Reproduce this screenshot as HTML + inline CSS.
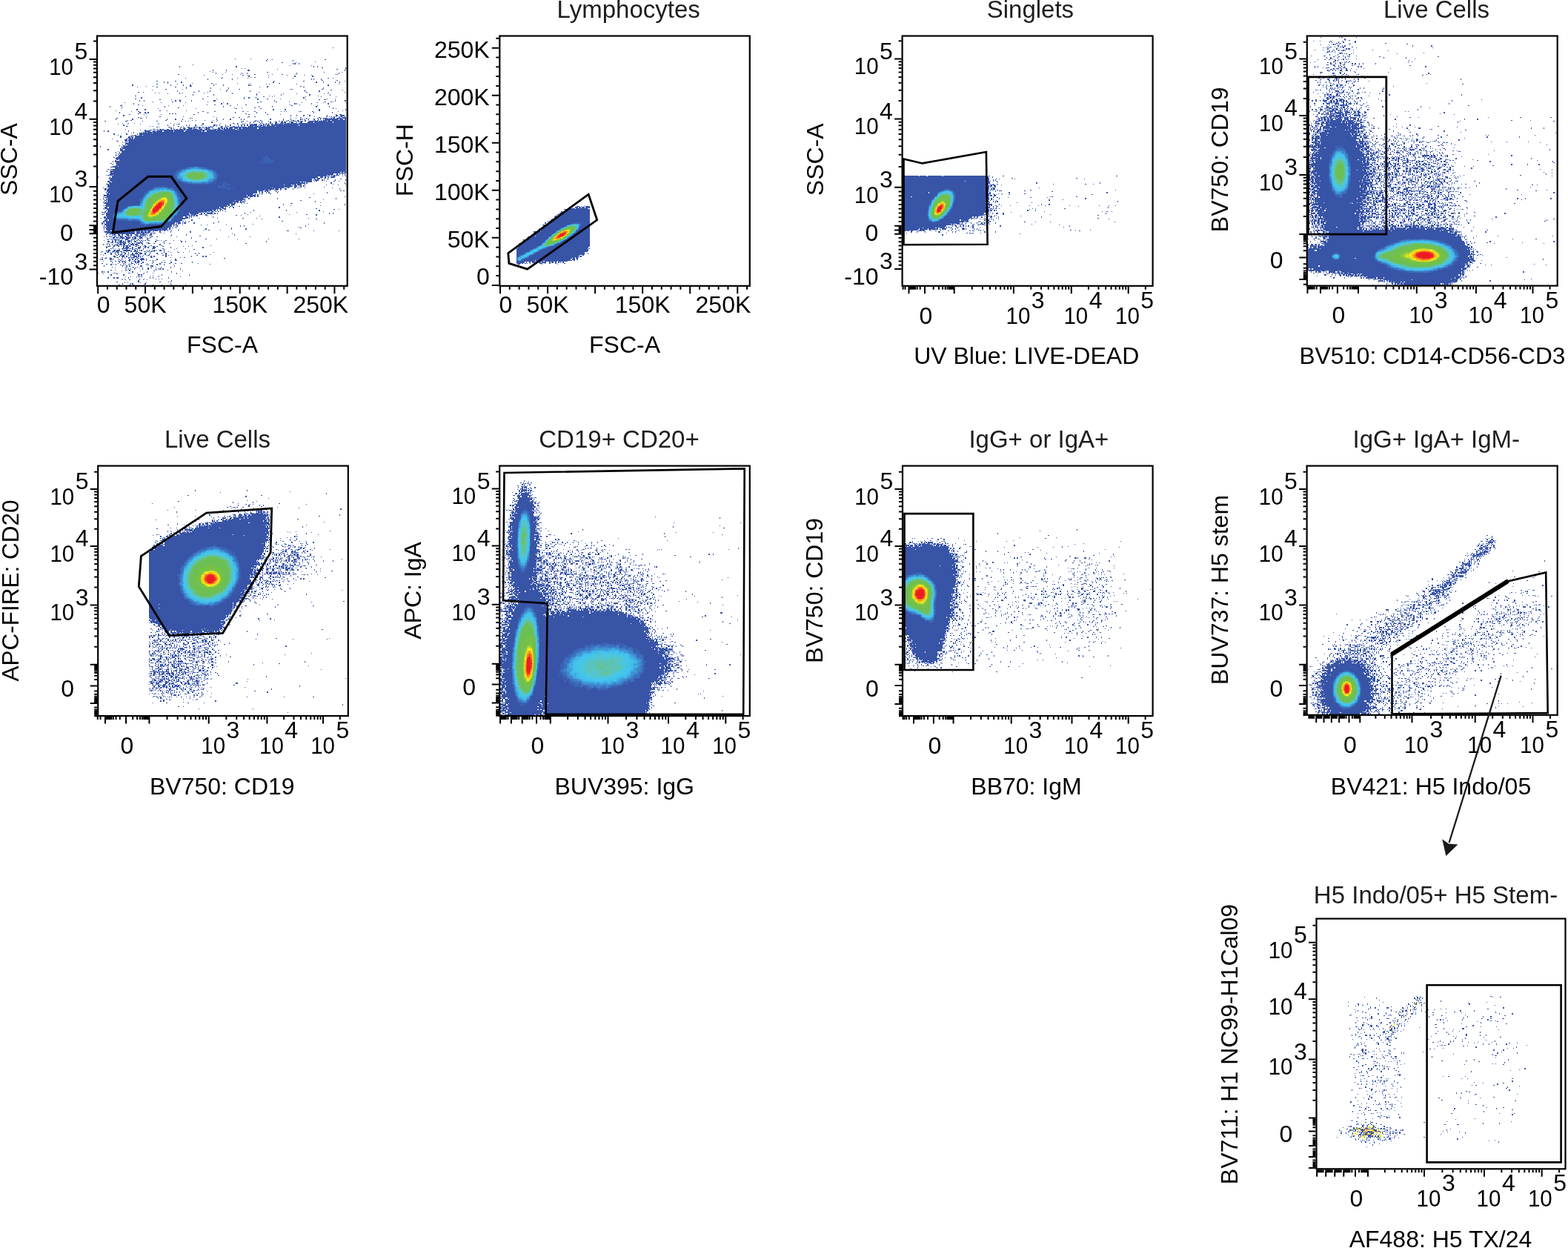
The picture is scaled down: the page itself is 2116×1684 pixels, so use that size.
<!DOCTYPE html>
<html><head><meta charset="utf-8"><title>Flow cytometry gating</title>
<style>html,body{margin:0;padding:0;background:#fff}svg{display:block}text{font-family:'Liberation Sans', Arial, Helvetica, sans-serif;font-size:32px}</style>
</head><body>
<svg xmlns="http://www.w3.org/2000/svg" width="2116" height="1684" viewBox="0 0 2116 1684">
<g transform="translate(132.1 49.6) scale(1.32)" shape-rendering="crispEdges" fill="none" stroke-width="1">
<path stroke="#3854a6" d="M240 11.5h1M140 22.5h1m15 0h1M173 23.5h1m4 0h1m53 0h1M172 24.5h1m26 0h1M222 25.5h1M188 26.5h1m13 0h1M199 27.5h1m1 0h1m3 0h1M97 28.5h1M196 29.5h1m21 0h1M83 30.5h1m57 0h1m78 0h1m3 0h1M229 31.5h1m23 0h1M147 32.5h1m2 0h1m102 0h1M183 33.5h1m60 0h1m8 0h1M117 34.5h1m13 0h1m21 0h2m97 0h1M114 35.5h1M117 36.5h1m12 0h1m42 0h1m57 0h1m17 0h1M120 37.5h1m26 0h1m4 0h1m50 0h1m42 0h1M82 38.5h1m44 0h1m9 0h1m7 0h1m14 0h1m17 0h1m9 0h1m13 0h1m39 0h1m1 0h1M108 39.5h1m39 0h1m4 0h1m20 0h1m18 0h1m17 0h1m6 0h1M154 40.5h1m46 0h1m17 0h1M127 41.5h1m28 0h1m3 0h1m13 0h1M89 42.5h1m36 0h1m15 0h1m10 0h1m45 0h1m35 0h1m4 0h1M112 43.5h1m24 0h1m80 0h1m1 0h1m7 0h1M229 44.5h1m14 0h1M60 45.5h1m18 0h1m100 0h1m29 0h1m41 0h1M67 46.5h1m3 0h1m13 0h1m93 0h1m43 0h1m6 0h1m11 0h1m4 0h1M71 47.5h1m24 0h1m19 0h1m25 0h1m12 0h1m29 0h1M60 48.5h1m20 0h1m38 0h1m51 0h1m2 0h1m27 0h1m42 0h1M35 49.5h1m38 0h1m12 0h1m6 0h1m23 0h1m9 0h1m25 0h1m1 0h1m78 0h1M49 50.5h1m6 0h1m37 0h2m77 0h1m33 0h1M40 51.5h1m19 0h1m18 0h1m10 0h1m74 0h1m7 0h1m36 0h1M90 52.5h1m24 0h1m17 0h1m96 0h1M69 53.5h1m16 0h1m38 0h1m18 0h1m51 0h1m1 0h1m30 0h1M55 54.5h1m76 0h1m78 0h1m26 0h1m11 0h1M81 55.5h1m21 0h1m10 0h1m16 0h1m23 0h1m55 0h1m14 0h1M41 56.5h1m4 0h1m51 0h1m13 0h1m51 0h1m48 0h1m38 0h1M58 57.5h1m3 0h1m20 0h1m2 0h1m21 0h1m28 0h1m97 0h1M71 58.5h1m11 0h1m53 0h1m24 0h1m26 0h1m13 0h1m27 0h1M97 59.5h1m20 0h1m43 0h1m24 0h1m28 0h1m20 0h1M38 60.5h1m136 0h1m4 0h1m44 0h1M89 61.5h1m22 0h1m56 0h1m8 0h1m33 0h1m15 0h1m14 0h1M44 62.5h1m104 0h1m4 0h1m6 0h1m48 0h1M38 63.5h1m68 0h1m13 0h1m27 0h1m13 0h1m9 0h1m12 0h1m47 0h1m7 0h1M63 64.5h1m11 0h1m7 0h1m79 0h1m48 0h1m13 0h1m4 0h2M42 65.5h1m4 0h1m31 0h1m3 0h2m10 0h1m22 0h2m60 0h1m61 0h1m9 0h2M56 66.5h1m19 0h1m7 0h1m27 0h1m53 0h1m15 0h1m12 0h1m36 0h1m5 0h1m1 0h1M27 67.5h1m36 0h1m24 0h1m38 0h1m34 0h1m44 0h1m15 0h1m5 0h1M36 68.5h1m89 0h1m5 0h1m68 0h1m1 0h1m14 0h1m16 0h1M24 69.5h1m16 0h1m69 0h1m7 0h1m22 0h1m8 0h1m44 0h1m9 0h1M23 70.5h1m21 0h1m26 0h1m14 0h1m47 0h1m62 0h1m25 0h1M12 71.5h1m11 0h1m43 0h1m59 0h1m35 0h1m13 0h1m44 0h1m12 0h1M82 72.5h1m56 0h1m7 0h1m12 0h1m79 0h1M24 73.5h1m36 0h1m38 0h1m40 0h1m24 0h1m73 0h1m2 0h1M39 74.5h2m7 0h1m130 0h1m11 0h1m34 0h1m26 0h1M18 75.5h1m44 0h1m6 0h1m19 0h1m135 0h1m23 0h1M34 76.5h1m6 0h1m65 0h1m11 0h1m28 0h1m4 0h1m6 0h1m26 0h1m2 0h1m1 0h1m12 0h1m1 0h1m11 0h1m25 0h1M22 77.5h1m19 0h2m4 0h1m2 0h1m50 0h1m9 0h1m27 0h1m21 0h1m8 0h1m48 0h1m18 0h1M41 78.5h1m7 0h1m23 0h1m2 0h1m2 0h1m71 0h1M32 79.5h1m14 0h1m16 0h1m33 0h1m55 0h1m18 0h1m12 0h1m27 0h1m28 0h1m3 0h2M26 80.5h1m170 0h1m5 0h1m6 0h1m5 0h1m17 0h1m8 0h2m3 0h4M49 81.5h1m13 0h1m23 0h1m30 0h1m35 0h1m5 0h1m60 0h1m11 0h2m1 0h1m1 0h1m2 0h1m1 0h1m2 0h1m1 0h2m2 0h1M41 82.5h1m79 0h1m16 0h1m5 0h1m8 0h1m43 0h1m9 0h1m18 0h1m12 0h1m1 0h1m4 0h2m1 0h5M19 83.5h1m23 0h2m4 0h1m44 0h1m1 0h1m105 0h1m10 0h1m10 0h2m1 0h2m1 0h5m1 0h1m1 0h1m1 0h2m2 0h5m1 0h4M18 84.5h1m16 0h1m34 0h1m8 0h1m6 0h1m34 0h1m6 0h1m6 0h1m10 0h1m2 0h1m26 0h1m12 0h1m7 0h1m9 0h1m1 0h1m1 0h1m3 0h1m4 0h2m3 0h1m1 0h1m2 0h1m1 0h14m1 0h4m1 0h2M30 85.5h1m2 0h2m34 0h1m26 0h1m3 0h1m8 0h1m7 0h1m4 0h1m38 0h1m4 0h1m22 0h1m4 0h1m3 0h3m3 0h1m6 0h2m2 0h1m4 0h1m1 0h1m1 0h2m2 0h1m1 0h8m1 0h15M7 86.5h1m20 0h2m15 0h1m14 0h1m24 0h1m3 0h1m2 0h1m28 0h1m24 0h1m1 0h1m3 0h1m7 0h2m1 0h1m3 0h1m6 0h1m10 0h1m2 0h1m3 0h2m2 0h1m3 0h3m1 0h2m1 0h3m1 0h2m3 0h9m1 0h8m1 0h19M116 87.5h1m30 0h1m7 0h1m3 0h1m5 0h1m1 0h1m8 0h1m4 0h2m4 0h2m1 0h2m3 0h1m1 0h3m3 0h1m1 0h1m1 0h2m5 0h6m1 0h19m1 0h13M25 88.5h1m5 0h1m5 0h1m23 0h1m12 0h1m3 0h1m28 0h1m17 0h1m12 0h1m3 0h2m6 0h1m4 0h1m10 0h1m1 0h1m3 0h1m1 0h1m1 0h1m1 0h1m2 0h2m1 0h1m1 0h4m1 0h1m1 0h3m1 0h7m1 0h49M20 89.5h1m9 0h1m12 0h1m18 0h1m17 0h1m1 0h2m23 0h1m31 0h1m2 0h1m5 0h1m3 0h1m2 0h1m1 0h1m1 0h4m2 0h1m3 0h1m1 0h2m1 0h1m2 0h2m2 0h3m1 0h4m1 0h64M26 90.5h1m44 0h1m5 0h1m12 0h1m2 0h1m5 0h2m5 0h1m11 0h2m1 0h1m2 0h1m5 0h1m4 0h1m7 0h1m2 0h2m1 0h2m1 0h2m1 0h8m1 0h1m1 0h2m1 0h1m1 0h1m1 0h3m1 0h28m1 0h48M29 91.5h2m22 0h1m2 0h1m25 0h1m4 0h1m12 0h1m14 0h1m1 0h2m2 0h1m4 0h2m2 0h1m1 0h2m4 0h2m3 0h1m3 0h1m1 0h1m4 0h5m1 0h4m1 0h2m1 0h4m1 0h8m1 0h72M60 92.5h1m1 0h1m9 0h2m11 0h1m5 0h3m4 0h2m1 0h1m1 0h2m2 0h1m2 0h1m2 0h4m8 0h2m3 0h2m3 0h17m1 0h101M74 93.5h2m1 0h1m6 0h1m2 0h2m3 0h5m1 0h1m1 0h1m2 0h2m1 0h1m1 0h1m1 0h4m3 0h1m5 0h2m1 0h2m1 0h1m1 0h2m1 0h4m1 0h4m1 0h3m1 0h15m1 0h90M28 94.5h1m27 0h3m1 0h1m2 0h2m1 0h1m3 0h3m2 0h1m2 0h1m1 0h2m1 0h4m1 0h8m1 0h5m2 0h3m3 0h2m1 0h2m2 0h1m1 0h7m1 0h13m2 0h112M43 95.5h1m4 0h1m4 0h2m6 0h1m1 0h26m2 0h30m1 0h6m1 0h14m1 0h110M6 96.5h1m3 0h1m20 0h1m16 0h6m2 0h3m1 0h6m1 0h10m1 0h10m1 0h17m1 0h2m2 0h143M36 97.5h1m8 0h2m1 0h2m1 0h203M34 98.5h1m1 0h1m5 0h3m1 0h9m1 0h198M16 99.5h1m12 0h1m10 0h1m1 0h212M20 100.5h1m14 0h1m1 0h2m3 0h3m1 0h208M23 101.5h1m9 0h2m1 0h1m1 0h216M23 102.5h1m7 0h2m1 0h2m2 0h216M30 103.5h4m1 0h1m1 0h217M14 104.5h1m14 0h1m2 0h4m1 0h217M27 105.5h3m1 0h223M19 106.5h2m7 0h2m1 0h223M25 107.5h1m2 0h1m1 0h1m1 0h222M27 108.5h1m1 0h1m1 0h223M28 109.5h226M25 110.5h1m2 0h1m1 0h224M22 111.5h1m3 0h2m1 0h225M2 112.5h1m21 0h1m1 0h228M24 113.5h230M23 114.5h1m1 0h229M10 115.5h1m12 0h3m1 0h227M23 116.5h231M20 117.5h1m3 0h230M18 118.5h1m3 0h1m1 0h230M20 119.5h1m1 0h232M18 120.5h1m1 0h1m2 0h231M18 121.5h1m2 0h233M20 122.5h234M16 123.5h1m2 0h235M18 124.5h236M19 125.5h2m1 0h232M17 126.5h2m3 0h232M15 127.5h1m1 0h237M19 128.5h235M13 129.5h1m4 0h236M15 130.5h1m3 0h235M18 131.5h236M15 132.5h5m1 0h233M13 133.5h241M17 134.5h237M10 135.5h1m2 0h241M12 136.5h1m2 0h239M9 137.5h1m3 0h241M12 138.5h3m1 0h232m1 0h2m1 0h2M13 139.5h241M12 140.5h229m3 0h1m2 0h1m2 0h1m1 0h1M8 141.5h1m1 0h5m1 0h218m1 0h2m1 0h2m1 0h1m1 0h4m5 0h1M14 142.5h221m1 0h1m3 0h3m7 0h1m2 0h1M0 143.5h1m11 0h1m1 0h211m2 0h3m2 0h1m2 0h1m2 0h4M11 144.5h212m1 0h3m1 0h1m2 0h2M11 145.5h1m1 0h206m2 0h2m1 0h3m7 0h2m12 0h1M12 146.5h207m1 0h1m1 0h4m3 0h1m1 0h1m10 0h1m10 0h1M10 147.5h2m1 0h206m2 0h1m1 0h1m9 0h1m7 0h1m4 0h1M10 148.5h3m1 0h193m1 0h2m1 0h1m1 0h6M11 149.5h201m1 0h1m24 0h1m13 0h1M8 150.5h3m1 0h191m1 0h4m3 0h1m28 0h1m12 0h1M10 151.5h180m1 0h7m1 0h1m1 0h2m1 0h4m3 0h1m21 0h1m11 0h1M10 152.5h189m2 0h3m1 0h1m1 0h1m2 0h1M10 153.5h180m1 0h6m4 0h2m4 0h1m23 0h1M5 154.5h1m5 0h167m1 0h12m3 0h1m6 0h1m2 0h1m1 0h1m4 0h1m27 0h1M7 155.5h2m1 0h170m1 0h4m1 0h2m3 0h2m6 0h1m47 0h1M7 156.5h1m1 0h161m1 0h3m2 0h1m3 0h1m1 0h2m2 0h1M9 157.5h154m1 0h5m1 0h6m5 0h1m66 0h1m2 0h1M9 158.5h154m1 0h2m1 0h2m1 0h2m1 0h1m8 0h1m1 0h1M8 159.5h1m1 0h153m2 0h1m1 0h2m3 0h1m1 0h2m7 0h1m50 0h1M9 160.5h2m1 0h147m6 0h1m1 0h1m8 0h1m43 0h1M6 161.5h1m2 0h149m2 0h2m1 0h1m3 0h1M6 162.5h146m1 0h8m2 0h1M5 163.5h1m3 0h145m1 0h3m2 0h1m2 0h1m88 0h1M7 164.5h147m1 0h1m60 0h1M5 165.5h1m2 0h1m1 0h139m1 0h1m3 0h1m28 0h1m59 0h1M2 166.5h1m3 0h1m1 0h143m79 0h1M7 167.5h2m1 0h130m1 0h7m2 0h1m56 0h1M6 168.5h1m1 0h1m1 0h134m1 0h2m1 0h1m1 0h1m71 0h1M5 169.5h1m1 0h131m1 0h2m1 0h2m1 0h3m1 0h1m77 0h1M6 170.5h135m6 0h1m1 0h1m2 0h1m44 0h2M8 171.5h127m1 0h4m49 0h1m62 0h1M5 172.5h1m1 0h125m1 0h2m1 0h2m59 0h1m29 0h1M8 173.5h125m2 0h1m1 0h1m6 0h1M7 174.5h3m1 0h113m1 0h4m1 0h1m3 0h1m3 0h1m46 0h1M5 175.5h1m1 0h119m1 0h4m92 0h1M6 176.5h1m2 0h112m1 0h1m1 0h3m2 0h2m110 0h1m4 0h1M8 177.5h1m1 0h107m1 0h2m2 0h1m2 0h1m1 0h1m31 0h1m32 0h1m33 0h1M7 178.5h1m2 0h102m1 0h1m2 0h2m2 0h1m2 0h1m6 0h1m99 0h1M4 179.5h2m1 0h1m2 0h96m1 0h1m2 0h1m1 0h1m1 0h1m1 0h1m1 0h1m37 0h1m46 0h1M6 180.5h1m1 0h85m1 0h9m2 0h2m1 0h2m1 0h6m2 0h1m2 0h1m27 0h1m85 0h1m3 0h1M4 181.5h2m2 0h86m1 0h6m3 0h3m3 0h1m6 0h1m35 0h1m41 0h1m17 0h1m9 0h1M8 182.5h86m1 0h2m1 0h1m1 0h2m8 0h2m29 0h1m4 0h1m76 0h1M8 183.5h83m2 0h3m1 0h2m1 0h2m10 0h1m52 0h1M6 184.5h2m1 0h78m2 0h3m1 0h1m1 0h1m21 0h1m67 0h1M3 185.5h1m2 0h86m1 0h1m9 0h1m18 0h1m25 0h1m13 0h1m52 0h1M8 186.5h81m78 0h1m55 0h1M7 187.5h3m1 0h75m9 0h2M5 188.5h80m1 0h2m1 0h1m3 0h1m94 0h1M5 189.5h2m1 0h76m5 0h1m2 0h1m30 0h1M4 190.5h1m1 0h1m1 0h71m1 0h1m1 0h3m1 0h1m1 0h2m8 0h1m19 0h1m112 0h1M4 191.5h1m2 0h71m2 0h1m1 0h1m75 0h1m56 0h1M7 192.5h69m1 0h4m5 0h1m18 0h1m5 0h1m19 0h1M6 193.5h1m1 0h68m1 0h1m2 0h2m63 0h1m3 0h1m62 0h1M5 194.5h1m1 0h1m1 0h65m5 0h1m125 0h1M6 195.5h1m1 0h64m1 0h2m1 0h1m3 0h1m55 0h1m70 0h1M6 196.5h1m1 0h63m2 0h1m36 0h1m25 0h1m14 0h1M9 197.5h56m1 0h4m1 0h1m2 0h1m7 0h1m25 0h1m4 0h1m11 0h1M6 198.5h1m1 0h1m1 0h3m1 0h32m1 0h3m1 0h4m1 0h5m2 0h1m1 0h1m1 0h2m2 0h1m3 0h1m117 0h2m25 0h1m25 0h1M7 199.5h31m1 0h4m1 0h3m1 0h2m1 0h3m2 0h1m6 0h1m10 0h1m19 0h1M9 200.5h29m1 0h13m2 0h1m2 0h2m5 0h1m2 0h1M8 201.5h2m2 0h26m1 0h3m1 0h1m1 0h3m1 0h1m4 0h1m1 0h1m80 0h1m64 0h1M8 202.5h1m3 0h1m1 0h1m1 0h2m2 0h3m1 0h2m3 0h3m1 0h2m3 0h3m2 0h6m1 0h1m2 0h2m20 0h1m14 0h1m48 0h1M14 203.5h1m3 0h1m2 0h3m1 0h1m2 0h1m1 0h3m1 0h1m4 0h5m2 0h1m5 0h1m2 0h1m18 0h1m29 0h1M6 204.5h1m1 0h2m1 0h3m2 0h3m1 0h1m2 0h3m1 0h3m1 0h1m1 0h1m2 0h3m1 0h1m1 0h4m2 0h1m5 0h2m4 0h1m19 0h1m52 0h1m21 0h1M15 205.5h2m2 0h1m1 0h1m1 0h4m2 0h4m2 0h1m1 0h2m3 0h3m5 0h1m2 0h1m41 0h1M9 206.5h1m1 0h1m1 0h1m1 0h1m1 0h1m4 0h1m2 0h1m1 0h5m4 0h3m1 0h1m2 0h1m1 0h1m4 0h2m7 0h1m50 0h1m10 0h1m52 0h1m30 0h1M10 207.5h1m3 0h1m1 0h6m2 0h1m3 0h3m3 0h3m4 0h1m8 0h1m91 0h1M6 208.5h1m7 0h1m2 0h2m1 0h1m1 0h3m3 0h1m1 0h3m1 0h1m2 0h1m1 0h2m1 0h1m1 0h1m1 0h1m1 0h1m2 0h2m7 0h1m1 0h1m1 0h1m4 0h1m7 0h1m6 0h1M10 209.5h2m2 0h2m1 0h2m1 0h1m1 0h3m1 0h1m1 0h1m1 0h3m1 0h1m2 0h2m4 0h1m1 0h1m12 0h2m7 0h1m17 0h1m3 0h1m10 0h1m71 0h1M13 210.5h3m1 0h1m1 0h2m1 0h7m2 0h1m2 0h1m4 0h6m4 0h1m1 0h1m15 0h1M10 211.5h1m9 0h2m1 0h1m2 0h3m3 0h1m2 0h1m1 0h1m1 0h1m1 0h2m1 0h2m5 0h3m3 0h1m9 0h1m5 0h1m77 0h1M5 212.5h1m3 0h1m1 0h1m2 0h1m2 0h1m1 0h1m2 0h3m1 0h2m3 0h1m1 0h4m1 0h3m4 0h1m17 0h1M12 213.5h1m3 0h2m1 0h3m4 0h1m1 0h3m1 0h1m3 0h1m2 0h1m1 0h1m5 0h2m5 0h1m10 0h1m30 0h1m18 0h1M8 214.5h1m1 0h3m3 0h1m3 0h2m2 0h1m1 0h1m2 0h2m1 0h2m4 0h2m3 0h1m2 0h1m1 0h2m2 0h1m3 0h2m2 0h1m5 0h1m20 0h1m4 0h1M8 215.5h2m5 0h1m10 0h1m1 0h4m3 0h1m5 0h3m4 0h1m2 0h1m4 0h3m15 0h1m32 0h1M13 216.5h1m1 0h1m1 0h1m3 0h1m2 0h7m1 0h2m1 0h1m2 0h2m1 0h2m3 0h1m8 0h3m8 0h1m13 0h1m8 0h1M11 217.5h1m10 0h1m2 0h1m3 0h1m5 0h1m1 0h1m2 0h1m5 0h1m20 0h1m10 0h1m19 0h1M8 218.5h1m1 0h3m3 0h2m1 0h4m3 0h7m1 0h1m2 0h2m1 0h1m1 0h1m1 0h1m5 0h1m1 0h1m2 0h1m1 0h1m1 0h1m3 0h2m2 0h1M4 219.5h1m3 0h1m1 0h1m3 0h3m1 0h3m2 0h2m4 0h1m3 0h2m1 0h5m6 0h2m2 0h1m2 0h2m1 0h1m9 0h1m4 0h1m8 0h1m11 0h1M3 220.5h1m5 0h2m1 0h1m2 0h1m1 0h1m1 0h3m2 0h1m1 0h2m3 0h1m7 0h1m1 0h1m1 0h1m5 0h1m3 0h1m13 0h1m6 0h1m7 0h1m4 0h1m30 0h1M7 221.5h1m5 0h1m3 0h1m2 0h1m3 0h1m2 0h2m2 0h1m3 0h1m2 0h3m1 0h3m3 0h1m4 0h1m6 0h1m4 0h1m3 0h1m29 0h1m3 0h1M3 222.5h1m9 0h1m4 0h1m1 0h2m1 0h2m2 0h1m2 0h1m2 0h5m1 0h1m1 0h1m1 0h1m4 0h1m3 0h1m8 0h1m7 0h1m44 0h1M5 223.5h1m13 0h1m3 0h1m1 0h2m4 0h1m1 0h1m1 0h3m3 0h1m4 0h1m2 0h1m1 0h2m13 0h1m2 0h1m2 0h1m2 0h1m25 0h1M16 224.5h2m4 0h1m1 0h3m2 0h1m3 0h1m2 0h4m1 0h1m1 0h1m1 0h1m8 0h1m2 0h1m11 0h1m25 0h1m11 0h1m2 0h1M4 225.5h1m3 0h1m3 0h1m4 0h1m1 0h2m4 0h1m1 0h1m3 0h2m1 0h4m1 0h2m2 0h1m10 0h2m18 0h1m9 0h1m3 0h1M7 226.5h2m3 0h2m11 0h1m2 0h1m2 0h1m2 0h1m1 0h1m2 0h1m1 0h1m2 0h3m82 0h1M2 227.5h1m1 0h1m7 0h2m1 0h1m5 0h1m2 0h1m7 0h1m2 0h1m2 0h1m1 0h1m2 0h5m1 0h1m10 0h1m18 0h1M23 228.5h1m4 0h1m2 0h2m4 0h1m3 0h1m2 0h1m4 0h1m3 0h1m2 0h1m1 0h1m8 0h1m6 0h1m4 0h2M5 229.5h1m7 0h1m3 0h2m1 0h3m1 0h4m4 0h1m3 0h3m1 0h3m13 0h1M14 230.5h1m7 0h1m2 0h1m1 0h2m5 0h1m3 0h1m1 0h2m3 0h2m9 0h1m8 0h1m2 0h1m5 0h2m20 0h1M4 231.5h1m15 0h1m5 0h1m7 0h2m3 0h1m4 0h1m5 0h1m4 0h1m7 0h1m9 0h1m5 0h1m5 0h1m16 0h1M8 232.5h2m3 0h1m1 0h1m2 0h1m9 0h1m2 0h2m1 0h1m2 0h1m3 0h1m8 0h1m9 0h1m2 0h1m3 0h1m9 0h1m36 0h1M13 233.5h1m4 0h1m4 0h1m2 0h1m10 0h1m11 0h1m1 0h1m8 0h1m6 0h1M6 234.5h1m18 0h1m3 0h1m2 0h1m10 0h2m9 0h3m21 0h1M14 235.5h1m13 0h1m6 0h2m3 0h1m18 0h1m4 0h1m9 0h1M17 236.5h1m11 0h1m8 0h1m3 0h1m2 0h1m5 0h1m2 0h1m9 0h1m9 0h1M28 237.5h1m2 0h1m1 0h1m3 0h1m7 0h1m5 0h1m7 0h1m1 0h1m1 0h1m2 0h1m17 0h1M13 238.5h1m3 0h1m11 0h1m2 0h1m26 0h1m11 0h1M24 239.5h1m3 0h1m3 0h1m10 0h1m13 0h1m28 0h1M4 240.5h1m1 0h1m3 0h1m24 0h1m14 0h1m24 0h1M0 241.5h1m15 0h1m1 0h1m12 0h2m7 0h1m6 0h1m8 0h1m23 0h1M5 242.5h1m13 0h1m26 0h1m33 0h1M13 243.5h1m12 0h1m14 0h2m1 0h1m20 0h1m27 0h1M53 244.5h1m2 0h1m5 0h1M28 245.5h1m4 0h1m5 0h1m1 0h2m1 0h1m16 0h1m22 0h1M10 246.5h1m5 0h1m2 0h2m10 0h1m21 0h1m2 0h1m15 0h1M25 247.5h1m1 0h1m14 0h1m4 0h1m11 0h1m2 0h1m2 0h1M24 248.5h1m3 0h1m3 0h1m9 0h1m3 0h1m3 0h1M41 249.5h1m33 0h1M19 250.5h1m21 0h1m21 0h1m8 0h1m1 0h1M27 251.5h1m2 0h1m12 0h1m5 0h1M25 252.5h1m7 0h1m1 0h1m12 0h1m25 0h1M21 253.5h2m9 0h1m3 0h1m10 0h1m8 0h1m8 0h1m9 0h1m13 0h1"/>
<path stroke="#3a62b3" d="M172 121.5h1M171 122.5h3m5 0h1M169 123.5h5M169 124.5h7M169 125.5h8M169 126.5h9m1 0h1M166 127.5h1m2 0h11M166 128.5h12M167 129.5h1m3 0h1m2 0h3M171 130.5h1M99 132.5h5M92 133.5h17M86 134.5h27M84 135.5h33M83 136.5h36M80 137.5h41M79 138.5h43M79 139.5h43M78 140.5h45M78 141.5h46M78 142.5h46M78 143.5h45M78 144.5h45M79 145.5h43M80 146.5h42M82 147.5h38M85 148.5h36M87 149.5h30m2 0h1m8 0h3M93 150.5h19m1 0h3m11 0h4m1 0h3M114 151.5h1m12 0h9M61 152.5h1m4 0h2m55 0h3m1 0h4m2 0h1M58 153.5h14m51 0h10m4 0h2M57 154.5h20m47 0h12m2 0h1M55 155.5h23m53 0h5M52 156.5h27m54 0h1M51 157.5h29M49 158.5h32M48 159.5h34M48 160.5h35M47 161.5h36M46 162.5h37M46 163.5h37M45 164.5h39M43 165.5h42M43 166.5h42M43 167.5h42M43 168.5h42M43 169.5h42M43 170.5h41M41 171.5h44M35 172.5h50M30 173.5h55M29 174.5h56M27 175.5h57M25 176.5h59M24 177.5h60M18 178.5h65M17 179.5h66M16 180.5h66M16 181.5h66M15 182.5h66M15 183.5h64M15 184.5h63M16 185.5h62M16 186.5h61M19 187.5h57M32 188.5h1m6 0h36M42 189.5h31M43 190.5h27M44 191.5h21M47 192.5h3"/>
<path stroke="#3c70c0" d="M94 133.5h3m1 0h6M91 134.5h19M86 135.5h27M84 136.5h33M83 137.5h36M81 138.5h39M80 139.5h41M80 140.5h41M79 141.5h43M79 142.5h43M80 143.5h42M80 144.5h42M80 145.5h41M82 146.5h37M85 147.5h33M87 148.5h30M92 149.5h22M106 150.5h1M61 153.5h3m1 0h3M58 154.5h14M56 155.5h21M53 156.5h25M52 157.5h27M51 158.5h29M50 159.5h31M49 160.5h32M48 161.5h34M48 162.5h34M46 163.5h37M46 164.5h37M45 165.5h39M44 166.5h40M44 167.5h39M43 168.5h40M43 169.5h40M43 170.5h40M42 171.5h42M36 172.5h48M31 173.5h53M29 174.5h55M28 175.5h55M26 176.5h57M25 177.5h58M24 178.5h59M18 179.5h64M17 180.5h64M16 181.5h65M16 182.5h64M16 183.5h62M16 184.5h62M16 185.5h61M17 186.5h59M30 187.5h6m1 0h38M42 188.5h32M43 189.5h29M44 190.5h25M47 191.5h5m5 0h1m2 0h3"/>
<path stroke="#3e84cc" d="M99 133.5h3M93 134.5h12M90 135.5h21M86 136.5h30M85 137.5h32M83 138.5h36M82 139.5h37M82 140.5h38M81 141.5h40M81 142.5h39M81 143.5h39M81 144.5h40M82 145.5h38M85 146.5h33M86 147.5h31M90 148.5h24M93 149.5h1m3 0h10m3 0h2M58 154.5h3m1 0h8M57 155.5h18M55 156.5h23M53 157.5h25M52 158.5h27M51 159.5h29M50 160.5h30M49 161.5h32M48 162.5h33M47 163.5h35M47 164.5h36M46 165.5h37M45 166.5h37M45 167.5h37M44 168.5h39M44 169.5h39M44 170.5h39M43 171.5h40M38 172.5h2m2 0h41M32 173.5h51M30 174.5h53M28 175.5h55M27 176.5h56M26 177.5h56M25 178.5h57M19 179.5h1m2 0h59M17 180.5h64M16 181.5h64M16 182.5h63M16 183.5h62M16 184.5h61M17 185.5h59M22 186.5h3m1 0h50M32 187.5h1m8 0h34M43 188.5h31M44 189.5h26M45 190.5h22M48 191.5h2"/>
<path stroke="#3f98d7" d="M95 134.5h8M91 135.5h18M87 136.5h1m1 0h24M86 137.5h30M85 138.5h33M83 139.5h35M83 140.5h35M82 141.5h37M82 142.5h37M82 143.5h37M82 144.5h37M85 145.5h33M86 146.5h31M87 147.5h27M91 148.5h22M58 155.5h13M57 156.5h19M54 157.5h24M52 158.5h27M52 159.5h27M51 160.5h29M49 161.5h31M49 162.5h31M48 163.5h33M47 164.5h35M47 165.5h35M46 166.5h36M46 167.5h36M45 168.5h37M45 169.5h37M44 170.5h38M44 171.5h39M43 172.5h39M33 173.5h49M30 174.5h52M29 175.5h53M27 176.5h55M26 177.5h56M26 178.5h55M24 179.5h57M18 180.5h62M17 181.5h63M17 182.5h61M17 183.5h60M17 184.5h60M18 185.5h58M31 186.5h44M43 187.5h32M44 188.5h29M45 189.5h24M48 190.5h10m2 0h3"/>
<path stroke="#41abe1" d="M100 134.5h1M94 135.5h12M90 136.5h22M87 137.5h27M86 138.5h31M84 139.5h33M83 140.5h34M83 141.5h34M83 142.5h35M84 143.5h34M83 144.5h35M86 145.5h30M86 146.5h27M90 147.5h23M93 148.5h1m2 0h10m5 0h1M64 155.5h2m1 0h3M58 156.5h16M55 157.5h22M53 158.5h25M52 159.5h27M51 160.5h28M50 161.5h29M49 162.5h31M49 163.5h31M48 164.5h33M47 165.5h34M47 166.5h34M46 167.5h35M46 168.5h36M45 169.5h37M45 170.5h37M44 171.5h38M44 172.5h38M35 173.5h47M31 174.5h50M29 175.5h52M28 176.5h53M27 177.5h54M26 178.5h55M26 179.5h54M22 180.5h58M17 181.5h62M17 182.5h61M17 183.5h60M17 184.5h59M27 185.5h2m2 0h45M32 186.5h1m8 0h34M44 187.5h30M45 188.5h27M46 189.5h22M48 190.5h5"/>
<path stroke="#42bbea" d="M95 135.5h10M90 136.5h20M89 137.5h24M87 138.5h28M85 139.5h31M84 140.5h33M84 141.5h33M84 142.5h33M86 143.5h32M86 144.5h30M86 145.5h28M87 146.5h26M91 147.5h21M97 148.5h8M59 156.5h2m1 0h12M56 157.5h20M54 158.5h23M53 159.5h25M52 160.5h27M51 161.5h28M50 162.5h30M49 163.5h31M49 164.5h31M48 165.5h33M47 166.5h34M47 167.5h34M46 168.5h35M46 169.5h36M45 170.5h37M45 171.5h37M45 172.5h36M36 173.5h5m1 0h39M31 174.5h50M30 175.5h51M28 176.5h53M27 177.5h54M26 178.5h55M26 179.5h54M24 180.5h55M18 181.5h60M18 182.5h59M17 183.5h60M18 184.5h58M32 185.5h43M42 186.5h33M44 187.5h30M45 188.5h26M47 189.5h21M49 190.5h1"/>
<path stroke="#42c0ec" d="M96 135.5h2m2 0h2M91 136.5h18M90 137.5h23M88 138.5h26M86 139.5h29M85 140.5h31M84 141.5h32M85 142.5h32M86 143.5h31M86 144.5h29M87 145.5h26M88 146.5h24M93 147.5h16M64 156.5h7M58 157.5h17M55 158.5h22M53 159.5h25M52 160.5h26M51 161.5h28M50 162.5h29M50 163.5h30M49 164.5h31M49 165.5h31M48 166.5h32M47 167.5h34M47 168.5h34M46 169.5h35M46 170.5h35M45 171.5h36M45 172.5h36M37 173.5h3m5 0h36M32 174.5h48M30 175.5h50M29 176.5h51M28 177.5h53M27 178.5h53M26 179.5h54M26 180.5h53M22 181.5h56M19 182.5h58M19 183.5h57M25 184.5h1m1 0h3m1 0h45M37 185.5h2m2 0h34M44 186.5h30M45 187.5h28M46 188.5h24M48 189.5h18"/>
<path stroke="#43c6ee" d="M95 136.5h12M90 137.5h22M89 138.5h24M87 139.5h28M85 140.5h31M85 141.5h31M86 142.5h30M87 143.5h29M87 144.5h27M87 145.5h25M90 146.5h21M95 147.5h11m1 0h1M67 156.5h3M61 157.5h13M56 158.5h20M54 159.5h23M53 160.5h25M52 161.5h26M51 162.5h28M50 163.5h29M50 164.5h30M49 165.5h31M48 166.5h32M47 167.5h33M47 168.5h33M47 169.5h34M46 170.5h35M46 171.5h35M46 172.5h35M45 173.5h35M32 174.5h48M30 175.5h50M29 176.5h51M28 177.5h52M27 178.5h53M27 179.5h52M26 180.5h52M26 181.5h51M21 182.5h4m1 0h51M22 183.5h54M28 184.5h1m3 0h44M42 185.5h33M44 186.5h30M45 187.5h28M46 188.5h23M48 189.5h10m2 0h2"/>
<path stroke="#4bc6de" d="M96 136.5h3m1 0h6M91 137.5h19M90 138.5h22M88 139.5h26M87 140.5h28M86 141.5h29M87 142.5h28M87 143.5h27M88 144.5h25M89 145.5h23M92 146.5h17M97 147.5h8M62 157.5h12M58 158.5h17M56 159.5h21M54 160.5h24M53 161.5h25M51 162.5h27M51 163.5h28M50 164.5h29M49 165.5h30M49 166.5h31M48 167.5h32M48 168.5h32M47 169.5h33M47 170.5h33M47 171.5h33M46 172.5h34M46 173.5h33M33 174.5h10m2 0h34M31 175.5h49M29 176.5h51M28 177.5h52M27 178.5h52M27 179.5h51M27 180.5h50M27 181.5h50M27 182.5h49M28 183.5h48M34 184.5h1m2 0h2m3 0h33M44 185.5h30M45 186.5h29M46 187.5h26M47 188.5h21M49 189.5h4"/>
<path stroke="#53c5ce" d="M95 137.5h14M91 138.5h20M90 139.5h22M88 140.5h25M87 141.5h27M88 142.5h26M88 143.5h25M89 144.5h23M90 145.5h21M94 146.5h14M65 157.5h5M61 158.5h13M57 159.5h19M55 160.5h22M54 161.5h24M53 162.5h25M51 163.5h27M51 164.5h28M50 165.5h29M49 166.5h30M48 167.5h31M48 168.5h31M48 169.5h32M47 170.5h33M47 171.5h33M47 172.5h32M46 173.5h33M34 174.5h7m5 0h33M31 175.5h48M30 176.5h49M29 177.5h50M28 178.5h51M27 179.5h51M27 180.5h50M27 181.5h49M28 182.5h48M31 183.5h44M43 184.5h32M45 185.5h29M45 186.5h28M46 187.5h25M48 188.5h19"/>
<path stroke="#5ac4ba" d="M96 137.5h3m1 0h6M92 138.5h18M91 139.5h20M90 140.5h22M89 141.5h23M89 142.5h24M89 143.5h23M90 144.5h22M92 145.5h16M96 146.5h10M67 157.5h1M62 158.5h12M58 159.5h17M56 160.5h21M55 161.5h22M54 162.5h23M52 163.5h25M51 164.5h27M50 165.5h29M50 166.5h29M49 167.5h30M49 168.5h30M48 169.5h31M48 170.5h31M48 171.5h31M47 172.5h32M47 173.5h32M36 174.5h4m7 0h32M32 175.5h12m2 0h33M30 176.5h49M29 177.5h50M28 178.5h50M28 179.5h49M28 180.5h48M28 181.5h48M29 182.5h47M33 183.5h6m5 0h31M45 184.5h29M45 185.5h29M46 186.5h27M47 187.5h23M49 188.5h12m3 0h2"/>
<path stroke="#61c39e" d="M94 138.5h15M92 139.5h18M90 140.5h21M90 141.5h21M90 142.5h22M90 143.5h22M91 144.5h20M94 145.5h13M100 146.5h4M65 158.5h8M59 159.5h16M58 160.5h18M55 161.5h22M54 162.5h23M53 163.5h24M52 164.5h25M51 165.5h27M50 166.5h28M49 167.5h29M49 168.5h29M49 169.5h29M49 170.5h30M49 171.5h29M48 172.5h30M47 173.5h31M47 174.5h31M32 175.5h11m4 0h31M31 176.5h15m2 0h30M30 177.5h48M29 178.5h48M28 179.5h48M28 180.5h48M29 181.5h47M30 182.5h12m2 0h31M45 183.5h30M45 184.5h29M46 185.5h27M46 186.5h26M48 187.5h21M49 188.5h6"/>
<path stroke="#67c181" d="M96 138.5h10M92 139.5h17M91 140.5h19M91 141.5h19M90 142.5h21M91 143.5h20M93 144.5h15M95 145.5h11M66 158.5h3M61 159.5h13M58 160.5h18M56 161.5h20M55 162.5h21M54 163.5h23M52 164.5h25M51 165.5h26M51 166.5h27M50 167.5h27M50 168.5h28M50 169.5h28M50 170.5h28M49 171.5h29M48 172.5h30M48 173.5h30M48 174.5h30M33 175.5h9m6 0h30M31 176.5h13m4 0h30M30 177.5h15m3 0h29M29 178.5h48M29 179.5h47M28 180.5h17m1 0h29M29 181.5h14m3 0h29M32 182.5h8m6 0h29M46 183.5h28M46 184.5h28M46 185.5h27M47 186.5h25M48 187.5h20M50 188.5h3"/>
<path stroke="#6cc067" d="M97 138.5h1M93 139.5h14M92 140.5h16M91 141.5h18M91 142.5h18M92 143.5h16M94 144.5h13M97 145.5h7M62 159.5h2m1 0h8M59 160.5h16M58 161.5h18M55 162.5h21M54 163.5h22M53 164.5h23M52 165.5h25M51 166.5h26M51 167.5h26M50 168.5h27M50 169.5h27M50 170.5h28M50 171.5h28M49 172.5h29M48 173.5h30M49 174.5h28M33 175.5h7m9 0h28M32 176.5h11m6 0h28M31 177.5h13m5 0h28M30 178.5h14m4 0h28M29 179.5h14m4 0h28M29 180.5h13m5 0h28M30 181.5h12m5 0h28M33 182.5h6m7 0h28M46 183.5h28M46 184.5h27M46 185.5h27M47 186.5h24M48 187.5h19"/>
<path stroke="#6cbf54" d="M95 139.5h11M93 140.5h14M92 141.5h17M92 142.5h16M93 143.5h15M95 144.5h11M101 145.5h1M65 159.5h8M60 160.5h15M58 161.5h17M56 162.5h20M55 163.5h21M54 164.5h22M52 165.5h24M52 166.5h24M51 167.5h26M51 168.5h26M50 169.5h27M50 170.5h27M50 171.5h27M50 172.5h27M49 173.5h28M49 174.5h28M34 175.5h6m9 0h28M32 176.5h11m6 0h28M31 177.5h12m6 0h27M30 178.5h13m5 0h28M29 179.5h13m6 0h27M29 180.5h13m5 0h28M31 181.5h10m6 0h27M47 182.5h27M47 183.5h27M47 184.5h26M47 185.5h25M47 186.5h23M49 187.5h10m5 0h2"/>
<path stroke="#75c147" d="M66 161.5h6M65 162.5h8M61 163.5h12M59 164.5h15M57 165.5h17M56 166.5h18M55 167.5h19M55 168.5h19M55 169.5h19M54 170.5h20M54 171.5h20M53 172.5h21M53 173.5h21M52 174.5h21M52 175.5h21M52 176.5h20M51 177.5h21M51 178.5h21M50 179.5h21M50 180.5h21M49 181.5h22M49 182.5h21M49 183.5h21M49 184.5h19M49 185.5h13m2 0h2M50 186.5h6"/>
<path stroke="#80c442" d="M68 163.5h1M65 164.5h6M63 165.5h9M61 166.5h11M60 167.5h12M59 168.5h12M58 169.5h13M57 170.5h13M56 171.5h14M56 172.5h14M55 173.5h14M54 174.5h15M54 175.5h14M53 176.5h14M53 177.5h13M52 178.5h13M52 179.5h13M51 180.5h13M51 181.5h12M51 182.5h10M51 183.5h9M51 184.5h6"/>
<path stroke="#a1cf37" d="M66 164.5h4M64 165.5h7M62 166.5h9M61 167.5h10M59 168.5h12M58 169.5h13M57 170.5h13M57 171.5h13M56 172.5h13M55 173.5h14M55 174.5h13M54 175.5h13M54 176.5h12M53 177.5h12M53 178.5h12M52 179.5h12M52 180.5h11M51 181.5h11M51 182.5h9M51 183.5h8M52 184.5h3"/>
<path stroke="#c2da2d" d="M67 164.5h2M64 165.5h6M62 166.5h9M61 167.5h10M60 168.5h11M59 169.5h11M58 170.5h12M57 171.5h12M56 172.5h13M56 173.5h12M55 174.5h12M54 175.5h13M54 176.5h12M54 177.5h11M53 178.5h11M52 179.5h11M52 180.5h10M52 181.5h9M52 182.5h8M52 183.5h6"/>
<path stroke="#dee422" d="M65 165.5h5M63 166.5h7M62 167.5h8M61 168.5h9M59 169.5h11M58 170.5h11M57 171.5h12M57 172.5h11M56 173.5h12M55 174.5h12M55 175.5h11M54 176.5h11M54 177.5h10M53 178.5h11M53 179.5h10M52 180.5h10M52 181.5h8M52 182.5h7M52 183.5h5"/>
<path stroke="#fbee16" d="M66 165.5h3M64 166.5h6M62 167.5h8M61 168.5h9M60 169.5h9M59 170.5h10M58 171.5h10M57 172.5h11M56 173.5h11M56 174.5h11M55 175.5h11M55 176.5h10M54 177.5h10M54 178.5h9M53 179.5h9M53 180.5h8M52 181.5h8M52 182.5h6M53 183.5h2"/>
<path stroke="#fad818" d="M65 166.5h4M63 167.5h6M61 168.5h8M60 169.5h9M59 170.5h9M58 171.5h10M57 172.5h11M57 173.5h10M56 174.5h10M55 175.5h10M55 176.5h9M54 177.5h10M54 178.5h9M53 179.5h9M53 180.5h8M53 181.5h6M53 182.5h5"/>
<path stroke="#fac119" d="M66 166.5h2M63 167.5h6M62 168.5h7M61 169.5h8M60 170.5h8M59 171.5h9M58 172.5h9M57 173.5h10M56 174.5h10M56 175.5h9M55 176.5h9M55 177.5h8M54 178.5h8M54 179.5h7M53 180.5h7M53 181.5h6M54 182.5h3"/>
<path stroke="#f9ab1b" d="M64 167.5h4M62 168.5h6M61 169.5h7M60 170.5h8M59 171.5h8M58 172.5h9M57 173.5h9M57 174.5h9M56 175.5h9M55 176.5h9M55 177.5h8M54 178.5h8M54 179.5h7M54 180.5h6M54 181.5h4"/>
<path stroke="#f7951d" d="M65 167.5h2M63 168.5h5M61 169.5h7M60 170.5h8M59 171.5h8M58 172.5h9M58 173.5h8M57 174.5h8M56 175.5h8M55 176.5h8M55 177.5h8M55 178.5h7M54 179.5h6M54 180.5h5M54 181.5h3"/>
<path stroke="#f48020" d="M63 168.5h4M62 169.5h5M61 170.5h6M60 171.5h7M59 172.5h7M58 173.5h8M57 174.5h8M56 175.5h8M56 176.5h7M55 177.5h7M55 178.5h6M55 179.5h5M55 180.5h4"/>
<path stroke="#f26a22" d="M64 168.5h3M62 169.5h5M61 170.5h6M60 171.5h7M59 172.5h7M58 173.5h7M57 174.5h8M57 175.5h7M56 176.5h7M56 177.5h6M55 178.5h6M55 179.5h5M55 180.5h3"/>
<path stroke="#f04323" d="M63 169.5h4M61 170.5h6M61 171.5h5M59 172.5h7M58 173.5h7M58 174.5h6M57 175.5h6M56 176.5h7M56 177.5h5M56 178.5h4M56 179.5h3"/>
<path stroke="#ed1c24" d="M64 169.5h1M62 170.5h4M61 171.5h5M60 172.5h5M59 173.5h5M58 174.5h6M57 175.5h6M57 176.5h5M56 177.5h5M56 178.5h4M57 179.5h1"/>
</g>
<path d="M152.3 313.7 159 271.4 199.8 238.3 231 238.3 251.8 267.7 217.6 305.6Z" fill="none" stroke="#000" stroke-width="3" stroke-linejoin="miter"/>
<rect x="131" y="48.5" width="337.7" height="337.3" fill="none" stroke="#000" stroke-width="2.2"/>
<path d="M130 310h-9.5M130 309.42h-4M130 310.54h-4M130 308.84h-4M130 311.07h-4M130 308.26h-4M130 311.61h-4M130 307.68h-4M130 312.14h-4M130 307.1h-4M130 312.68h-4M130 306.52h-4M130 313.21h-4M130 305.94h-4M130 313.75h-4M130 305.36h-4M130 314.28h-4M130 304.78h-4M130 314.81h-4M130 304.2h-9.5M130 315.35h-9.5M130 298.4h-4M130 320.7h-4M130 292.6h-4M130 326.05h-4M130 286.8h-4M130 331.4h-4M130 281h-4M130 336.75h-4M130 275.2h-4M130 342.1h-4M130 269.4h-4M130 347.45h-4M130 263.6h-4M130 352.8h-4M130 257.8h-4M130 358.15h-4M130 252h-9.5M130 363.5h-9.5M130 224.52h-4M130 208.44h-4M130 197.03h-4M130 188.18h-4M130 180.95h-4M130 174.84h-4M130 169.55h-4M130 164.88h-4M130 160.7h-9.5M130 136.38h-4M130 122.15h-4M130 112.05h-4M130 104.22h-4M130 97.83h-4M130 92.42h-4M130 87.73h-4M130 83.6h-4M130 79.9h-9.5M130 55.58h-4M130 55.58h-4M132.2 386.8v9.5M144.97 386.8v4M157.74 386.8v4M170.51 386.8v4M183.28 386.8v4M196.05 386.8v9.5M208.82 386.8v4M221.59 386.8v4M234.36 386.8v4M247.13 386.8v4M259.9 386.8v9.5M272.67 386.8v4M285.44 386.8v4M298.21 386.8v4M310.98 386.8v4M323.75 386.8v9.5M336.52 386.8v4M349.29 386.8v4M362.06 386.8v4M374.83 386.8v4M387.6 386.8v9.5M400.37 386.8v4M413.14 386.8v4M425.91 386.8v4M438.68 386.8v4M451.45 386.8v9.5M464.22 386.8v4" stroke="#000" stroke-width="2" fill="none"/>
<text x="99" y="100.7" text-anchor="end" textLength="32.8" lengthAdjust="spacingAndGlyphs">10</text>
<text x="100.5" y="80.1">5</text>
<text x="99" y="181.5" text-anchor="end" textLength="32.8" lengthAdjust="spacingAndGlyphs">10</text>
<text x="100.5" y="160.9">4</text>
<text x="99" y="272.8" text-anchor="end" textLength="32.8" lengthAdjust="spacingAndGlyphs">10</text>
<text x="100.5" y="252.2">3</text>
<text x="98.8" y="324.5" text-anchor="end">0</text>
<text x="99" y="384.3" text-anchor="end">-10</text>
<text x="100.5" y="363.7">3</text>
<text x="130.7" y="421.8">0</text>
<text x="196.05" y="421.8" text-anchor="middle">50K</text>
<text x="323.75" y="421.8" text-anchor="middle">150K</text>
<text x="470.2" y="421.8" text-anchor="end">250K</text>
<text x="300" y="476.3" text-anchor="middle">FSC-A</text>
<text x="22.9" y="215" text-anchor="middle" transform="rotate(-90 22.9 215)">SSC-A</text>
<g transform="translate(675.4 49.6) scale(1.32)" shape-rendering="crispEdges" fill="none" stroke-width="1">
<path stroke="#3854a6" d="M85 172.5h1M74 173.5h1m3 0h3m1 0h1m4 0h4M70 174.5h2m4 0h3m1 0h2m1 0h3m1 0h4M69 175.5h7m1 0h12M65 176.5h26M66 177.5h25M62 178.5h1m1 0h27M62 179.5h2m1 0h26M60 180.5h31M58 181.5h33M57 182.5h1m1 0h32M56 183.5h1m1 0h33M55 184.5h36M55 185.5h36M53 186.5h38M51 187.5h2m1 0h37M48 188.5h1m1 0h41M48 189.5h1m1 0h41M45 190.5h2m2 0h42M47 191.5h44M43 192.5h48M44 193.5h47M42 194.5h2m1 0h46M41 195.5h2m1 0h47M39 196.5h3m1 0h48M39 197.5h52M39 198.5h1m1 0h50M34 199.5h57M35 200.5h56M36 201.5h55M32 202.5h1m1 0h57M30 203.5h5m1 0h55M28 204.5h1m1 0h61M28 205.5h63M27 206.5h64M23 207.5h2m1 0h65M23 208.5h1m1 0h66M24 209.5h67M23 210.5h68M19 211.5h72M19 212.5h72M18 213.5h1m1 0h71M18 214.5h73M18 215.5h72M16 216.5h73m1 0h1M16 217.5h74M16 218.5h74M16 219.5h73M16 220.5h70M16 221.5h70m3 0h1M16 222.5h70M16 223.5h65m3 0h1M16 224.5h64m1 0h2M16 225.5h60m1 0h3M16 226.5h57m1 0h2m1 0h2M16 227.5h56m1 0h3m2 0h1M16 228.5h19m1 0h37m2 0h1M16 229.5h28m1 0h13m1 0h10M16 230.5h9m1 0h1m2 0h2m1 0h3m1 0h1m2 0h2m1 0h5m3 0h1m1 0h2m2 0h1m2 0h1m1 0h1m1 0h2M16 231.5h5m1 0h1m2 0h1m1 0h1m2 0h1m4 0h2m3 0h3m2 0h1m4 0h1m5 0h1m8 0h1M18 232.5h2m22 0h1m15 0h1M18 233.5h1"/>
<path stroke="#3a62b3" d="M74 190.5h8M71 191.5h11M69 192.5h13M66 193.5h16M64 194.5h17M62 195.5h19M61 196.5h19M59 197.5h20M57 198.5h21M56 199.5h21M55 200.5h21M53 201.5h22M52 202.5h22M51 203.5h21M49 204.5h22M48 205.5h21M47 206.5h21M47 207.5h19M46 208.5h19M44 209.5h19M43 210.5h18M42 211.5h17M41 212.5h16M39 213.5h15M37 214.5h14M35 215.5h14M33 216.5h13M32 217.5h11M30 218.5h11M28 219.5h11M26 220.5h12M24 221.5h12M22 222.5h12M20 223.5h12M18 224.5h12M17 225.5h11M17 226.5h9M17 227.5h7M17 228.5h5M18 229.5h2"/>
<path stroke="#3c70c0" d="M72 191.5h10M69 192.5h13M67 193.5h14M65 194.5h16M63 195.5h17M61 196.5h19M59 197.5h20M58 198.5h20M56 199.5h21M55 200.5h21M54 201.5h21M52 202.5h21M51 203.5h21M50 204.5h20M49 205.5h20M48 206.5h20M47 207.5h19M46 208.5h18M45 209.5h18M44 210.5h17M43 211.5h15M41 212.5h15M40 213.5h14M38 214.5h13M36 215.5h12M34 216.5h11M33 217.5h10M30 218.5h10M29 219.5h10M27 220.5h10M25 221.5h10M23 222.5h10M21 223.5h10M19 224.5h10M18 225.5h10M17 226.5h8M17 227.5h6M17 228.5h5"/>
<path stroke="#3e84cc" d="M73 191.5h8M70 192.5h11M67 193.5h14M65 194.5h16M63 195.5h17M62 196.5h17M60 197.5h18M58 198.5h20M57 199.5h20M55 200.5h20M54 201.5h20M53 202.5h20M52 203.5h20M50 204.5h20M49 205.5h20M48 206.5h19M47 207.5h19M46 208.5h18M45 209.5h17M44 210.5h16M43 211.5h15M42 212.5h14M40 213.5h13M39 214.5h11M37 215.5h10M35 216.5h9M33 217.5h9M31 218.5h9M29 219.5h9M27 220.5h9M25 221.5h9M24 222.5h9M22 223.5h8M20 224.5h9M18 225.5h9M17 226.5h8M17 227.5h5M17 228.5h4"/>
<path stroke="#3f98d7" d="M74 191.5h6M71 192.5h10M68 193.5h12M65 194.5h15M64 195.5h16M62 196.5h17M60 197.5h18M58 198.5h19M57 199.5h19M56 200.5h19M54 201.5h20M53 202.5h20M52 203.5h19M51 204.5h19M49 205.5h20M48 206.5h19M47 207.5h18M47 208.5h17M46 209.5h16M45 210.5h15M44 211.5h13M42 212.5h13M41 213.5h11M39 214.5h10M38 215.5h9M36 216.5h7M34 217.5h7M31 218.5h8M30 219.5h7M28 220.5h7M26 221.5h8M24 222.5h8M22 223.5h8M20 224.5h8M18 225.5h8M18 226.5h6M17 227.5h5M18 228.5h2"/>
<path stroke="#41abe1" d="M75 191.5h2M71 192.5h9M68 193.5h12M66 194.5h14M64 195.5h15M62 196.5h17M60 197.5h18M59 198.5h18M57 199.5h19M56 200.5h19M54 201.5h20M53 202.5h19M52 203.5h19M51 204.5h19M50 205.5h18M49 206.5h18M48 207.5h17M47 208.5h16M46 209.5h15M45 210.5h14M44 211.5h13M43 212.5h12M41 213.5h11M39 214.5h10M38 215.5h7M36 216.5h7M34 217.5h6M32 218.5h6M30 219.5h7M29 220.5h6M26 221.5h8M25 222.5h6M23 223.5h6M21 224.5h7M19 225.5h7M18 226.5h5M18 227.5h3"/>
<path stroke="#42bbea" d="M72 192.5h8M69 193.5h11M66 194.5h13M64 195.5h15M62 196.5h16M60 197.5h17M59 198.5h18M57 199.5h19M56 200.5h19M55 201.5h19M53 202.5h19M52 203.5h19M51 204.5h18M50 205.5h18M49 206.5h18M48 207.5h17M47 208.5h16M46 209.5h15M45 210.5h14M44 211.5h13M43 212.5h11M42 213.5h9M40 214.5h8M38 215.5h6M37 216.5h5M34 217.5h6M33 218.5h5M31 219.5h5M29 220.5h6M27 221.5h6M25 222.5h5M24 223.5h5M22 224.5h5M19 225.5h6M18 226.5h4M18 227.5h3"/>
<path stroke="#42c0ec" d="M72 192.5h7M69 193.5h10M66 194.5h13M64 195.5h15M63 196.5h15M61 197.5h16M59 198.5h17M57 199.5h19M56 200.5h19M55 201.5h18M53 202.5h19M52 203.5h19M51 204.5h18M50 205.5h18M49 206.5h17M48 207.5h17M47 208.5h16M46 209.5h15M46 210.5h13M44 211.5h12M43 212.5h11M42 213.5h9M40 214.5h8M39 215.5h4M38 216.5h4M35 217.5h4M34 218.5h4M31 219.5h5M30 220.5h4M27 221.5h5M26 222.5h4M24 223.5h5M23 224.5h4M21 225.5h3M19 226.5h3M18 227.5h2"/>
<path stroke="#43c6ee" d="M73 192.5h5M69 193.5h10M67 194.5h12M64 195.5h14M63 196.5h15M61 197.5h16M59 198.5h17M58 199.5h17M56 200.5h18M55 201.5h18M54 202.5h18M52 203.5h18M51 204.5h18M50 205.5h18M49 206.5h17M48 207.5h16M47 208.5h16M47 209.5h14M46 210.5h12M45 211.5h11M44 212.5h10M43 213.5h7M41 214.5h7M39 215.5h4M38 216.5h3M36 217.5h2M34 218.5h3M32 219.5h3M30 220.5h4M28 221.5h2M26 222.5h3M25 223.5h3M19 226.5h1"/>
<path stroke="#4bc6de" d="M73 192.5h4M70 193.5h8M67 194.5h11M65 195.5h13M63 196.5h14M61 197.5h16M59 198.5h17M58 199.5h17M56 200.5h18M55 201.5h18M54 202.5h18M53 203.5h17M52 204.5h17M51 205.5h16M49 206.5h17M48 207.5h16M48 208.5h14M47 209.5h13M46 210.5h12M45 211.5h11M44 212.5h9M43 213.5h7M43 214.5h4M40 215.5h1M27 222.5h2"/>
<path stroke="#53c5ce" d="M70 193.5h8M67 194.5h11M65 195.5h13M63 196.5h14M61 197.5h15M60 198.5h16M58 199.5h17M57 200.5h17M55 201.5h18M54 202.5h17M53 203.5h17M52 204.5h17M51 205.5h16M50 206.5h16M49 207.5h15M48 208.5h14M47 209.5h13M46 210.5h12M45 211.5h10M44 212.5h9M44 213.5h5"/>
<path stroke="#5ac4ba" d="M71 193.5h6M68 194.5h10M65 195.5h12M64 196.5h13M62 197.5h14M60 198.5h15M58 199.5h17M57 200.5h17M55 201.5h17M54 202.5h17M53 203.5h17M52 204.5h17M51 205.5h16M50 206.5h15M49 207.5h15M48 208.5h14M47 209.5h13M47 210.5h10M46 211.5h9M45 212.5h7M45 213.5h4"/>
<path stroke="#61c39e" d="M72 193.5h4M68 194.5h9M65 195.5h12M64 196.5h13M62 197.5h14M60 198.5h15M59 199.5h15M57 200.5h16M56 201.5h16M54 202.5h17M53 203.5h17M52 204.5h16M51 205.5h16M50 206.5h15M49 207.5h14M48 208.5h14M47 209.5h12M47 210.5h10M46 211.5h9M45 212.5h7M45 213.5h3"/>
<path stroke="#67c181" d="M72 193.5h4M68 194.5h9M66 195.5h11M64 196.5h12M62 197.5h14M60 198.5h15M59 199.5h15M57 200.5h16M56 201.5h16M55 202.5h16M53 203.5h16M52 204.5h16M51 205.5h16M50 206.5h15M49 207.5h14M48 208.5h13M48 209.5h11M47 210.5h10M46 211.5h8M46 212.5h5M46 213.5h2"/>
<path stroke="#6cc067" d="M73 193.5h2M69 194.5h7M66 195.5h10M64 196.5h12M62 197.5h14M61 198.5h14M59 199.5h15M57 200.5h16M56 201.5h16M55 202.5h15M54 203.5h15M53 204.5h15M52 205.5h14M50 206.5h15M49 207.5h14M49 208.5h12M48 209.5h11M47 210.5h9M47 211.5h7M46 212.5h4"/>
<path stroke="#6cbf54" d="M69 194.5h7M66 195.5h10M64 196.5h12M62 197.5h13M61 198.5h14M59 199.5h15M57 200.5h16M56 201.5h16M55 202.5h15M54 203.5h15M53 204.5h15M52 205.5h14M51 206.5h14M50 207.5h13M49 208.5h12M48 209.5h11M47 210.5h9M47 211.5h7M46 212.5h4"/>
<path stroke="#75c147" d="M69 195.5h5M66 196.5h8M64 197.5h10M62 198.5h11M60 199.5h12M59 200.5h12M57 201.5h13M56 202.5h13M55 203.5h13M54 204.5h12M53 205.5h12M52 206.5h11M51 207.5h10M50 208.5h9M50 209.5h6M49 210.5h5"/>
<path stroke="#80c442" d="M68 196.5h4M65 197.5h7M63 198.5h9M62 199.5h9M60 200.5h10M58 201.5h11M57 202.5h11M56 203.5h11M55 204.5h10M54 205.5h10M53 206.5h9M52 207.5h8M52 208.5h5"/>
<path stroke="#a1cf37" d="M66 197.5h5M63 198.5h8M62 199.5h9M60 200.5h10M59 201.5h10M57 202.5h11M56 203.5h10M55 204.5h10M54 205.5h9M54 206.5h7M53 207.5h6M53 208.5h3"/>
<path stroke="#c2da2d" d="M66 197.5h5M64 198.5h7M62 199.5h8M60 200.5h10M59 201.5h10M58 202.5h10M56 203.5h10M55 204.5h10M55 205.5h8M54 206.5h7M53 207.5h5"/>
<path stroke="#dee422" d="M67 197.5h3M64 198.5h7M62 199.5h8M61 200.5h8M59 201.5h9M58 202.5h9M57 203.5h9M56 204.5h9M55 205.5h8M54 206.5h7M54 207.5h4"/>
<path stroke="#fbee16" d="M68 197.5h2M65 198.5h5M63 199.5h7M61 200.5h8M59 201.5h9M58 202.5h9M57 203.5h9M56 204.5h8M55 205.5h8M55 206.5h5M55 207.5h2"/>
<path stroke="#fad818" d="M65 198.5h5M63 199.5h7M61 200.5h8M60 201.5h8M58 202.5h9M57 203.5h9M56 204.5h8M55 205.5h7M55 206.5h5"/>
<path stroke="#fac119" d="M66 198.5h4M63 199.5h6M61 200.5h7M60 201.5h8M58 202.5h9M57 203.5h8M56 204.5h8M56 205.5h6M55 206.5h4"/>
<path stroke="#f9ab1b" d="M66 198.5h3M63 199.5h6M62 200.5h6M60 201.5h7M59 202.5h7M58 203.5h7M57 204.5h6M56 205.5h6M56 206.5h3"/>
<path stroke="#f7951d" d="M64 199.5h4M62 200.5h6M60 201.5h7M59 202.5h7M58 203.5h7M57 204.5h6M56 205.5h5M57 206.5h1"/>
<path stroke="#f48020" d="M64 199.5h4M62 200.5h6M61 201.5h6M59 202.5h7M58 203.5h7M57 204.5h6M57 205.5h4"/>
<path stroke="#f26a22" d="M65 199.5h2M63 200.5h4M61 201.5h6M60 202.5h6M58 203.5h6M57 204.5h5M57 205.5h3"/>
<path stroke="#f04323" d="M63 200.5h4M61 201.5h5M60 202.5h5M59 203.5h5M58 204.5h4"/>
<path stroke="#ed1c24" d="M64 200.5h2M62 201.5h4M60 202.5h5M59 203.5h4M59 204.5h2"/>
</g>
<path d="M685.8 341.7 794.2 262.2 805.7 296.8 711.7 363.2 686.9 355.4Z" fill="none" stroke="#000" stroke-width="2.8" stroke-linejoin="miter"/>
<rect x="674.3" y="48.5" width="337.5" height="337.3" fill="none" stroke="#000" stroke-width="2.2"/>
<path d="M673.3 384.9h-9.5M673.3 372.09h-4M673.3 359.28h-4M673.3 346.47h-4M673.3 333.66h-4M673.3 320.85h-9.5M673.3 308.04h-4M673.3 295.23h-4M673.3 282.42h-4M673.3 269.61h-4M673.3 256.8h-9.5M673.3 243.99h-4M673.3 231.18h-4M673.3 218.37h-4M673.3 205.56h-4M673.3 192.75h-9.5M673.3 179.94h-4M673.3 167.13h-4M673.3 154.32h-4M673.3 141.51h-4M673.3 128.7h-9.5M673.3 115.89h-4M673.3 103.08h-4M673.3 90.27h-4M673.3 77.46h-4M673.3 64.65h-9.5M673.3 51.84h-4M675 386.8v9.5M687.81 386.8v4M700.62 386.8v4M713.43 386.8v4M726.24 386.8v4M739.05 386.8v9.5M751.86 386.8v4M764.67 386.8v4M777.48 386.8v4M790.29 386.8v4M803.1 386.8v9.5M815.91 386.8v4M828.72 386.8v4M841.53 386.8v4M854.34 386.8v4M867.15 386.8v9.5M879.96 386.8v4M892.77 386.8v4M905.58 386.8v4M918.39 386.8v4M931.2 386.8v9.5M944.01 386.8v4M956.82 386.8v4M969.63 386.8v4M982.44 386.8v4M995.25 386.8v9.5M1008.06 386.8v4" stroke="#000" stroke-width="2" fill="none"/>
<text x="660.7" y="383.8" text-anchor="end">0</text>
<text x="660.7" y="334.25" text-anchor="end">50K</text>
<text x="660.7" y="270.2" text-anchor="end">100K</text>
<text x="660.7" y="206.15" text-anchor="end">150K</text>
<text x="660.7" y="142.1" text-anchor="end">200K</text>
<text x="660.7" y="78.05" text-anchor="end">250K</text>
<text x="673.5" y="421.8">0</text>
<text x="739.05" y="421.8" text-anchor="middle">50K</text>
<text x="867.15" y="421.8" text-anchor="middle">150K</text>
<text x="1013.3" y="421.8" text-anchor="end">250K</text>
<text x="848.2" y="23.7" text-anchor="middle" fill="#1e1e1e" style="font-size:33px">Lymphocytes</text>
<text x="843" y="476.4" text-anchor="middle">FSC-A</text>
<text x="556.7" y="216" text-anchor="middle" transform="rotate(-90 556.7 216)">FSC-H</text>
<g transform="translate(1218.7 49.6) scale(1.32)" shape-rendering="crispEdges" fill="none" stroke-width="1">
<path stroke="#3854a6" d="M0 142.5h16m1 0h7m1 0h15m1 0h45m1 0h2m13 0h1m115 0h1M0 143.5h87m4 0h1M0 144.5h88m23 0h1m65 0h1M0 145.5h88m7 0h1m2 0h1m15 0h1m70 0h1M0 146.5h88m4 0h1m1 0h1M0 147.5h63m1 0h24m1 0h1m2 0h1m2 0h1M0 148.5h89m7 0h1M0 149.5h89m47 0h1m64 0h1M0 150.5h87m2 0h1m2 0h1m3 0h1m56 0h1m32 0h1m7 0h1M0 151.5h87m1 0h1m1 0h4m6 0h1M0 152.5h88m1 0h2m2 0h2M0 153.5h88m1 0h1m4 0h1M0 154.5h88m3 0h3m45 0h1M0 155.5h88m2 0h1m1 0h2M0 156.5h87m2 0h1m1 0h2m3 0h1m33 0h1m86 0h1M0 157.5h88m1 0h1m4 0h1m3 0h3m23 0h1M0 158.5h87m7 0h1m57 0h1M0 159.5h26m1 0h60m1 0h2m18 0h1m99 0h1M0 160.5h90m2 0h1m4 0h1m3 0h1m22 0h1M0 161.5h88m1 0h1m3 0h1m1 0h1m4 0h1m7 0h1m84 0h1M0 162.5h88m1 0h2m2 0h2M0 163.5h8m1 0h78m5 0h1m57 0h1m1 0h1m24 0h1M0 164.5h88m4 0h1m3 0h1m10 0h1m22 0h1m16 0h1M0 165.5h88m2 0h1m7 0h1m87 0h1M0 166.5h88m2 0h1m1 0h1m56 0h1m13 0h1M0 167.5h87m2 0h1m5 0h1m53 0h1M0 168.5h88m4 0h1m1 0h1m1 0h1m122 0h1M0 169.5h86m1 0h2m5 0h1m21 0h1m14 0h1M0 170.5h88M0 171.5h91m7 0h1m42 0h1m7 0h1M0 172.5h86m1 0h2m1 0h1m3 0h2m4 0h1m8 0h1m19 0h1m8 0h1m6 0h1m24 0h1m29 0h1m9 0h1m6 0h1M0 173.5h87m1 0h1m3 0h1m3 0h1m82 0h1M0 174.5h89m3 0h1m2 0h1m113 0h1M0 175.5h87m2 0h2m1 0h1m1 0h2m2 0h1m33 0h1m2 0h1m29 0h1M0 176.5h88m1 0h1m1 0h1m37 0h1M0 177.5h88m1 0h2m2 0h1m1 0h1m31 0h1m7 0h1M0 178.5h88m56 0h1m58 0h1m4 0h1m4 0h1M0 179.5h87m2 0h1m20 0h1M0 180.5h83m1 0h1m2 0h1m3 0h1m3 0h2m5 0h1m104 0h1M0 181.5h82m1 0h3m1 0h1m14 0h1m47 0h1M0 182.5h83m12 0h1m103 0h1M0 183.5h78m1 0h1m3 0h1m2 0h3m1 0h1m2 0h1m26 0h1M0 184.5h71m1 0h2m1 0h2m3 0h1m4 0h1m3 0h2m6 0h1m43 0h1M0 185.5h69m1 0h2m2 0h2m7 0h1m11 0h1m103 0h1M0 186.5h68m1 0h2m1 0h1m5 0h1m2 0h1m2 0h1m3 0h1m1 0h1m6 0h1m112 0h1M0 187.5h58m1 0h8m16 0h1m2 0h2m4 0h1M0 188.5h62m1 0h4m11 0h1m5 0h1m1 0h1m1 0h2M0 189.5h63m2 0h1m1 0h1m9 0h1m4 0h1m2 0h1m1 0h1m1 0h1m34 0h1m10 0h1m14 0h1m65 0h1M0 190.5h58m2 0h1m3 0h1m4 0h1m5 0h1m4 0h1m2 0h1m3 0h1m6 0h1M0 191.5h49m1 0h2m3 0h6m2 0h1m8 0h1m5 0h5m5 0h1m42 0h1M0 192.5h51m1 0h2m7 0h1m9 0h1m4 0h2m3 0h1m1 0h1m1 0h1m73 0h1M0 193.5h44m6 0h1m2 0h2m3 0h1m2 0h1m2 0h1m1 0h2m3 0h1m27 0h1m70 0h1M0 194.5h43m1 0h1m1 0h2m6 0h1m1 0h1m2 0h1m9 0h1m1 0h1m14 0h1m77 0h1M0 195.5h20m1 0h12m1 0h2m1 0h6m1 0h1m3 0h2m5 0h1m5 0h1m9 0h1m6 0h1M0 196.5h16m1 0h8m1 0h10m1 0h1m2 0h4m6 0h1m2 0h1m6 0h3m1 0h1m7 0h1m2 0h1M0 197.5h15m2 0h5m1 0h1m3 0h1m3 0h1m5 0h2m10 0h1m6 0h1m20 0h1m1 0h1m2 0h1m2 0h1m85 0h1m4 0h1m14 0h1M0 198.5h3m1 0h2m2 0h2m5 0h4m1 0h2m6 0h1m4 0h1m12 0h1m7 0h1m2 0h1m10 0h1m2 0h2m6 0h1m100 0h1M0 199.5h1m7 0h1m5 0h1m7 0h1m13 0h2m12 0h1m2 0h1m29 0h1m10 0h1M3 200.5h1m40 0h1m20 0h1m2 0h1m2 0h1m7 0h1M69 201.5h1m49 0h1M40 202.5h1m45 0h1"/>
<path stroke="#3a62b3" d="M43 155.5h4M41 156.5h9M39 157.5h12M37 158.5h15M35 159.5h18M35 160.5h18M34 161.5h19M33 162.5h20M32 163.5h21M31 164.5h22M30 165.5h23M29 166.5h24M29 167.5h24M28 168.5h25M27 169.5h25M27 170.5h25M27 171.5h24M26 172.5h25M26 173.5h25M26 174.5h25M25 175.5h25M25 176.5h24M25 177.5h24M25 178.5h23M25 179.5h22M24 180.5h23M24 181.5h22M24 182.5h21M25 183.5h19M25 184.5h18M25 185.5h17M25 186.5h16M26 187.5h12M27 188.5h10M29 189.5h5"/>
<path stroke="#3c70c0" d="M42 156.5h6M40 157.5h10M38 158.5h13M36 159.5h16M35 160.5h17M35 161.5h18M34 162.5h19M32 163.5h21M32 164.5h21M31 165.5h22M30 166.5h23M29 167.5h23M28 168.5h24M28 169.5h24M28 170.5h23M27 171.5h24M27 172.5h24M26 173.5h24M26 174.5h24M26 175.5h24M26 176.5h23M25 177.5h23M25 178.5h23M25 179.5h22M25 180.5h21M25 181.5h20M25 182.5h19M25 183.5h19M26 184.5h16M26 185.5h15M26 186.5h14M27 187.5h10M28 188.5h8M30 189.5h3"/>
<path stroke="#3e84cc" d="M44 156.5h3M41 157.5h8M39 158.5h12M36 159.5h15M36 160.5h15M35 161.5h17M34 162.5h18M33 163.5h19M32 164.5h20M31 165.5h21M30 166.5h22M30 167.5h22M29 168.5h23M28 169.5h23M28 170.5h23M28 171.5h23M27 172.5h23M27 173.5h23M26 174.5h24M26 175.5h23M26 176.5h22M26 177.5h22M26 178.5h21M26 179.5h20M25 180.5h20M25 181.5h20M25 182.5h19M26 183.5h17M26 184.5h16M26 185.5h15M27 186.5h12M27 187.5h10M29 188.5h5M31 189.5h1"/>
<path stroke="#3f98d7" d="M42 157.5h6M40 158.5h10M37 159.5h14M36 160.5h15M35 161.5h16M35 162.5h17M33 163.5h19M32 164.5h20M32 165.5h20M31 166.5h21M30 167.5h22M29 168.5h22M29 169.5h22M29 170.5h22M28 171.5h22M28 172.5h22M27 173.5h23M27 174.5h22M27 175.5h22M26 176.5h22M26 177.5h21M26 178.5h20M26 179.5h20M26 180.5h19M26 181.5h18M26 182.5h17M26 183.5h16M26 184.5h15M27 185.5h13M27 186.5h11M28 187.5h8M30 188.5h3"/>
<path stroke="#41abe1" d="M44 157.5h3M41 158.5h8M38 159.5h12M36 160.5h14M36 161.5h15M35 162.5h17M34 163.5h18M33 164.5h19M32 165.5h19M31 166.5h20M30 167.5h21M30 168.5h21M29 169.5h22M29 170.5h21M29 171.5h21M28 172.5h22M27 173.5h22M27 174.5h22M27 175.5h21M27 176.5h21M27 177.5h20M26 178.5h20M26 179.5h19M26 180.5h19M26 181.5h18M26 182.5h17M26 183.5h16M27 184.5h14M27 185.5h13M28 186.5h9M29 187.5h7M30 188.5h2"/>
<path stroke="#42bbea" d="M42 158.5h6M39 159.5h11M37 160.5h13M36 161.5h14M35 162.5h16M34 163.5h17M33 164.5h18M32 165.5h19M31 166.5h20M31 167.5h20M30 168.5h21M29 169.5h21M29 170.5h21M29 171.5h21M28 172.5h22M28 173.5h21M28 174.5h21M27 175.5h21M27 176.5h20M27 177.5h20M27 178.5h19M26 179.5h19M27 180.5h17M26 181.5h18M26 182.5h17M26 183.5h16M27 184.5h13M27 185.5h12M28 186.5h9M30 187.5h5"/>
<path stroke="#42c0ec" d="M43 158.5h5M40 159.5h9M38 160.5h11M36 161.5h14M35 162.5h16M35 163.5h16M33 164.5h18M32 165.5h19M32 166.5h19M31 167.5h20M30 168.5h20M30 169.5h20M29 170.5h21M29 171.5h21M29 172.5h20M28 173.5h21M28 174.5h21M28 175.5h20M27 176.5h20M27 177.5h19M27 178.5h19M27 179.5h18M27 180.5h17M27 181.5h16M26 182.5h16M27 183.5h14M27 184.5h13M28 185.5h10M29 186.5h8M30 187.5h5"/>
<path stroke="#43c6ee" d="M41 159.5h8M39 160.5h10M37 161.5h12M36 162.5h14M35 163.5h16M34 164.5h17M33 165.5h17M32 166.5h18M31 167.5h19M30 168.5h20M30 169.5h20M30 170.5h20M29 171.5h21M29 172.5h20M28 173.5h21M28 174.5h20M28 175.5h20M28 176.5h19M27 177.5h19M27 178.5h18M27 179.5h18M27 180.5h17M27 181.5h16M27 182.5h15M27 183.5h14M28 184.5h12M28 185.5h10M29 186.5h7M31 187.5h3"/>
<path stroke="#4bc6de" d="M43 159.5h4M39 160.5h10M37 161.5h12M36 162.5h14M35 163.5h15M34 164.5h16M33 165.5h17M32 166.5h18M32 167.5h18M31 168.5h19M30 169.5h19M30 170.5h19M30 171.5h19M29 172.5h20M29 173.5h19M29 174.5h19M28 175.5h19M28 176.5h18M28 177.5h18M27 178.5h18M27 179.5h17M27 180.5h16M27 181.5h16M27 182.5h15M28 183.5h13M28 184.5h11M29 185.5h9M30 186.5h6"/>
<path stroke="#53c5ce" d="M40 160.5h8M38 161.5h10M36 162.5h13M36 163.5h14M35 164.5h15M34 165.5h16M33 166.5h17M32 167.5h18M31 168.5h18M31 169.5h18M30 170.5h19M30 171.5h19M30 172.5h19M29 173.5h19M29 174.5h19M29 175.5h18M28 176.5h18M28 177.5h17M28 178.5h17M28 179.5h16M28 180.5h15M28 181.5h14M28 182.5h13M28 183.5h12M29 184.5h10M29 185.5h8M30 186.5h5"/>
<path stroke="#5ac4ba" d="M41 160.5h6M39 161.5h9M37 162.5h12M36 163.5h13M35 164.5h14M34 165.5h15M33 166.5h16M32 167.5h17M32 168.5h17M31 169.5h18M31 170.5h18M31 171.5h18M30 172.5h18M30 173.5h18M29 174.5h18M29 175.5h18M29 176.5h17M28 177.5h17M28 178.5h16M28 179.5h16M28 180.5h15M28 181.5h14M28 182.5h13M28 183.5h12M29 184.5h9M30 185.5h7M31 186.5h4"/>
<path stroke="#61c39e" d="M40 161.5h7M38 162.5h10M36 163.5h13M36 164.5h13M35 165.5h14M33 166.5h16M33 167.5h16M32 168.5h17M31 169.5h17M31 170.5h17M31 171.5h17M30 172.5h18M30 173.5h18M30 174.5h17M29 175.5h17M29 176.5h16M29 177.5h16M28 178.5h16M28 179.5h15M28 180.5h14M28 181.5h14M28 182.5h13M29 183.5h10M29 184.5h9M30 185.5h6M32 186.5h2"/>
<path stroke="#67c181" d="M40 161.5h6M38 162.5h10M37 163.5h12M36 164.5h13M35 165.5h14M34 166.5h15M33 167.5h16M32 168.5h17M32 169.5h16M31 170.5h17M31 171.5h17M31 172.5h17M30 173.5h17M30 174.5h17M29 175.5h17M29 176.5h16M29 177.5h16M29 178.5h15M28 179.5h15M28 180.5h14M28 181.5h13M29 182.5h11M29 183.5h10M29 184.5h9M30 185.5h6"/>
<path stroke="#6cc067" d="M39 162.5h8M37 163.5h11M36 164.5h12M36 165.5h13M34 166.5h15M33 167.5h16M33 168.5h15M32 169.5h16M32 170.5h16M31 171.5h17M31 172.5h16M30 173.5h17M30 174.5h17M30 175.5h16M29 176.5h16M29 177.5h15M29 178.5h15M29 179.5h14M29 180.5h13M29 181.5h12M29 182.5h11M29 183.5h10M30 184.5h7M31 185.5h4"/>
<path stroke="#6cbf54" d="M40 162.5h6M38 163.5h10M37 164.5h11M36 165.5h12M35 166.5h13M33 167.5h15M33 168.5h15M32 169.5h16M32 170.5h16M31 171.5h16M31 172.5h16M31 173.5h16M30 174.5h16M30 175.5h15M29 176.5h16M29 177.5h15M29 178.5h14M29 179.5h14M29 180.5h13M29 181.5h12M29 182.5h11M29 183.5h10M30 184.5h7M31 185.5h4"/>
<path stroke="#75c147" d="M39 165.5h5M38 166.5h8M37 167.5h9M36 168.5h10M35 169.5h11M34 170.5h12M33 171.5h12M33 172.5h12M32 173.5h13M32 174.5h12M31 175.5h13M31 176.5h12M31 177.5h12M30 178.5h12M30 179.5h11M30 180.5h10M30 181.5h9M31 182.5h7M31 183.5h5"/>
<path stroke="#80c442" d="M38 168.5h5M37 169.5h7M36 170.5h8M35 171.5h9M34 172.5h10M34 173.5h9M33 174.5h10M33 175.5h10M32 176.5h10M32 177.5h9M32 178.5h9M32 179.5h8M32 180.5h7M32 181.5h5M33 182.5h3"/>
<path stroke="#a1cf37" d="M39 168.5h3M38 169.5h5M36 170.5h8M35 171.5h9M35 172.5h8M34 173.5h9M33 174.5h10M33 175.5h10M32 176.5h10M32 177.5h9M32 178.5h8M32 179.5h8M32 180.5h7M32 181.5h5M34 182.5h1"/>
<path stroke="#c2da2d" d="M38 169.5h5M37 170.5h6M36 171.5h7M35 172.5h8M34 173.5h9M34 174.5h9M33 175.5h9M33 176.5h8M32 177.5h9M32 178.5h8M32 179.5h7M32 180.5h6M33 181.5h4"/>
<path stroke="#dee422" d="M39 169.5h3M37 170.5h6M36 171.5h7M35 172.5h8M34 173.5h9M34 174.5h8M33 175.5h9M33 176.5h8M33 177.5h8M32 178.5h8M32 179.5h7M33 180.5h5M33 181.5h3"/>
<path stroke="#fbee16" d="M40 169.5h1M38 170.5h4M36 171.5h7M36 172.5h7M35 173.5h7M34 174.5h8M34 175.5h8M33 176.5h8M33 177.5h7M33 178.5h7M33 179.5h6M33 180.5h4M34 181.5h2"/>
<path stroke="#fad818" d="M38 170.5h4M37 171.5h5M36 172.5h6M35 173.5h7M34 174.5h8M34 175.5h7M33 176.5h8M33 177.5h7M33 178.5h7M33 179.5h6M33 180.5h4M34 181.5h1"/>
<path stroke="#fac119" d="M39 170.5h2M37 171.5h5M36 172.5h6M35 173.5h7M35 174.5h7M34 175.5h7M34 176.5h6M33 177.5h7M33 178.5h6M33 179.5h5M34 180.5h3"/>
<path stroke="#f9ab1b" d="M38 171.5h4M36 172.5h6M36 173.5h6M35 174.5h6M34 175.5h7M34 176.5h6M33 177.5h7M33 178.5h6M33 179.5h5M34 180.5h2"/>
<path stroke="#f7951d" d="M38 171.5h3M37 172.5h5M36 173.5h5M35 174.5h6M34 175.5h7M34 176.5h6M34 177.5h5M34 178.5h5M34 179.5h4M34 180.5h2"/>
<path stroke="#f48020" d="M38 171.5h3M37 172.5h4M36 173.5h5M35 174.5h6M35 175.5h6M34 176.5h6M34 177.5h5M34 178.5h5M34 179.5h3"/>
<path stroke="#f26a22" d="M37 172.5h4M36 173.5h5M35 174.5h6M35 175.5h5M35 176.5h5M34 177.5h5M34 178.5h4M34 179.5h3"/>
<path stroke="#f04323" d="M38 172.5h2M37 173.5h4M36 174.5h4M35 175.5h5M35 176.5h4M35 177.5h4M34 178.5h4M35 179.5h1"/>
<path stroke="#ed1c24" d="M39 172.5h1M37 173.5h3M36 174.5h4M35 175.5h5M35 176.5h4M35 177.5h3M35 178.5h2"/>
</g>
<path d="M1219.5 214.4 1244.7 220.4 1330.9 205 1332.6 329.7 1219.5 330.3Z" fill="none" stroke="#000" stroke-width="2.6" stroke-linejoin="miter"/>
<rect x="1217.6" y="48.5" width="338" height="337.3" fill="none" stroke="#000" stroke-width="2.2"/>
<path d="M1216.6 310.5h-9.5M1216.6 309.92h-4M1216.6 311.02h-4M1216.6 309.35h-4M1216.6 311.55h-4M1216.6 308.77h-4M1216.6 312.07h-4M1216.6 308.19h-4M1216.6 312.6h-4M1216.6 307.62h-4M1216.6 313.12h-4M1216.6 307.04h-4M1216.6 313.65h-4M1216.6 306.46h-4M1216.6 314.18h-4M1216.6 305.88h-4M1216.6 314.7h-4M1216.6 305.31h-4M1216.6 315.23h-4M1216.6 304.73h-9.5M1216.6 315.75h-9.5M1216.6 298.96h-4M1216.6 321h-4M1216.6 293.19h-4M1216.6 326.25h-4M1216.6 287.42h-4M1216.6 331.5h-4M1216.6 281.65h-4M1216.6 336.75h-4M1216.6 275.88h-4M1216.6 342h-4M1216.6 270.11h-4M1216.6 347.25h-4M1216.6 264.34h-4M1216.6 352.5h-4M1216.6 258.57h-4M1216.6 357.75h-4M1216.6 252.8h-9.5M1216.6 363h-9.5M1216.6 224.98h-4M1216.6 208.71h-4M1216.6 197.17h-4M1216.6 188.22h-4M1216.6 180.9h-4M1216.6 174.71h-4M1216.6 169.35h-4M1216.6 164.63h-4M1216.6 160.4h-9.5M1216.6 136.08h-4M1216.6 121.85h-4M1216.6 111.75h-4M1216.6 103.92h-4M1216.6 97.53h-4M1216.6 92.12h-4M1216.6 87.43h-4M1216.6 83.3h-4M1216.6 79.6h-9.5M1216.6 55.28h-4M1216.6 55.28h-4M1248 386.8v9.5M1259.67 386.8v4M1241.68 386.8v4M1267.12 386.8v4M1237.65 386.8v4M1272.08 386.8v4M1234.96 386.8v4M1275.74 386.8v4M1232.98 386.8v4M1278.62 386.8v4M1231.42 386.8v4M1280.99 386.8v4M1230.13 386.8v4M1283.01 386.8v4M1229.04 386.8v4M1284.76 386.8v4M1228.09 386.8v4M1286.31 386.8v4M1227.25 386.8v4M1287.7 386.8v9.5M1226.5 386.8v9.5M1311.8 386.8v4M1221.54 386.8v4M1325.93 386.8v4M1218.64 386.8v4M1335.96 386.8v4M1343.73 386.8v4M1350.09 386.8v4M1355.46 386.8v4M1360.12 386.8v4M1364.23 386.8v4M1367.9 386.8v9.5M1391.35 386.8v4M1405.07 386.8v4M1414.8 386.8v4M1422.35 386.8v4M1428.52 386.8v4M1433.73 386.8v4M1438.25 386.8v4M1442.24 386.8v4M1445.8 386.8v9.5M1468.95 386.8v4M1482.49 386.8v4M1492.1 386.8v4M1499.55 386.8v4M1505.64 386.8v4M1510.79 386.8v4M1515.25 386.8v4M1519.18 386.8v4M1522.7 386.8v9.5M1545.85 386.8v4M1545.85 386.8v4" stroke="#000" stroke-width="2" fill="none"/>
<text x="1185.6" y="100.4" text-anchor="end" textLength="32.8" lengthAdjust="spacingAndGlyphs">10</text>
<text x="1187.1" y="79.8">5</text>
<text x="1185.6" y="181.2" text-anchor="end" textLength="32.8" lengthAdjust="spacingAndGlyphs">10</text>
<text x="1187.1" y="160.6">4</text>
<text x="1185.6" y="273.6" text-anchor="end" textLength="32.8" lengthAdjust="spacingAndGlyphs">10</text>
<text x="1187.1" y="253">3</text>
<text x="1185.4" y="325" text-anchor="end">0</text>
<text x="1185.6" y="383.8" text-anchor="end">-10</text>
<text x="1187.1" y="363.2">3</text>
<text x="1249.5" y="436.6" text-anchor="middle">0</text>
<text x="1357.5" y="436.6" textLength="32.8" lengthAdjust="spacingAndGlyphs">10</text>
<text x="1391.8" y="415.8">3</text>
<text x="1435.4" y="436.6" textLength="32.8" lengthAdjust="spacingAndGlyphs">10</text>
<text x="1469.7" y="415.8">4</text>
<text x="1505" y="436.6" textLength="32.8" lengthAdjust="spacingAndGlyphs">10</text>
<text x="1539.3" y="415.8">5</text>
<text x="1390.4" y="23.7" text-anchor="middle" fill="#1e1e1e" style="font-size:33px">Singlets</text>
<text x="1385.2" y="490.9" text-anchor="middle">UV Blue: LIVE-DEAD</text>
<text x="1110.9" y="215.3" text-anchor="middle" transform="rotate(-90 1110.9 215.3)">SSC-A</text>
<g transform="translate(1764.9 49.6) scale(1.32)" shape-rendering="crispEdges" fill="none" stroke-width="1">
<path stroke="#3854a6" d="M13 0.5h1m18 0h1m1 0h2m13 0h1M37 2.5h2M38 3.5h1m3 0h1M5 4.5h1m6 0h1m10 0h1m11 0h1m12 0h1M22 5.5h1m1 0h1m6 0h1m4 0h1m11 0h1M29 6.5h1m2 0h2m45 0h1M24 7.5h1m1 0h1m1 0h1m1 0h1m11 0h2m57 0h1M13 8.5h1m7 0h1m4 0h1m1 0h1m3 0h1M30 9.5h2m3 0h1m1 0h2m68 0h1m18 0h1M20 10.5h1m2 0h1m3 0h1m5 0h1m1 0h2m8 0h1M15 11.5h1m2 0h1m3 0h1m7 0h1m5 0h1m12 0h1m77 0h1M20 12.5h1m8 0h1m9 0h1m1 0h2M7 13.5h1m7 0h1m10 0h1m4 0h2m3 0h2m8 0h1m19 0h1M21 14.5h2m2 0h1m5 0h1m2 0h3m1 0h1m43 0h1M20 15.5h1m1 0h1m1 0h1m2 0h1M19 16.5h1m12 0h4m10 0h1m71 0h1M33 17.5h1m1 0h1m1 0h1m1 0h1m4 0h1m46 0h1M22 18.5h1m7 0h1m11 0h1M3 19.5h1m12 0h2m10 0h1m7 0h1m3 0h1m8 0h1M26 20.5h1m4 0h2m5 0h1m2 0h2m30 0h1m59 0h1M19 21.5h1m3 0h1m6 0h1m7 0h1m38 0h1m22 0h1M23 22.5h1m1 0h1m10 0h1m4 0h1m7 0h1m59 0h1M10 23.5h1m6 0h1m3 0h2m4 0h1m3 0h1m2 0h1m1 0h1m2 0h1M27 24.5h2m1 0h1m72 0h1M7 25.5h1m18 0h1m10 0h1m1 0h1m2 0h1m63 0h1M2 26.5h1m17 0h1m2 0h1m3 0h1m4 0h2m1 0h1m2 0h1m2 0h1m60 0h1M23 27.5h1m4 0h1m4 0h1m3 0h1m7 0h1m2 0h1m3 0h1m3 0h1m12 0h1M19 28.5h2m3 0h1m1 0h1m9 0h2m9 0h1m4 0h1M26 29.5h2m3 0h1m1 0h1m11 0h1m58 0h1M7 30.5h1m2 0h1m16 0h1m3 0h1m2 0h1m2 0h1m13 0h1m2 0h1m65 0h1M7 31.5h1m7 0h1m2 0h1m1 0h2m10 0h2m2 0h3M19 32.5h1m6 0h1m2 0h3m2 0h1m4 0h1m4 0h1m12 0h1m26 0h1M23 33.5h2m1 0h1m3 0h1m3 0h1m4 0h1m9 0h1M20 34.5h1m1 0h1m2 0h1m2 0h1m4 0h2m4 0h2m2 0h1M21 35.5h1m13 0h1m11 0h1M12 36.5h3m17 0h2m14 0h1m33 0h1M13 37.5h1m11 0h2m6 0h1m3 0h1m85 0h1M5 38.5h1m30 0h1m2 0h1m9 0h1m1 0h1m69 0h1m3 0h1M24 39.5h1m1 0h3m6 0h1m5 0h1m75 0h1M12 40.5h1m9 0h1m11 0h1m3 0h2m1 0h1m13 0h1M19 41.5h2m1 0h1m2 0h1m1 0h1m1 0h2m3 0h1m4 0h2M11 42.5h1m3 0h2m5 0h1m5 0h2m2 0h1m1 0h2m2 0h1m19 0h1M13 43.5h1m6 0h2m5 0h1m1 0h1m1 0h1m6 0h1m8 0h1m3 0h1m104 0h1M8 44.5h1m3 0h1m8 0h2m3 0h1m2 0h1m1 0h1m3 0h1m7 0h1M21 45.5h1m4 0h1m1 0h1m2 0h1m2 0h1m4 0h4m1 0h1m1 0h1m1 0h1m2 0h1m10 0h1M10 46.5h1m1 0h1m5 0h1m3 0h1m8 0h1m7 0h1m7 0h1M23 47.5h1m7 0h1m9 0h1m3 0h1m75 0h1M12 48.5h1m13 0h1m5 0h1m125 0h1M11 49.5h1m3 0h1m3 0h1m3 0h1m1 0h1m3 0h2m2 0h3m2 0h1m7 0h2m32 0h1M19 50.5h1m1 0h1m1 0h1m5 0h2m15 0h1m40 0h1M15 51.5h1m2 0h1m11 0h1m1 0h2m1 0h2m5 0h1m1 0h1M19 52.5h1m3 0h1m1 0h1m1 0h1m2 0h1m4 0h1m7 0h1m9 0h1m3 0h1m19 0h1M19 53.5h1m2 0h1m1 0h1m1 0h1m5 0h1m1 0h1m6 0h1m9 0h1m24 0h1M8 54.5h1m1 0h1m1 0h2m7 0h1m2 0h1m2 0h1m6 0h1m2 0h1m5 0h1m7 0h1M22 55.5h1m5 0h4m4 0h1m8 0h1m30 0h1M5 56.5h1m13 0h1m2 0h1m1 0h2m1 0h1m2 0h1m1 0h1m1 0h3m2 0h2m10 0h1m3 0h1m2 0h1M15 57.5h1m14 0h1m1 0h2m1 0h1m6 0h1m3 0h1m3 0h1m1 0h1m10 0h1M10 58.5h1m8 0h2m3 0h1m4 0h2m3 0h1m6 0h1m8 0h2m21 0h1M17 59.5h1m2 0h1m1 0h2m5 0h2m1 0h1m4 0h1m3 0h1m41 0h1m73 0h1M21 60.5h1m2 0h1m1 0h1m1 0h2m1 0h2m10 0h1m1 0h1m2 0h1m13 0h1M12 61.5h1m4 0h1m3 0h3m1 0h3m2 0h1m2 0h1m2 0h1m2 0h1m2 0h1M19 62.5h2m1 0h2m1 0h2m10 0h1m5 0h1m7 0h1m2 0h1M15 63.5h1m3 0h3m2 0h2m3 0h1m1 0h5m5 0h2m2 0h1m3 0h2m4 0h1m16 0h1M1 64.5h1m6 0h1m7 0h1m3 0h1m3 0h1m3 0h2m3 0h4m140 0h1M4 65.5h1m3 0h1m3 0h1m2 0h5m3 0h2m1 0h1m2 0h2m1 0h3m1 0h2m1 0h1m7 0h1m5 0h1m21 0h1m3 0h1m67 0h1M17 66.5h1m3 0h4m1 0h2m1 0h2m3 0h3m2 0h2m2 0h1m4 0h1m1 0h1M18 67.5h2m1 0h1m1 0h2m1 0h1m1 0h2m1 0h1m2 0h1m1 0h1m3 0h2m1 0h1m6 0h1m9 0h1M6 68.5h2m7 0h2m2 0h4m1 0h1m2 0h5m4 0h1m2 0h1m2 0h3m2 0h1m1 0h2m6 0h1m86 0h1M28 69.5h1m2 0h1m1 0h7m1 0h1m11 0h1m1 0h1M7 70.5h1m10 0h2m2 0h1m2 0h3m1 0h1m1 0h1m1 0h4m1 0h3m5 0h1m7 0h1m6 0h1m102 0h1M2 71.5h1m11 0h1m4 0h2m3 0h2m1 0h1m1 0h2m3 0h1m1 0h2m2 0h2m17 0h1m16 0h1m38 0h1M11 72.5h1m1 0h1m4 0h6m1 0h1m1 0h1m2 0h1m2 0h2m1 0h2m2 0h1m2 0h2m4 0h1m4 0h1m7 0h1m61 0h1M13 73.5h1m3 0h1m1 0h1m1 0h4m1 0h4m2 0h1m1 0h2m1 0h1m1 0h1m1 0h1m2 0h2m7 0h1M4 74.5h1m3 0h1m3 0h3m3 0h1m1 0h1m1 0h1m1 0h3m1 0h3m2 0h1m1 0h1m1 0h2m1 0h1m2 0h1m1 0h1m3 0h1m2 0h1m8 0h1m18 0h1m31 0h1M9 75.5h1m3 0h1m4 0h1m1 0h1m1 0h7m2 0h4m2 0h1m1 0h2m1 0h1m3 0h2m3 0h1M1 76.5h1m4 0h1m1 0h1m3 0h1m3 0h2m3 0h5m1 0h2m2 0h1m1 0h1m1 0h1m1 0h5m2 0h1m2 0h2m1 0h3m5 0h1m40 0h1m2 0h1M11 77.5h1m4 0h1m1 0h1m1 0h1m2 0h1m1 0h1m1 0h9m2 0h5m1 0h1m2 0h2m2 0h3m4 0h2m79 0h1M11 78.5h1m2 0h2m2 0h3m2 0h5m1 0h5m1 0h2m1 0h2m3 0h1m2 0h2m1 0h1m1 0h1m3 0h1m79 0h1M5 79.5h1m3 0h1m4 0h1m1 0h3m1 0h2m1 0h1m2 0h1m1 0h1m3 0h5m1 0h2m1 0h2m2 0h1m2 0h1m2 0h2m2 0h1m3 0h1m24 0h1m64 0h1M0 80.5h1m8 0h1m9 0h1m2 0h5m1 0h6m1 0h2m1 0h2m3 0h1m3 0h7m2 0h1m1 0h1m18 0h1M8 81.5h2m3 0h1m2 0h4m1 0h4m1 0h9m1 0h2m2 0h1m1 0h2m8 0h1m2 0h1m1 0h1m33 0h1M10 82.5h1m2 0h5m1 0h2m1 0h3m3 0h3m1 0h4m1 0h5m1 0h7m2 0h2m1 0h1m4 0h1m43 0h1m8 0h1m70 0h1m32 0h1m30 0h1M11 83.5h1m1 0h2m1 0h2m2 0h1m1 0h2m1 0h4m1 0h4m1 0h1m1 0h5m1 0h6m2 0h1m6 0h1m8 0h1M9 84.5h1m1 0h1m2 0h1m1 0h3m1 0h2m1 0h3m2 0h7m2 0h5m1 0h1m2 0h3m2 0h1m2 0h1m34 0h1m70 0h1m12 0h1M6 85.5h1m4 0h4m2 0h1m1 0h16m1 0h3m1 0h7m3 0h2m1 0h2m2 0h2m149 0h1m18 0h1M5 86.5h1m2 0h5m2 0h1m1 0h2m1 0h2m1 0h23m1 0h2m1 0h4m101 0h1m95 0h1M8 87.5h1m1 0h1m3 0h3m1 0h16m1 0h3m1 0h1m1 0h7m1 0h1m3 0h3m1 0h1m3 0h1m91 0h1M3 88.5h1m3 0h5m2 0h7m1 0h32m8 0h1M10 89.5h2m1 0h2m3 0h29m1 0h4m2 0h1m7 0h1m27 0h1M1 90.5h1m1 0h1m4 0h1m1 0h1m3 0h2m2 0h22m1 0h3m1 0h7m2 0h1m1 0h1m5 0h1m2 0h1m38 0h1M4 91.5h1m3 0h1m1 0h1m2 0h2m1 0h6m1 0h20m1 0h6m1 0h1m2 0h5m8 0h1m19 0h1m45 0h1M4 92.5h1m1 0h1m1 0h1m3 0h2m1 0h8m1 0h4m1 0h22m2 0h4m1 0h1m1 0h1m29 0h1m5 0h1m12 0h1m42 0h1M2 93.5h1m2 0h1m1 0h1m1 0h1m2 0h2m1 0h29m1 0h11m1 0h1m7 0h1m1 0h1m4 0h1m28 0h1m11 0h2m113 0h1m12 0h1M2 94.5h1m1 0h1m1 0h1m1 0h2m1 0h3m1 0h1m2 0h1m1 0h1m1 0h30m5 0h1m25 0h1m40 0h1m1 0h1M2 95.5h2m3 0h1m2 0h4m1 0h23m1 0h2m1 0h6m1 0h1m1 0h1m5 0h2m3 0h2m39 0h1m57 0h1M3 96.5h1m1 0h2m2 0h3m1 0h1m1 0h1m1 0h33m1 0h2m1 0h3m7 0h1m22 0h1m51 0h1M5 97.5h1m1 0h4m1 0h1m1 0h40m1 0h1m3 0h2m1 0h1m3 0h1m37 0h1m51 0h1M0 98.5h2m7 0h11m1 0h22m1 0h6m1 0h1m2 0h2m3 0h1m32 0h1m160 0h1M1 99.5h1m3 0h1m1 0h2m3 0h32m1 0h2m1 0h3m1 0h2m3 0h2m4 0h1m14 0h1m15 0h1m16 0h1M0 100.5h1m3 0h1m2 0h1m1 0h1m2 0h7m1 0h34m3 0h3m15 0h1m14 0h1m1 0h1m1 0h1m12 0h1m4 0h1m20 0h1m8 0h1m39 0h1m1 0h1m47 0h1M5 101.5h2m1 0h4m1 0h32m1 0h7m1 0h1m1 0h2m2 0h2m5 0h1m2 0h1m14 0h2m11 0h1m5 0h1m2 0h1m4 0h1M4 102.5h2m2 0h4m1 0h37m3 0h2m2 0h4m4 0h1m12 0h1m9 0h1m2 0h1m26 0h1m17 0h1m46 0h1m32 0h1M0 103.5h1m3 0h48m1 0h1m1 0h2m1 0h4m3 0h1m4 0h1m10 0h1m7 0h1m4 0h1m2 0h1m1 0h1m7 0h1m9 0h1m15 0h1m26 0h1M4 104.5h2m1 0h5m1 0h40m2 0h2m1 0h1m3 0h1m7 0h1m3 0h1m1 0h1m1 0h1m11 0h1m4 0h1m5 0h1m1 0h1m7 0h1M0 105.5h2m2 0h1m2 0h3m2 0h37m3 0h2m1 0h2m9 0h1m10 0h1m5 0h1m3 0h1m12 0h1m5 0h1m4 0h2m18 0h1m22 0h1M7 106.5h5m1 0h38m1 0h10m1 0h1m4 0h2m12 0h1m2 0h1m3 0h1m2 0h1m12 0h1m2 0h1m2 0h1m3 0h1m1 0h1m9 0h1m1 0h2M4 107.5h5m1 0h48m2 0h1m2 0h1m7 0h1m10 0h1m5 0h1m7 0h2m4 0h1m11 0h1m1 0h1m1 0h1m2 0h1m3 0h1m7 0h1m4 0h1m48 0h1m15 0h1m21 0h1M0 108.5h1m3 0h6m1 0h2m1 0h37m1 0h5m1 0h2m1 0h1m2 0h1m5 0h1m20 0h1m6 0h1m9 0h1m5 0h1m1 0h1m5 0h2m10 0h1m4 0h1m1 0h2m94 0h1M5 109.5h1m1 0h5m1 0h39m1 0h4m1 0h2m1 0h1m4 0h1m2 0h1m7 0h2m6 0h2m1 0h1m1 0h1m7 0h1m38 0h1m8 0h1M2 110.5h3m3 0h46m1 0h6m6 0h2m4 0h1m2 0h1m3 0h1m5 0h2m3 0h1m1 0h1m1 0h1m9 0h2m3 0h4m3 0h1m18 0h1m13 0h1m93 0h1M1 111.5h2m1 0h1m1 0h43m1 0h8m1 0h1m2 0h1m3 0h1m8 0h1m7 0h1m3 0h1m4 0h2m12 0h1m6 0h1m7 0h1m11 0h2m2 0h2M0 112.5h9m1 0h39m1 0h8m1 0h4m2 0h1m2 0h1m8 0h1m1 0h1m3 0h1m5 0h1m8 0h1m6 0h2m4 0h1m8 0h1m4 0h1M4 113.5h3m1 0h9m1 0h38m2 0h2m1 0h2m16 0h1m2 0h1m9 0h1m5 0h1m1 0h1m3 0h2m1 0h1m8 0h1m1 0h1m18 0h1m11 0h1M5 114.5h3m2 0h1m1 0h42m1 0h7m2 0h1m4 0h1m1 0h1m3 0h1m2 0h2m1 0h1m1 0h2m6 0h1m1 0h2m1 0h2m2 0h1m2 0h1m5 0h3m5 0h1m1 0h1m5 0h1m1 0h1m11 0h1M3 115.5h6m2 0h42m1 0h3m1 0h3m1 0h1m1 0h1m1 0h1m5 0h1m9 0h1m1 0h1m3 0h1m9 0h1m1 0h1m3 0h5m5 0h2m2 0h1m11 0h1m4 0h1m4 0h1m106 0h1M4 116.5h2m1 0h47m1 0h3m2 0h3m2 0h1m1 0h1m4 0h3m6 0h2m5 0h1m2 0h2m1 0h2m3 0h2m2 0h1m1 0h1m6 0h1m2 0h2m1 0h1m1 0h2m5 0h1m20 0h1m3 0h1m37 0h1M6 117.5h2m1 0h1m1 0h44m1 0h1m2 0h5m6 0h2m4 0h1m1 0h1m7 0h1m4 0h1m4 0h2m3 0h1m9 0h1m9 0h1m2 0h1m1 0h1m5 0h1m21 0h2M0 118.5h1m1 0h1m2 0h2m1 0h48m1 0h1m1 0h1m1 0h1m2 0h1m2 0h1m1 0h2m1 0h1m4 0h2m5 0h1m3 0h1m1 0h4m3 0h1m4 0h1m1 0h1m4 0h1m2 0h1m2 0h1m5 0h1m3 0h1m8 0h1m2 0h1M0 119.5h1m3 0h6m1 0h47m2 0h3m1 0h4m1 0h1m4 0h2m2 0h1m5 0h1m9 0h1m6 0h1m2 0h1m1 0h1m2 0h2m1 0h1m2 0h1m5 0h1m6 0h1m6 0h1m2 0h1M1 120.5h2m1 0h1m1 0h57m2 0h1m1 0h2m3 0h1m1 0h3m6 0h3m1 0h1m3 0h1m3 0h1m6 0h1m1 0h1m2 0h3m5 0h1m3 0h1m1 0h1m3 0h1m2 0h1m3 0h1m15 0h1m35 0h1M0 121.5h2m2 0h54m1 0h2m3 0h3m1 0h1m2 0h1m21 0h1m3 0h1m2 0h1m1 0h1m5 0h1m8 0h7m2 0h1m1 0h2m2 0h1m3 0h1m3 0h1m1 0h1m65 0h1M2 122.5h1m1 0h1m3 0h52m1 0h2m1 0h2m4 0h2m1 0h1m1 0h2m1 0h2m6 0h1m2 0h1m1 0h1m5 0h2m1 0h1m5 0h1m2 0h1m3 0h1m3 0h2m1 0h1m3 0h4m1 0h2m7 0h1m1 0h1m1 0h1m14 0h1M3 123.5h6m1 0h3m1 0h41m1 0h6m3 0h3m2 0h3m4 0h1m3 0h2m2 0h1m1 0h2m1 0h1m1 0h2m1 0h1m1 0h1m11 0h2m2 0h2m4 0h1m1 0h1m2 0h1m1 0h1m1 0h2m4 0h1M2 124.5h11m1 0h45m2 0h2m1 0h2m1 0h1m1 0h1m1 0h1m2 0h1m2 0h1m1 0h3m1 0h1m2 0h3m1 0h1m1 0h2m4 0h1m2 0h1m8 0h1m8 0h1m2 0h2m1 0h1m4 0h2m3 0h2m14 0h1m76 0h1M4 125.5h1m3 0h43m1 0h7m1 0h5m1 0h2m4 0h1m6 0h2m1 0h1m6 0h2m1 0h1m2 0h2m4 0h2m6 0h1m14 0h1m1 0h1m4 0h1m1 0h3m4 0h3m1 0h1m23 0h1M1 126.5h59m1 0h1m1 0h1m1 0h5m1 0h1m7 0h1m5 0h3m1 0h2m1 0h1m4 0h3m1 0h2m1 0h1m1 0h4m3 0h1m4 0h1m1 0h1m4 0h1m2 0h1m1 0h1m1 0h2m6 0h1m4 0h1m2 0h1m24 0h1m60 0h1M0 127.5h1m1 0h1m1 0h2m2 0h47m1 0h3m1 0h2m6 0h1m2 0h1m5 0h2m1 0h1m2 0h1m8 0h1m3 0h1m4 0h2m3 0h1m4 0h1m1 0h2m1 0h2m4 0h1m5 0h1m1 0h1m5 0h1m2 0h2m45 0h1m63 0h1M0 128.5h2m1 0h1m1 0h2m1 0h51m1 0h4m1 0h4m5 0h1m3 0h2m1 0h3m3 0h1m2 0h1m6 0h6m1 0h1m4 0h1m1 0h1m1 0h1m5 0h1m3 0h2m1 0h1m5 0h1m8 0h2m7 0h1m100 0h1M4 129.5h52m1 0h6m3 0h1m1 0h1m5 0h1m1 0h1m4 0h4m2 0h3m2 0h1m1 0h1m2 0h3m7 0h1m1 0h2m3 0h1m3 0h3m7 0h3m2 0h1m1 0h1M1 130.5h62m1 0h2m2 0h1m1 0h2m2 0h1m1 0h1m1 0h1m2 0h2m1 0h2m3 0h1m1 0h2m4 0h1m2 0h1m3 0h1m6 0h1m2 0h1m2 0h2m1 0h2m1 0h2m7 0h1m4 0h1m1 0h3m1 0h1m64 0h1m15 0h1m11 0h1M0 131.5h1m1 0h60m3 0h2m5 0h1m2 0h1m1 0h1m1 0h1m1 0h2m3 0h1m1 0h2m3 0h2m1 0h1m3 0h2m6 0h1m2 0h1m4 0h1m1 0h2m6 0h1m7 0h1m3 0h1m1 0h1m5 0h1m42 0h1M0 132.5h3m1 0h2m1 0h50m1 0h2m3 0h2m2 0h1m3 0h3m1 0h1m1 0h2m2 0h2m2 0h1m1 0h3m1 0h1m1 0h1m3 0h2m2 0h1m1 0h1m4 0h1m3 0h3m5 0h1m2 0h1m2 0h4m2 0h1m4 0h1m1 0h1m7 0h2m11 0h1m8 0h1M0 133.5h1m1 0h4m1 0h58m3 0h2m1 0h2m3 0h1m1 0h1m2 0h1m1 0h1m1 0h1m1 0h2m8 0h1m1 0h1m6 0h2m2 0h1m1 0h1m1 0h1m4 0h1m1 0h1m3 0h1m1 0h2m2 0h1m2 0h3m5 0h1m2 0h1M0 134.5h3m2 0h58m2 0h1m1 0h1m1 0h1m1 0h2m5 0h1m3 0h2m3 0h1m1 0h1m2 0h3m5 0h2m2 0h1m1 0h1m1 0h5m2 0h3m3 0h1m1 0h3m7 0h3m9 0h1m21 0h1M1 135.5h2m2 0h1m1 0h52m1 0h4m2 0h4m2 0h1m1 0h1m1 0h1m2 0h1m2 0h1m1 0h1m4 0h2m1 0h1m7 0h2m2 0h1m5 0h2m2 0h1m1 0h3m7 0h2m1 0h1m2 0h2m5 0h2m2 0h3m91 0h1M5 136.5h45m1 0h5m1 0h3m4 0h1m2 0h1m2 0h1m2 0h2m4 0h1m2 0h2m4 0h1m1 0h2m5 0h1m2 0h1m3 0h2m2 0h1m6 0h1m1 0h3m1 0h2m15 0h3m4 0h1m2 0h1m100 0h1M1 137.5h2m1 0h56m1 0h1m1 0h3m1 0h2m8 0h3m8 0h1m1 0h3m4 0h2m1 0h2m1 0h2m3 0h1m2 0h1m1 0h1m2 0h2m5 0h1m2 0h1m2 0h2m3 0h1m7 0h2M1 138.5h1m1 0h60m3 0h4m3 0h1m6 0h1m4 0h2m2 0h1m2 0h1m7 0h1m1 0h1m1 0h1m4 0h1m1 0h2m1 0h1m4 0h1m6 0h2m5 0h1m3 0h3m10 0h1m90 0h1M0 139.5h1m1 0h6m1 0h52m1 0h5m1 0h1m1 0h2m2 0h1m6 0h3m2 0h1m1 0h1m1 0h1m2 0h1m3 0h1m2 0h1m2 0h1m7 0h1m4 0h1m5 0h1m2 0h2m3 0h2m7 0h2m2 0h1m4 0h1m100 0h1M0 140.5h2m1 0h1m1 0h61m1 0h1m1 0h1m3 0h1m1 0h1m2 0h3m1 0h3m1 0h1m2 0h3m1 0h1m2 0h1m2 0h1m2 0h1m1 0h1m1 0h2m7 0h2m1 0h1m1 0h1m2 0h1m5 0h1m1 0h1m1 0h1m1 0h1m1 0h1m105 0h1M0 141.5h4m2 0h52m1 0h3m1 0h1m1 0h1m1 0h1m5 0h1m2 0h1m1 0h1m1 0h4m3 0h1m1 0h3m1 0h1m1 0h1m6 0h2m4 0h2m1 0h1m3 0h1m2 0h4m5 0h1m3 0h1m2 0h2m10 0h1m2 0h1m9 0h1m57 0h1M1 142.5h1m2 0h2m1 0h4m1 0h50m1 0h1m1 0h3m2 0h1m1 0h2m1 0h1m2 0h1m1 0h1m1 0h1m2 0h1m4 0h1m1 0h1m1 0h1m2 0h1m9 0h1m5 0h1m2 0h1m1 0h2m4 0h1m5 0h1m2 0h2m2 0h2m16 0h1m93 0h1M1 143.5h1m1 0h4m1 0h49m1 0h2m1 0h2m1 0h3m1 0h1m2 0h2m2 0h1m2 0h1m1 0h2m1 0h1m2 0h2m1 0h2m6 0h3m7 0h1m2 0h1m1 0h1m1 0h2m4 0h1m3 0h2m1 0h1m4 0h1m7 0h3m7 0h1m2 0h1M1 144.5h1m1 0h2m1 0h56m8 0h4m3 0h1m1 0h3m2 0h1m1 0h1m10 0h1m2 0h1m2 0h2m1 0h1m2 0h1m2 0h1m5 0h1m4 0h2m3 0h1m3 0h1m1 0h1m2 0h1m4 0h1m1 0h2m5 0h1M0 145.5h6m1 0h52m2 0h1m1 0h3m1 0h1m2 0h4m1 0h1m6 0h2m2 0h1m3 0h2m1 0h1m7 0h2m4 0h1m1 0h2m1 0h1m3 0h1m2 0h1m3 0h2m7 0h2m1 0h4m1 0h1M0 146.5h3m1 0h2m1 0h48m1 0h8m1 0h2m2 0h1m3 0h1m3 0h1m1 0h2m1 0h1m1 0h3m4 0h1m4 0h2m2 0h2m2 0h3m3 0h1m1 0h2m2 0h1m1 0h1m9 0h1m1 0h2m1 0h2m4 0h1m6 0h1M0 147.5h1m2 0h3m1 0h5m1 0h39m1 0h6m1 0h4m1 0h2m1 0h3m1 0h2m1 0h1m3 0h2m3 0h1m3 0h1m5 0h1m7 0h1m2 0h4m3 0h1m7 0h2m4 0h2m4 0h1m1 0h2m1 0h1m1 0h1m5 0h1m5 0h3m16 0h1M2 148.5h4m2 0h47m1 0h5m2 0h2m1 0h1m5 0h1m2 0h3m6 0h3m5 0h2m3 0h2m1 0h1m1 0h4m1 0h4m1 0h1m3 0h1m3 0h1m1 0h2m1 0h2m1 0h2m4 0h3m2 0h2m2 0h1M0 149.5h2m2 0h62m4 0h1m3 0h1m3 0h1m1 0h1m1 0h2m8 0h1m1 0h1m1 0h1m1 0h2m2 0h1m2 0h1m5 0h1m4 0h1m2 0h1m2 0h1m1 0h2m2 0h1m1 0h2m4 0h2m4 0h1m4 0h1m1 0h1m25 0h1M1 150.5h3m2 0h2m1 0h48m1 0h5m1 0h1m1 0h1m1 0h3m6 0h1m2 0h1m3 0h2m1 0h1m1 0h1m3 0h1m2 0h2m4 0h2m2 0h1m1 0h1m7 0h1m4 0h1m3 0h1m2 0h1m1 0h6m1 0h1m6 0h1m12 0h1m3 0h1M2 151.5h1m1 0h1m1 0h1m1 0h54m2 0h4m3 0h1m2 0h1m2 0h1m1 0h1m3 0h2m4 0h3m3 0h1m3 0h1m3 0h1m2 0h2m1 0h2m1 0h1m4 0h2m1 0h1m3 0h1m4 0h1m5 0h1m1 0h2m5 0h1m1 0h1m82 0h1m4 0h1M1 152.5h1m1 0h3m1 0h46m1 0h6m1 0h2m1 0h2m9 0h1m1 0h1m3 0h4m12 0h1m1 0h1m9 0h1m6 0h2m1 0h1m2 0h3m1 0h1m1 0h1m1 0h2m1 0h2m37 0h1M3 153.5h8m1 0h41m1 0h7m1 0h7m2 0h1m2 0h1m2 0h1m1 0h2m1 0h1m1 0h1m2 0h3m2 0h3m5 0h1m1 0h2m3 0h1m2 0h1m1 0h5m2 0h1m1 0h3m1 0h6m1 0h3m2 0h5m1 0h1m2 0h1m80 0h1M1 154.5h1m3 0h56m1 0h1m2 0h2m1 0h2m1 0h1m1 0h1m3 0h2m4 0h1m1 0h3m1 0h2m2 0h2m5 0h5m1 0h3m1 0h1m4 0h1m5 0h2m2 0h1m4 0h1m1 0h1m4 0h1m5 0h1m1 0h1m2 0h1m4 0h2m1 0h1m4 0h1m3 0h1M1 155.5h2m1 0h3m2 0h47m1 0h4m1 0h2m1 0h2m2 0h1m4 0h1m4 0h1m5 0h3m4 0h2m4 0h4m3 0h1m7 0h1m2 0h2m8 0h4m4 0h1m3 0h1m4 0h1m1 0h1m3 0h1m3 0h1m48 0h1M2 156.5h3m1 0h4m1 0h48m1 0h1m2 0h1m1 0h3m7 0h1m2 0h1m1 0h1m2 0h1m1 0h1m1 0h1m2 0h2m5 0h2m1 0h2m2 0h1m3 0h1m3 0h1m6 0h1m1 0h1m5 0h1m3 0h1m1 0h1m1 0h2m3 0h3m6 0h1m64 0h1m29 0h1M5 157.5h55m1 0h4m3 0h3m2 0h4m1 0h1m5 0h4m13 0h6m3 0h2m1 0h4m1 0h1m7 0h2m1 0h1m4 0h1m3 0h1m5 0h1m88 0h1M1 158.5h2m1 0h49m1 0h5m1 0h3m1 0h4m3 0h1m2 0h2m2 0h4m2 0h1m1 0h1m1 0h1m1 0h1m1 0h3m1 0h1m1 0h1m1 0h2m1 0h1m1 0h5m2 0h1m1 0h1m2 0h1m1 0h2m5 0h1m2 0h2m2 0h1m4 0h1m3 0h1m2 0h2m1 0h1m2 0h1m1 0h1M1 159.5h1m2 0h4m1 0h53m1 0h3m1 0h1m2 0h1m2 0h4m2 0h2m6 0h1m3 0h2m1 0h4m2 0h1m1 0h2m10 0h1m3 0h1m2 0h2m2 0h1m4 0h1m2 0h1m1 0h2m6 0h2m10 0h2m94 0h1M0 160.5h1m2 0h1m1 0h51m1 0h1m1 0h4m2 0h4m1 0h2m1 0h2m5 0h1m1 0h1m1 0h1m5 0h3m3 0h3m2 0h1m2 0h4m1 0h1m1 0h2m1 0h1m1 0h2m8 0h1m1 0h2m3 0h2M0 161.5h2m1 0h2m1 0h2m1 0h56m1 0h1m3 0h2m1 0h1m2 0h1m11 0h2m4 0h1m3 0h1m1 0h2m2 0h3m2 0h2m8 0h4m2 0h1m9 0h2m2 0h1m3 0h2m1 0h3m5 0h1m10 0h1m52 0h1M2 162.5h4m1 0h1m1 0h52m4 0h2m1 0h1m2 0h3m2 0h1m4 0h1m5 0h1m3 0h1m2 0h1m1 0h2m1 0h2m4 0h1m3 0h1m1 0h1m6 0h1m3 0h2m2 0h1m4 0h1m1 0h1m3 0h1m2 0h1m2 0h1m2 0h1m2 0h1M0 163.5h1m2 0h1m1 0h2m2 0h2m1 0h42m1 0h4m2 0h1m1 0h1m1 0h2m2 0h1m1 0h2m3 0h2m2 0h1m1 0h1m1 0h3m1 0h1m2 0h1m8 0h1m1 0h1m1 0h1m1 0h1m6 0h1m1 0h1m1 0h6m1 0h1m1 0h1m5 0h2m4 0h1m2 0h1m1 0h2m2 0h1m1 0h1m8 0h1M1 164.5h3m2 0h5m1 0h48m1 0h4m1 0h1m2 0h2m3 0h4m2 0h2m3 0h1m2 0h1m5 0h1m1 0h1m3 0h1m2 0h1m2 0h1m1 0h1m1 0h1m1 0h1m1 0h1m2 0h1m4 0h3m3 0h1m1 0h1m1 0h2m6 0h3m7 0h1M0 165.5h1m1 0h1m1 0h2m1 0h43m1 0h8m1 0h3m3 0h2m1 0h4m3 0h3m4 0h2m1 0h1m7 0h1m2 0h2m1 0h1m1 0h1m2 0h1m1 0h1m1 0h1m6 0h1m2 0h1m2 0h2m2 0h2m2 0h1m1 0h1m6 0h2m1 0h1m2 0h3m4 0h1m61 0h1m7 0h1m25 0h1M1 166.5h2m1 0h52m1 0h1m1 0h1m1 0h1m1 0h2m4 0h1m4 0h1m1 0h1m1 0h2m1 0h2m4 0h2m1 0h2m4 0h1m1 0h1m4 0h3m3 0h1m1 0h1m2 0h1m1 0h1m8 0h1m2 0h2m6 0h1m1 0h1m2 0h3m1 0h1m2 0h1m69 0h1M3 167.5h1m1 0h1m1 0h50m1 0h1m2 0h2m1 0h1m2 0h2m1 0h1m1 0h5m1 0h1m4 0h1m7 0h1m1 0h4m2 0h2m3 0h1m3 0h1m1 0h3m3 0h1m2 0h2m1 0h1m1 0h2m1 0h2m1 0h1m9 0h1m1 0h1m17 0h2M0 168.5h1m2 0h1m1 0h1m1 0h48m1 0h4m3 0h1m3 0h1m1 0h2m1 0h3m1 0h1m1 0h1m2 0h1m3 0h1m15 0h1m1 0h1m11 0h1m3 0h4m1 0h1m2 0h1m2 0h1m2 0h1m18 0h1m9 0h1M2 169.5h4m2 0h1m1 0h6m1 0h26m1 0h6m1 0h2m1 0h3m1 0h7m2 0h1m2 0h2m5 0h5m5 0h1m2 0h1m9 0h2m2 0h1m3 0h1m2 0h2m4 0h1m4 0h1m1 0h1m4 0h1m4 0h1m2 0h1m2 0h1m3 0h4M1 170.5h3m1 0h40m1 0h10m4 0h2m2 0h1m2 0h1m1 0h1m12 0h1m5 0h2m1 0h1m1 0h1m4 0h2m1 0h1m7 0h1m13 0h3m1 0h3m2 0h1m1 0h1m1 0h1m1 0h1m8 0h1m1 0h1m61 0h1M1 171.5h1m2 0h55m2 0h1m3 0h1m1 0h3m1 0h1m2 0h2m3 0h1m2 0h2m2 0h1m1 0h2m4 0h1m3 0h2m2 0h3m1 0h2m3 0h2m1 0h1m2 0h2m4 0h4m2 0h2m7 0h1m1 0h1m1 0h1m7 0h1M3 172.5h2m1 0h1m2 0h1m1 0h43m1 0h3m2 0h1m6 0h2m2 0h1m2 0h1m3 0h1m1 0h2m2 0h1m1 0h1m2 0h1m2 0h2m3 0h1m2 0h1m4 0h1m6 0h1m1 0h3m2 0h1m1 0h1m1 0h1m5 0h2m4 0h1m1 0h1m1 0h2m1 0h1m2 0h2m1 0h1m1 0h2m1 0h2M0 173.5h1m1 0h1m2 0h4m2 0h45m1 0h4m1 0h5m2 0h1m6 0h2m2 0h6m1 0h1m3 0h1m1 0h7m2 0h1m2 0h1m2 0h1m4 0h3m2 0h1m4 0h2m4 0h1m3 0h2m1 0h1m1 0h1m8 0h1m2 0h1m4 0h1M4 174.5h9m1 0h42m1 0h1m2 0h1m2 0h2m1 0h1m1 0h2m2 0h1m2 0h1m2 0h1m1 0h3m4 0h1m1 0h1m1 0h1m10 0h1m1 0h3m1 0h1m2 0h3m3 0h1m5 0h2m1 0h2m1 0h2m3 0h1m1 0h1m1 0h1m4 0h1m18 0h1M0 175.5h1m1 0h3m1 0h1m2 0h9m1 0h34m1 0h11m3 0h3m1 0h1m5 0h1m6 0h2m2 0h1m1 0h3m2 0h1m1 0h1m4 0h1m4 0h1m4 0h2m1 0h1m3 0h2m3 0h5m1 0h1m5 0h1m7 0h2m2 0h1m13 0h1M4 176.5h1m2 0h4m1 0h44m2 0h1m1 0h1m1 0h2m1 0h4m1 0h1m1 0h1m1 0h1m2 0h1m1 0h2m11 0h1m1 0h2m1 0h3m6 0h3m2 0h2m1 0h1m2 0h2m3 0h1m3 0h1m1 0h2m2 0h1m4 0h1m6 0h2m7 0h1m2 0h1m1 0h1M0 177.5h2m1 0h3m2 0h9m1 0h32m1 0h3m1 0h3m1 0h4m2 0h2m2 0h1m6 0h4m3 0h1m2 0h2m1 0h3m1 0h1m1 0h2m1 0h1m1 0h1m1 0h2m1 0h1m1 0h2m11 0h3m1 0h1m4 0h2m2 0h1m5 0h3m7 0h1M3 178.5h2m3 0h1m1 0h48m1 0h8m1 0h2m1 0h1m5 0h1m5 0h1m3 0h2m5 0h1m7 0h1m1 0h1m3 0h1m7 0h2m4 0h1m2 0h2m1 0h2m4 0h1m1 0h1m1 0h2m4 0h1M0 179.5h2m1 0h1m1 0h1m1 0h1m2 0h5m1 0h44m1 0h1m3 0h1m4 0h2m3 0h2m3 0h1m4 0h1m3 0h3m1 0h2m2 0h1m1 0h2m1 0h1m2 0h2m4 0h2m11 0h1m2 0h2m1 0h1m2 0h1m6 0h1m2 0h1m5 0h1m4 0h1m15 0h1M3 180.5h5m1 0h39m1 0h4m1 0h2m1 0h1m1 0h2m1 0h2m1 0h5m2 0h1m2 0h1m2 0h2m3 0h1m2 0h1m2 0h1m2 0h1m1 0h1m2 0h2m3 0h2m1 0h4m7 0h1m3 0h2m1 0h1m2 0h2m1 0h1m1 0h1m4 0h3m1 0h1m5 0h3m1 0h1m3 0h1m7 0h1m38 0h1M0 181.5h4m4 0h1m2 0h41m1 0h5m3 0h2m2 0h2m1 0h1m1 0h5m2 0h2m2 0h1m4 0h1m2 0h1m1 0h2m6 0h1m2 0h1m4 0h3m2 0h2m4 0h1m2 0h2m3 0h2m1 0h1m1 0h1m1 0h1m9 0h1m16 0h1M0 182.5h1m2 0h2m2 0h3m1 0h43m1 0h1m2 0h2m2 0h1m1 0h2m4 0h1m1 0h1m2 0h2m3 0h1m2 0h1m2 0h1m1 0h1m1 0h2m2 0h1m4 0h2m1 0h1m1 0h1m1 0h1m3 0h2m4 0h2m1 0h1m1 0h1m1 0h2m1 0h2m3 0h3m1 0h2m2 0h1m4 0h2M0 183.5h1m1 0h1m1 0h1m2 0h3m1 0h41m1 0h4m1 0h3m1 0h1m2 0h2m1 0h1m10 0h1m4 0h3m1 0h1m1 0h1m2 0h1m1 0h2m3 0h2m1 0h2m1 0h2m3 0h2m12 0h1m2 0h1m11 0h1m3 0h2m2 0h1m5 0h1m5 0h1m9 0h1M0 184.5h1m1 0h1m1 0h2m1 0h2m1 0h1m1 0h2m1 0h38m1 0h6m1 0h5m1 0h2m1 0h3m1 0h1m1 0h2m1 0h1m3 0h1m2 0h3m2 0h2m3 0h1m3 0h2m1 0h1m10 0h3m5 0h2m5 0h2m1 0h3m3 0h3m6 0h2m4 0h1m38 0h1M3 185.5h1m1 0h1m2 0h1m1 0h6m1 0h42m2 0h2m7 0h1m3 0h1m1 0h1m1 0h1m1 0h1m4 0h1m12 0h1m4 0h1m1 0h2m3 0h1m1 0h3m2 0h2m2 0h1m1 0h1m2 0h1m1 0h1m4 0h1m2 0h1m1 0h1m13 0h1m2 0h1M5 186.5h2m3 0h42m1 0h3m1 0h3m1 0h1m1 0h1m4 0h1m1 0h1m1 0h1m2 0h1m5 0h2m4 0h2m3 0h1m1 0h1m2 0h1m2 0h1m1 0h3m5 0h1m2 0h1m1 0h1m1 0h1m1 0h2m3 0h2m6 0h1m1 0h2m4 0h3m4 0h2m1 0h1m37 0h1m62 0h1M2 187.5h1m1 0h1m1 0h3m1 0h2m2 0h1m1 0h37m1 0h3m1 0h1m1 0h1m1 0h1m1 0h1m11 0h2m2 0h1m2 0h2m4 0h1m6 0h1m1 0h1m3 0h2m1 0h2m4 0h3m1 0h1m2 0h2m2 0h3m7 0h1m6 0h2m11 0h1m9 0h1m3 0h1m77 0h1M1 188.5h1m1 0h2m1 0h6m1 0h5m1 0h33m1 0h10m2 0h2m2 0h1m4 0h2m2 0h2m1 0h2m2 0h4m2 0h1m6 0h2m9 0h2m1 0h1m11 0h1m1 0h1m1 0h1m8 0h3m4 0h2m5 0h1m90 0h1M3 189.5h1m1 0h3m2 0h2m1 0h46m3 0h1m2 0h1m3 0h1m3 0h1m1 0h3m3 0h1m1 0h1m2 0h1m4 0h1m2 0h2m1 0h2m3 0h1m1 0h1m3 0h2m6 0h2m2 0h1m1 0h2m1 0h1m3 0h1m2 0h1m3 0h1m11 0h1m3 0h1m1 0h1m8 0h1M1 190.5h1m2 0h1m1 0h2m1 0h3m1 0h4m1 0h36m1 0h3m1 0h1m2 0h1m2 0h1m1 0h2m6 0h1m1 0h3m3 0h1m3 0h1m6 0h2m1 0h1m7 0h1m2 0h1m3 0h2m1 0h1m7 0h3m1 0h1m2 0h1m2 0h1m7 0h1m7 0h1m14 0h1M4 191.5h1m1 0h2m3 0h1m3 0h39m1 0h2m12 0h1m2 0h2m3 0h1m3 0h2m2 0h2m3 0h1m8 0h4m1 0h3m1 0h1m5 0h1m1 0h1m1 0h1m2 0h2m6 0h1m5 0h1m3 0h2m1 0h1m2 0h3m1 0h1m1 0h1m2 0h1M4 192.5h1m3 0h1m1 0h2m2 0h42m1 0h1m1 0h1m2 0h1m1 0h1m1 0h1m2 0h1m4 0h1m8 0h1m1 0h2m3 0h1m1 0h1m2 0h1m2 0h1m1 0h1m4 0h1m2 0h1m2 0h1m2 0h1m5 0h1m5 0h2m1 0h1m1 0h3m2 0h1m1 0h1m3 0h1m4 0h1m5 0h1m3 0h1M5 193.5h1m2 0h1m1 0h1m1 0h1m1 0h2m1 0h37m1 0h1m1 0h1m1 0h1m1 0h1m1 0h1m1 0h1m1 0h1m2 0h2m4 0h6m1 0h2m1 0h4m2 0h1m2 0h2m2 0h7m1 0h7m1 0h3m1 0h1m2 0h1m1 0h1m1 0h3m3 0h2m1 0h1m4 0h1m4 0h2M3 194.5h3m1 0h4m1 0h1m1 0h15m1 0h21m1 0h5m5 0h2m1 0h1m1 0h4m1 0h2m1 0h1m1 0h2m2 0h1m3 0h2m1 0h3m3 0h1m1 0h1m2 0h3m1 0h3m1 0h4m1 0h7m1 0h5m1 0h1m1 0h1m3 0h1m3 0h3m1 0h1m1 0h1m3 0h1m5 0h1m6 0h1m9 0h1M5 195.5h1m4 0h1m1 0h4m1 0h33m1 0h4m1 0h1m1 0h1m1 0h1m3 0h2m3 0h1m2 0h2m1 0h1m1 0h3m1 0h2m1 0h3m1 0h2m1 0h3m1 0h1m1 0h4m2 0h11m1 0h7m1 0h1m1 0h2m1 0h12m1 0h2m1 0h3m1 0h1M1 196.5h1m4 0h1m3 0h1m2 0h1m1 0h36m1 0h3m1 0h2m1 0h2m1 0h1m1 0h2m1 0h1m1 0h4m1 0h1m1 0h1m1 0h5m1 0h4m1 0h11m1 0h19m1 0h8m1 0h12m2 0h5M0 197.5h1m7 0h1m1 0h2m1 0h2m2 0h44m1 0h2m1 0h72m2 0h7m1 0h3m1 0h1m31 0h1M0 198.5h1m4 0h2m1 0h5m1 0h3m1 0h38m2 0h27m1 0h49m1 0h12m4 0h1m14 0h1M2 199.5h2m2 0h1m2 0h2m4 0h3m1 0h1m1 0h122m2 0h4m1 0h3m1 0h1m1 0h1m24 0h2M3 200.5h1m2 0h1m3 0h3m2 0h2m1 0h128m1 0h1m1 0h3M7 201.5h3m3 0h1m3 0h135m5 0h1M7 202.5h1m5 0h1m1 0h1m1 0h1m1 0h133m1 0h2m1 0h1M3 203.5h1m7 0h2m1 0h2m1 0h3m1 0h130m1 0h3m1 0h1m4 0h1m10 0h1m21 0h1m55 0h1M4 204.5h1m3 0h1m3 0h2m1 0h142m1 0h1m1 0h1M8 205.5h1m6 0h3m1 0h1m1 0h136m3 0h1m8 0h1M0 206.5h1m4 0h3m2 0h2m4 0h2m2 0h137m5 0h1m46 0h1m23 0h1M12 207.5h1m3 0h1m1 0h140m3 0h1M7 208.5h1m5 0h1m1 0h1m2 0h1m1 0h138M2 209.5h1m10 0h6m1 0h140m2 0h1m3 0h1m19 0h1m64 0h1M10 210.5h1m1 0h1m3 0h145m1 0h1m7 0h1m12 0h1m35 0h1M14 211.5h147m1 0h1m4 0h1m22 0h1m50 0h1M0 212.5h1m2 0h2m2 0h2m2 0h1m3 0h1m1 0h144m2 0h2M0 213.5h1m1 0h5m1 0h1m1 0h2m1 0h2m2 0h145m1 0h1m1 0h1M2 214.5h7m1 0h154m3 0h1M0 215.5h1m1 0h2m1 0h4m1 0h156m1 0h1M1 216.5h11m1 0h152m1 0h1m2 0h1M0 217.5h163m1 0h1m1 0h2m3 0h1M0 218.5h7m2 0h157m3 0h1M0 219.5h166m1 0h3m2 0h2M0 220.5h166m2 0h2m3 0h1M0 221.5h166m1 0h1m1 0h1M0 222.5h171m3 0h1m1 0h1M0 223.5h165m1 0h1m2 0h1m3 0h1m4 0h1M0 224.5h164m1 0h3m1 0h1M0 225.5h168m1 0h1m33 0h1M0 226.5h48m1 0h116m1 0h4m2 0h1M0 227.5h170m70 0h1M0 228.5h166m1 0h4m6 0h1M0 229.5h167m1 0h3M0 230.5h164m1 0h3M0 231.5h164m1 0h1m2 0h1m7 0h1M0 232.5h161m1 0h2m67 0h1M0 233.5h167m14 0h1m5 0h1m55 0h1M0 234.5h11m1 0h149m2 0h2M0 235.5h160m2 0h4m7 0h1M0 236.5h162M0 237.5h1m1 0h2m1 0h152m1 0h4M0 238.5h160m3 0h1m4 0h1M1 239.5h6m1 0h5m1 0h4m1 0h1m1 0h11m1 0h126m1 0h1m4 0h1M3 240.5h1m4 0h1m2 0h3m2 0h1m1 0h1m2 0h7m2 0h3m1 0h123m1 0h2m60 0h1M5 241.5h2m3 0h1m8 0h1m1 0h2m1 0h1m1 0h10m1 0h4m1 0h115m1 0h1m1 0h1M16 242.5h1m3 0h1m4 0h1m1 0h1m3 0h2m1 0h10m2 0h5m1 0h2m1 0h105M17 243.5h2m5 0h1m3 0h1m3 0h2m2 0h2m1 0h1m1 0h6m1 0h2m1 0h2m1 0h100m1 0h2m1 0h2M9 244.5h1m23 0h1m5 0h3m2 0h2m1 0h5m1 0h3m1 0h99m6 0h1M23 245.5h1m3 0h1m13 0h1m1 0h2m4 0h1m3 0h1m2 0h1m1 0h1m2 0h96m1 0h1m2 0h1M26 246.5h1m10 0h1m16 0h1m2 0h1m1 0h11m1 0h6m1 0h72m1 0h4m1 0h1m2 0h1M62 247.5h1m5 0h78m1 0h7m1 0h2m71 0h1M62 248.5h1m4 0h2m5 0h1m2 0h29m1 0h46m2 0h1m65 0h1M72 249.5h5m1 0h1m1 0h2m1 0h70m4 0h1m28 0h1M72 250.5h1m4 0h2m4 0h2m1 0h2m1 0h6m1 0h2m1 0h53M81 251.5h1m3 0h2m1 0h58m1 0h1m1 0h1M80 252.5h1m5 0h1m2 0h1m1 0h3m1 0h2m1 0h38m1 0h1m1 0h5m1 0h1m1 0h1M66 253.5h1m15 0h1m5 0h2m1 0h1m2 0h47m1 0h2m1 0h1"/>
<path stroke="#3a62b3" d="M31 111.5h1m2 0h2M28 112.5h8M27 113.5h10M27 114.5h11M27 115.5h12M26 116.5h14M25 117.5h15M25 118.5h15M25 119.5h16M24 120.5h18M23 121.5h19M23 122.5h19M24 123.5h18M23 124.5h19M22 125.5h20M22 126.5h21M22 127.5h21M22 128.5h21M22 129.5h21M21 130.5h22M21 131.5h23M21 132.5h23M21 133.5h23M21 134.5h23M21 135.5h23M21 136.5h23M21 137.5h23M21 138.5h23M21 139.5h23M21 140.5h23M21 141.5h23M21 142.5h23M21 143.5h23M21 144.5h23M22 145.5h22M22 146.5h22M22 147.5h22M22 148.5h22M23 149.5h20M23 150.5h20M23 151.5h20M23 152.5h20M23 153.5h19M24 154.5h18M24 155.5h18M24 156.5h17M24 157.5h17M25 158.5h15M26 159.5h14M26 160.5h14M27 161.5h10M27 162.5h9M27 163.5h9M33 164.5h3M99 206.5h6m2 0h5m1 0h9M97 207.5h32M93 208.5h42M90 209.5h49M87 210.5h53M85 211.5h58M82 212.5h63M80 213.5h67M78 214.5h70M76 215.5h72M74 216.5h76M72 217.5h80M71 218.5h82M70 219.5h84M69 220.5h85M26 221.5h5m37 0h87M25 222.5h8m35 0h87M24 223.5h10m34 0h87M24 224.5h10m33 0h88M24 225.5h9m34 0h88M25 226.5h8m35 0h86M26 227.5h6m36 0h86M69 228.5h85M70 229.5h83M72 230.5h79M74 231.5h76M78 232.5h71M78 233.5h71M80 234.5h67M80 235.5h64M83 236.5h60M85 237.5h54M90 238.5h44M93 239.5h40M98 240.5h31M113 241.5h3m4 0h2"/>
<path stroke="#3c70c0" d="M30 114.5h5M29 115.5h8M28 116.5h11M27 117.5h12M26 118.5h13M26 119.5h14M26 120.5h15M25 121.5h16M24 122.5h17M24 123.5h18M24 124.5h18M23 125.5h19M23 126.5h19M23 127.5h19M23 128.5h19M22 129.5h21M22 130.5h21M22 131.5h21M22 132.5h21M22 133.5h21M22 134.5h21M22 135.5h22M22 136.5h22M22 137.5h21M22 138.5h21M22 139.5h22M22 140.5h22M21 141.5h22M21 142.5h22M22 143.5h21M22 144.5h21M22 145.5h21M22 146.5h21M23 147.5h20M23 148.5h19M23 149.5h19M24 150.5h18M24 151.5h18M24 152.5h18M24 153.5h18M24 154.5h18M25 155.5h16M25 156.5h15M25 157.5h14M26 158.5h13M27 159.5h12M28 160.5h8M28 161.5h7M32 162.5h2M33 163.5h1M99 207.5h26M95 208.5h38M93 209.5h43M90 210.5h49M87 211.5h54M84 212.5h59M82 213.5h64M80 214.5h67M78 215.5h69M75 216.5h74M74 217.5h76M72 218.5h79M70 219.5h82M70 220.5h83M27 221.5h3m39 0h84M26 222.5h6m37 0h84M25 223.5h8m35 0h86M24 224.5h9m35 0h86M25 225.5h8m35 0h85M25 226.5h7m36 0h84M27 227.5h4m38 0h83M70 228.5h82M71 229.5h79M73 230.5h76M76 231.5h72M79 232.5h69M80 233.5h68M81 234.5h63M83 235.5h60M85 236.5h54M88 237.5h49M92 238.5h41M98 239.5h31M104 240.5h1m2 0h17"/>
<path stroke="#3e84cc" d="M31 115.5h2M29 116.5h8M28 117.5h10M27 118.5h12M27 119.5h12M26 120.5h14M26 121.5h14M25 122.5h15M25 123.5h15M24 124.5h17M24 125.5h17M24 126.5h17M24 127.5h17M24 128.5h18M23 129.5h19M23 130.5h19M23 131.5h19M23 132.5h19M22 133.5h21M22 134.5h21M22 135.5h21M22 136.5h21M23 137.5h20M23 138.5h20M22 139.5h21M22 140.5h21M22 141.5h21M22 142.5h20M23 143.5h19M23 144.5h19M23 145.5h19M23 146.5h19M23 147.5h19M24 148.5h18M24 149.5h17M24 150.5h17M24 151.5h17M25 152.5h16M25 153.5h16M25 154.5h16M25 155.5h15M26 156.5h13M27 157.5h11M27 158.5h10M28 159.5h7M29 160.5h5M32 161.5h1M109 207.5h2m4 0h5M99 208.5h29M95 209.5h38M91 210.5h44M89 211.5h51M87 212.5h54M83 213.5h61M80 214.5h66M79 215.5h68M78 216.5h70M76 217.5h73M73 218.5h76M71 219.5h79M70 220.5h81M69 221.5h82M26 222.5h6m37 0h83M25 223.5h8m36 0h83M25 224.5h8m36 0h83M25 225.5h7m37 0h83M26 226.5h6m37 0h82M70 227.5h81M71 228.5h78M72 229.5h77M75 230.5h73M79 231.5h68M81 232.5h66M82 233.5h62M84 234.5h59M85 235.5h56M87 236.5h51M92 237.5h41M98 238.5h32M101 239.5h24"/>
<path stroke="#3f98d7" d="M29 117.5h6M28 118.5h8M28 119.5h10M27 120.5h11M27 121.5h12M26 122.5h13M25 123.5h14M25 124.5h15M25 125.5h16M24 126.5h17M24 127.5h17M25 128.5h16M24 129.5h17M24 130.5h17M24 131.5h17M23 132.5h19M23 133.5h19M23 134.5h19M23 135.5h19M23 136.5h19M23 137.5h19M23 138.5h19M23 139.5h19M23 140.5h20M23 141.5h19M23 142.5h19M23 143.5h19M24 144.5h18M24 145.5h17M24 146.5h17M24 147.5h17M24 148.5h17M24 149.5h17M25 150.5h16M25 151.5h15M25 152.5h15M26 153.5h14M26 154.5h14M26 155.5h13M27 156.5h11M28 157.5h9M28 158.5h7M29 159.5h4M105 208.5h20M96 209.5h34M93 210.5h41M90 211.5h46M88 212.5h52M84 213.5h58M81 214.5h64M80 215.5h66M80 216.5h67M78 217.5h70M75 218.5h73M72 219.5h77M71 220.5h79M70 221.5h80M27 222.5h4m39 0h81M26 223.5h6m37 0h82M25 224.5h7m37 0h83M26 225.5h6m37 0h82M27 226.5h4m39 0h81M71 227.5h78M72 228.5h77M74 229.5h74M76 230.5h71M80 231.5h66M82 232.5h62M83 233.5h60M85 234.5h56M87 235.5h52M92 236.5h45M95 237.5h37M99 238.5h29M108 239.5h11"/>
<path stroke="#41abe1" d="M29 118.5h5M28 119.5h8M27 120.5h10M27 121.5h11M27 122.5h11M26 123.5h13M25 124.5h14M25 125.5h15M25 126.5h15M25 127.5h15M25 128.5h15M25 129.5h16M24 130.5h17M24 131.5h17M24 132.5h17M23 133.5h19M23 134.5h19M23 135.5h19M24 136.5h18M24 137.5h17M24 138.5h18M23 139.5h19M23 140.5h19M23 141.5h19M23 142.5h18M24 143.5h17M24 144.5h17M24 145.5h17M24 146.5h17M24 147.5h17M25 148.5h16M25 149.5h16M25 150.5h15M25 151.5h15M26 152.5h14M26 153.5h13M27 154.5h12M27 155.5h11M28 156.5h9M29 157.5h7M29 158.5h4M115 208.5h4M100 209.5h28M94 210.5h39M91 211.5h44M89 212.5h50M88 213.5h52M84 214.5h59M81 215.5h63M80 216.5h65M79 217.5h68M77 218.5h71M72 219.5h76M71 220.5h78M70 221.5h79M28 222.5h2m40 0h80M26 223.5h6m38 0h80M26 224.5h6m38 0h81M26 225.5h5m39 0h81M27 226.5h3m40 0h79M71 227.5h78M72 228.5h76M75 229.5h72M79 230.5h67M82 231.5h63M83 232.5h61M84 233.5h58M86 234.5h54M88 235.5h50M93 236.5h40m2 0h1M98 237.5h31M101 238.5h23M113 239.5h1m3 0h1"/>
<path stroke="#42bbea" d="M30 118.5h3M29 119.5h6M28 120.5h8M28 121.5h9M27 122.5h11M27 123.5h11M26 124.5h13M25 125.5h14M25 126.5h15M25 127.5h15M25 128.5h15M25 129.5h15M25 130.5h15M25 131.5h15M24 132.5h17M24 133.5h17M24 134.5h17M24 135.5h17M24 136.5h17M24 137.5h17M24 138.5h17M24 139.5h18M24 140.5h18M24 141.5h17M24 142.5h17M24 143.5h17M25 144.5h16M25 145.5h16M25 146.5h16M25 147.5h15M25 148.5h15M25 149.5h15M25 150.5h15M26 151.5h13M26 152.5h13M27 153.5h12M28 154.5h10M28 155.5h9M29 156.5h7M32 157.5h2M105 209.5h21M96 210.5h36M93 211.5h41M90 212.5h47M88 213.5h52M86 214.5h54M84 215.5h60M81 216.5h63M80 217.5h66M78 218.5h69M74 219.5h74M71 220.5h77M71 221.5h78M70 222.5h79M27 223.5h4m39 0h79M26 224.5h5m39 0h80M27 225.5h4m39 0h79M28 226.5h2m41 0h78M71 227.5h77M73 228.5h75M76 229.5h71M80 230.5h66M83 231.5h61M84 232.5h59M86 233.5h55M88 234.5h51M91 235.5h46M95 236.5h37M99 237.5h28M102 238.5h2m4 0h12"/>
<path stroke="#42c0ec" d="M30 119.5h4M29 120.5h7M28 121.5h8M28 122.5h9M28 123.5h10M27 124.5h11M26 125.5h13M26 126.5h13M26 127.5h14M26 128.5h14M26 129.5h14M25 130.5h15M25 131.5h15M25 132.5h15M24 133.5h17M24 134.5h17M24 135.5h17M24 136.5h17M24 137.5h17M24 138.5h17M24 139.5h17M24 140.5h17M24 141.5h17M24 142.5h17M24 143.5h17M25 144.5h16M25 145.5h15M25 146.5h15M25 147.5h15M25 148.5h15M26 149.5h14M26 150.5h13M26 151.5h13M27 152.5h12M28 153.5h10M28 154.5h9M28 155.5h8M32 156.5h2M106 209.5h16M97 210.5h31M94 211.5h39M91 212.5h45M89 213.5h50M88 214.5h52M85 215.5h57M83 216.5h60M81 217.5h63M79 218.5h68M75 219.5h72M72 220.5h76M71 221.5h77M70 222.5h79M27 223.5h3m40 0h78M27 224.5h4m39 0h78M27 225.5h4m40 0h78M71 226.5h77M72 227.5h76M73 228.5h74M78 229.5h68M80 230.5h65M84 231.5h59M85 232.5h57M87 233.5h53M89 234.5h50M92 235.5h42M97 236.5h32M99 237.5h27M112 238.5h3"/>
<path stroke="#43c6ee" d="M31 120.5h3M29 121.5h7M28 122.5h8M29 123.5h8M28 124.5h10M26 125.5h13M26 126.5h13M26 127.5h13M26 128.5h13M26 129.5h13M26 130.5h14M26 131.5h13M25 132.5h15M25 133.5h16M25 134.5h16M25 135.5h16M25 136.5h15M25 137.5h15M25 138.5h15M25 139.5h16M25 140.5h16M25 141.5h15M24 142.5h16M25 143.5h15M25 144.5h15M25 145.5h15M26 146.5h14M26 147.5h14M26 148.5h14M26 149.5h13M26 150.5h13M27 151.5h11M27 152.5h11M28 153.5h10M28 154.5h9M31 155.5h3M117 209.5h1M101 210.5h26M95 211.5h37M93 212.5h42M89 213.5h50M88 214.5h51M86 215.5h55M85 216.5h58M82 217.5h62M80 218.5h65M76 219.5h71M73 220.5h74M71 221.5h76M71 222.5h76M28 223.5h2m40 0h77M27 224.5h3m41 0h77M27 225.5h3m41 0h77M71 226.5h77M72 227.5h76M74 228.5h73M79 229.5h66M82 230.5h62M84 231.5h58M86 232.5h55M88 233.5h52M90 234.5h48M93 235.5h39M98 236.5h30M100 237.5h22M113 238.5h1"/>
<path stroke="#4bc6de" d="M30 121.5h2M29 122.5h4M29 123.5h7M29 124.5h8M28 125.5h10M27 126.5h11M26 127.5h13M26 128.5h13M26 129.5h13M27 130.5h12M26 131.5h13M26 132.5h13M25 133.5h15M25 134.5h15M25 135.5h15M25 136.5h15M25 137.5h15M25 138.5h15M25 139.5h15M25 140.5h15M25 141.5h15M25 142.5h15M25 143.5h15M26 144.5h14M26 145.5h13M26 146.5h13M26 147.5h13M27 148.5h12M27 149.5h11M27 150.5h10M28 151.5h9M28 152.5h9M29 153.5h8M31 154.5h3M105 210.5h17M97 211.5h32M94 212.5h39M91 213.5h45M89 214.5h50M88 215.5h52M86 216.5h56M85 217.5h58M80 218.5h64M78 219.5h67M75 220.5h71M72 221.5h74M71 222.5h75M71 223.5h75M28 224.5h2m41 0h76M28 225.5h1m42 0h76M72 226.5h75M73 227.5h74M77 228.5h68M80 229.5h64M83 230.5h59M85 231.5h56M87 232.5h53M89 233.5h50M92 234.5h42M95 235.5h36M99 236.5h28M112 237.5h3m3 0h1"/>
<path stroke="#53c5ce" d="M30 122.5h1M30 123.5h3M30 124.5h5M29 125.5h8M28 126.5h9M27 127.5h11M27 128.5h11M27 129.5h11M27 130.5h11M27 131.5h12M27 132.5h12M26 133.5h13M26 134.5h13M26 135.5h13M26 136.5h14M26 137.5h13M26 138.5h13M26 139.5h13M26 140.5h13M26 141.5h13M26 142.5h13M26 143.5h13M26 144.5h13M26 145.5h13M27 146.5h11M27 147.5h11M28 148.5h10M28 149.5h9M28 150.5h9M29 151.5h7M31 152.5h5M32 153.5h3M109 210.5h5m3 0h1M98 211.5h1m2 0h26M96 212.5h35M94 213.5h41M90 214.5h48M88 215.5h51M87 216.5h54M86 217.5h56M81 218.5h62M79 219.5h65M75 220.5h70M74 221.5h72M71 222.5h75M71 223.5h74M72 224.5h74M72 225.5h74M72 226.5h74M74 227.5h71M79 228.5h65M82 229.5h60M84 230.5h57M86 231.5h54M88 232.5h51M91 233.5h47M93 234.5h40M98 235.5h31M100 236.5h22M113 237.5h1"/>
<path stroke="#5ac4ba" d="M31 124.5h3M30 125.5h5M29 126.5h7M28 127.5h9M28 128.5h10M28 129.5h10M28 130.5h10M27 131.5h11M27 132.5h11M27 133.5h11M27 134.5h11M26 135.5h13M26 136.5h13M26 137.5h13M27 138.5h12M27 139.5h12M27 140.5h12M27 141.5h12M27 142.5h12M27 143.5h11M27 144.5h11M27 145.5h11M27 146.5h11M28 147.5h9M28 148.5h9M29 149.5h7M29 150.5h6M31 151.5h2M32 152.5h2M102 211.5h1m1 0h22M97 212.5h33M95 213.5h39M93 214.5h43M89 215.5h50M88 216.5h52M87 217.5h55M84 218.5h58M80 219.5h63M77 220.5h67M75 221.5h70M72 222.5h73M72 223.5h73M72 224.5h73M72 225.5h73M73 226.5h71M76 227.5h67M81 228.5h62M83 229.5h58M85 230.5h55M87 231.5h52M90 232.5h48M93 233.5h42M95 234.5h37M99 235.5h28M107 236.5h3m2 0h3m3 0h2"/>
<path stroke="#61c39e" d="M31 125.5h3M30 126.5h5M29 127.5h7M29 128.5h8M29 129.5h8M28 130.5h10M28 131.5h10M28 132.5h10M27 133.5h11M27 134.5h11M27 135.5h11M27 136.5h11M27 137.5h11M27 138.5h11M27 139.5h11M27 140.5h11M27 141.5h11M27 142.5h11M27 143.5h11M27 144.5h11M28 145.5h9M29 146.5h8M29 147.5h8M29 148.5h7M29 149.5h6M30 150.5h4M108 211.5h10M98 212.5h1m3 0h26M97 213.5h35M94 214.5h42M92 215.5h46M88 216.5h51M87 217.5h54M86 218.5h56M81 219.5h62M78 220.5h66M76 221.5h68M75 222.5h69M72 223.5h72M72 224.5h72M73 225.5h71M74 226.5h69M79 227.5h64M82 228.5h60M84 229.5h57M86 230.5h53M88 231.5h50M93 232.5h44M95 233.5h39M99 234.5h31M100 235.5h1m2 0h23M113 236.5h1"/>
<path stroke="#67c181" d="M31 126.5h2M30 127.5h4M30 128.5h6M30 129.5h6M29 130.5h8M28 131.5h9M28 132.5h10M28 133.5h9M28 134.5h9M27 135.5h10M27 136.5h11M28 137.5h10M28 138.5h10M28 139.5h10M27 140.5h11M28 141.5h10M28 142.5h10M28 143.5h10M28 144.5h9M28 145.5h9M30 146.5h6M30 147.5h6M30 148.5h5M30 149.5h4M109 211.5h3M105 212.5h22M98 213.5h32M96 214.5h38M93 215.5h44M89 216.5h49M88 217.5h52M87 218.5h54M82 219.5h60M80 220.5h63M77 221.5h66M76 222.5h68M74 223.5h70M73 224.5h71M73 225.5h70M77 226.5h66M81 227.5h61M83 228.5h58M85 229.5h55M87 230.5h51M91 231.5h46M94 232.5h42M98 233.5h34M100 234.5h27M106 235.5h16"/>
<path stroke="#6cc067" d="M31 127.5h2M31 128.5h2m1 0h1M31 129.5h5M30 130.5h6M29 131.5h8M29 132.5h8M28 133.5h9M28 134.5h9M28 135.5h8M28 136.5h9M28 137.5h9M28 138.5h10M28 139.5h9M28 140.5h9M28 141.5h9M28 142.5h9M28 143.5h9M28 144.5h8M30 145.5h6M32 146.5h4M33 148.5h1M106 212.5h20M101 213.5h29M97 214.5h36M94 215.5h42M92 216.5h46M88 217.5h51M87 218.5h53M83 219.5h59M81 220.5h61M77 221.5h66M76 222.5h67M75 223.5h68M74 224.5h69M75 225.5h68M78 226.5h64M82 227.5h59M84 228.5h56M86 229.5h53M88 230.5h50M93 231.5h43M96 232.5h38M99 233.5h32M103 234.5h24M107 235.5h3m2 0h2m2 0h1"/>
<path stroke="#6cbf54" d="M34 129.5h1M31 130.5h5M30 131.5h6M29 132.5h8M29 133.5h7M29 134.5h7M29 135.5h7M29 136.5h7M29 137.5h8M28 138.5h9M28 139.5h9M28 140.5h8M28 141.5h9M28 142.5h9M29 143.5h7M29 144.5h7M31 145.5h5M108 212.5h13M102 213.5h27M98 214.5h34M95 215.5h41M93 216.5h44M89 217.5h49M88 218.5h52M85 219.5h56M82 220.5h60M78 221.5h64M77 222.5h66M76 223.5h67M76 224.5h67M77 225.5h65M81 226.5h61M83 227.5h58M85 228.5h55M87 229.5h52M90 230.5h47M94 231.5h42M97 232.5h35M100 233.5h29M106 234.5h20"/>
<path stroke="#75c147" d="M110 214.5h13M106 215.5h23M104 216.5h28M99 217.5h34M97 218.5h38M93 219.5h44M91 220.5h47M89 221.5h49M87 222.5h51M86 223.5h52M86 224.5h53M86 225.5h52M88 226.5h50M91 227.5h46M96 228.5h39M98 229.5h36M102 230.5h28M106 231.5h22M114 232.5h7"/>
<path stroke="#80c442" d="M113 216.5h10M109 217.5h20M106 218.5h25M104 219.5h29M99 220.5h35M97 221.5h38M95 222.5h41M94 223.5h42M95 224.5h41M97 225.5h38M98 226.5h36M102 227.5h31M106 228.5h25M108 229.5h20M113 230.5h11"/>
<path stroke="#a1cf37" d="M116 216.5h5M110 217.5h18M107 218.5h23M105 219.5h26M104 220.5h29M99 221.5h35M98 222.5h37M96 223.5h39M97 224.5h38M99 225.5h35M101 226.5h32M104 227.5h28M107 228.5h22M111 229.5h16M119 230.5h1"/>
<path stroke="#c2da2d" d="M112 217.5h15M109 218.5h20M106 219.5h25M105 220.5h27M104 221.5h29M99 222.5h35M99 223.5h35M99 224.5h35M100 225.5h33M104 226.5h28M106 227.5h25M109 228.5h19M112 229.5h13"/>
<path stroke="#dee422" d="M113 217.5h10M110 218.5h18M108 219.5h22M106 220.5h25M105 221.5h28M103 222.5h30M100 223.5h34M100 224.5h3m1 0h29M105 225.5h28M105 226.5h27M107 227.5h23M111 228.5h16M114 229.5h9"/>
<path stroke="#fbee16" d="M117 217.5h3M112 218.5h15M109 219.5h20M107 220.5h23M105 221.5h27M104 222.5h28M104 223.5h29M105 224.5h28M106 225.5h26M107 226.5h24M109 227.5h19M112 228.5h14"/>
<path stroke="#fad818" d="M113 218.5h12M110 219.5h18M108 220.5h22M106 221.5h25M105 222.5h26M105 223.5h27M106 224.5h26M107 225.5h24M108 226.5h22M110 227.5h18M113 228.5h11"/>
<path stroke="#fac119" d="M115 218.5h9M111 219.5h16M110 220.5h19M108 221.5h22M106 222.5h25M106 223.5h25M107 224.5h24M108 225.5h23M109 226.5h20M111 227.5h16M115 228.5h8"/>
<path stroke="#f9ab1b" d="M117 218.5h4M112 219.5h14M110 220.5h18M109 221.5h20M108 222.5h22M107 223.5h23M108 224.5h23M108 225.5h22M110 226.5h18M112 227.5h14M117 228.5h1"/>
<path stroke="#f7951d" d="M113 219.5h12M111 220.5h16M110 221.5h19M109 222.5h21M108 223.5h22M108 224.5h22M109 225.5h20M111 226.5h16M114 227.5h11"/>
<path stroke="#f48020" d="M115 219.5h9M112 220.5h15M110 221.5h18M109 222.5h20M109 223.5h20M109 224.5h20M110 225.5h18M112 226.5h15M115 227.5h9"/>
<path stroke="#f26a22" d="M117 219.5h4M113 220.5h13M111 221.5h17M110 222.5h19M109 223.5h20M110 224.5h19M111 225.5h17M113 226.5h13M117 227.5h5"/>
<path stroke="#f04323" d="M114 220.5h10M111 221.5h16M110 222.5h18M110 223.5h18M111 224.5h17M112 225.5h15M115 226.5h10"/>
<path stroke="#ed1c24" d="M116 220.5h6M113 221.5h12M111 222.5h16M111 223.5h17M112 224.5h16M114 225.5h12M117 226.5h7"/>
</g>
<path d="M1765.4 103.9 1870.8 103.9 1870.8 316.2 1765.4 316.2Z" fill="none" stroke="#000" stroke-width="2.8" stroke-linejoin="miter"/>
<rect x="1763.8" y="48.5" width="337.9" height="337.1" fill="none" stroke="#000" stroke-width="2.2"/>
<path d="M1762.8 347.5h-9.5M1762.8 338.24h-4M1762.8 356.17h-4M1762.8 332.33h-4M1762.8 361.7h-4M1762.8 328.39h-4M1762.8 365.39h-4M1762.8 325.49h-4M1762.8 368.11h-4M1762.8 323.21h-4M1762.8 370.25h-4M1762.8 321.32h-4M1762.8 372.02h-4M1762.8 319.72h-4M1762.8 373.52h-4M1762.8 318.33h-4M1762.8 374.82h-4M1762.8 317.1h-4M1762.8 375.97h-4M1762.8 316h-9.5M1762.8 377h-9.5M1762.8 291.96h-4M1762.8 383.8h-4M1762.8 277.87h-4M1762.8 267.86h-4M1762.8 260.11h-4M1762.8 253.77h-4M1762.8 248.4h-4M1762.8 243.76h-4M1762.8 239.66h-4M1762.8 236h-9.5M1762.8 211.89h-4M1762.8 197.78h-4M1762.8 187.78h-4M1762.8 180.01h-4M1762.8 173.67h-4M1762.8 168.31h-4M1762.8 163.66h-4M1762.8 159.57h-4M1762.8 155.9h-9.5M1762.8 132.93h-4M1762.8 119.5h-4M1762.8 109.96h-4M1762.8 102.57h-4M1762.8 96.53h-4M1762.8 91.42h-4M1762.8 86.99h-4M1762.8 83.09h-4M1762.8 79.6h-9.5M1762.8 56.63h-4M1762.8 56.63h-4M1804.9 386.6v9.5M1813.16 386.6v4M1798.17 386.6v4M1818.43 386.6v4M1793.87 386.6v4M1821.94 386.6v4M1791.01 386.6v4M1824.53 386.6v4M1788.9 386.6v4M1826.57 386.6v4M1787.24 386.6v4M1828.25 386.6v4M1785.87 386.6v4M1829.68 386.6v4M1784.7 386.6v4M1830.92 386.6v4M1783.69 386.6v4M1832.02 386.6v4M1782.8 386.6v4M1833 386.6v9.5M1782 386.6v9.5M1856.68 386.6v4M1776.72 386.6v4M1870.56 386.6v4M1773.63 386.6v4M1880.41 386.6v4M1771.43 386.6v4M1888.06 386.6v4M1769.73 386.6v4M1894.3 386.6v4M1768.33 386.6v4M1899.58 386.6v4M1767.16 386.6v4M1904.16 386.6v4M1766.14 386.6v4M1908.19 386.6v4M1765.24 386.6v4M1911.8 386.6v9.5M1764.43 386.6v9.5M1935.91 386.6v4M1950.02 386.6v4M1960.02 386.6v4M1967.79 386.6v4M1974.13 386.6v4M1979.49 386.6v4M1984.14 386.6v4M1988.23 386.6v4M1991.9 386.6v9.5M2014.96 386.6v4M2028.45 386.6v4M2038.02 386.6v4M2045.44 386.6v4M2051.51 386.6v4M2056.63 386.6v4M2061.08 386.6v4M2064.99 386.6v4M2068.5 386.6v9.5M2091.56 386.6v4M2091.56 386.6v4" stroke="#000" stroke-width="2" fill="none"/>
<text x="1731.8" y="100.4" text-anchor="end" textLength="32.8" lengthAdjust="spacingAndGlyphs">10</text>
<text x="1733.3" y="79.8">5</text>
<text x="1731.8" y="176.7" text-anchor="end" textLength="32.8" lengthAdjust="spacingAndGlyphs">10</text>
<text x="1733.3" y="156.1">4</text>
<text x="1731.8" y="256.8" text-anchor="end" textLength="32.8" lengthAdjust="spacingAndGlyphs">10</text>
<text x="1733.3" y="236.2">3</text>
<text x="1731.6" y="362" text-anchor="end">0</text>
<text x="1806.4" y="436.4" text-anchor="middle">0</text>
<text x="1901.4" y="436.4" textLength="32.8" lengthAdjust="spacingAndGlyphs">10</text>
<text x="1935.7" y="415.6">3</text>
<text x="1981.5" y="436.4" textLength="32.8" lengthAdjust="spacingAndGlyphs">10</text>
<text x="2015.8" y="415.6">4</text>
<text x="2051.1" y="436.4" textLength="32.8" lengthAdjust="spacingAndGlyphs">10</text>
<text x="2085.4" y="415.6">5</text>
<text x="1938.5" y="23.7" text-anchor="middle" fill="#1e1e1e" style="font-size:33px">Live Cells</text>
<text x="1932.9" y="490.9" text-anchor="middle" textLength="359" lengthAdjust="spacingAndGlyphs">BV510: CD14-CD56-CD3</text>
<text x="1656.7" y="215.3" text-anchor="middle" transform="rotate(-90 1656.7 215.3)">BV750: CD19</text>
<g transform="translate(133.3 629.7) scale(1.32)" shape-rendering="crispEdges" fill="none" stroke-width="1">
<path stroke="#3854a6" d="M98 24.5h1m52 0h1M195 25.5h1M124 26.5h1M232 27.5h1M91 29.5h1m74 0h1M150 30.5h1M173 32.5h1M151 34.5h1M81 35.5h1m79 0h1M137 36.5h1m19 0h1M54 37.5h1m87 0h1m41 0h1M150 38.5h1m3 0h1m2 0h1m54 0h1M142 39.5h1m10 0h1m10 0h1m3 0h1M134 40.5h1m18 0h1m12 0h1M77 41.5h1m53 0h1m6 0h1m2 0h1m5 0h1m34 0h1M135 42.5h1m1 0h1m1 0h1m18 0h1m45 0h1M145 43.5h1m15 0h1m1 0h2m6 0h1m75 0h1M70 44.5h1m27 0h1m28 0h1m13 0h1m2 0h1m9 0h2m2 0h1m4 0h4m4 0h1M134 45.5h1m8 0h1m8 0h1m4 0h1m2 0h4m1 0h2m1 0h1M79 46.5h1m62 0h1m6 0h1m5 0h1m5 0h1m1 0h4m1 0h2m2 0h1M110 47.5h1m10 0h1m28 0h1m3 0h3m1 0h1m1 0h4m1 0h4m1 0h2M137 48.5h1m6 0h1m3 0h2m1 0h2m2 0h13m1 0h1m2 0h1M113 49.5h1m24 0h2m3 0h4m1 0h3m2 0h2m1 0h17m1 0h1m71 0h1M98 50.5h1m29 0h1m4 0h2m4 0h2m1 0h4m1 0h1m1 0h2m1 0h21m52 0h1M80 51.5h1m34 0h1m6 0h1m8 0h1m1 0h1m3 0h3m3 0h28m2 0h1m1 0h1M117 52.5h1m8 0h4m4 0h2m2 0h10m1 0h3m1 0h18m1 0h2M102 53.5h1m22 0h1m1 0h1m2 0h2m1 0h2m1 0h8m1 0h25m1 0h1m1 0h2m28 0h1M58 54.5h1m43 0h1m13 0h1m1 0h1m3 0h1m2 0h3m1 0h2m1 0h43M99 55.5h1m16 0h1m1 0h1m1 0h2m4 0h42m1 0h3m1 0h2m1 0h1M111 56.5h1m4 0h4m1 0h53m56 0h1M104 57.5h1m4 0h3m1 0h3m1 0h1m1 0h34m1 0h20M80 58.5h1m11 0h1m9 0h2m2 0h1m2 0h3m2 0h61M70 59.5h2m15 0h1m1 0h1m8 0h1m3 0h2m1 0h3m2 0h4m1 0h55m1 0h1m1 0h2m37 0h1M96 60.5h1m3 0h1m1 0h2m1 0h1m1 0h5m1 0h60m1 0h1M92 61.5h1m7 0h1m1 0h69m1 0h1m1 0h1m33 0h1M73 62.5h1m5 0h1m8 0h2m2 0h1m1 0h1m1 0h1m1 0h14m1 0h10m1 0h51M59 63.5h1m28 0h1m1 0h1m1 0h1m2 0h2m1 0h77M80 64.5h1m3 0h2m2 0h8m1 0h76M70 65.5h1m2 0h1m13 0h1m2 0h1m1 0h81m1 0h2m60 0h1M70 66.5h1m3 0h1m7 0h2m1 0h1m1 0h1m1 0h3m1 0h1m1 0h79m1 0h1m17 0h1m7 0h1M76 67.5h1m3 0h4m1 0h4m1 0h2m1 0h77m1 0h3m1 0h1m19 0h1m21 0h1M73 68.5h2m4 0h1m2 0h92m3 0h1m34 0h1M59 69.5h1m1 0h1m10 0h1m2 0h2m2 0h3m1 0h54m1 0h34m1 0h1m28 0h1m21 0h1M55 70.5h1m14 0h1m1 0h1m1 0h1m1 0h1m2 0h69m1 0h23m1 0h1m1 0h1M63 71.5h1m5 0h2m2 0h1m1 0h98m27 0h1m1 0h1M66 72.5h2m4 0h103m17 0h1m3 0h1M63 73.5h1m1 0h1m1 0h1m1 0h102m2 0h1m11 0h1m16 0h1M65 74.5h4m1 0h103m1 0h1m20 0h1m6 0h1M58 75.5h1m4 0h4m2 0h105m11 0h1m10 0h1m3 0h1M59 76.5h1m4 0h1m1 0h106m16 0h1m16 0h1m5 0h1M57 77.5h1m4 0h1m1 0h2m1 0h103m1 0h1m1 0h1m7 0h1m15 0h1m14 0h1m6 0h1M59 78.5h3m2 0h2m1 0h100m1 0h2m10 0h1m9 0h1m15 0h1m1 0h1m3 0h1M59 79.5h2m3 0h1m1 0h104m11 0h1m1 0h1m6 0h2m21 0h1M56 80.5h1m1 0h2m1 0h5m1 0h103m3 0h1m13 0h1m6 0h1m1 0h1m1 0h1m8 0h1m3 0h1M55 81.5h4m1 0h111m1 0h1m4 0h1m10 0h1m1 0h1m2 0h1m2 0h1m3 0h1m3 0h1M54 82.5h2m1 0h112m1 0h1m7 0h1m11 0h1m4 0h1m2 0h1m1 0h1m3 0h1m1 0h2m2 0h1M54 83.5h116m1 0h2m21 0h1m9 0h1m1 0h1m2 0h1m10 0h1M51 84.5h1m2 0h2m1 0h112m7 0h1m4 0h1m6 0h1m2 0h1m1 0h1m2 0h2m3 0h1m1 0h3m10 0h1m19 0h1M51 85.5h1m1 0h116m1 0h1m12 0h1m2 0h1m4 0h1m9 0h1m1 0h1m7 0h1m6 0h1M51 86.5h1m1 0h116m1 0h1m1 0h1m15 0h1m1 0h2m5 0h2m1 0h1m8 0h1m3 0h1M51 87.5h117m9 0h2m7 0h2m4 0h1m4 0h1m1 0h5m3 0h1m2 0h1M51 88.5h116m1 0h2m8 0h1m4 0h1m1 0h1m2 0h2m7 0h2m2 0h1m6 0h1m1 0h1M51 89.5h116m2 0h1m7 0h1m1 0h1m1 0h1m2 0h1m1 0h1m2 0h1m2 0h1m3 0h1m2 0h2m1 0h2m12 0h1M51 90.5h115m1 0h2m10 0h1m1 0h1m2 0h1m4 0h2m3 0h5m1 0h1m1 0h2m12 0h1M51 91.5h118m4 0h1m9 0h1m1 0h1m3 0h2m2 0h2m6 0h3m1 0h2m6 0h3M51 92.5h115m2 0h2m1 0h1m5 0h1m12 0h1m1 0h1m1 0h1m2 0h3m3 0h1m3 0h1m1 0h1m7 0h1m1 0h2m6 0h1M51 93.5h118m1 0h1m7 0h1m2 0h1m1 0h1m1 0h1m1 0h1m4 0h1m1 0h1m4 0h1m3 0h3m4 0h1M51 94.5h113m1 0h1m1 0h1m7 0h4m6 0h2m7 0h2m3 0h4m1 0h1m3 0h1m2 0h1m1 0h1m5 0h1m28 0h1M51 95.5h111m1 0h1m2 0h1m2 0h1m4 0h1m2 0h1m2 0h3m1 0h1m2 0h1m3 0h2m1 0h1m4 0h3m2 0h1m3 0h1m1 0h3m2 0h1M51 96.5h110m1 0h1m8 0h1m3 0h1m2 0h1m1 0h1m1 0h1m3 0h1m2 0h1m1 0h1m2 0h1m2 0h2m1 0h1m1 0h1m5 0h1m11 0h1m8 0h1m9 0h1M51 97.5h113m16 0h2m1 0h1m1 0h1m6 0h1m6 0h4m1 0h1m8 0h1M51 98.5h111m1 0h1m2 0h1m1 0h1m5 0h2m5 0h2m3 0h1m5 0h2m4 0h2m5 0h1m2 0h1m5 0h1M51 99.5h114m1 0h1m1 0h1m1 0h1m1 0h1m1 0h1m5 0h1m7 0h2m5 0h1m4 0h1m4 0h1m8 0h1M51 100.5h111m1 0h2m5 0h1m1 0h1m6 0h3m6 0h1m1 0h3m2 0h3m2 0h1m3 0h1m17 0h1M51 101.5h108m1 0h1m3 0h1m6 0h1m1 0h1m4 0h1m2 0h1m2 0h1m1 0h1m1 0h1m1 0h1m2 0h1m1 0h1m1 0h3m2 0h2m3 0h1m1 0h3M51 102.5h110m4 0h1m1 0h1m3 0h1m3 0h1m2 0h1m5 0h1m1 0h3m2 0h2m2 0h1m2 0h1m7 0h1m10 0h1M51 103.5h105m1 0h1m1 0h1m2 0h1m2 0h1m1 0h2m3 0h1m1 0h1m6 0h3m2 0h1m1 0h2m1 0h1m1 0h3m1 0h1m3 0h1m9 0h2M51 104.5h108m1 0h1m1 0h1m1 0h1m2 0h2m2 0h3m1 0h1m1 0h3m2 0h1m1 0h1m1 0h1m1 0h1m2 0h4m2 0h1m14 0h1m13 0h1M51 105.5h107m1 0h1m1 0h4m1 0h2m3 0h2m4 0h2m6 0h1m5 0h3m1 0h1m1 0h3m3 0h1m16 0h1M51 106.5h107m1 0h2m1 0h2m3 0h1m5 0h1m3 0h2m4 0h2m1 0h1m6 0h1m1 0h1m30 0h1m11 0h1M51 107.5h106m1 0h2m3 0h3m5 0h2m3 0h1m2 0h1m1 0h1m4 0h1m20 0h1m14 0h1M51 108.5h106m1 0h4m2 0h1m2 0h1m3 0h2m1 0h3m1 0h4m1 0h2m1 0h1m1 0h1m2 0h1m2 0h1m3 0h1M51 109.5h107m1 0h3m2 0h2m3 0h2m1 0h1m1 0h3m1 0h3m1 0h1m1 0h1m2 0h1m1 0h1m4 0h2m3 0h3m15 0h1M51 110.5h103m1 0h5m3 0h1m3 0h1m5 0h1m2 0h1m7 0h2m2 0h2m1 0h1m1 0h1m4 0h1m8 0h1m1 0h2m2 0h1m9 0h1M51 111.5h104m1 0h1m2 0h2m1 0h1m4 0h1m7 0h1m6 0h1m2 0h1m10 0h1M51 112.5h103m1 0h4m1 0h1m1 0h1m1 0h3m8 0h1m1 0h2m1 0h2m1 0h1m1 0h1m2 0h2m13 0h1M51 113.5h108m2 0h2m2 0h3m5 0h2m3 0h1m1 0h1m1 0h1m1 0h1m4 0h1m41 0h1M51 114.5h103m6 0h1m3 0h2m1 0h1m7 0h1m11 0h1m4 0h1m6 0h1m6 0h1m2 0h1M51 115.5h105m2 0h1m1 0h2m2 0h2m2 0h1m2 0h1m6 0h2m9 0h1m11 0h1M51 116.5h105m2 0h1m1 0h1m1 0h1m2 0h1m3 0h2m1 0h1m8 0h2m1 0h1m8 0h1M51 117.5h105m2 0h2m4 0h1m2 0h1m3 0h3m1 0h1m1 0h2m1 0h1m7 0h1m5 0h1m20 0h1M51 118.5h106m1 0h1m1 0h1m3 0h1m1 0h1m3 0h2m3 0h1m8 0h1M51 119.5h108m4 0h1m3 0h1m2 0h1m1 0h1m1 0h1m1 0h1m22 0h1M51 120.5h104m1 0h2m3 0h3m4 0h1m1 0h1m2 0h2m1 0h3m2 0h1m3 0h1m7 0h1M51 121.5h101m2 0h1m1 0h1m5 0h2m3 0h1m3 0h1m5 0h1m1 0h1m4 0h2M51 122.5h100m2 0h4m1 0h1m11 0h2m1 0h1m5 0h1M51 123.5h106m3 0h1m3 0h1m3 0h1m1 0h1m1 0h1m5 0h1m1 0h1M51 124.5h101m1 0h4m1 0h1m7 0h2m17 0h1m9 0h1M51 125.5h97m1 0h3m2 0h3m7 0h1m2 0h1m3 0h1m1 0h1m5 0h1m6 0h2M51 126.5h99m2 0h1m8 0h1m10 0h1m75 0h1M51 127.5h98m1 0h1m1 0h2m2 0h1m2 0h2m6 0h1m22 0h1M51 128.5h94m1 0h7m3 0h1m7 0h1m11 0h1M51 129.5h97m1 0h2m1 0h2m4 0h2m5 0h1m2 0h1M51 130.5h98m6 0h1m7 0h1m1 0h1m5 0h1m1 0h1m38 0h1M51 131.5h99m2 0h1m1 0h2m2 0h2m7 0h1m1 0h1M51 132.5h94m1 0h1m3 0h1m2 0h1m3 0h1m1 0h1m1 0h2M51 133.5h99m7 0h1m10 0h1m2 0h1M51 134.5h96m2 0h4m4 0h1m2 0h1m4 0h1M51 135.5h93m1 0h4m1 0h1m2 0h1m13 0h1m9 0h1M51 136.5h94m3 0h1m5 0h1M51 137.5h92m1 0h1m3 0h1m5 0h1m95 0h1M51 138.5h91m1 0h2m2 0h1m11 0h1m57 0h1M51 139.5h86m1 0h3m19 0h1M51 140.5h10m1 0h79m2 0h1m39 0h1M51 141.5h86m1 0h2m24 0h1m17 0h1M51 142.5h91m7 0h2m68 0h1M51 143.5h86m1 0h1m2 0h2m3 0h1m33 0h1M51 144.5h10m1 0h77m2 0h1M51 145.5h85m1 0h1m8 0h1M51 146.5h86M51 147.5h85m2 0h1m5 0h1M51 148.5h85M51 149.5h84M51 150.5h82m1 0h1m2 0h1m34 0h1M51 151.5h83m11 0h1M51 152.5h79m1 0h1m12 0h1M51 153.5h81m1 0h2M51 154.5h79m10 0h1M52 155.5h77m3 0h2m29 0h1m11 0h1M51 156.5h1m2 0h4m1 0h69m2 0h2m1 0h1m45 0h1M51 157.5h6m1 0h67m2 0h1m1 0h2m33 0h1M53 158.5h76M51 159.5h1m1 0h2m1 0h73M58 160.5h67m1 0h3M56 161.5h1m3 0h68m5 0h1M57 162.5h1m2 0h3m2 0h61M59 163.5h1m1 0h2m1 0h64M63 164.5h1m1 0h1m1 0h59m1 0h3M53 165.5h1m6 0h2m2 0h44m1 0h14m1 0h2M60 166.5h2m1 0h1m3 0h6m1 0h31m1 0h19m1 0h1m2 0h1m98 0h1M54 167.5h1m6 0h1m3 0h1m1 0h18m1 0h25m1 0h11m2 0h1M59 168.5h1m1 0h1m5 0h2m1 0h2m1 0h2m2 0h1m1 0h15m1 0h11m1 0h11m1 0h2m1 0h2m27 0h1M53 169.5h1m3 0h1m7 0h1m2 0h4m1 0h6m1 0h3m1 0h1m1 0h15m1 0h6m2 0h2m1 0h6m1 0h4M64 170.5h1m2 0h1m2 0h1m1 0h1m1 0h8m1 0h10m3 0h2m2 0h2m2 0h6m1 0h2m1 0h1m3 0h2M58 171.5h1m1 0h2m3 0h1m1 0h1m2 0h3m2 0h2m3 0h3m7 0h1m1 0h3m3 0h1m1 0h1m11 0h1m7 0h1m1 0h1m39 0h1M51 172.5h1m1 0h1m1 0h3m2 0h4m2 0h1m2 0h3m3 0h4m1 0h2m2 0h1m4 0h1m1 0h8m1 0h1m2 0h2m12 0h2M51 173.5h1m1 0h1m2 0h1m3 0h1m7 0h1m2 0h1m3 0h1m1 0h5m2 0h1m2 0h5m3 0h1m6 0h1m1 0h1m1 0h1m6 0h1m5 0h1M51 174.5h2m1 0h2m4 0h1m11 0h1m3 0h2m4 0h1m2 0h3m1 0h1m2 0h2m1 0h1m2 0h1m1 0h2m5 0h1m5 0h1m1 0h1m1 0h1m1 0h1M60 175.5h2m3 0h2m2 0h1m11 0h1m3 0h2m10 0h1m4 0h3m4 0h2m4 0h1m65 0h1m53 0h1M52 176.5h1m7 0h3m1 0h2m2 0h1m1 0h2m4 0h1m1 0h1m1 0h1m2 0h1m1 0h1m5 0h3m1 0h2m2 0h1m1 0h1m5 0h2m2 0h1m3 0h1m1 0h1m42 0h1m37 0h1m34 0h1M56 177.5h2m1 0h1m3 0h1m6 0h2m1 0h1m1 0h1m2 0h1m3 0h1m1 0h1m1 0h1m1 0h1m8 0h1m1 0h1m5 0h2m1 0h2m5 0h2m5 0h1M51 178.5h1m2 0h1m2 0h1m4 0h2m1 0h1m1 0h1m4 0h1m1 0h1m1 0h2m1 0h1m2 0h1m6 0h2m3 0h1m5 0h1m5 0h1m1 0h3m2 0h1m10 0h1M56 179.5h4m6 0h1m2 0h1m9 0h1m1 0h1m1 0h1m7 0h1m8 0h2m1 0h1m1 0h2m2 0h1m3 0h1m4 0h1m1 0h1M52 180.5h1m1 0h2m4 0h1m6 0h2m4 0h1m1 0h1m10 0h2m3 0h1m3 0h4m2 0h1m6 0h1m2 0h2m3 0h1m16 0h1M52 181.5h1m3 0h1m2 0h5m3 0h3m1 0h2m4 0h1m1 0h1m6 0h3m1 0h1m4 0h1m13 0h1m2 0h1m1 0h1m6 0h1m6 0h1M51 182.5h1m7 0h1m9 0h1m2 0h3m2 0h1m2 0h1m7 0h2m9 0h1m6 0h3m3 0h1m3 0h1m1 0h2m1 0h1M51 183.5h2m2 0h1m2 0h1m3 0h1m1 0h2m2 0h1m5 0h1m2 0h1m1 0h1m2 0h1m3 0h1m5 0h1m3 0h2m3 0h1m1 0h2m8 0h1m4 0h1m72 0h1M51 184.5h1m4 0h1m1 0h1m1 0h1m3 0h2m4 0h1m2 0h1m2 0h1m2 0h1m7 0h4m2 0h1m4 0h1m2 0h1m5 0h1m1 0h2m4 0h1M54 185.5h1m5 0h1m2 0h1m2 0h2m1 0h2m1 0h2m1 0h1m1 0h2m3 0h4m3 0h1m2 0h2m2 0h2m2 0h1m1 0h2m1 0h1m1 0h2m2 0h2M61 186.5h1m2 0h2m3 0h1m11 0h1m1 0h5m9 0h2m2 0h1m7 0h1m1 0h1m4 0h1M54 187.5h1m2 0h1m2 0h2m2 0h1m2 0h1m2 0h2m1 0h1m1 0h1m4 0h1m2 0h1m1 0h1m3 0h2m1 0h2m1 0h1m1 0h1m4 0h1m3 0h3m1 0h2m5 0h2m3 0h1M51 188.5h2m4 0h5m1 0h1m7 0h1m6 0h1m1 0h3m1 0h1m3 0h1m3 0h1m2 0h1m4 0h1m1 0h1m2 0h1m7 0h1M51 189.5h1m4 0h1m3 0h1m1 0h1m3 0h1m4 0h1m4 0h2m3 0h2m3 0h1m1 0h1m2 0h3m1 0h1m1 0h1m1 0h1m2 0h2m3 0h5m1 0h2m4 0h1M52 190.5h1m1 0h2m1 0h1m10 0h1m4 0h1m3 0h1m2 0h1m3 0h1m3 0h1m1 0h1m3 0h1m7 0h1m4 0h1m2 0h2m3 0h1m6 0h1m94 0h1M51 191.5h1m2 0h4m5 0h1m2 0h1m3 0h2m1 0h1m2 0h2m3 0h1m2 0h1m8 0h1m2 0h2m1 0h1m5 0h1m1 0h2m3 0h2m3 0h1M52 192.5h2m1 0h1m3 0h1m7 0h1m3 0h1m1 0h1m1 0h1m2 0h1m11 0h1m1 0h6m7 0h1m2 0h1m4 0h1m2 0h1m13 0h1m59 0h1M53 193.5h1m1 0h1m2 0h1m1 0h1m1 0h3m8 0h1m1 0h1m1 0h3m1 0h1m1 0h1m2 0h1m1 0h1m3 0h1m2 0h1m1 0h1m1 0h1m1 0h1m3 0h1m1 0h2m15 0h1M63 194.5h1m1 0h1m1 0h3m1 0h1m3 0h3m2 0h1m10 0h1m9 0h1m1 0h1m1 0h1m1 0h1m4 0h1m1 0h2m3 0h1m14 0h1M63 195.5h1m1 0h1m3 0h1m2 0h1m1 0h4m3 0h1m5 0h1m2 0h1m1 0h4m4 0h2m6 0h1m1 0h2m7 0h1M51 196.5h1m2 0h3m3 0h1m1 0h2m5 0h1m1 0h1m1 0h1m4 0h1m2 0h1m1 0h1m4 0h1m7 0h2m7 0h1m8 0h3M51 197.5h1m1 0h1m2 0h2m1 0h4m3 0h2m2 0h2m5 0h1m11 0h1m2 0h1m9 0h1m3 0h1m2 0h1m2 0h2m1 0h1m3 0h1M52 198.5h2m6 0h2m6 0h1m1 0h1m5 0h1m1 0h1m2 0h1m1 0h2m7 0h4m1 0h1m3 0h1m2 0h2m9 0h1M51 199.5h1m7 0h2m1 0h2m3 0h1m3 0h1m1 0h1m2 0h2m1 0h1m1 0h5m10 0h1m2 0h2m1 0h1m3 0h2m4 0h1m2 0h2m15 0h1m77 0h1M53 200.5h3m1 0h2m5 0h1m1 0h1m4 0h4m1 0h1m9 0h1m1 0h1m6 0h1m3 0h2m6 0h1m5 0h1m3 0h1m1 0h1m47 0h1M57 201.5h1m3 0h1m6 0h1m7 0h3m1 0h5m1 0h1m1 0h4m1 0h2m11 0h1m4 0h1m72 0h1M51 202.5h1m6 0h1m1 0h1m2 0h3m1 0h2m1 0h2m2 0h2m1 0h1m1 0h1m1 0h1m1 0h1m5 0h1m6 0h1m1 0h1m1 0h1m14 0h2m41 0h1M52 203.5h1m4 0h1m2 0h1m2 0h4m2 0h2m4 0h3m3 0h1m2 0h1m1 0h2m10 0h1m4 0h1m1 0h2m9 0h1m97 0h1M51 204.5h1m1 0h3m3 0h1m1 0h1m1 0h1m2 0h1m4 0h1m1 0h1m1 0h3m1 0h3m2 0h2m1 0h1m1 0h2m2 0h4m1 0h1m2 0h1m5 0h2m5 0h1m3 0h1m1 0h1M54 205.5h1m5 0h2m2 0h1m5 0h1m5 0h4m2 0h1m6 0h3m4 0h1m2 0h1m1 0h1m4 0h1m4 0h2m3 0h1M52 206.5h1m1 0h1m2 0h4m1 0h2m1 0h1m4 0h2m1 0h2m5 0h1m1 0h4m2 0h1m2 0h1m5 0h2m2 0h1m3 0h2M54 207.5h1m6 0h3m3 0h1m1 0h3m7 0h1m2 0h1m1 0h1m1 0h1m1 0h2m3 0h1m2 0h1m4 0h1m1 0h1m4 0h1m6 0h1m111 0h1M55 208.5h2m1 0h1m1 0h2m3 0h1m3 0h1m1 0h1m2 0h1m1 0h1m1 0h2m2 0h3m2 0h1m3 0h1m4 0h1m5 0h3m1 0h2m2 0h2M52 209.5h3m1 0h4m1 0h11m2 0h1m1 0h1m2 0h1m2 0h1m2 0h1m1 0h2m3 0h1m1 0h1m1 0h1m5 0h1m6 0h1m4 0h1M56 210.5h2m1 0h2m1 0h1m1 0h1m1 0h1m3 0h2m2 0h2m3 0h1m1 0h2m1 0h1m1 0h1m1 0h4m4 0h3m1 0h2m3 0h1m2 0h1m5 0h1m4 0h1M51 211.5h1m1 0h1m2 0h2m3 0h2m1 0h3m2 0h4m1 0h3m2 0h1m2 0h1m2 0h2m1 0h1m4 0h1m1 0h1m10 0h1m1 0h1m2 0h1m9 0h1M55 212.5h2m1 0h1m1 0h1m1 0h4m1 0h1m4 0h1m2 0h2m1 0h1m1 0h2m2 0h3m2 0h1m1 0h1m8 0h1m1 0h1m1 0h1m2 0h3m1 0h1m2 0h1M52 213.5h2m1 0h2m5 0h1m5 0h1m1 0h1m1 0h3m1 0h1m4 0h1m1 0h1m7 0h1m6 0h1m1 0h1m1 0h1m1 0h1m4 0h1m2 0h1m9 0h1M52 214.5h1m5 0h1m1 0h1m1 0h1m1 0h3m2 0h1m3 0h3m2 0h3m4 0h1m1 0h1m4 0h1m1 0h1m2 0h1m3 0h1m6 0h1m62 0h1M53 215.5h1m4 0h1m1 0h1m4 0h1m1 0h1m3 0h1m1 0h2m1 0h1m1 0h2m1 0h3m1 0h2m2 0h1m2 0h4m3 0h1m2 0h3m3 0h1M55 216.5h1m1 0h1m1 0h1m1 0h1m2 0h1m1 0h2m1 0h1m1 0h1m4 0h1m1 0h1m3 0h1m1 0h2m1 0h1m1 0h1m4 0h1m1 0h1m2 0h3m5 0h1m2 0h2m3 0h1m136 0h1M54 217.5h1m1 0h1m4 0h1m1 0h1m1 0h3m1 0h3m3 0h1m3 0h1m1 0h1m5 0h1m5 0h5m6 0h1m4 0h1m1 0h1m2 0h1m37 0h1M54 218.5h1m1 0h3m2 0h1m1 0h3m1 0h1m3 0h2m1 0h1m1 0h2m1 0h1m1 0h1m9 0h1m1 0h1m1 0h1m3 0h2m1 0h1m4 0h1M52 219.5h3m4 0h1m1 0h3m1 0h1m2 0h2m1 0h1m2 0h2m3 0h3m1 0h1m2 0h2m2 0h2m3 0h1m1 0h6m2 0h1m45 0h1M51 220.5h1m1 0h1m1 0h2m1 0h1m2 0h4m2 0h5m6 0h2m3 0h2m5 0h2m8 0h1m1 0h1m2 0h1M53 221.5h3m2 0h4m6 0h2m2 0h1m1 0h3m7 0h1m3 0h2m1 0h2m2 0h1m1 0h1m2 0h2m8 0h1m29 0h2M51 222.5h1m3 0h1m3 0h1m1 0h1m4 0h3m2 0h2m1 0h1m1 0h2m2 0h1m4 0h1m1 0h2m2 0h3m1 0h1m2 0h1m2 0h1m4 0h1m1 0h1M54 223.5h2m1 0h2m1 0h2m1 0h1m1 0h4m2 0h1m3 0h1m2 0h2m1 0h2m4 0h1m6 0h1m1 0h2m1 0h3m1 0h1m2 0h2m30 0h1M56 224.5h1m3 0h3m2 0h3m1 0h1m2 0h1m2 0h1m1 0h5m1 0h1m5 0h1m3 0h1m5 0h1m1 0h1m103 0h1M56 225.5h1m1 0h1m2 0h1m1 0h2m1 0h1m1 0h2m3 0h1m1 0h3m2 0h1m1 0h1m3 0h1m3 0h1m3 0h2m2 0h1m3 0h1m2 0h1m8 0h1m34 0h1M51 226.5h1m2 0h2m2 0h3m2 0h1m5 0h1m1 0h1m1 0h1m2 0h1m2 0h1m2 0h2m2 0h1m5 0h1m14 0h1M52 227.5h1m2 0h1m2 0h1m3 0h1m9 0h2m5 0h2m3 0h1m1 0h1m1 0h1m4 0h2m6 0h1m2 0h1m1 0h1m69 0h1M51 228.5h1m1 0h2m2 0h1m3 0h1m1 0h1m5 0h2m1 0h1m1 0h2m1 0h1m7 0h1m6 0h1m3 0h2m2 0h1m1 0h1M53 229.5h1m1 0h1m4 0h1m2 0h1m1 0h1m1 0h1m3 0h1m1 0h1m3 0h1m7 0h2m3 0h1m3 0h1m2 0h1m12 0h1m48 0h1M65 230.5h1m3 0h1m1 0h1m1 0h1m3 0h1m1 0h1m2 0h1m8 0h1m3 0h2m8 0h1m66 0h1M54 231.5h1m2 0h1m6 0h1m1 0h1m3 0h1m2 0h1m1 0h1m15 0h2m6 0h1m1 0h2m2 0h1m9 0h1M51 232.5h1m4 0h1m1 0h1m1 0h1m3 0h1m8 0h2m8 0h1m4 0h2m16 0h1M65 233.5h1m8 0h1m1 0h3m2 0h1m15 0h1m2 0h1m4 0h1M56 234.5h1m1 0h1m3 0h1m3 0h1m26 0h1m11 0h1M55 235.5h1m3 0h1m3 0h1m4 0h1m1 0h1m1 0h1m1 0h1m4 0h1m4 0h1m4 0h1m7 0h1m5 0h1m10 0h1m36 0h1m37 0h1m29 0h1M60 236.5h1m2 0h1m29 0h1M64 237.5h1m4 0h1m3 0h1m12 0h1m13 0h1M66 238.5h1m5 0h1m23 0h1m2 0h1M63 239.5h1m2 0h1m52 0h1M86 240.5h1M55 241.5h1m13 0h1m21 0h1m15 0h1M249 243.5h1M81 245.5h1m4 0h1M102 247.5h1m54 0h1M193 251.5h1"/>
<path stroke="#3a62b3" d="M117 80.5h3M113 81.5h9M106 82.5h23M104 83.5h26M103 84.5h31M100 85.5h34M100 86.5h37M97 87.5h42M96 88.5h40m1 0h2M95 89.5h44M94 90.5h46M93 91.5h48M92 92.5h50M91 93.5h51M90 94.5h52M90 95.5h52M88 96.5h55M87 97.5h56M87 98.5h57M87 99.5h57M87 100.5h57M84 101.5h60M84 102.5h61M84 103.5h61M83 104.5h62M83 105.5h61M83 106.5h61M83 107.5h62M83 108.5h62M82 109.5h63M80 110.5h65M80 111.5h65M81 112.5h64M82 113.5h63M81 114.5h64M81 115.5h63M82 116.5h62M82 117.5h61M81 118.5h62M81 119.5h62M81 120.5h61M81 121.5h60M82 122.5h59M83 123.5h58M83 124.5h58M83 125.5h56M83 126.5h56M83 127.5h56M84 128.5h54M84 129.5h53M85 130.5h51M86 131.5h49M86 132.5h49M87 133.5h47M87 134.5h45M88 135.5h43M91 136.5h38M92 137.5h36M92 138.5h36M92 139.5h33M94 140.5h30M96 141.5h27M100 142.5h20M106 143.5h2m6 0h3"/>
<path stroke="#3c70c0" d="M117 81.5h2M114 82.5h8M110 83.5h15M105 84.5h1m3 0h22M104 85.5h29M101 86.5h31M100 87.5h33M98 88.5h36M97 89.5h39M96 90.5h42M95 91.5h44M93 92.5h48M92 93.5h49M91 94.5h50M91 95.5h50M90 96.5h52M89 97.5h53M88 98.5h54M88 99.5h55M88 100.5h55M87 101.5h56M85 102.5h58M85 103.5h59M84 104.5h60M84 105.5h60M84 106.5h60M84 107.5h60M84 108.5h60M84 109.5h60M83 110.5h61M82 111.5h62M82 112.5h62M82 113.5h62M82 114.5h61M83 115.5h60M83 116.5h59M83 117.5h59M82 118.5h60M82 119.5h59M82 120.5h59M83 121.5h57M84 122.5h56M84 123.5h55M84 124.5h54M84 125.5h54M84 126.5h54M85 127.5h52M85 128.5h51M86 129.5h50M87 130.5h48M87 131.5h47M87 132.5h46M88 133.5h44M89 134.5h42M92 135.5h36M93 136.5h34M94 137.5h33M95 138.5h30M95 139.5h28M97 140.5h25M99 141.5h5m3 0h10M114 142.5h2"/>
<path stroke="#3e84cc" d="M117 82.5h1M113 83.5h2m1 0h7M110 84.5h15M109 85.5h19M105 86.5h24M101 87.5h30M100 88.5h33M98 89.5h36M97 90.5h39M97 91.5h40M96 92.5h42M94 93.5h45M93 94.5h47M92 95.5h47M91 96.5h49M91 97.5h50M90 98.5h51M89 99.5h53M89 100.5h53M88 101.5h54M87 102.5h55M87 103.5h56M87 104.5h56M86 105.5h57M86 106.5h57M86 107.5h57M85 108.5h58M85 109.5h58M84 110.5h59M84 111.5h59M84 112.5h59M84 113.5h58M84 114.5h58M84 115.5h58M84 116.5h58M84 117.5h57M83 118.5h58M83 119.5h58M83 120.5h57M84 121.5h56M85 122.5h54M85 123.5h53M85 124.5h52M85 125.5h52M85 126.5h52M86 127.5h50M86 128.5h49M87 129.5h47M88 130.5h45M88 131.5h45M88 132.5h44M89 133.5h42M91 134.5h38M93 135.5h34M94 136.5h32M96 137.5h29M96 138.5h26M98 139.5h21M100 140.5h18M114 141.5h2"/>
<path stroke="#3f98d7" d="M118 83.5h1M113 84.5h1m3 0h5M110 85.5h14M108 86.5h20M105 87.5h25M104 88.5h27M101 89.5h32M99 90.5h35M98 91.5h38M97 92.5h40M96 93.5h42M95 94.5h44M94 95.5h44M92 96.5h46M92 97.5h48M91 98.5h50M90 99.5h51M90 100.5h51M89 101.5h52M88 102.5h54M88 103.5h54M87 104.5h55M87 105.5h55M87 106.5h56M87 107.5h56M86 108.5h56M86 109.5h56M86 110.5h56M85 111.5h57M85 112.5h57M85 113.5h57M85 114.5h57M85 115.5h57M85 116.5h56M85 117.5h56M85 118.5h55M84 119.5h56M84 120.5h55M85 121.5h54M86 122.5h52M86 123.5h51M86 124.5h50M86 125.5h50M87 126.5h49M87 127.5h48M87 128.5h46M88 129.5h45M89 130.5h44M89 131.5h43M89 132.5h42M91 133.5h39M93 134.5h34M94 135.5h32M96 136.5h29M97 137.5h26M101 138.5h19M101 139.5h17M108 140.5h3"/>
<path stroke="#41abe1" d="M118 84.5h2M113 85.5h10M109 86.5h16M107 87.5h21M104 88.5h26M104 89.5h28M101 90.5h32M99 91.5h35M98 92.5h38M97 93.5h40M96 94.5h41M95 95.5h42M94 96.5h43M92 97.5h47M92 98.5h48M91 99.5h49M91 100.5h49M90 101.5h50M89 102.5h52M88 103.5h53M88 104.5h54M88 105.5h54M87 106.5h55M87 107.5h55M87 108.5h54M87 109.5h54M87 110.5h54M86 111.5h55M86 112.5h55M86 113.5h55M86 114.5h55M85 115.5h56M85 116.5h55M85 117.5h55M86 118.5h54M86 119.5h53M85 120.5h54M86 121.5h52M86 122.5h51M86 123.5h50M86 124.5h50M87 125.5h48M88 126.5h47M88 127.5h45M88 128.5h45M89 129.5h43M90 130.5h42M90 131.5h41M91 132.5h39M92 133.5h36M94 134.5h32M95 135.5h30M97 136.5h27M98 137.5h2m1 0h20M103 138.5h15M105 139.5h7"/>
<path stroke="#42bbea" d="M117 85.5h2M110 86.5h13M108 87.5h17M105 88.5h24M104 89.5h27M102 90.5h30M101 91.5h32M99 92.5h35M97 93.5h39M96 94.5h41M96 95.5h40M95 96.5h41M94 97.5h44M92 98.5h46M92 99.5h46M91 100.5h48M91 101.5h48M90 102.5h51M90 103.5h51M88 104.5h53M88 105.5h53M88 106.5h52M88 107.5h52M87 108.5h54M87 109.5h53M87 110.5h53M87 111.5h54M87 112.5h54M86 113.5h55M86 114.5h54M86 115.5h54M86 116.5h54M86 117.5h54M87 118.5h52M87 119.5h51M86 120.5h52M86 121.5h51M87 122.5h49M87 123.5h49M87 124.5h48M88 125.5h47M89 126.5h45M89 127.5h43M89 128.5h43M90 129.5h42M91 130.5h40M92 131.5h38M92 132.5h36M93 133.5h33M95 134.5h30M96 135.5h28M98 136.5h25M103 137.5h16M103 138.5h11M109 139.5h2"/>
<path stroke="#42c0ec" d="M111 86.5h1m1 0h1m2 0h3m2 0h1M108 87.5h16M107 88.5h19M105 89.5h25M104 90.5h26M102 91.5h30M100 92.5h33M98 93.5h36M97 94.5h38M96 95.5h40M96 96.5h40M95 97.5h42M93 98.5h44M92 99.5h45M92 100.5h46M91 101.5h47M91 102.5h49M90 103.5h50M90 104.5h50M88 105.5h51M88 106.5h51M88 107.5h51M88 108.5h52M87 109.5h53M88 110.5h52M88 111.5h52M87 112.5h53M87 113.5h53M87 114.5h53M87 115.5h52M87 116.5h52M87 117.5h52M87 118.5h51M87 119.5h50M87 120.5h50M87 121.5h50M87 122.5h49M88 123.5h47M88 124.5h46M89 125.5h45M89 126.5h44M89 127.5h43M90 128.5h42M91 129.5h40M92 130.5h38M93 131.5h36M93 132.5h34M94 133.5h31M96 134.5h28M98 135.5h24M101 136.5h19M103 137.5h15M104 138.5h7"/>
<path stroke="#43c6ee" d="M110 87.5h8m2 0h1M108 88.5h16M107 89.5h20M104 90.5h25M103 91.5h28M101 92.5h31M99 93.5h34M98 94.5h36M97 95.5h38M96 96.5h40M96 97.5h40M94 98.5h43M93 99.5h44M93 100.5h44M92 101.5h46M91 102.5h47M91 103.5h48M91 104.5h47M90 105.5h48M89 106.5h49M89 107.5h50M88 108.5h51M88 109.5h51M88 110.5h51M88 111.5h51M88 112.5h51M87 113.5h52M88 114.5h51M88 115.5h51M87 116.5h51M87 117.5h50M88 118.5h49M88 119.5h49M88 120.5h48M88 121.5h47M88 122.5h47M89 123.5h45M89 124.5h45M89 125.5h45M90 126.5h42M90 127.5h41M91 128.5h40M92 129.5h38M93 130.5h36M94 131.5h34M94 132.5h31M97 133.5h27M98 134.5h26M98 135.5h22M103 136.5h16M104 137.5h8M109 138.5h1"/>
<path stroke="#4bc6de" d="M111 88.5h2m2 0h2m2 0h2M108 89.5h17M107 90.5h21M104 91.5h24M103 92.5h28M100 93.5h32M99 94.5h34M98 95.5h36M97 96.5h38M97 97.5h38M96 98.5h40M94 99.5h42M94 100.5h42M93 101.5h44M92 102.5h45M92 103.5h45M91 104.5h46M91 105.5h46M90 106.5h48M90 107.5h48M89 108.5h49M88 109.5h50M88 110.5h50M88 111.5h50M88 112.5h50M88 113.5h50M88 114.5h50M88 115.5h49M88 116.5h49M89 117.5h48M89 118.5h47M89 119.5h47M89 120.5h46M89 121.5h45M90 122.5h43M90 123.5h43M90 124.5h43M90 125.5h42M91 126.5h40M92 127.5h39M92 128.5h38M93 129.5h36M94 130.5h34M95 131.5h31M96 132.5h27M99 133.5h24M99 134.5h21M103 135.5h12m1 0h2M104 136.5h10M109 137.5h1"/>
<path stroke="#53c5ce" d="M111 89.5h3m1 0h2m2 0h1m1 0h2M108 90.5h18M104 91.5h23M104 92.5h24M102 93.5h29M101 94.5h31M100 95.5h33M98 96.5h36M98 97.5h37M97 98.5h38M95 99.5h40M95 100.5h40M94 101.5h42M93 102.5h43M92 103.5h44M92 104.5h45M91 105.5h46M91 106.5h46M91 107.5h46M91 108.5h46M89 109.5h48M89 110.5h48M89 111.5h48M89 112.5h48M89 113.5h48M89 114.5h48M89 115.5h47M89 116.5h47M90 117.5h46M90 118.5h45M90 119.5h45M90 120.5h44M90 121.5h43M91 122.5h41M91 123.5h41M91 124.5h41M92 125.5h39M93 126.5h38M94 127.5h36M94 128.5h34M94 129.5h34M95 130.5h32M96 131.5h29M99 132.5h22M99 133.5h21M100 134.5h1m1 0h13m2 0h1M105 135.5h5m2 0h1"/>
<path stroke="#5ac4ba" d="M111 90.5h10M108 91.5h18M105 92.5h21M104 93.5h26M102 94.5h29M102 95.5h30M99 96.5h34M99 97.5h35M98 98.5h36M96 99.5h38M96 100.5h39M95 101.5h40M94 102.5h42M93 103.5h43M93 104.5h43M92 105.5h44M92 106.5h45M92 107.5h44M91 108.5h45M91 109.5h45M90 110.5h46M90 111.5h46M90 112.5h46M90 113.5h47M90 114.5h46M90 115.5h46M90 116.5h45M90 117.5h45M90 118.5h45M90 119.5h44M90 120.5h43M91 121.5h41M92 122.5h40M92 123.5h39M92 124.5h39M93 125.5h38M94 126.5h36M95 127.5h33M95 128.5h33M95 129.5h32M96 130.5h30M98 131.5h23M100 132.5h20M102 133.5h14M104 134.5h1m2 0h3m1 0h3"/>
<path stroke="#61c39e" d="M112 90.5h1M110 91.5h11M109 92.5h16M105 93.5h22M104 94.5h27M103 95.5h29M100 96.5h32M99 97.5h34M99 98.5h35M97 99.5h37M96 100.5h38M96 101.5h38M95 102.5h40M94 103.5h41M94 104.5h41M93 105.5h43M93 106.5h43M92 107.5h43M92 108.5h43M92 109.5h43M91 110.5h44M91 111.5h44M92 112.5h43M91 113.5h45M90 114.5h45M90 115.5h45M91 116.5h44M91 117.5h43M91 118.5h43M91 119.5h42M92 120.5h41M92 121.5h40M92 122.5h39M92 123.5h39M93 124.5h37M94 125.5h36M96 126.5h33M96 127.5h31M96 128.5h31M96 129.5h28M97 130.5h25M100 131.5h20M102 132.5h17M103 133.5h12"/>
<path stroke="#67c181" d="M112 91.5h2m1 0h3M110 92.5h12M108 93.5h17M105 94.5h23M104 95.5h26M103 96.5h29M100 97.5h32M100 98.5h32M99 99.5h33M97 100.5h35M96 101.5h37M96 102.5h38M95 103.5h39M95 104.5h40M94 105.5h41M94 106.5h41M94 107.5h41M93 108.5h41M93 109.5h41M93 110.5h41M92 111.5h42M92 112.5h42M92 113.5h43M91 114.5h43M91 115.5h43M91 116.5h43M91 117.5h43M92 118.5h41M92 119.5h41M93 120.5h39M93 121.5h38M93 122.5h38M93 123.5h37M94 124.5h36M96 125.5h33M97 126.5h30M97 127.5h30M97 128.5h27M97 129.5h25M100 130.5h19M102 131.5h17M103 132.5h13M108 133.5h1m3 0h2"/>
<path stroke="#6cc067" d="M111 92.5h8M110 93.5h13M106 94.5h19M105 95.5h23M104 96.5h25M101 97.5h30M101 98.5h29M100 99.5h31M98 100.5h33M97 101.5h34M96 102.5h36M96 103.5h38M95 104.5h39M95 105.5h39M95 106.5h39M95 107.5h39M94 108.5h40M94 109.5h40M94 110.5h40M93 111.5h40M93 112.5h41M93 113.5h41M93 114.5h41M93 115.5h40M93 116.5h40M94 117.5h39M93 118.5h39M93 119.5h39M93 120.5h39M93 121.5h38M93 122.5h37M93 123.5h36M95 124.5h33M96 125.5h31M97 126.5h30M98 127.5h28M98 128.5h25M100 129.5h19M101 130.5h17M103 131.5h14M108 132.5h3m2 0h2"/>
<path stroke="#6cbf54" d="M112 92.5h1M111 93.5h9M110 94.5h14M106 95.5h19M105 96.5h22M103 97.5h26M101 98.5h28M101 99.5h29M100 100.5h30M99 101.5h32M97 102.5h34M96 103.5h37M96 104.5h38M96 105.5h38M96 106.5h38M96 107.5h38M95 108.5h38M94 109.5h39M94 110.5h39M94 111.5h39M93 112.5h40M93 113.5h41M93 114.5h40M94 115.5h39M94 116.5h39M94 117.5h38M94 118.5h38M94 119.5h38M94 120.5h37M94 121.5h36M94 122.5h36M95 123.5h33M96 124.5h31M97 125.5h30M98 126.5h28M100 127.5h24M101 128.5h20M101 129.5h18M102 130.5h16M106 131.5h10"/>
<path stroke="#75c147" d="M116 100.5h1M107 101.5h2m2 0h7M106 102.5h15M105 103.5h18M103 104.5h21M103 105.5h22M102 106.5h24M101 107.5h26M101 108.5h27M100 109.5h28M100 110.5h28M100 111.5h28M99 112.5h29M99 113.5h30M99 114.5h30M99 115.5h29M99 116.5h29M99 117.5h28M100 118.5h27M100 119.5h26M101 120.5h25M102 121.5h23M103 122.5h21M103 123.5h21M106 124.5h15M107 125.5h13M117 126.5h2"/>
<path stroke="#80c442" d="M112 105.5h7M108 106.5h12M106 107.5h16M106 108.5h17M105 109.5h18M104 110.5h20M104 111.5h21M103 112.5h22M103 113.5h22M103 114.5h22M103 115.5h22M103 116.5h22M104 117.5h20M104 118.5h20M105 119.5h18M106 120.5h16M108 121.5h13M109 122.5h11M110 123.5h4"/>
<path stroke="#a1cf37" d="M109 106.5h10M108 107.5h13M107 108.5h15M106 109.5h17M105 110.5h18M104 111.5h20M104 112.5h21M104 113.5h21M104 114.5h21M104 115.5h21M104 116.5h20M104 117.5h20M105 118.5h18M105 119.5h18M107 120.5h15M108 121.5h12M110 122.5h8"/>
<path stroke="#c2da2d" d="M113 106.5h5M109 107.5h11M107 108.5h14M107 109.5h15M106 110.5h17M105 111.5h18M105 112.5h19M104 113.5h20M104 114.5h20M104 115.5h20M105 116.5h19M105 117.5h18M106 118.5h17M106 119.5h16M108 120.5h13M109 121.5h10M111 122.5h4"/>
<path stroke="#dee422" d="M111 107.5h7M108 108.5h12M107 109.5h14M106 110.5h16M106 111.5h17M105 112.5h18M105 113.5h19M105 114.5h19M105 115.5h19M105 116.5h18M106 117.5h17M106 118.5h16M107 119.5h14M109 120.5h11M110 121.5h8"/>
<path stroke="#fbee16" d="M113 107.5h4M109 108.5h10M108 109.5h13M107 110.5h15M106 111.5h16M106 112.5h17M105 113.5h18M105 114.5h18M105 115.5h18M106 116.5h17M106 117.5h16M107 118.5h14M108 119.5h13M109 120.5h10M111 121.5h5"/>
<path stroke="#fad818" d="M111 108.5h7M108 109.5h12M107 110.5h14M107 111.5h14M106 112.5h16M106 113.5h17M106 114.5h17M106 115.5h17M106 116.5h16M107 117.5h14M107 118.5h14M109 119.5h11M110 120.5h8"/>
<path stroke="#fac119" d="M112 108.5h5M109 109.5h10M108 110.5h12M107 111.5h14M107 112.5h15M106 113.5h16M106 114.5h16M106 115.5h16M107 116.5h14M107 117.5h14M108 118.5h12M109 119.5h10M111 120.5h6"/>
<path stroke="#f9ab1b" d="M113 108.5h3M110 109.5h8M108 110.5h12M108 111.5h12M107 112.5h14M107 113.5h15M107 114.5h15M107 115.5h15M107 116.5h14M108 117.5h12M109 118.5h11M110 119.5h9M113 120.5h3"/>
<path stroke="#f7951d" d="M111 109.5h6M109 110.5h10M108 111.5h12M108 112.5h13M107 113.5h14M107 114.5h14M107 115.5h14M108 116.5h13M108 117.5h12M109 118.5h10M111 119.5h7M114 120.5h1"/>
<path stroke="#f48020" d="M112 109.5h4M110 110.5h8M109 111.5h10M108 112.5h12M108 113.5h13M108 114.5h13M108 115.5h13M108 116.5h12M109 117.5h11M110 118.5h8M112 119.5h5"/>
<path stroke="#f26a22" d="M114 109.5h1M111 110.5h6M109 111.5h10M109 112.5h11M108 113.5h12M108 114.5h12M108 115.5h12M108 116.5h12M109 117.5h10M110 118.5h8M113 119.5h3"/>
<path stroke="#f04323" d="M113 110.5h3M110 111.5h8M109 112.5h10M109 113.5h10M109 114.5h11M109 115.5h11M109 116.5h10M110 117.5h8M111 118.5h6"/>
<path stroke="#ed1c24" d="M114 110.5h1M112 111.5h5M110 112.5h8M110 113.5h9M110 114.5h9M110 115.5h9M110 116.5h8M111 117.5h7M112 118.5h4"/>
</g>
<path d="M190.4 750.4 278.6 692.2 366.7 685.9 365.1 745.7 300.6 854.3 228.2 857.5 187.3 791.4Z" fill="none" stroke="#000" stroke-width="2.8" stroke-linejoin="miter"/>
<rect x="132.2" y="628.6" width="337.6" height="337.4" fill="none" stroke="#000" stroke-width="2.2"/>
<path d="M131.2 925.5h-9.5M131.2 917.06h-4M131.2 932.41h-4M131.2 911.68h-4M131.2 936.82h-4M131.2 908.09h-4M131.2 939.75h-4M131.2 905.45h-4M131.2 941.92h-4M131.2 903.36h-4M131.2 943.62h-4M131.2 901.65h-4M131.2 945.03h-4M131.2 900.19h-4M131.2 946.22h-4M131.2 898.92h-4M131.2 947.26h-4M131.2 897.8h-4M131.2 948.18h-4M131.2 896.8h-9.5M131.2 949h-9.5M131.2 872.67h-4M131.2 954.42h-4M131.2 858.52h-4M131.2 957.59h-4M131.2 848.48h-4M131.2 959.85h-4M131.2 840.7h-4M131.2 961.6h-4M131.2 834.33h-4M131.2 963.02h-4M131.2 828.95h-4M131.2 964.23h-4M131.2 824.29h-4M131.2 965.28h-4M131.2 820.18h-4M131.2 966.2h-4M131.2 816.5h-9.5M131.2 792.57h-4M131.2 778.57h-4M131.2 768.64h-4M131.2 760.93h-4M131.2 754.64h-4M131.2 749.31h-4M131.2 744.7h-4M131.2 740.64h-4M131.2 737h-9.5M131.2 713.82h-4M131.2 700.26h-4M131.2 690.64h-4M131.2 683.18h-4M131.2 677.08h-4M131.2 671.93h-4M131.2 667.46h-4M131.2 663.52h-4M131.2 660h-9.5M131.2 636.82h-4M131.2 636.82h-4M170 967v9.5M179.23 967v4M161.77 967v4M185.12 967v4M156.52 967v4M189.04 967v4M153.02 967v4M191.94 967v4M150.44 967v4M194.22 967v4M148.4 967v4M196.1 967v4M146.73 967v4M197.69 967v4M145.31 967v4M199.08 967v4M144.07 967v4M200.3 967v4M142.98 967v4M201.4 967v9.5M142 967v9.5M225.53 967v4M135.54 967v4M239.68 967v4M131.76 967v4M249.72 967v4M257.5 967v4M263.87 967v4M269.25 967v4M273.91 967v4M278.02 967v4M281.7 967v9.5M305.39 967v4M319.25 967v4M329.08 967v4M336.71 967v4M342.94 967v4M348.21 967v4M352.77 967v4M356.8 967v4M360.4 967v9.5M383.16 967v4M396.47 967v4M405.92 967v4M413.24 967v4M419.23 967v4M424.29 967v4M428.67 967v4M432.54 967v4M436 967v9.5M458.76 967v4M458.76 967v4" stroke="#000" stroke-width="2" fill="none"/>
<text x="100.2" y="680.8" text-anchor="end" textLength="32.8" lengthAdjust="spacingAndGlyphs">10</text>
<text x="101.7" y="660.2">5</text>
<text x="100.2" y="757.8" text-anchor="end" textLength="32.8" lengthAdjust="spacingAndGlyphs">10</text>
<text x="101.7" y="737.2">4</text>
<text x="100.2" y="837.3" text-anchor="end" textLength="32.8" lengthAdjust="spacingAndGlyphs">10</text>
<text x="101.7" y="816.7">3</text>
<text x="100" y="940" text-anchor="end">0</text>
<text x="171.5" y="1016.8" text-anchor="middle">0</text>
<text x="271.3" y="1016.8" textLength="32.8" lengthAdjust="spacingAndGlyphs">10</text>
<text x="305.6" y="996">3</text>
<text x="350" y="1016.8" textLength="32.8" lengthAdjust="spacingAndGlyphs">10</text>
<text x="384.3" y="996">4</text>
<text x="419.2" y="1016.8" textLength="32.8" lengthAdjust="spacingAndGlyphs">10</text>
<text x="453.5" y="996">5</text>
<text x="293.5" y="604.2" text-anchor="middle" fill="#1e1e1e" style="font-size:33px">Live Cells</text>
<text x="299.8" y="1071.5" text-anchor="middle">BV750: CD19</text>
<text x="24.6" y="797" text-anchor="middle" transform="rotate(-90 24.6 797)" textLength="245" lengthAdjust="spacingAndGlyphs">APC-FIRE: CD20</text>
<g transform="translate(675.3 629.7) scale(1.32)" shape-rendering="crispEdges" fill="none" stroke-width="1">
<path stroke="#3854a6" d="M24 14.5h1M28 15.5h1M20 16.5h2m1 0h1m7 0h1M23 17.5h1m1 0h1m1 0h2M22 18.5h1m1 0h1m4 0h2M17 19.5h2m5 0h1m2 0h1M21 20.5h3m1 0h2M18 21.5h1m3 0h1m1 0h3m3 0h1m4 0h1M20 22.5h3m3 0h1m1 0h1m2 0h1M17 23.5h1m2 0h1m1 0h5m2 0h1M19 24.5h1m1 0h6m1 0h1m1 0h2M19 25.5h1m1 0h2m1 0h1m1 0h1m3 0h1m2 0h1M12 26.5h1m7 0h2m3 0h2m1 0h3M15 27.5h2m2 0h1m1 0h8m1 0h1M18 28.5h1m2 0h8m3 0h1M13 29.5h2m2 0h15M17 30.5h3m2 0h6m1 0h2M18 31.5h12m1 0h1m1 0h1m1 0h2M13 32.5h1m3 0h16M14 33.5h1m4 0h13m2 0h1M13 34.5h1m2 0h14m2 0h2M14 35.5h3m1 0h12m1 0h3m2 0h1M12 36.5h1m4 0h17m1 0h1m3 0h1M15 37.5h1m1 0h16m2 0h2m1 0h1M14 38.5h20M10 39.5h1m1 0h2m2 0h19m3 0h1M12 40.5h1m2 0h21m3 0h1M14 41.5h3m2 0h14m1 0h2M12 42.5h1m2 0h20m1 0h1m2 0h1M13 43.5h1m1 0h20m2 0h1M6 44.5h1m1 0h4m1 0h2m1 0h16m1 0h2m1 0h1m1 0h1M12 45.5h1m2 0h18m2 0h1M11 46.5h3m1 0h20m1 0h1m2 0h1M11 47.5h5m1 0h18m2 0h1m3 0h1M12 48.5h1m1 0h20M10 49.5h1m1 0h22m6 0h1M10 50.5h1m1 0h23m1 0h1m1 0h2M11 51.5h1m2 0h23m1 0h1m119 0h1M10 52.5h4m1 0h24m1 0h1m183 0h1M8 53.5h1m2 0h26m1 0h2M9 54.5h1m1 0h26m1 0h2M13 55.5h23m1 0h1M6 56.5h1m3 0h24m1 0h3m2 0h1M9 57.5h28m2 0h1m1 0h1m135 0h1m67 0h1M10 58.5h29M7 59.5h1m2 0h26m1 0h1M9 60.5h28m1 0h2m184 0h1M8 61.5h3m1 0h25m139 0h1M10 62.5h26m1 0h1m1 0h1m1 0h1m186 0h1M10 63.5h1m1 0h24m1 0h3m6 0h1M8 64.5h1m1 0h26m1 0h1m1 0h1m44 0h1M5 65.5h1m1 0h4m1 0h26m3 0h1m7 0h1M7 66.5h1m1 0h1m1 0h1m1 0h23m1 0h1m41 0h1M6 67.5h33m140 0h1m37 0h1M8 68.5h1m1 0h29m1 0h1m31 0h1m94 0h1M9 69.5h26m3 0h1m1 0h1m8 0h3m174 0h1M10 70.5h29m16 0h1M8 71.5h3m1 0h28m1 0h1m5 0h1m120 0h1M7 72.5h28m1 0h3M7 73.5h2m2 0h28m1 0h1m79 0h1M8 74.5h27m1 0h5m15 0h1m2 0h1M9 75.5h29m1 0h1m1 0h1m16 0h1m16 0h1m7 0h1m19 0h1m66 0h1M1 76.5h1m3 0h1m1 0h32m12 0h1m25 0h1M7 77.5h1m1 0h28m1 0h2m6 0h1m6 0h1m1 0h1m2 0h1m4 0h1m4 0h1m5 0h1m4 0h1m13 0h1m5 0h1M5 78.5h1m2 0h32m2 0h1m8 0h1m6 0h1m7 0h1m20 0h1m5 0h1M4 79.5h1m2 0h31m1 0h1m6 0h2m3 0h1m4 0h1m3 0h1m1 0h1m8 0h1m7 0h1m31 0h1M6 80.5h1m2 0h2m1 0h26m3 0h1m4 0h1m1 0h2m5 0h1m9 0h1m22 0h1m4 0h1m1 0h1m10 0h1m8 0h1M5 81.5h4m1 0h30m6 0h2m4 0h2m22 0h1m1 0h1m7 0h1m16 0h1m3 0h1M7 82.5h1m1 0h28m2 0h1m1 0h1m12 0h1m15 0h1m4 0h2m15 0h1M5 83.5h1m1 0h1m3 0h26m9 0h2m2 0h1m36 0h1m1 0h1m2 0h1m5 0h1m144 0h1M3 84.5h1m3 0h1m2 0h30m18 0h1m5 0h1m13 0h1m5 0h2m12 0h1m5 0h1m1 0h1m21 0h1m2 0h1m30 0h1m1 0h1m68 0h1M1 85.5h1m4 0h1m2 0h3m1 0h26m1 0h1m1 0h1m1 0h1m3 0h1m8 0h1m13 0h1m6 0h1m3 0h1m14 0h2m4 0h1m7 0h1m48 0h1M6 86.5h1m1 0h33m11 0h1m1 0h1m2 0h1m11 0h1m3 0h1m5 0h1m18 0h1m5 0h1M6 87.5h2m1 0h29m1 0h2m1 0h2m1 0h1m1 0h1m1 0h2m10 0h1m9 0h1m1 0h1m8 0h3m6 0h1m2 0h1m4 0h1m2 0h1m28 0h1M3 88.5h1m2 0h1m1 0h1m1 0h29m3 0h1m4 0h1m2 0h1m2 0h1m1 0h1m1 0h1m2 0h1m1 0h1m1 0h1m3 0h1m7 0h1m3 0h1m3 0h1m5 0h1m9 0h1m8 0h1M6 89.5h30m1 0h1m1 0h2m6 0h1m1 0h3m7 0h1m7 0h1m4 0h1m9 0h1m6 0h3m5 0h1m1 0h2m19 0h1m24 0h1m67 0h1m3 0h1M5 90.5h1m2 0h1m1 0h27m3 0h1m1 0h1m1 0h1m4 0h1m1 0h1m6 0h3m4 0h1m4 0h1m3 0h1m4 0h2m3 0h2m25 0h1m1 0h1m3 0h1m14 0h1m5 0h1m39 0h1M7 91.5h31m2 0h1m2 0h1m9 0h2m1 0h1m8 0h2m10 0h1m1 0h1m5 0h1m4 0h1m22 0h1m11 0h1M1 92.5h1m8 0h28m1 0h1m1 0h2m1 0h1m3 0h1m3 0h2m3 0h1m3 0h1m3 0h1m1 0h1m5 0h1m1 0h4m2 0h1m1 0h1m1 0h1m4 0h2m2 0h1m1 0h1m8 0h1m5 0h1m1 0h1m13 0h1m66 0h1M4 93.5h1m3 0h2m1 0h31m1 0h1m6 0h1m5 0h1m2 0h1m1 0h2m2 0h2m4 0h1m10 0h1m1 0h1m2 0h2m2 0h1m9 0h1m1 0h1m5 0h1m15 0h1m1 0h1m2 0h1M6 94.5h3m1 0h26m1 0h3m1 0h2m3 0h1m7 0h1m2 0h1m6 0h1m1 0h1m1 0h1m1 0h3m1 0h1m6 0h1m7 0h1m2 0h2m8 0h1m1 0h1m1 0h2m7 0h1m13 0h1m3 0h1m10 0h1M1 95.5h1m9 0h27m1 0h3m4 0h2m6 0h2m6 0h1m2 0h1m1 0h1m1 0h1m13 0h1m2 0h1m7 0h1m5 0h1m2 0h1m7 0h1m10 0h1m10 0h1M7 96.5h1m1 0h3m1 0h24m1 0h4m2 0h2m1 0h1m6 0h1m9 0h2m1 0h1m2 0h2m1 0h1m2 0h5m1 0h1m1 0h1m7 0h1m1 0h2m12 0h1m2 0h1m10 0h1m6 0h1m6 0h1M9 97.5h29m4 0h1m1 0h3m2 0h1m5 0h1m1 0h1m2 0h1m2 0h1m3 0h1m2 0h2m10 0h1m4 0h1m1 0h2m5 0h1m3 0h1m2 0h1m1 0h1m5 0h1m1 0h1m13 0h1m7 0h1m67 0h1M8 98.5h28m5 0h2m1 0h1m2 0h1m3 0h1m2 0h2m3 0h1m2 0h1m1 0h1m6 0h1m1 0h3m8 0h1m2 0h2m5 0h2m3 0h1m14 0h1m3 0h2m7 0h1m5 0h1M8 99.5h1m1 0h27m1 0h1m3 0h1m1 0h1m2 0h2m1 0h1m2 0h2m1 0h1m8 0h2m1 0h1m3 0h2m3 0h2m5 0h1m2 0h1m2 0h3m1 0h1m1 0h1m12 0h1m2 0h1m7 0h1m1 0h1m9 0h1m19 0h1M7 100.5h2m1 0h27m1 0h2m1 0h1m5 0h2m2 0h1m4 0h1m1 0h1m2 0h1m1 0h1m24 0h1m1 0h2m10 0h4m2 0h1m3 0h2m5 0h1m1 0h2m12 0h1m2 0h1m4 0h2m2 0h1M4 101.5h1m5 0h26m1 0h1m3 0h1m1 0h1m4 0h1m2 0h2m1 0h3m2 0h1m1 0h1m2 0h1m2 0h1m8 0h1m4 0h1m4 0h1m13 0h1m1 0h1m1 0h2m1 0h1m33 0h2M8 102.5h29m2 0h4m2 0h1m4 0h1m1 0h2m1 0h1m6 0h1m1 0h3m13 0h1m3 0h1m4 0h2m4 0h1m1 0h1m3 0h2m1 0h1m3 0h1m1 0h2m7 0h1m2 0h2m7 0h1m25 0h1m1 0h1M6 103.5h1m1 0h26m1 0h1m1 0h2m2 0h1m2 0h2m6 0h3m9 0h3m2 0h1m7 0h1m2 0h1m2 0h3m1 0h1m7 0h1m4 0h2m4 0h1m5 0h1m4 0h1m1 0h1m1 0h1m2 0h1m3 0h1M7 104.5h1m1 0h2m1 0h22m1 0h1m1 0h4m1 0h3m3 0h1m1 0h1m1 0h2m1 0h1m1 0h1m4 0h2m7 0h1m13 0h1m6 0h1m5 0h1m4 0h1m1 0h1m1 0h1m10 0h1m1 0h1m2 0h1m12 0h1m2 0h1m1 0h1m3 0h1m5 0h1M9 105.5h4m1 0h29m5 0h1m2 0h1m1 0h1m4 0h1m4 0h2m2 0h1m1 0h1m2 0h1m10 0h1m1 0h1m6 0h1m2 0h2m6 0h1m9 0h1m6 0h1m1 0h3m3 0h1m4 0h2m13 0h1m2 0h1M6 106.5h1m3 0h24m1 0h2m1 0h4m1 0h1m2 0h1m4 0h2m2 0h5m1 0h1m3 0h3m4 0h1m4 0h1m2 0h1m6 0h1m1 0h1m5 0h1m1 0h2m2 0h2m10 0h1m7 0h2m2 0h1m9 0h1m10 0h1M9 107.5h25m1 0h1m1 0h1m4 0h1m2 0h4m2 0h2m1 0h2m2 0h1m8 0h1m1 0h1m1 0h1m2 0h2m11 0h1m4 0h1m3 0h1m9 0h1m1 0h1m2 0h1m6 0h1m1 0h1m1 0h1m3 0h1m1 0h1m1 0h1m12 0h1m6 0h1M5 108.5h1m1 0h3m1 0h28m1 0h2m1 0h1m3 0h1m1 0h1m4 0h1m6 0h3m1 0h3m4 0h1m4 0h1m5 0h1m2 0h2m7 0h1m3 0h2m7 0h1m1 0h1m6 0h2m3 0h1m4 0h1m13 0h1m1 0h1m1 0h1M3 109.5h1m4 0h29m2 0h1m2 0h1m1 0h3m1 0h1m2 0h2m2 0h3m3 0h2m3 0h1m1 0h4m1 0h1m1 0h3m3 0h1m16 0h1m4 0h2m5 0h2m1 0h1m2 0h1m4 0h1m1 0h1m21 0h2m10 0h1m8 0h1m1 0h1M5 110.5h1m1 0h1m3 0h26m1 0h1m3 0h1m2 0h2m3 0h1m1 0h1m7 0h2m2 0h1m1 0h4m2 0h3m2 0h1m2 0h1m1 0h2m4 0h1m7 0h1m1 0h1m3 0h1m7 0h1m4 0h2m2 0h1m1 0h1m2 0h1m2 0h2m1 0h1m2 0h1m6 0h1m2 0h2m5 0h1M8 111.5h2m1 0h27m5 0h1m1 0h3m7 0h3m9 0h1m6 0h1m6 0h1m3 0h2m1 0h1m1 0h1m1 0h1m1 0h1m6 0h1m2 0h3m3 0h1m5 0h2m8 0h1m4 0h2m4 0h1m2 0h1m4 0h1m4 0h1m3 0h1M1 112.5h1m6 0h24m1 0h1m1 0h3m2 0h4m4 0h1m2 0h1m2 0h2m4 0h1m9 0h3m4 0h2m1 0h1m6 0h1m1 0h1m4 0h5m1 0h1m1 0h1m1 0h2m2 0h1m1 0h1m1 0h1m2 0h2m2 0h1m4 0h2m4 0h1m4 0h2m5 0h1m8 0h1m8 0h1M6 113.5h1m1 0h28m1 0h1m3 0h1m4 0h1m1 0h1m4 0h4m1 0h1m2 0h3m7 0h1m1 0h1m6 0h1m1 0h4m3 0h1m2 0h1m4 0h2m3 0h2m1 0h2m4 0h2m2 0h1m8 0h1m13 0h1m10 0h1m12 0h1m69 0h1M8 114.5h2m1 0h18m1 0h2m1 0h5m1 0h1m1 0h2m2 0h4m1 0h1m1 0h2m2 0h1m1 0h1m2 0h2m3 0h1m9 0h1m3 0h2m1 0h2m1 0h1m1 0h1m2 0h1m1 0h2m1 0h2m4 0h2m7 0h1m6 0h2m3 0h2m1 0h1m6 0h1m1 0h1m8 0h2m8 0h1M6 115.5h2m1 0h24m1 0h3m3 0h4m1 0h1m1 0h2m9 0h1m3 0h1m2 0h2m5 0h1m3 0h1m1 0h1m2 0h1m1 0h1m3 0h1m10 0h1m1 0h1m6 0h2m7 0h1m1 0h1m3 0h1m5 0h2m5 0h2m1 0h1m4 0h2m1 0h1m7 0h1m71 0h1M2 116.5h1m7 0h24m1 0h2m2 0h1m1 0h1m1 0h6m1 0h1m14 0h1m6 0h1m1 0h1m7 0h1m1 0h1m1 0h2m8 0h1m1 0h2m2 0h1m3 0h1m1 0h1m7 0h1m3 0h1m2 0h1m3 0h2m1 0h1m2 0h1m2 0h2m2 0h1m3 0h1m1 0h1m22 0h1M1 117.5h1m2 0h1m6 0h24m1 0h5m1 0h1m1 0h2m1 0h2m2 0h2m1 0h3m1 0h1m8 0h2m1 0h2m5 0h3m2 0h2m5 0h1m3 0h1m1 0h2m5 0h1m1 0h1m8 0h1m1 0h1m2 0h1m3 0h1m1 0h1m2 0h1m2 0h1m5 0h1m1 0h1m1 0h2m2 0h1m4 0h2m3 0h1m8 0h1M4 118.5h2m1 0h2m1 0h3m1 0h19m1 0h4m1 0h1m2 0h1m3 0h1m1 0h3m3 0h2m1 0h2m1 0h3m3 0h1m1 0h1m8 0h1m2 0h1m5 0h1m1 0h1m1 0h1m5 0h1m4 0h2m1 0h2m1 0h1m1 0h2m3 0h2m1 0h1m1 0h1m2 0h1m6 0h1m6 0h1m2 0h1M9 119.5h3m1 0h19m1 0h2m1 0h3m1 0h1m1 0h3m3 0h1m6 0h1m1 0h1m2 0h3m5 0h3m1 0h1m1 0h1m3 0h1m2 0h1m1 0h1m3 0h1m1 0h1m2 0h1m1 0h2m1 0h1m1 0h1m1 0h1m7 0h2m1 0h1m4 0h1m3 0h1m3 0h1m3 0h1m2 0h1m1 0h3m3 0h1m8 0h2m4 0h2M5 120.5h1m2 0h1m2 0h1m1 0h18m1 0h4m2 0h5m1 0h1m2 0h2m3 0h1m1 0h2m2 0h2m1 0h1m5 0h3m4 0h1m2 0h1m2 0h3m1 0h1m2 0h1m1 0h1m4 0h2m1 0h1m1 0h1m1 0h1m5 0h1m4 0h1m6 0h2m2 0h1m3 0h3m1 0h1m1 0h1m6 0h4m4 0h1M9 121.5h1m1 0h26m1 0h7m1 0h5m9 0h3m4 0h1m1 0h2m3 0h3m5 0h1m4 0h1m1 0h1m2 0h2m1 0h1m7 0h1m1 0h1m1 0h1m2 0h1m2 0h1m8 0h1m1 0h3m4 0h1m3 0h1m6 0h1m2 0h1m3 0h1m16 0h1M6 122.5h1m3 0h1m2 0h27m1 0h2m2 0h1m1 0h1m1 0h2m2 0h2m3 0h1m3 0h1m1 0h2m1 0h2m11 0h3m4 0h1m8 0h2m5 0h1m5 0h2m15 0h1m2 0h1m2 0h1m7 0h1m4 0h1m2 0h1m5 0h2M4 123.5h2m3 0h1m3 0h1m1 0h3m1 0h18m1 0h3m2 0h4m1 0h2m1 0h2m1 0h1m2 0h1m2 0h2m2 0h2m3 0h3m1 0h1m2 0h1m3 0h1m2 0h2m5 0h1m1 0h1m20 0h1m6 0h2m4 0h2m3 0h1m2 0h3m5 0h1m1 0h1m1 0h1m9 0h1m6 0h1M8 124.5h1m2 0h1m2 0h19m1 0h3m1 0h1m2 0h3m1 0h4m2 0h2m1 0h1m3 0h1m2 0h1m1 0h1m3 0h1m4 0h1m5 0h1m2 0h1m5 0h1m1 0h1m7 0h1m4 0h1m6 0h1m1 0h1m1 0h4m1 0h1m2 0h1m2 0h1m3 0h1m2 0h3m1 0h1m3 0h1m1 0h1m6 0h1m6 0h1m3 0h1M7 125.5h1m2 0h2m1 0h17m1 0h2m2 0h7m2 0h1m2 0h2m1 0h1m2 0h4m2 0h2m2 0h2m5 0h3m1 0h1m8 0h2m1 0h1m5 0h1m2 0h1m4 0h1m2 0h1m1 0h1m2 0h1m1 0h1m3 0h1m4 0h1m2 0h1m1 0h5m4 0h1m1 0h2m2 0h1m3 0h1m2 0h1m8 0h1m6 0h1m8 0h1M3 126.5h1m4 0h2m1 0h3m1 0h2m2 0h22m1 0h3m1 0h2m2 0h5m7 0h1m4 0h1m4 0h1m1 0h1m5 0h1m1 0h3m1 0h1m1 0h2m4 0h1m3 0h2m3 0h1m2 0h1m4 0h1m2 0h1m10 0h1m3 0h1m1 0h1m4 0h1m4 0h1m2 0h1m3 0h1m4 0h1m7 0h1m3 0h1m5 0h1M8 127.5h1m1 0h3m1 0h11m1 0h13m1 0h1m1 0h5m2 0h1m1 0h2m1 0h1m1 0h1m6 0h1m1 0h1m1 0h1m10 0h1m1 0h1m3 0h2m1 0h2m2 0h1m2 0h2m2 0h1m3 0h1m1 0h1m2 0h1m1 0h2m3 0h1m1 0h1m2 0h1m3 0h1m6 0h1m1 0h2m3 0h1m1 0h1m3 0h1m1 0h1m5 0h2m14 0h1m21 0h1M2 128.5h1m3 0h4m1 0h1m1 0h2m1 0h3m1 0h22m2 0h1m1 0h1m1 0h1m1 0h2m1 0h3m1 0h1m2 0h1m1 0h1m1 0h1m1 0h1m3 0h4m2 0h1m3 0h1m8 0h1m5 0h1m6 0h1m2 0h1m2 0h1m2 0h1m1 0h3m3 0h1m7 0h1m1 0h1m2 0h1m1 0h1m4 0h1m2 0h1m2 0h1m4 0h1m3 0h1M0 129.5h1m3 0h1m1 0h1m4 0h1m1 0h30m1 0h8m1 0h2m1 0h1m2 0h2m2 0h1m2 0h1m7 0h1m4 0h2m6 0h1m1 0h1m1 0h1m2 0h1m4 0h1m2 0h1m2 0h1m2 0h2m10 0h2m8 0h1m6 0h1m3 0h1m2 0h1m2 0h1m6 0h1M9 130.5h4m1 0h3m1 0h25m1 0h5m2 0h1m1 0h1m2 0h1m3 0h1m1 0h2m12 0h1m1 0h1m2 0h2m1 0h1m5 0h3m4 0h1m3 0h1m4 0h1m2 0h2m3 0h1m2 0h1m5 0h1m3 0h1m7 0h2m7 0h1m1 0h2m8 0h1m39 0h1M4 131.5h1m3 0h1m6 0h29m1 0h2m2 0h1m2 0h1m2 0h1m1 0h2m1 0h1m3 0h2m15 0h3m3 0h2m1 0h2m3 0h1m3 0h3m1 0h1m1 0h1m3 0h1m6 0h3m3 0h1m1 0h2m2 0h2m1 0h1m4 0h1m1 0h1m3 0h1m3 0h1m5 0h1m2 0h1m86 0h1M1 132.5h1m1 0h1m3 0h1m3 0h4m1 0h28m1 0h8m2 0h1m2 0h1m1 0h2m7 0h2m6 0h1m3 0h1m2 0h1m3 0h1m2 0h1m8 0h2m1 0h1m1 0h1m5 0h2m4 0h2m4 0h1m3 0h2m3 0h2m1 0h1m8 0h1m3 0h1m13 0h1m1 0h1m33 0h1M0 133.5h1m8 0h7m1 0h29m2 0h2m1 0h1m1 0h1m1 0h1m1 0h1m3 0h1m3 0h2m1 0h1m1 0h3m11 0h1m1 0h4m3 0h1m4 0h3m7 0h1m6 0h1m1 0h1m2 0h1m4 0h2m2 0h1m9 0h1m1 0h1m7 0h2m4 0h1m1 0h1m68 0h1M9 134.5h1m1 0h3m1 0h26m1 0h4m1 0h1m1 0h1m1 0h1m1 0h3m3 0h1m1 0h1m3 0h1m1 0h1m2 0h1m3 0h3m2 0h1m5 0h1m2 0h1m3 0h1m1 0h1m2 0h1m5 0h2m2 0h1m3 0h1m1 0h2m1 0h1m2 0h1m2 0h1m2 0h1m1 0h1m2 0h2m10 0h1m2 0h1m7 0h1M4 135.5h1m2 0h11m1 0h30m1 0h1m1 0h2m1 0h3m1 0h1m3 0h1m1 0h1m1 0h1m3 0h1m1 0h1m3 0h3m1 0h1m1 0h2m1 0h1m1 0h1m5 0h1m1 0h2m5 0h5m7 0h1m5 0h2m1 0h1m4 0h1m2 0h1m1 0h1m1 0h1m5 0h1m7 0h1m1 0h2m2 0h1m33 0h1M7 136.5h2m1 0h37m1 0h4m1 0h1m4 0h1m1 0h1m2 0h2m6 0h1m11 0h2m8 0h1m1 0h1m3 0h1m3 0h3m2 0h1m17 0h1m1 0h1m2 0h2m1 0h2m2 0h1m6 0h1m2 0h2m8 0h1m2 0h1M5 137.5h1m1 0h1m1 0h41m1 0h1m1 0h2m2 0h5m4 0h1m10 0h3m6 0h1m5 0h1m1 0h1m6 0h1m19 0h1m3 0h1m2 0h2m2 0h1m3 0h2m3 0h1m1 0h1m2 0h1m1 0h1m33 0h1M0 138.5h2m3 0h1m1 0h1m2 0h3m1 0h1m1 0h30m1 0h3m1 0h1m5 0h1m3 0h1m2 0h1m3 0h1m1 0h2m1 0h1m7 0h1m2 0h1m2 0h1m4 0h1m1 0h1m13 0h1m1 0h1m2 0h1m6 0h1m10 0h5m4 0h2m1 0h1m3 0h1m3 0h1m6 0h1m42 0h1M0 139.5h1m1 0h2m4 0h2m1 0h1m1 0h1m1 0h1m2 0h29m1 0h1m1 0h1m2 0h2m1 0h2m6 0h2m3 0h1m9 0h1m1 0h1m3 0h2m6 0h1m6 0h1m1 0h1m4 0h1m3 0h1m4 0h4m8 0h1m4 0h1m3 0h1m2 0h1m2 0h2m5 0h1m2 0h2m2 0h1m56 0h1M5 140.5h1m5 0h6m1 0h31m1 0h4m4 0h3m1 0h2m2 0h3m6 0h1m8 0h1m1 0h1m2 0h2m3 0h2m2 0h1m4 0h2m4 0h1m7 0h1m4 0h1m3 0h1m1 0h2m2 0h1m4 0h1m1 0h1m7 0h1m2 0h1m4 0h1M5 141.5h1m1 0h4m1 0h1m1 0h36m1 0h1m1 0h1m5 0h1m7 0h1m2 0h1m1 0h1m9 0h1m14 0h1m3 0h1m3 0h1m1 0h1m1 0h2m2 0h1m1 0h1m10 0h1m2 0h3m3 0h1m3 0h1m3 0h1m22 0h1m60 0h1M4 142.5h1m1 0h2m2 0h1m1 0h1m1 0h29m1 0h7m1 0h1m1 0h3m1 0h1m1 0h2m13 0h1m7 0h1m2 0h2m1 0h2m2 0h1m5 0h1m3 0h1m1 0h2m2 0h4m2 0h1m8 0h1m2 0h1m1 0h1m1 0h1m9 0h1m1 0h1m9 0h2m3 0h1M4 143.5h1m1 0h9m1 0h31m1 0h1m3 0h1m3 0h1m3 0h1m4 0h1m2 0h1m1 0h2m1 0h1m3 0h1m1 0h1m1 0h1m5 0h2m1 0h1m1 0h3m3 0h3m2 0h1m6 0h1m2 0h3m2 0h2m3 0h1m4 0h1m2 0h2m1 0h1m1 0h1m1 0h3m11 0h1m7 0h1M0 144.5h1m3 0h2m1 0h1m1 0h2m1 0h37m2 0h2m1 0h1m4 0h1m1 0h2m6 0h4m2 0h1m1 0h1m1 0h1m1 0h2m1 0h1m1 0h2m1 0h3m1 0h1m2 0h1m2 0h2m3 0h1m3 0h2m3 0h1m8 0h1m1 0h1m3 0h2m5 0h1m11 0h1m5 0h1m3 0h1M3 145.5h4m1 0h4m1 0h1m1 0h37m3 0h3m6 0h2m1 0h3m1 0h1m2 0h1m2 0h1m3 0h2m1 0h6m1 0h2m1 0h1m3 0h1m4 0h2m4 0h2m1 0h3m1 0h2m4 0h1m5 0h1m5 0h1m2 0h1m3 0h1m4 0h1m5 0h1M0 146.5h2m3 0h1m2 0h5m1 0h33m2 0h3m3 0h4m1 0h3m6 0h9m1 0h2m1 0h2m1 0h5m1 0h5m1 0h2m2 0h2m2 0h2m1 0h4m1 0h1m2 0h2m2 0h1m2 0h1m4 0h1m2 0h2m2 0h1m1 0h1m3 0h1m2 0h1m3 0h1m5 0h1M1 147.5h7m1 0h4m1 0h36m1 0h1m1 0h1m4 0h2m1 0h1m1 0h3m1 0h24m1 0h6m1 0h7m1 0h8m2 0h4m2 0h1m6 0h1m1 0h1m5 0h1m2 0h2m6 0h1m19 0h1M0 148.5h2m1 0h46m1 0h5m1 0h4m1 0h1m1 0h3m2 0h2m2 0h22m1 0h7m1 0h17m1 0h3m8 0h1m2 0h1m1 0h2m4 0h1m8 0h1m5 0h1M6 149.5h1m1 0h2m1 0h39m1 0h5m1 0h4m1 0h29m1 0h34m2 0h1m4 0h1m6 0h2m3 0h1m4 0h1m74 0h2M4 150.5h3m1 0h1m2 0h34m1 0h4m1 0h4m1 0h64m1 0h8m1 0h1m1 0h2m1 0h2m11 0h1M2 151.5h1m1 0h3m2 0h1m1 0h33m2 0h4m3 0h7m1 0h3m1 0h55m1 0h8m2 0h1m10 0h1M1 152.5h1m4 0h5m2 0h33m1 0h22m1 0h59m1 0h5m1 0h1m5 0h1m2 0h1m9 0h1m53 0h1M7 153.5h47m1 0h29m1 0h44m1 0h3m1 0h3m1 0h3m1 0h1m8 0h1m54 0h1m29 0h1M4 154.5h137m2 0h4m3 0h2M0 155.5h1m1 0h1m1 0h1m1 0h2m3 0h128m1 0h3m2 0h1m7 0h1M1 156.5h1m2 0h1m1 0h138m3 0h1m2 0h1m4 0h1m86 0h1M3 157.5h2m1 0h1m1 0h134m1 0h3m1 0h1m1 0h2M1 158.5h2m1 0h3m1 0h134m1 0h4m6 0h1m4 0h1m68 0h1M0 159.5h1m2 0h6m1 0h137m1 0h1M0 160.5h1m4 0h1m1 0h126m1 0h9m1 0h5m85 0h1M1 161.5h6m2 0h139m3 0h1M2 162.5h1m4 0h1m1 0h140m9 0h1M0 163.5h1m3 0h143m1 0h2m3 0h1M0 164.5h1m1 0h3m2 0h144m1 0h1m2 0h1m14 0h1M1 165.5h1m1 0h2m1 0h3m1 0h144m6 0h1m4 0h1M3 166.5h2m1 0h3m1 0h141m5 0h2M0 167.5h1m2 0h148m6 0h1m56 0h1M2 168.5h145m1 0h4m3 0h1m2 0h1M0 169.5h2m2 0h1m1 0h147m4 0h1M1 170.5h2m1 0h4m2 0h139m1 0h1m1 0h1m1 0h1m2 0h1m8 0h1M2 171.5h5m1 0h142m1 0h1m2 0h1m19 0h1m1 0h1M1 172.5h6m1 0h143m3 0h1m4 0h1m5 0h1M0 173.5h150m1 0h1m1 0h1m3 0h1m4 0h1m1 0h1m10 0h1M1 174.5h2m1 0h149m2 0h1m4 0h1m1 0h1m1 0h1m2 0h1m1 0h1M2 175.5h3m2 0h142m1 0h4m1 0h1m2 0h1m6 0h1M0 176.5h4m2 0h145m1 0h2m1 0h1m1 0h4m1 0h2m2 0h1m1 0h1m4 0h1m40 0h2M0 177.5h1m1 0h155m2 0h1m5 0h2m33 0h1M1 178.5h4m1 0h146m1 0h4m1 0h2m1 0h1m1 0h1m11 0h1M1 179.5h1m2 0h157m7 0h1m4 0h1m4 0h1m47 0h1M0 180.5h161m4 0h1M0 181.5h1m2 0h2m1 0h159m2 0h2m62 0h1M0 182.5h3m1 0h158m2 0h1m4 0h2m2 0h1m2 0h1m7 0h1M0 183.5h3m2 0h154m1 0h1m3 0h2m5 0h2m2 0h1m3 0h1m6 0h1M0 184.5h3m1 0h150m1 0h5m1 0h2m1 0h1m2 0h1m1 0h1m5 0h1M0 185.5h1m1 0h3m1 0h158m1 0h2m2 0h2M1 186.5h156m1 0h3m1 0h9m1 0h4M1 187.5h161m1 0h10m1 0h1m34 0h1M0 188.5h5m1 0h155m1 0h5m1 0h4m1 0h1m1 0h2M0 189.5h6m1 0h162m2 0h2m4 0h1m5 0h1M1 190.5h160m1 0h6m1 0h1m1 0h1m5 0h1m1 0h1M0 191.5h2m1 0h1m1 0h1m1 0h162m2 0h2M0 192.5h166m1 0h3m1 0h1m2 0h2m8 0h2m59 0h1M1 193.5h1m1 0h163m2 0h4m13 0h1m1 0h1M0 194.5h172m2 0h1m5 0h2M0 195.5h167m2 0h1m2 0h2m1 0h1m2 0h1M0 196.5h2m1 0h2m1 0h162m1 0h9m3 0h1M0 197.5h3m1 0h170m3 0h2m3 0h1m2 0h1M0 198.5h5m1 0h166m1 0h3m4 0h2m1 0h1m5 0h1M0 199.5h171m1 0h2m1 0h1m1 0h1m5 0h2M0 200.5h2m1 0h169m7 0h1m1 0h1M0 201.5h163m1 0h7m1 0h3m2 0h2M0 202.5h170m1 0h3m1 0h1m3 0h3m28 0h1m23 0h1M0 203.5h167m1 0h2m2 0h1m2 0h1m2 0h2m2 0h1m1 0h1m5 0h1M1 204.5h166m1 0h5m1 0h3M0 205.5h163m1 0h4m1 0h5m3 0h1m3 0h2M3 206.5h4m1 0h167m4 0h1m4 0h1M0 207.5h1m1 0h1m1 0h163m1 0h3m2 0h2m10 0h1m6 0h1m26 0h1M0 208.5h1m2 0h164m1 0h8m2 0h2m5 0h1M0 209.5h2m1 0h167m1 0h2m4 0h1m13 0h1M1 210.5h1m2 0h163m1 0h2m1 0h1m5 0h1m1 0h1m1 0h1M0 211.5h1m1 0h166m2 0h2m4 0h1m42 0h1M0 212.5h1m1 0h163m1 0h1m1 0h3m27 0h1M0 213.5h164m1 0h1m1 0h1m1 0h1m7 0h1M1 214.5h161m1 0h3m1 0h2m1 0h1m1 0h1m4 0h1m8 0h1m3 0h1M1 215.5h160m2 0h7m17 0h1M0 216.5h1m3 0h162m2 0h1m6 0h1m5 0h2m30 0h1M0 217.5h160m1 0h4m2 0h1m1 0h1m4 0h1M0 218.5h2m1 0h160m1 0h3m1 0h1m4 0h1M0 219.5h5m1 0h151m1 0h3m2 0h1m1 0h1m1 0h2m1 0h2m3 0h1M1 220.5h3m1 0h152m2 0h1m1 0h1m1 0h2m2 0h2m3 0h1m2 0h1M0 221.5h1m1 0h152m1 0h1m1 0h1m1 0h7m1 0h3m1 0h1m1 0h1M0 222.5h155m1 0h1m1 0h1m2 0h3m8 0h1M0 223.5h4m1 0h150m2 0h1m1 0h1m2 0h2m4 0h1M1 224.5h4m1 0h148m3 0h1m16 0h1M1 225.5h3m1 0h149m1 0h6m1 0h1m1 0h2m2 0h1M0 226.5h155m1 0h2m2 0h1m3 0h1M0 227.5h3m1 0h154m2 0h1m1 0h1m17 0h1M0 228.5h2m1 0h1m1 0h149m7 0h2m3 0h1m4 0h1M1 229.5h2m1 0h1m1 0h147m4 0h1m49 0h1M0 230.5h5m1 0h151M0 231.5h2m1 0h2m1 0h148m1 0h1m1 0h1M0 232.5h2m1 0h149m1 0h1m1 0h1m46 0h1m1 0h1M1 233.5h153m4 0h1M0 234.5h45m1 0h107m3 0h1m8 0h1m61 0h1M1 235.5h154M0 236.5h1m1 0h3m2 0h148m53 0h1M1 237.5h2m1 0h4m1 0h144m1 0h1M1 238.5h2m1 0h148m1 0h2M0 239.5h3m2 0h36m1 0h111M2 240.5h1m1 0h147m2 0h2M1 241.5h1m1 0h1m1 0h34m1 0h109m1 0h2m2 0h1m23 0h1M0 242.5h1m1 0h1m1 0h4m1 0h32m1 0h6m1 0h103M0 243.5h6m1 0h35m1 0h109m2 0h1M2 244.5h151m3 0h1M0 245.5h3m1 0h34m1 0h3m1 0h108m1 0h1M0 246.5h1m1 0h5m1 0h144m2 0h1M0 247.5h5m1 0h1m1 0h145M2 248.5h2m1 0h33m1 0h2m1 0h109m1 0h1M0 249.5h6m1 0h37m1 0h103m1 0h2m75 0h1M0 250.5h1m1 0h1m1 0h146M0 251.5h1m1 0h1m1 0h6m1 0h32m1 0h104m1 0h1m2 0h1M2 252.5h2m1 0h1m1 0h35m2 0h106M0 253.5h2m2 0h31m1 0h3m1 0h4m1 0h104m4 0h2"/>
<path stroke="#3a62b3" d="M24 43.5h2M23 44.5h3M22 45.5h6M22 46.5h7M21 47.5h8M20 48.5h9M20 49.5h10M20 50.5h10M20 51.5h10M20 52.5h10M19 53.5h11M19 54.5h11M19 55.5h11M18 56.5h13M18 57.5h13M18 58.5h13M18 59.5h13M18 60.5h13M18 61.5h13M18 62.5h13M18 63.5h13M17 64.5h14M17 65.5h14M17 66.5h15M17 67.5h14M17 68.5h14M17 69.5h14M17 70.5h14M17 71.5h14M17 72.5h14M17 73.5h14M17 74.5h14M17 75.5h14M17 76.5h14M16 77.5h15M17 78.5h14M17 79.5h14M16 80.5h15M16 81.5h15M17 82.5h14M17 83.5h14M17 84.5h14M17 85.5h13M17 86.5h13M17 87.5h13M16 88.5h14M17 89.5h13M17 90.5h13M17 91.5h13M17 92.5h13M17 93.5h13M17 94.5h12M17 95.5h12M17 96.5h12M18 97.5h11M18 98.5h10M18 99.5h10M19 100.5h9M19 101.5h9M19 102.5h8M19 103.5h8M20 104.5h6M20 105.5h6M21 106.5h4M21 107.5h3M27 142.5h1M26 143.5h6M25 144.5h8M24 145.5h10M24 146.5h11M23 147.5h12M22 148.5h13M22 149.5h14M21 150.5h15M20 151.5h17M20 152.5h17M20 153.5h17M19 154.5h19M19 155.5h19M19 156.5h19M18 157.5h20M18 158.5h20M18 159.5h21M17 160.5h22M17 161.5h22M17 162.5h22M17 163.5h22M17 164.5h22M16 165.5h23M16 166.5h23M15 167.5h24M15 168.5h25M15 169.5h25M15 170.5h25M15 171.5h25M15 172.5h25M15 173.5h25M14 174.5h26M14 175.5h26M14 176.5h26M14 177.5h26M14 178.5h26M14 179.5h26M13 180.5h27m64 0h7m3 0h2m3 0h4m2 0h1M13 181.5h28m51 0h3m2 0h20m1 0h5m1 0h3M13 182.5h27m46 0h37m1 0h5M13 183.5h27m46 0h44M13 184.5h27m41 0h1m3 0h51M12 185.5h28m40 0h56M13 186.5h27m38 0h59m1 0h2M13 187.5h27m33 0h63m2 0h3M13 188.5h27m34 0h68m1 0h2M12 189.5h28m34 0h69M12 190.5h28m33 0h70M12 191.5h28m30 0h1m1 0h72M12 192.5h28m30 0h75M12 193.5h28m29 0h78M12 194.5h28m25 0h82M12 195.5h28m25 0h82M12 196.5h28m25 0h82M12 197.5h28m25 0h82M12 198.5h28m24 0h84M12 199.5h28m23 0h86M11 200.5h29m23 0h86M11 201.5h28m23 0h86M12 202.5h27m22 0h87M11 203.5h28m22 0h85M11 204.5h28m22 0h86M12 205.5h27m22 0h87M12 206.5h27m22 0h87M12 207.5h27m20 0h89M11 208.5h28m21 0h87M11 209.5h27m22 0h87M12 210.5h26m22 0h86M12 211.5h26m22 0h1m1 0h83M12 212.5h26m21 0h1m3 0h81M12 213.5h26m21 0h2m2 0h80M12 214.5h26m22 0h1m3 0h79M12 215.5h25m27 0h79M12 216.5h25m26 0h3m1 0h75M12 217.5h25m27 0h1m2 0h71M12 218.5h25m28 0h3m2 0h68M12 219.5h25m29 0h1m3 0h67M12 220.5h25m33 0h61m2 0h2M12 221.5h25m33 0h61M13 222.5h23m34 0h58M13 223.5h23m39 0h50M13 224.5h23m39 0h46m1 0h1M13 225.5h22m46 0h3m3 0h27m2 0h1M13 226.5h22m53 0h7m1 0h17M14 227.5h21m54 0h4m6 0h11M14 228.5h21m64 0h2m2 0h2M14 229.5h20M14 230.5h20M15 231.5h19M15 232.5h19M15 233.5h18M15 234.5h17M16 235.5h15M16 236.5h15M17 237.5h14M17 238.5h13M17 239.5h13M18 240.5h11M18 241.5h10M20 242.5h7M20 243.5h5M22 244.5h2"/>
<path stroke="#3c70c0" d="M23 46.5h5M22 47.5h6M21 48.5h7M21 49.5h8M21 50.5h8M20 51.5h9M20 52.5h9M20 53.5h10M19 54.5h11M19 55.5h11M19 56.5h11M19 57.5h11M19 58.5h11M18 59.5h13M18 60.5h13M18 61.5h13M18 62.5h13M18 63.5h13M18 64.5h13M18 65.5h13M18 66.5h13M18 67.5h13M17 68.5h14M17 69.5h14M17 70.5h14M17 71.5h14M17 72.5h14M17 73.5h14M17 74.5h14M17 75.5h14M17 76.5h14M17 77.5h14M17 78.5h14M17 79.5h14M17 80.5h14M17 81.5h14M17 82.5h13M17 83.5h13M17 84.5h13M17 85.5h13M17 86.5h13M17 87.5h13M17 88.5h13M17 89.5h13M18 90.5h12M17 91.5h12M17 92.5h12M18 93.5h11M18 94.5h11M18 95.5h11M18 96.5h11M18 97.5h10M18 98.5h10M19 99.5h8M19 100.5h8M19 101.5h8M20 102.5h6M20 103.5h6M21 104.5h4M22 105.5h2M22 106.5h2M26 144.5h5M25 145.5h7M25 146.5h8M25 147.5h9M23 148.5h12M23 149.5h12M22 150.5h14M21 151.5h15M21 152.5h15M21 153.5h16M20 154.5h17M20 155.5h18M19 156.5h19M19 157.5h19M19 158.5h18M18 159.5h20M18 160.5h20M18 161.5h20M17 162.5h21M17 163.5h22M17 164.5h22M17 165.5h22M16 166.5h23M16 167.5h23M16 168.5h23M15 169.5h24M15 170.5h24M16 171.5h23M16 172.5h23M15 173.5h24M15 174.5h25M14 175.5h26M14 176.5h26M15 177.5h25M14 178.5h26M14 179.5h26M14 180.5h26M14 181.5h26m69 0h1M14 182.5h26m58 0h4m3 0h11m3 0h2M14 183.5h26m53 0h29m4 0h2M13 184.5h27m47 0h35m3 0h3M13 185.5h27m47 0h41m3 0h3M13 186.5h27m41 0h2m2 0h50M13 187.5h27m39 0h56M13 188.5h27m39 0h56M13 189.5h27m37 0h59M13 190.5h27m35 0h66M13 191.5h27m34 0h67M13 192.5h27m32 0h69M12 193.5h28m32 0h73M13 194.5h27m32 0h73M13 195.5h26m32 0h75M13 196.5h26m28 0h79M13 197.5h26m28 0h79M13 198.5h27m26 0h2m1 0h77M12 199.5h27m26 0h80M12 200.5h27m26 0h81M12 201.5h27m26 0h82M12 202.5h27m26 0h81M12 203.5h27m26 0h80M12 204.5h27m26 0h1m1 0h78M12 205.5h27m25 0h82M12 206.5h27m25 0h82M12 207.5h26m25 0h83M12 208.5h26m24 0h84M12 209.5h26m24 0h84M12 210.5h26m25 0h82M13 211.5h25m26 0h79M13 212.5h25m27 0h77M12 213.5h25m30 0h75M12 214.5h25m30 0h75M12 215.5h25m32 0h72M13 216.5h24m32 0h68M13 217.5h24m34 0h65M13 218.5h24m35 0h59m1 0h4M13 219.5h23m36 0h58m3 0h2M13 220.5h23m38 0h53M13 221.5h23m40 0h4m2 0h44M13 222.5h23m46 0h42M14 223.5h22m41 0h1m4 0h39M14 224.5h21m47 0h2m5 0h25M14 225.5h21m55 0h5m2 0h9m1 0h6M14 226.5h20m64 0h5m4 0h3M14 227.5h20M14 228.5h21M14 229.5h20M15 230.5h18M15 231.5h18M16 232.5h17M16 233.5h17M16 234.5h15M17 235.5h13M17 236.5h13M17 237.5h13M18 238.5h11M19 239.5h9M19 240.5h9M23 241.5h3"/>
<path stroke="#3e84cc" d="M25 46.5h1M24 47.5h3M22 48.5h6M21 49.5h7M21 50.5h7M21 51.5h8M21 52.5h8M20 53.5h9M20 54.5h9M20 55.5h9M19 56.5h10M19 57.5h11M19 58.5h11M19 59.5h11M19 60.5h12M19 61.5h11M18 62.5h12M18 63.5h13M18 64.5h13M18 65.5h13M18 66.5h13M18 67.5h13M18 68.5h12M18 69.5h13M18 70.5h13M18 71.5h12M18 72.5h12M18 73.5h12M17 74.5h13M17 75.5h14M18 76.5h12M18 77.5h12M18 78.5h13M17 79.5h13M17 80.5h13M17 81.5h13M17 82.5h13M18 83.5h12M18 84.5h12M18 85.5h12M18 86.5h12M18 87.5h11M17 88.5h12M18 89.5h11M18 90.5h11M18 91.5h11M18 92.5h11M18 93.5h11M19 94.5h9M19 95.5h9M19 96.5h9M19 97.5h8M19 98.5h8M19 99.5h8M20 100.5h6M20 101.5h6M21 102.5h4M23 103.5h1M28 145.5h3M27 146.5h5M26 147.5h6M24 148.5h9M24 149.5h11M23 150.5h12M22 151.5h13M22 152.5h13M22 153.5h14M21 154.5h16M21 155.5h16M20 156.5h17M20 157.5h17M19 158.5h18M19 159.5h18M19 160.5h19M18 161.5h20M18 162.5h20M18 163.5h20M18 164.5h20M17 165.5h21M17 166.5h21M16 167.5h22M16 168.5h22M16 169.5h23M16 170.5h23M16 171.5h23M16 172.5h23M16 173.5h23M15 174.5h24M15 175.5h24M15 176.5h24M15 177.5h24M15 178.5h24M15 179.5h24M14 180.5h25M14 181.5h26M14 182.5h26M14 183.5h25m59 0h3m8 0h1m9 0h2M14 184.5h25m56 0h16m2 0h4m1 0h3M13 185.5h26m55 0h28M13 186.5h26m49 0h2m2 0h36M14 187.5h25m48 0h45M13 188.5h26m44 0h51M13 189.5h26m41 0h55M13 190.5h26m38 0h59M13 191.5h26m38 0h60M13 192.5h26m38 0h62M13 193.5h26m37 0h63M13 194.5h26m34 0h67M13 195.5h26m33 0h68M13 196.5h26m33 0h71M13 197.5h26m31 0h75M13 198.5h26m31 0h75M13 199.5h26m31 0h74M12 200.5h27m27 0h1m2 0h75M12 201.5h26m30 0h77M13 202.5h25m30 0h77M13 203.5h25m30 0h76M12 204.5h26m30 0h76M12 205.5h26m29 0h77M12 206.5h26m29 0h77M13 207.5h25m27 0h79M13 208.5h25m26 0h80M13 209.5h25m29 0h74M13 210.5h25m29 0h74M13 211.5h25m30 0h73M13 212.5h24m31 0h71M13 213.5h24m31 0h69M13 214.5h24m32 0h67M13 215.5h24m33 0h65M13 216.5h24m34 0h63M13 217.5h24m36 0h58M13 218.5h23m39 0h54M14 219.5h22m43 0h47M13 220.5h23m47 0h42M13 221.5h23m47 0h41M14 222.5h22m47 0h38m1 0h1M14 223.5h21m48 0h1m6 0h25M14 224.5h21m56 0h1m1 0h2m4 0h6m2 0h4M14 225.5h20m65 0h3m6 0h2M15 226.5h19M15 227.5h19M15 228.5h19M15 229.5h18M15 230.5h18M16 231.5h17M16 232.5h17M16 233.5h16M17 234.5h13M17 235.5h13M18 236.5h12M18 237.5h11M19 238.5h9M21 239.5h6M23 240.5h2"/>
<path stroke="#3f98d7" d="M24 48.5h2M22 49.5h5M22 50.5h6M21 51.5h7M21 52.5h7M21 53.5h7M20 54.5h9M20 55.5h9M20 56.5h9M20 57.5h9M19 58.5h10M19 59.5h11M19 60.5h11M19 61.5h11M19 62.5h11M19 63.5h11M19 64.5h11M19 65.5h11M18 66.5h12M18 67.5h12M18 68.5h12M18 69.5h12M18 70.5h12M18 71.5h12M18 72.5h12M18 73.5h12M18 74.5h12M18 75.5h12M18 76.5h12M18 77.5h12M18 78.5h12M18 79.5h12M18 80.5h12M18 81.5h12M18 82.5h12M18 83.5h12M18 84.5h12M18 85.5h12M18 86.5h11M18 87.5h11M18 88.5h11M19 89.5h10M19 90.5h10M18 91.5h10M18 92.5h10M19 93.5h9M19 94.5h9M19 95.5h9M20 96.5h7M20 97.5h7M20 98.5h6M20 99.5h6M20 100.5h5M22 101.5h3M23 102.5h1M28 146.5h2M27 147.5h4M27 148.5h4M25 149.5h8M24 150.5h10M23 151.5h11M23 152.5h11M22 153.5h13M22 154.5h14M21 155.5h15M21 156.5h16M20 157.5h17M20 158.5h17M19 159.5h18M19 160.5h18M19 161.5h18M19 162.5h18M18 163.5h20M18 164.5h20M18 165.5h20M17 166.5h21M17 167.5h21M17 168.5h21M16 169.5h22M16 170.5h22M16 171.5h22M16 172.5h22M16 173.5h22M16 174.5h23M15 175.5h24M15 176.5h24M15 177.5h24M15 178.5h24M15 179.5h24M15 180.5h24M15 181.5h24M15 182.5h24M14 183.5h25M14 184.5h25m59 0h1M14 185.5h25m57 0h3m5 0h3m7 0h3M14 186.5h25m57 0h26M14 187.5h25m53 0h31m1 0h4M14 188.5h25m47 0h3m3 0h39M14 189.5h25m44 0h48M13 190.5h26m43 0h50M13 191.5h26m41 0h55M13 192.5h26m39 0h59M13 193.5h26m39 0h59M13 194.5h26m37 0h62M13 195.5h26m35 0h65M13 196.5h26m34 0h66M13 197.5h26m33 0h70M13 198.5h26m33 0h72M13 199.5h26m33 0h72M13 200.5h25m33 0h72M13 201.5h25m32 0h71M13 202.5h25m31 0h74M13 203.5h25m31 0h73M13 204.5h25m31 0h72M13 205.5h25m31 0h72M13 206.5h25m30 0h71M13 207.5h25m29 0h71M13 208.5h24m31 0h71m1 0h1M13 209.5h24m31 0h72M13 210.5h24m33 0h66m2 0h2M13 211.5h24m33 0h66M13 212.5h24m33 0h65M14 213.5h23m33 0h64M14 214.5h22m37 0h60M13 215.5h23m38 0h58M14 216.5h22m39 0h55M14 217.5h22m42 0h50M14 218.5h22m43 0h1m1 0h44M14 219.5h22m47 0h40M14 220.5h22m48 0h39M14 221.5h21m50 0h31m3 0h1M14 222.5h21m61 0h3m2 0h5m2 0h5m1 0h1M15 223.5h20m73 0h1M15 224.5h19m74 0h1M15 225.5h19M15 226.5h19M15 227.5h19M15 228.5h18M16 229.5h17M16 230.5h16M17 231.5h15M17 232.5h15M17 233.5h14M18 234.5h12M18 235.5h11M19 236.5h10M20 237.5h7M21 238.5h6M23 239.5h3"/>
<path stroke="#41abe1" d="M23 49.5h3M22 50.5h5M22 51.5h6M22 52.5h6M21 53.5h7M21 54.5h7M20 55.5h8M20 56.5h9M20 57.5h9M20 58.5h9M20 59.5h10M20 60.5h10M20 61.5h9M19 62.5h10M19 63.5h11M19 64.5h11M19 65.5h11M19 66.5h11M19 67.5h11M19 68.5h11M19 69.5h11M18 70.5h12M18 71.5h12M18 72.5h12M18 73.5h12M18 74.5h12M18 75.5h12M18 76.5h12M18 77.5h12M18 78.5h12M18 79.5h12M18 80.5h12M18 81.5h11M18 82.5h11M18 83.5h11M19 84.5h10M19 85.5h10M19 86.5h10M19 87.5h10M19 88.5h10M19 89.5h9M19 90.5h9M19 91.5h9M19 92.5h9M19 93.5h9M20 94.5h7M20 95.5h7M20 96.5h6M20 97.5h6M21 98.5h5M21 99.5h4M23 100.5h2M29 148.5h1M27 149.5h5M25 150.5h8M24 151.5h9M24 152.5h9M23 153.5h11M22 154.5h13M22 155.5h14M21 156.5h15M21 157.5h15M21 158.5h15M20 159.5h16M20 160.5h17M19 161.5h18M19 162.5h18M19 163.5h18M19 164.5h19M18 165.5h20M18 166.5h19M18 167.5h19M18 168.5h20M17 169.5h21M17 170.5h21M17 171.5h21M17 172.5h21M17 173.5h21M16 174.5h22M16 175.5h23M16 176.5h23M16 177.5h22M16 178.5h22M16 179.5h22M15 180.5h24M15 181.5h24M15 182.5h24M15 183.5h24M14 184.5h25M14 185.5h25M14 186.5h25m72 0h1m2 0h3M14 187.5h25m58 0h2m1 0h6m1 0h1m2 0h11M14 188.5h25m54 0h29M14 189.5h25m47 0h1m5 0h34M14 190.5h25m45 0h46M14 191.5h25m45 0h48M14 192.5h25m45 0h48M14 193.5h25m40 0h1m2 0h51M14 194.5h25m38 0h59M14 195.5h24m38 0h59m1 0h2M14 196.5h24m37 0h63M14 197.5h24m36 0h65M14 198.5h24m35 0h67M14 199.5h24m35 0h67M13 200.5h25m34 0h68M13 201.5h25m33 0h66m1 0h2M13 202.5h25m32 0h66m3 0h1M13 203.5h25m32 0h71M13 204.5h25m32 0h71M13 205.5h25m32 0h66m1 0h2M13 206.5h25m32 0h2m1 0h64M14 207.5h24m32 0h1m2 0h64M14 208.5h23m35 0h65M14 209.5h23m35 0h61M14 210.5h23m34 0h62M14 211.5h23m34 0h62M14 212.5h23m35 0h61M14 213.5h22m37 0h59M14 214.5h22m39 0h56M14 215.5h22m39 0h54M14 216.5h22m42 0h46m2 0h2M14 217.5h22m45 0h42M14 218.5h22m47 0h38M15 219.5h20m49 0h37M15 220.5h20m53 0h26M14 221.5h21m61 0h2m3 0h5m3 0h4M15 222.5h20M15 223.5h20M15 224.5h19M16 225.5h18M16 226.5h17M16 227.5h17M16 228.5h17M16 229.5h16M17 230.5h15M17 231.5h15M18 232.5h13M18 233.5h12M18 234.5h12M18 235.5h11M20 236.5h8M22 237.5h5M23 238.5h3"/>
<path stroke="#42bbea" d="M24 49.5h1M23 50.5h3M23 51.5h4M22 52.5h5M22 53.5h5M21 54.5h7M21 55.5h7M21 56.5h7M20 57.5h9M20 58.5h9M20 59.5h9M20 60.5h9M20 61.5h9M19 62.5h10M19 63.5h10M19 64.5h11M19 65.5h11M19 66.5h11M19 67.5h11M19 68.5h11M19 69.5h11M19 70.5h11M19 71.5h10M19 72.5h10M19 73.5h10M18 74.5h12M18 75.5h12M19 76.5h11M19 77.5h10M19 78.5h10M18 79.5h11M18 80.5h11M18 81.5h11M18 82.5h11M19 83.5h10M19 84.5h10M19 85.5h10M19 86.5h10M19 87.5h9M19 88.5h9M19 89.5h9M19 90.5h9M19 91.5h9M19 92.5h8M20 93.5h7M20 94.5h7M20 95.5h6M21 96.5h5M21 97.5h4M22 98.5h3M23 99.5h2M28 149.5h3M26 150.5h6M25 151.5h7M25 152.5h8M24 153.5h9M23 154.5h11M22 155.5h13M22 156.5h13M22 157.5h14M21 158.5h15M21 159.5h15M20 160.5h16M20 161.5h16M19 162.5h18M19 163.5h18M19 164.5h18M19 165.5h18M18 166.5h19M18 167.5h19M18 168.5h19M18 169.5h19M17 170.5h20M17 171.5h20M17 172.5h21M17 173.5h21M16 174.5h22M16 175.5h22M16 176.5h22M16 177.5h22M16 178.5h22M16 179.5h22M16 180.5h22M15 181.5h23M15 182.5h24M15 183.5h24M15 184.5h23M14 185.5h24M15 186.5h23M15 187.5h23m75 0h2m2 0h1M15 188.5h23m62 0h6m1 0h1m4 0h9M14 189.5h24m56 0h28m1 0h2M14 190.5h25m52 0h36M14 191.5h25m47 0h45M14 192.5h24m47 0h46M14 193.5h24m45 0h49M14 194.5h24m40 0h1m2 0h51M14 195.5h24m40 0h56M14 196.5h24m40 0h57M14 197.5h24m37 0h60M14 198.5h24m37 0h61m1 0h2M14 199.5h24m37 0h64M14 200.5h24m35 0h63M14 201.5h24m36 0h62M14 202.5h24m36 0h62M14 203.5h24m36 0h62m3 0h1M13 204.5h25m35 0h63m1 0h3M13 205.5h25m35 0h63M14 206.5h23m37 0h62M14 207.5h23m37 0h61M14 208.5h23m37 0h59M14 209.5h23m35 0h61M14 210.5h23m35 0h60M14 211.5h23m36 0h2m3 0h54M14 212.5h23m37 0h1m3 0h52M14 213.5h22m42 0h52M14 214.5h22m42 0h51M14 215.5h22m42 0h45M14 216.5h22m44 0h41M15 217.5h21m46 0h38M15 218.5h20m49 0h35M15 219.5h20m56 0h23m2 0h2M15 220.5h20m62 0h1m3 0h5m3 0h4M15 221.5h20m75 0h2M15 222.5h20M16 223.5h18M16 224.5h18M17 225.5h16M17 226.5h16M17 227.5h16M17 228.5h16M17 229.5h15M18 230.5h14M18 231.5h13M18 232.5h13M19 233.5h11M19 234.5h10M19 235.5h9M22 236.5h5M23 237.5h3"/>
<path stroke="#42c0ec" d="M24 50.5h1M24 51.5h1M23 52.5h4M22 53.5h5M21 54.5h6M21 55.5h7M21 56.5h7M21 57.5h7M21 58.5h7M21 59.5h8M21 60.5h8M20 61.5h9M20 62.5h9M20 63.5h9M20 64.5h9M19 65.5h10M19 66.5h10M19 67.5h10M19 68.5h10M19 69.5h11M19 70.5h11M19 71.5h10M19 72.5h10M19 73.5h10M19 74.5h10M19 75.5h10M19 76.5h10M19 77.5h10M19 78.5h10M19 79.5h10M19 80.5h10M19 81.5h10M19 82.5h10M19 83.5h10M19 84.5h10M19 85.5h10M19 86.5h9M19 87.5h9M19 88.5h9M20 89.5h8M20 90.5h8M20 91.5h7M20 92.5h7M20 93.5h7M20 94.5h7M21 95.5h5M21 96.5h4M22 97.5h3M23 98.5h2M27 150.5h4M25 151.5h7M25 152.5h7M25 153.5h8M23 154.5h10M22 155.5h12M22 156.5h13M22 157.5h13M22 158.5h13M21 159.5h15M20 160.5h16M20 161.5h16M20 162.5h16M20 163.5h17M20 164.5h17M19 165.5h18M19 166.5h18M18 167.5h19M18 168.5h19M18 169.5h19M17 170.5h20M17 171.5h20M17 172.5h20M17 173.5h21M17 174.5h21M16 175.5h22M16 176.5h22M16 177.5h22M16 178.5h22M16 179.5h22M16 180.5h22M16 181.5h22M15 182.5h23M15 183.5h23M15 184.5h23M15 185.5h23M15 186.5h23M15 187.5h23M15 188.5h23m63 0h1m16 0h2M14 189.5h24m61 0h22M14 190.5h24m56 0h27m2 0h3M14 191.5h24m49 0h1m4 0h35m1 0h1M14 192.5h24m48 0h5m1 0h38M14 193.5h24m47 0h46M14 194.5h24m44 0h49M14 195.5h24m43 0h50M14 196.5h24m43 0h51M14 197.5h24m41 0h54M14 198.5h24m41 0h55M14 199.5h24m39 0h58M14 200.5h24m38 0h59M14 201.5h24m37 0h59M14 202.5h24m37 0h59M14 203.5h24m37 0h59M14 204.5h23m38 0h60M14 205.5h23m37 0h61M14 206.5h23m40 0h58M14 207.5h23m38 0h58M14 208.5h23m38 0h57M14 209.5h23m37 0h56M14 210.5h23m37 0h1m3 0h52M14 211.5h23m42 0h1m1 0h49M14 212.5h22m45 0h48M15 213.5h21m45 0h48M15 214.5h21m45 0h43M15 215.5h21m45 0h2m2 0h35M15 216.5h21m46 0h1m2 0h35M15 217.5h20m50 0h34M15 218.5h20m59 0h17m4 0h3M15 219.5h20m61 0h9M15 220.5h20M15 221.5h20M15 222.5h19M16 223.5h18M16 224.5h18M17 225.5h16M17 226.5h16M17 227.5h16M17 228.5h15M18 229.5h14M19 230.5h12M19 231.5h12M19 232.5h11M19 233.5h10M20 234.5h9M21 235.5h6M23 236.5h3M24 237.5h2"/>
<path stroke="#43c6ee" d="M23 53.5h4M22 54.5h5M22 55.5h5M21 56.5h6M21 57.5h7M21 58.5h7M21 59.5h7M21 60.5h7M21 61.5h7M20 62.5h8M20 63.5h9M20 64.5h9M20 65.5h9M20 66.5h9M19 67.5h10M19 68.5h10M20 69.5h9M19 70.5h10M19 71.5h10M19 72.5h10M19 73.5h10M19 74.5h10M19 75.5h10M19 76.5h10M19 77.5h10M19 78.5h10M19 79.5h10M19 80.5h10M19 81.5h9M19 82.5h9M19 83.5h9M19 84.5h10M19 85.5h9M20 86.5h8M20 87.5h7M20 88.5h8M20 89.5h8M20 90.5h7M20 91.5h7M20 92.5h7M20 93.5h7M21 94.5h5M21 95.5h4M22 96.5h2M23 97.5h1M26 151.5h5M26 152.5h5M26 153.5h6M25 154.5h8M23 155.5h10M23 156.5h11M23 157.5h12M22 158.5h13M21 159.5h14M21 160.5h14M20 161.5h15M20 162.5h16M20 163.5h16M20 164.5h16M19 165.5h17M19 166.5h17M19 167.5h18M19 168.5h18M18 169.5h19M18 170.5h19M18 171.5h19M18 172.5h19M17 173.5h20M17 174.5h21M17 175.5h21M16 176.5h22M16 177.5h22M16 178.5h22M16 179.5h22M16 180.5h22M16 181.5h22M16 182.5h22M16 183.5h22M15 184.5h23M15 185.5h23M15 186.5h23M15 187.5h23M15 188.5h23M15 189.5h23m63 0h1m2 0h1m14 0h1M14 190.5h24m63 0h15m1 0h2M15 191.5h23m57 0h5m1 0h18m4 0h2M15 192.5h23m55 0h31m4 0h1M15 193.5h23m50 0h3m1 0h38M14 194.5h24m47 0h42m1 0h2M15 195.5h23m44 0h48M15 196.5h23m45 0h48M15 197.5h23m43 0h50M14 198.5h24m42 0h53M15 199.5h23m42 0h53M14 200.5h24m39 0h55M14 201.5h23m40 0h56M14 202.5h23m40 0h55M14 203.5h23m39 0h55M14 204.5h23m38 0h56M14 205.5h23m41 0h52m1 0h3M14 206.5h23m43 0h50m1 0h2M15 207.5h22m41 0h54M15 208.5h22m39 0h54M15 209.5h21m43 0h49M15 210.5h21m45 0h47M15 211.5h21m46 0h45M15 212.5h21m46 0h42m1 0h1M15 213.5h21m46 0h42M15 214.5h21m51 0h32M15 215.5h21m52 0h31M15 216.5h20m53 0h31M16 217.5h19m54 0h1m4 0h18m4 0h3M16 218.5h19m60 0h1m2 0h3m1 0h3m11 0h1M16 219.5h19M16 220.5h19M16 221.5h18M16 222.5h18M16 223.5h18M17 224.5h16M17 225.5h16M17 226.5h16M17 227.5h15M18 228.5h14M19 229.5h13M20 230.5h11M20 231.5h11M20 232.5h10M20 233.5h9M21 234.5h6M24 235.5h2"/>
<path stroke="#4bc6de" d="M23 54.5h3M22 55.5h5M22 56.5h5M22 57.5h5M22 58.5h5M22 59.5h6M22 60.5h5M21 61.5h7M21 62.5h7M20 63.5h8M20 64.5h8M20 65.5h8M20 66.5h8M20 67.5h9M20 68.5h9M20 69.5h9M20 70.5h9M20 71.5h8M20 72.5h8M20 73.5h8M20 74.5h9M20 75.5h9M20 76.5h8M20 77.5h8M19 78.5h9M19 79.5h9M20 80.5h8M20 81.5h8M20 82.5h8M20 83.5h8M20 84.5h8M20 85.5h8M20 86.5h7M20 87.5h7M20 88.5h7M20 89.5h7M20 90.5h7M20 91.5h6M21 92.5h5M21 93.5h5M22 94.5h3M23 95.5h1M27 152.5h1M27 153.5h3M27 154.5h5M24 155.5h8M24 156.5h9M24 157.5h10M23 158.5h11M22 159.5h13M22 160.5h13M21 161.5h14M21 162.5h14M21 163.5h14M20 164.5h16M20 165.5h16M20 166.5h16M19 167.5h17M19 168.5h17M19 169.5h17M18 170.5h18M18 171.5h19M18 172.5h19M18 173.5h19M17 174.5h20M17 175.5h21M17 176.5h20M17 177.5h20M17 178.5h20M17 179.5h20M17 180.5h21M16 181.5h22M16 182.5h22M16 183.5h22M16 184.5h22M16 185.5h22M16 186.5h22M16 187.5h22M15 188.5h23M15 189.5h23M15 190.5h23M15 191.5h23m64 0h5m5 0h2M15 192.5h23m58 0h4m1 0h6m2 0h11M15 193.5h23m55 0h29M15 194.5h23m51 0h2m1 0h31M15 195.5h23m50 0h38M15 196.5h23m48 0h43M15 197.5h22m49 0h44M15 198.5h23m44 0h2m3 0h42M15 199.5h23m43 0h4m2 0h41M15 200.5h22m44 0h4m1 0h41M15 201.5h22m44 0h4m1 0h43M15 202.5h22m45 0h48M14 203.5h23m41 0h2m2 0h48M14 204.5h23m42 0h50M14 205.5h23m43 0h49M15 206.5h22m44 0h48M15 207.5h22m43 0h4m1 0h41M15 208.5h21m45 0h2m2 0h40M15 209.5h21m45 0h44M15 210.5h21m47 0h4m1 0h38M15 211.5h21m47 0h3m2 0h31m1 0h3M15 212.5h21m52 0h31M15 213.5h21m52 0h29M15 214.5h20m54 0h26M15 215.5h20m58 0h21M16 216.5h19m59 0h7m1 0h7m8 0h1M16 217.5h19m64 0h1m3 0h2m1 0h2M16 218.5h19M16 219.5h19M16 220.5h18M16 221.5h18M17 222.5h17M17 223.5h17M17 224.5h16M18 225.5h15M18 226.5h14M18 227.5h14M18 228.5h14M20 229.5h11M21 230.5h10M21 231.5h9M21 232.5h8M21 233.5h7M25 234.5h1"/>
<path stroke="#53c5ce" d="M23 55.5h3M23 56.5h3M22 57.5h4M22 58.5h4M22 59.5h5M22 60.5h4M22 61.5h5M21 62.5h6M21 63.5h7M21 64.5h7M21 65.5h7M20 66.5h7M20 67.5h8M20 68.5h8M20 69.5h9M20 70.5h9M20 71.5h8M20 72.5h8M20 73.5h8M20 74.5h8M20 75.5h8M20 76.5h8M20 77.5h8M20 78.5h8M20 79.5h7M20 80.5h7M20 81.5h7M20 82.5h7M20 83.5h7M20 84.5h7M20 85.5h7M21 86.5h6M21 87.5h6M21 88.5h5M21 89.5h5M21 90.5h4M21 91.5h3M24 92.5h1M26 155.5h5M25 156.5h7M25 157.5h8M24 158.5h9M23 159.5h11M22 160.5h12M22 161.5h12M21 162.5h13M21 163.5h14M21 164.5h14M20 165.5h15M20 166.5h16M20 167.5h16M19 168.5h17M19 169.5h17M19 170.5h17M19 171.5h17M19 172.5h17M18 173.5h19M18 174.5h19M17 175.5h20M17 176.5h20M17 177.5h20M17 178.5h20M17 179.5h20M17 180.5h20M17 181.5h20M16 182.5h21M16 183.5h21M16 184.5h21M16 185.5h21M16 186.5h21M16 187.5h21M16 188.5h21M15 189.5h22M15 190.5h22M16 191.5h22M16 192.5h21m65 0h4M16 193.5h21m64 0h5m7 0h2m2 0h2M15 194.5h22m62 0h2m1 0h4m2 0h2m2 0h3m2 0h5M15 195.5h22m62 0h11m1 0h12M16 196.5h21m55 0h2m1 0h30M16 197.5h21m53 0h37M15 198.5h22m54 0h32m1 0h3M15 199.5h22m51 0h1m1 0h33m1 0h1M15 200.5h22m45 0h1m4 0h35M15 201.5h22m50 0h36M15 202.5h22m49 0h2m1 0h36M15 203.5h22m49 0h41M15 204.5h22m49 0h41M15 205.5h22m46 0h1m2 0h40M15 206.5h22m45 0h1m6 0h35M15 207.5h22m49 0h37M16 208.5h20m50 0h36M16 209.5h20m50 0h36M16 210.5h20m53 0h29m2 0h2M16 211.5h20m53 0h26m1 0h1M15 212.5h21m53 0h25M16 213.5h19m56 0h23M16 214.5h19m58 0h2m1 0h3m2 0h11M16 215.5h19m59 0h2m7 0h1M16 216.5h19M16 217.5h19M16 218.5h18M16 219.5h18M17 220.5h17M17 221.5h17M17 222.5h17M17 223.5h16M18 224.5h15M18 225.5h14M18 226.5h14M19 227.5h13M19 228.5h12M20 229.5h11M21 230.5h9M22 231.5h8M23 232.5h6M25 233.5h1"/>
<path stroke="#5ac4ba" d="M23 56.5h2M23 57.5h2M23 58.5h3M23 59.5h2M23 60.5h2M22 61.5h4M22 62.5h5M22 63.5h5M21 64.5h6M21 65.5h6M21 66.5h6M21 67.5h6M21 68.5h7M21 69.5h7M21 70.5h7M21 71.5h7M21 72.5h6M21 73.5h6M21 74.5h6M20 75.5h7M20 76.5h7M20 77.5h7M20 78.5h7M20 79.5h7M21 80.5h6M21 81.5h6M21 82.5h6M21 83.5h6M21 84.5h6M21 85.5h5M21 86.5h5M22 87.5h4M22 88.5h4M21 89.5h4M21 90.5h3M26 156.5h2M25 157.5h6M25 158.5h7M25 159.5h8M23 160.5h11M23 161.5h11M22 162.5h12M22 163.5h12M21 164.5h13M21 165.5h14M20 166.5h15M20 167.5h15M20 168.5h15M19 169.5h16M19 170.5h16M19 171.5h17M19 172.5h17M19 173.5h17M18 174.5h19M18 175.5h19M18 176.5h19M18 177.5h19M18 178.5h19M18 179.5h19M17 180.5h20M17 181.5h20M17 182.5h20M17 183.5h20M17 184.5h20M16 185.5h21M16 186.5h21M16 187.5h21M16 188.5h21M16 189.5h21M16 190.5h21M16 191.5h21M16 192.5h21M16 193.5h21m66 0h1M16 194.5h21M16 195.5h21m76 0h2M16 196.5h21m75 0h3M16 197.5h21m59 0h2m3 0h9m2 0h5M16 198.5h21m55 0h2m2 0h14m2 0h5M16 199.5h21m54 0h27m1 0h1M16 200.5h21m54 0h29M16 201.5h21m53 0h5m1 0h25M16 202.5h21m54 0h2m3 0h26M15 203.5h22m54 0h3m1 0h21m1 0h5M15 204.5h22m50 0h2m2 0h25m1 0h4M15 205.5h22m52 0h5m1 0h28M16 206.5h20m54 0h4m1 0h28M16 207.5h20m53 0h8m1 0h24M16 208.5h20m51 0h6m2 0h2m2 0h19M16 209.5h20m53 0h1m1 0h1m5 0h2m2 0h16M16 210.5h20m61 0h2m3 0h13M16 211.5h20m62 0h1m3 0h11M16 212.5h19m59 0h1m7 0h9M16 213.5h19m68 0h3m2 0h2M16 214.5h19M17 215.5h18M17 216.5h18M17 217.5h17M17 218.5h17M17 219.5h17M17 220.5h17M18 221.5h16M18 222.5h15M18 223.5h15M18 224.5h15M19 225.5h13M19 226.5h13M19 227.5h12M20 228.5h11M21 229.5h9M22 230.5h8M23 231.5h6M25 232.5h3"/>
<path stroke="#61c39e" d="M23 61.5h2M22 62.5h4M22 63.5h4M22 64.5h4M22 65.5h4M21 66.5h5M21 67.5h5M22 68.5h5M22 69.5h5M21 70.5h7M21 71.5h6M21 72.5h6M21 73.5h5M21 74.5h5M21 75.5h5M21 76.5h5M21 77.5h6M21 78.5h5M21 79.5h5M21 80.5h5M22 81.5h4M22 82.5h4M22 83.5h4M22 84.5h4M23 85.5h3M23 86.5h3M23 87.5h3M23 88.5h2M22 89.5h1M26 157.5h2M26 158.5h5M25 159.5h7M25 160.5h8M24 161.5h9M23 162.5h11M22 163.5h12M22 164.5h12M21 165.5h13M21 166.5h13M21 167.5h14M20 168.5h15M20 169.5h15M20 170.5h15M20 171.5h15M20 172.5h16M19 173.5h17M19 174.5h17M19 175.5h18M19 176.5h17M18 177.5h18M18 178.5h18M18 179.5h18M18 180.5h19M17 181.5h20M17 182.5h20M17 183.5h20M17 184.5h20M17 185.5h20M17 186.5h20M17 187.5h20M16 188.5h21M16 189.5h21M16 190.5h21M16 191.5h21M17 192.5h20M16 193.5h21M16 194.5h21M16 195.5h21M16 196.5h21M16 197.5h21M16 198.5h21m68 0h2m8 0h2M16 199.5h21m61 0h3m3 0h1m8 0h4M16 200.5h21m61 0h3m3 0h2m7 0h3M16 201.5h21m61 0h4m2 0h4m4 0h2M16 202.5h21m60 0h14M16 203.5h20m64 0h2m1 0h8M16 204.5h20m56 0h1m3 0h1m3 0h6m4 0h3m5 0h2M16 205.5h20m63 0h8m3 0h3m4 0h3M16 206.5h20m63 0h10m2 0h2m2 0h4M16 207.5h20m63 0h3m2 0h2m2 0h2m5 0h3M16 208.5h20m69 0h1m2 0h3M17 209.5h19m68 0h3m1 0h3M17 210.5h19m67 0h8M16 211.5h19m68 0h8M16 212.5h19m69 0h1m3 0h1M16 213.5h19M17 214.5h18M17 215.5h18M17 216.5h18M17 217.5h17M17 218.5h17M18 219.5h16M18 220.5h16M18 221.5h15M18 222.5h15M18 223.5h15M19 224.5h13M19 225.5h13M19 226.5h12M20 227.5h11M21 228.5h10M22 229.5h8M23 230.5h6M24 231.5h4"/>
<path stroke="#67c181" d="M23 62.5h2M23 63.5h2M23 64.5h2M23 65.5h2M22 68.5h4M22 69.5h5M22 70.5h4M22 71.5h3M22 72.5h4M22 73.5h3M21 74.5h3M21 75.5h4M21 76.5h4M22 77.5h4M22 78.5h4M22 79.5h4M23 80.5h3M23 81.5h2M23 82.5h2M23 83.5h2M24 86.5h1M24 87.5h1M27 158.5h3M26 159.5h4M25 160.5h6M25 161.5h8M23 162.5h10M23 163.5h10M22 164.5h11M21 165.5h12M21 166.5h13M21 167.5h13M21 168.5h13M20 169.5h14M20 170.5h14M20 171.5h15M20 172.5h15M20 173.5h16M19 174.5h17M19 175.5h17M19 176.5h17M19 177.5h17M19 178.5h17M18 179.5h18M18 180.5h18M18 181.5h19M18 182.5h18M17 183.5h19M17 184.5h19M17 185.5h19M17 186.5h20M17 187.5h20M17 188.5h20M17 189.5h20M17 190.5h20M17 191.5h20M17 192.5h20M17 193.5h20M17 194.5h20M17 195.5h20M17 196.5h20M17 197.5h20M16 198.5h21M16 199.5h21M16 200.5h20m63 0h1M16 201.5h20m63 0h2M16 202.5h20m63 0h2M16 203.5h20M16 204.5h20M16 205.5h20m67 0h2M16 206.5h20m64 0h1m3 0h2M16 207.5h20M17 208.5h19M17 209.5h18M17 210.5h18M17 211.5h18m72 0h1M17 212.5h18M17 213.5h18M17 214.5h18M18 215.5h17M18 216.5h16M18 217.5h16M18 218.5h16M18 219.5h16M19 220.5h14M19 221.5h14M19 222.5h14M19 223.5h13M20 224.5h12M20 225.5h11M20 226.5h11M21 227.5h10M22 228.5h8M23 229.5h7M24 230.5h5"/>
<path stroke="#6cc067" d="M23 68.5h2M23 69.5h3M22 70.5h3M22 71.5h3M22 72.5h3M22 73.5h2M23 76.5h1M22 77.5h3M23 78.5h2M27 159.5h1M26 160.5h3M25 161.5h5M24 162.5h8M23 163.5h10M22 164.5h11M22 165.5h11M22 166.5h11M22 167.5h12M21 168.5h13M21 169.5h13M20 170.5h14M20 171.5h14M20 172.5h15M20 173.5h15M20 174.5h16M20 175.5h16M20 176.5h16M19 177.5h17M19 178.5h17M19 179.5h17M19 180.5h17M18 181.5h18M18 182.5h18M18 183.5h18M18 184.5h18M17 185.5h19M17 186.5h19M17 187.5h19M17 188.5h19M17 189.5h19M17 190.5h20M17 191.5h20M17 192.5h19M17 193.5h20M17 194.5h20M17 195.5h20M17 196.5h20M17 197.5h19M17 198.5h19M17 199.5h19M17 200.5h19M17 201.5h19M17 202.5h19M16 203.5h20M16 204.5h20M16 205.5h20M17 206.5h19M17 207.5h19M17 208.5h18M17 209.5h18M17 210.5h18M17 211.5h18M17 212.5h18M17 213.5h18M17 214.5h18M18 215.5h16M18 216.5h16M18 217.5h16M19 218.5h15M19 219.5h15M19 220.5h14M19 221.5h14M19 222.5h14M20 223.5h12M20 224.5h12M20 225.5h11M22 226.5h9M23 227.5h7M23 228.5h7M23 229.5h6M25 230.5h1"/>
<path stroke="#6cbf54" d="M23 69.5h2M23 70.5h1M23 71.5h1M27 160.5h1M26 161.5h3M24 162.5h6M24 163.5h8M23 164.5h10M22 165.5h10M22 166.5h11M22 167.5h11M22 168.5h11M21 169.5h12M21 170.5h13M21 171.5h13M21 172.5h14M20 173.5h15M20 174.5h15M20 175.5h15M20 176.5h15M20 177.5h15M19 178.5h16M19 179.5h17M19 180.5h17M19 181.5h17M18 182.5h18M18 183.5h18M18 184.5h18M18 185.5h18M18 186.5h18M18 187.5h18M17 188.5h19M17 189.5h19M17 190.5h19M17 191.5h19M17 192.5h19M17 193.5h19M17 194.5h20M17 195.5h20M17 196.5h19M17 197.5h19M17 198.5h19M17 199.5h19M17 200.5h19M17 201.5h19M17 202.5h19M17 203.5h19M17 204.5h19M17 205.5h19M17 206.5h19M17 207.5h19M17 208.5h18M18 209.5h17M18 210.5h17M18 211.5h17M17 212.5h18M17 213.5h18M18 214.5h16M18 215.5h16M19 216.5h15M19 217.5h15M19 218.5h15M19 219.5h14M20 220.5h13M20 221.5h13M20 222.5h12M21 223.5h11M21 224.5h11M22 225.5h9M23 226.5h7M23 227.5h7M24 228.5h5M24 229.5h5"/>
<path stroke="#75c147" d="M26 173.5h5M25 174.5h7M25 175.5h8M24 176.5h8M24 177.5h9M24 178.5h9M24 179.5h9M23 180.5h11M23 181.5h11M22 182.5h12M22 183.5h12M22 184.5h12M22 185.5h12M22 186.5h12M22 187.5h13M22 188.5h13M22 189.5h13M21 190.5h14M21 191.5h14M20 192.5h15M20 193.5h15M20 194.5h15M20 195.5h15M20 196.5h15M21 197.5h14M21 198.5h14M21 199.5h14M21 200.5h14M21 201.5h14M21 202.5h14M21 203.5h14M21 204.5h14M21 205.5h14M21 206.5h14M21 207.5h13M21 208.5h13M20 209.5h14M21 210.5h13M22 211.5h12M22 212.5h12M22 213.5h12M22 214.5h11M22 215.5h11M22 216.5h11M22 217.5h11M23 218.5h9M23 219.5h9M24 220.5h8M24 221.5h7M25 222.5h6M25 223.5h5M26 224.5h3"/>
<path stroke="#80c442" d="M29 180.5h2M29 181.5h2M27 182.5h4M27 183.5h5M26 184.5h6M26 185.5h7M26 186.5h7M25 187.5h8M25 188.5h8M25 189.5h9M25 190.5h9M25 191.5h9M24 192.5h10M24 193.5h10M24 194.5h10M24 195.5h10M24 196.5h10M24 197.5h10M24 198.5h10M23 199.5h11M23 200.5h11M23 201.5h11M23 202.5h11M23 203.5h11M23 204.5h11M23 205.5h11M23 206.5h11M23 207.5h10M23 208.5h10M23 209.5h10M24 210.5h9M24 211.5h9M24 212.5h9M24 213.5h9M24 214.5h8M24 215.5h8M25 216.5h7M25 217.5h6M25 218.5h6M25 219.5h5M26 220.5h3"/>
<path stroke="#a1cf37" d="M28 183.5h3M27 184.5h5M27 185.5h5M26 186.5h7M26 187.5h7M26 188.5h7M25 189.5h8M25 190.5h8M25 191.5h8M25 192.5h9M25 193.5h9M25 194.5h9M24 195.5h10M24 196.5h10M24 197.5h10M24 198.5h10M24 199.5h10M24 200.5h10M24 201.5h10M24 202.5h10M24 203.5h10M23 204.5h11M23 205.5h11M23 206.5h10M24 207.5h9M24 208.5h9M24 209.5h9M24 210.5h9M24 211.5h9M24 212.5h9M24 213.5h8M24 214.5h8M25 215.5h7M25 216.5h6M25 217.5h6M26 218.5h4M26 219.5h3"/>
<path stroke="#c2da2d" d="M28 184.5h3M28 185.5h4M27 186.5h5M27 187.5h6M26 188.5h7M26 189.5h7M26 190.5h7M26 191.5h7M25 192.5h8M25 193.5h9M25 194.5h9M25 195.5h9M25 196.5h9M25 197.5h9M24 198.5h10M24 199.5h10M24 200.5h10M24 201.5h10M24 202.5h10M24 203.5h10M24 204.5h9M24 205.5h9M24 206.5h9M24 207.5h9M24 208.5h9M24 209.5h9M24 210.5h9M24 211.5h8M24 212.5h8M24 213.5h8M25 214.5h7M25 215.5h6M26 216.5h5M26 217.5h5M26 218.5h4M26 219.5h2"/>
<path stroke="#dee422" d="M28 185.5h3M28 186.5h4M27 187.5h5M27 188.5h5M27 189.5h6M26 190.5h7M26 191.5h7M26 192.5h7M26 193.5h7M25 194.5h8M25 195.5h8M25 196.5h8M25 197.5h8M25 198.5h9M25 199.5h9M24 200.5h9M24 201.5h9M24 202.5h9M24 203.5h9M24 204.5h9M24 205.5h9M24 206.5h9M24 207.5h9M24 208.5h9M24 209.5h8M25 210.5h7M25 211.5h7M25 212.5h7M25 213.5h7M25 214.5h6M26 215.5h5M26 216.5h5M26 217.5h4M27 218.5h2"/>
<path stroke="#fbee16" d="M28 186.5h3M28 187.5h4M27 188.5h5M27 189.5h5M27 190.5h6M26 191.5h7M26 192.5h7M26 193.5h7M26 194.5h7M25 195.5h8M25 196.5h8M25 197.5h8M25 198.5h8M25 199.5h8M25 200.5h8M25 201.5h8M25 202.5h8M25 203.5h8M25 204.5h8M25 205.5h8M24 206.5h9M25 207.5h8M25 208.5h7M25 209.5h7M25 210.5h7M25 211.5h7M25 212.5h7M25 213.5h6M26 214.5h5M26 215.5h5M27 216.5h3M27 217.5h2"/>
<path stroke="#fad818" d="M28 187.5h3M28 188.5h4M27 189.5h5M27 190.5h5M27 191.5h5M26 192.5h7M26 193.5h7M26 194.5h7M26 195.5h7M26 196.5h7M25 197.5h8M25 198.5h8M25 199.5h8M25 200.5h8M25 201.5h8M25 202.5h8M25 203.5h8M25 204.5h8M25 205.5h8M25 206.5h8M25 207.5h7M25 208.5h7M25 209.5h7M25 210.5h7M25 211.5h7M25 212.5h7M26 213.5h5M26 214.5h5M27 215.5h3M27 216.5h2"/>
<path stroke="#fac119" d="M29 187.5h1M28 188.5h3M28 189.5h4M27 190.5h5M27 191.5h5M27 192.5h5M27 193.5h6M26 194.5h7M26 195.5h7M26 196.5h7M26 197.5h7M26 198.5h7M25 199.5h8M25 200.5h8M25 201.5h8M25 202.5h8M25 203.5h8M25 204.5h8M25 205.5h8M25 206.5h7M25 207.5h7M25 208.5h7M25 209.5h7M25 210.5h7M25 211.5h7M26 212.5h5M26 213.5h5M26 214.5h4M27 215.5h2"/>
<path stroke="#f9ab1b" d="M29 188.5h2M28 189.5h3M28 190.5h4M27 191.5h5M27 192.5h5M27 193.5h5M27 194.5h5M26 195.5h6M26 196.5h6M26 197.5h6M26 198.5h7M26 199.5h7M26 200.5h7M26 201.5h7M25 202.5h8M25 203.5h8M25 204.5h8M25 205.5h7M25 206.5h7M25 207.5h7M25 208.5h7M25 209.5h7M26 210.5h5M26 211.5h5M26 212.5h5M26 213.5h4M27 214.5h3M28 215.5h1"/>
<path stroke="#f7951d" d="M29 189.5h2M28 190.5h3M28 191.5h4M27 192.5h5M27 193.5h5M27 194.5h5M27 195.5h5M26 196.5h6M26 197.5h6M26 198.5h6M26 199.5h6M26 200.5h6M26 201.5h6M26 202.5h6M26 203.5h6M26 204.5h6M26 205.5h6M26 206.5h6M26 207.5h6M26 208.5h6M26 209.5h5M26 210.5h5M26 211.5h5M26 212.5h5M27 213.5h3M27 214.5h2"/>
<path stroke="#f48020" d="M29 190.5h2M28 191.5h3M28 192.5h4M27 193.5h5M27 194.5h5M27 195.5h5M27 196.5h5M27 197.5h5M26 198.5h6M26 199.5h6M26 200.5h6M26 201.5h6M26 202.5h6M26 203.5h6M26 204.5h6M26 205.5h6M26 206.5h6M26 207.5h6M26 208.5h5M26 209.5h5M26 210.5h5M26 211.5h5M27 212.5h3M27 213.5h2"/>
<path stroke="#f26a22" d="M29 190.5h1M29 191.5h2M28 192.5h3M28 193.5h3M28 194.5h3M27 195.5h5M27 196.5h5M27 197.5h5M27 198.5h5M26 199.5h6M26 200.5h6M26 201.5h6M26 202.5h6M26 203.5h6M26 204.5h6M26 205.5h6M26 206.5h6M26 207.5h5M26 208.5h5M26 209.5h5M26 210.5h5M27 211.5h3M27 212.5h3"/>
<path stroke="#f04323" d="M29 192.5h1M29 193.5h2M28 194.5h3M28 195.5h3M27 196.5h4M27 197.5h5M27 198.5h5M27 199.5h5M26 200.5h6M27 201.5h5M27 202.5h5M26 203.5h6M26 204.5h6M26 205.5h6M26 206.5h5M26 207.5h5M26 208.5h5M27 209.5h4M27 210.5h3M27 211.5h3"/>
<path stroke="#ed1c24" d="M29 194.5h1M28 195.5h3M28 196.5h3M27 197.5h4M27 198.5h4M27 199.5h4M27 200.5h4M27 201.5h5M27 202.5h4M27 203.5h4M27 204.5h4M27 205.5h4M27 206.5h4M27 207.5h4M27 208.5h3M27 209.5h3M28 210.5h2"/>
</g>
<path d="M680.5 638 1004.7 632.4 1003.2 963.8 736.6 963.8 738.8 814.3 679 810.2Z" fill="none" stroke="#000" stroke-width="2.6" stroke-linejoin="miter"/>
<rect x="674.2" y="628.6" width="337.6" height="337.4" fill="none" stroke="#000" stroke-width="2.2"/>
<path d="M673.2 923.5h-9.5M673.2 915.36h-4M673.2 930.85h-4M673.2 910.16h-4M673.2 935.54h-4M673.2 906.7h-4M673.2 938.66h-4M673.2 904.15h-4M673.2 940.97h-4M673.2 902.14h-4M673.2 942.78h-4M673.2 900.48h-4M673.2 944.28h-4M673.2 899.07h-4M673.2 945.55h-4M673.2 897.85h-4M673.2 946.65h-4M673.2 896.77h-4M673.2 947.63h-4M673.2 895.8h-9.5M673.2 948.5h-9.5M673.2 871.76h-4M673.2 954.26h-4M673.2 857.67h-4M673.2 957.64h-4M673.2 847.66h-4M673.2 960.04h-4M673.2 839.91h-4M673.2 961.9h-4M673.2 833.57h-4M673.2 963.42h-4M673.2 828.2h-4M673.2 964.71h-4M673.2 823.56h-4M673.2 965.82h-4M673.2 819.46h-4M673.2 815.8h-9.5M673.2 791.96h-4M673.2 778.01h-4M673.2 768.12h-4M673.2 760.44h-4M673.2 754.17h-4M673.2 748.87h-4M673.2 744.28h-4M673.2 740.22h-4M673.2 736.6h-9.5M673.2 713.42h-4M673.2 699.86h-4M673.2 690.24h-4M673.2 682.78h-4M673.2 676.68h-4M673.2 671.53h-4M673.2 667.06h-4M673.2 663.12h-4M673.2 659.6h-9.5M673.2 636.42h-4M673.2 636.42h-4M724 967v9.5M729.53 967v4M718.33 967v4M733.05 967v4M714.71 967v4M735.4 967v4M712.29 967v4M737.13 967v4M710.52 967v4M738.5 967v4M709.11 967v4M739.62 967v4M707.96 967v4M740.58 967v4M706.98 967v4M741.41 967v4M706.13 967v4M742.14 967v4M705.37 967v4M742.8 967v9.5M704.7 967v9.5M766.15 967v4M700.25 967v4M779.84 967v4M697.64 967v4M789.55 967v4M695.79 967v4M797.09 967v4M694.36 967v4M803.25 967v4M693.18 967v4M808.45 967v4M692.19 967v4M812.96 967v4M691.33 967v4M816.94 967v4M690.57 967v4M820.5 967v9.5M689.89 967v9.5M845.03 967v4M685.43 967v4M859.39 967v4M682.82 967v4M869.57 967v4M680.97 967v4M877.47 967v4M679.53 967v4M883.92 967v4M678.36 967v4M889.38 967v4M677.37 967v4M894.1 967v4M676.51 967v4M898.27 967v4M675.75 967v4M902 967v9.5M675.07 967v9.5M925.27 967v4M938.88 967v4M948.54 967v4M956.03 967v4M962.15 967v4M967.33 967v4M971.81 967v4M975.76 967v4M979.3 967v9.5M1002.57 967v4M1002.57 967v4" stroke="#000" stroke-width="2" fill="none"/>
<text x="642.2" y="680.4" text-anchor="end" textLength="32.8" lengthAdjust="spacingAndGlyphs">10</text>
<text x="643.7" y="659.8">5</text>
<text x="642.2" y="757.4" text-anchor="end" textLength="32.8" lengthAdjust="spacingAndGlyphs">10</text>
<text x="643.7" y="736.8">4</text>
<text x="642.2" y="836.6" text-anchor="end" textLength="32.8" lengthAdjust="spacingAndGlyphs">10</text>
<text x="643.7" y="816">3</text>
<text x="642" y="938" text-anchor="end">0</text>
<text x="725.5" y="1016.8" text-anchor="middle">0</text>
<text x="810.1" y="1016.8" textLength="32.8" lengthAdjust="spacingAndGlyphs">10</text>
<text x="844.4" y="996">3</text>
<text x="891.6" y="1016.8" textLength="32.8" lengthAdjust="spacingAndGlyphs">10</text>
<text x="925.9" y="996">4</text>
<text x="961.2" y="1016.8" textLength="32.8" lengthAdjust="spacingAndGlyphs">10</text>
<text x="995.5" y="996">5</text>
<text x="835.5" y="604.2" text-anchor="middle" fill="#1e1e1e" style="font-size:33px">CD19+ CD20+</text>
<text x="842.7" y="1071.5" text-anchor="middle">BUV395: IgG</text>
<text x="567.7" y="796.9" text-anchor="middle" transform="rotate(-90 567.7 796.9)">APC: IgA</text>
<g transform="translate(1219.1 629.7) scale(1.32)" shape-rendering="crispEdges" fill="none" stroke-width="1">
<path stroke="#3854a6" d="M177 64.5h1M139 65.5h1M96 68.5h1M148 70.5h1M118 72.5h1m37 0h1M9 73.5h1m1 0h1m12 0h1m4 0h1m8 0h1m17 0h1m88 0h1M35 74.5h1m5 0h1M21 75.5h1m5 0h2m33 0h1m49 0h1M0 76.5h1m8 0h1m5 0h1m1 0h1m4 0h1m11 0h1m4 0h1m1 0h1m32 0h1m30 0h1m116 0h1M6 77.5h2m1 0h1m8 0h2m1 0h1m1 0h1m1 0h5m7 0h1m4 0h1M2 78.5h1m2 0h1m4 0h2m1 0h1m2 0h1m1 0h1m1 0h3m1 0h3m2 0h1m1 0h2m1 0h2m3 0h2m1 0h2m1 0h1m7 0h1m130 0h1M2 79.5h1m3 0h1m4 0h2m1 0h1m1 0h11m1 0h1m1 0h3m1 0h6m10 0h1m10 0h1m1 0h1m111 0h1M0 80.5h1m1 0h4m1 0h3m1 0h3m1 0h3m1 0h11m1 0h1m1 0h4m1 0h2m1 0h3m2 0h1m3 0h1m62 0h1M0 81.5h1m1 0h2m1 0h5m1 0h5m1 0h19m1 0h9m4 0h1m16 0h1m1 0h1m92 0h1m5 0h1M0 82.5h8m1 0h38m11 0h1m44 0h1m33 0h1m15 0h1m8 0h1m57 0h1M0 83.5h46m2 0h1m2 0h1m5 0h1M0 84.5h12m1 0h33m1 0h1m2 0h1m22 0h1m58 0h1m73 0h1M0 85.5h48m1 0h1m1 0h1m88 0h1M0 86.5h47m2 0h1m1 0h1m3 0h1m8 0h1m19 0h1m11 0h1m87 0h1M0 87.5h48m15 0h2m42 0h1m16 0h1m2 0h1M0 88.5h47m1 0h3m1 0h1m9 0h1m83 0h1m53 0h1M0 89.5h49m1 0h2m1 0h2m48 0h1m25 0h1m84 0h1M0 90.5h51m2 0h2m3 0h1m1 0h1m133 0h1M0 91.5h53m2 0h1m5 0h1m108 0h1m44 0h1M0 92.5h51m2 0h2m1 0h2m13 0h1m37 0h1m10 0h1m35 0h1m55 0h1M0 93.5h50m1 0h2m2 0h1m7 0h1m49 0h1m2 0h1m27 0h1m30 0h2m1 0h1m6 0h2m3 0h1M0 94.5h53m2 0h1m89 0h1m5 0h1m37 0h1M0 95.5h52m1 0h3m5 0h1m59 0h1m44 0h1m25 0h1M0 96.5h56m3 0h1m21 0h1m83 0h1m8 0h1m5 0h1m29 0h1M0 97.5h58m2 0h1m23 0h1m6 0h1m34 0h1m58 0h1M0 98.5h52m39 0h1m11 0h1m2 0h1m11 0h1m54 0h1m8 0h1m14 0h1m2 0h1M0 99.5h54m13 0h1m9 0h1m7 0h1m30 0h1m13 0h1m59 0h1m1 0h1M0 100.5h1m1 0h48m1 0h2m1 0h2m78 0h1m23 0h1m20 0h1m8 0h1m1 0h1m5 0h1m1 0h1M0 101.5h37m1 0h15m1 0h2m2 0h1m19 0h1m37 0h1m16 0h1m52 0h1m28 0h1M0 102.5h53m1 0h1m5 0h2m12 0h1m54 0h1m16 0h1M0 103.5h56m28 0h1m3 0h1m79 0h1m9 0h1m10 0h1m7 0h1m17 0h1M0 104.5h50m1 0h4m4 0h1m14 0h1m21 0h1m31 0h1m4 0h1m37 0h1m1 0h2m11 0h1M0 105.5h54m1 0h3m41 0h1m2 0h1m6 0h1m11 0h1m2 0h1m19 0h1m41 0h1m9 0h1m6 0h1M0 106.5h55m3 0h1m2 0h1m28 0h1m47 0h2m5 0h1m25 0h1m36 0h1m1 0h1M0 107.5h55m1 0h1m6 0h1m10 0h1m3 0h1m20 0h1m15 0h1m10 0h1m8 0h2m32 0h1m8 0h1m1 0h1m16 0h1m1 0h1m4 0h1m6 0h1M0 108.5h55m1 0h1m45 0h1m9 0h1m7 0h1m24 0h1m28 0h1m10 0h1m8 0h1m7 0h1M0 109.5h54m1 0h1m3 0h2m82 0h1m29 0h1m9 0h1m11 0h1m3 0h1m25 0h1M0 110.5h51m1 0h3m1 0h1m10 0h1m51 0h1m32 0h1m21 0h1m7 0h1m6 0h1m12 0h1m2 0h1M0 111.5h57m1 0h1m26 0h1m57 0h1m30 0h1m11 0h1M0 112.5h53m2 0h1m3 0h1m29 0h1m12 0h1m31 0h1m25 0h1m50 0h2M0 113.5h55m2 0h1m13 0h1m17 0h1m20 0h1m8 0h1m54 0h1m3 0h1m2 0h2m4 0h1m9 0h1m2 0h1m1 0h1m1 0h1m2 0h1m4 0h1M0 114.5h54m13 0h1m5 0h1m6 0h1m39 0h1m20 0h1m2 0h1m2 0h1m11 0h1m9 0h1m1 0h1m8 0h1m17 0h1m2 0h1M0 115.5h56m47 0h1m2 0h1m3 0h1m1 0h1m28 0h2m27 0h2m6 0h1m9 0h1m7 0h1m3 0h1m1 0h1m4 0h2m17 0h1M0 116.5h54m8 0h1m10 0h1m48 0h1m9 0h1m32 0h1m9 0h1m9 0h2m18 0h1m7 0h1M0 117.5h54m1 0h2m1 0h1m31 0h1m6 0h1m14 0h1m30 0h1m1 0h1m1 0h1m5 0h1m27 0h1m4 0h1m5 0h1m3 0h1m10 0h1m1 0h1M0 118.5h54m1 0h3m3 0h1m24 0h1m17 0h1m15 0h1m3 0h1m5 0h1m15 0h1m11 0h1m19 0h1m14 0h1m3 0h1M0 119.5h53m1 0h2m1 0h1m48 0h1m5 0h1m6 0h1m6 0h2m8 0h1m34 0h1m12 0h3M0 120.5h55m5 0h1m26 0h1m16 0h1m1 0h1m45 0h1m1 0h1m8 0h1m11 0h1m1 0h1m4 0h2m3 0h1m2 0h1m9 0h1m6 0h1M0 121.5h53m2 0h1m3 0h1m5 0h1m36 0h1m60 0h1m27 0h1m11 0h1M0 122.5h56m10 0h1m9 0h1m16 0h1m32 0h2m2 0h1m1 0h2m1 0h1m11 0h1m27 0h1m7 0h1m5 0h1m3 0h1m10 0h1m7 0h1M0 123.5h54m29 0h1m8 0h1m1 0h1m15 0h1m14 0h1m33 0h1m12 0h1m5 0h1m14 0h1m4 0h1m5 0h1M0 124.5h51m3 0h1m45 0h1m25 0h1m16 0h1m9 0h1m3 0h1m1 0h1m22 0h2m11 0h1m25 0h1M0 125.5h53m1 0h2m6 0h1m20 0h1m8 0h1m6 0h2m19 0h1m16 0h1m14 0h1m1 0h1m6 0h1m16 0h1m3 0h1m8 0h1m1 0h1m6 0h1m51 0h1M0 126.5h52m1 0h2m4 0h1m34 0h1m26 0h1m21 0h1m28 0h1m11 0h1m1 0h1m1 0h1m6 0h1m5 0h1m1 0h1m3 0h1M0 127.5h52m2 0h1m16 0h1m40 0h1m28 0h1m3 0h1m14 0h1m6 0h1m5 0h1m5 0h1m5 0h1m8 0h2m11 0h1m19 0h1M0 128.5h55m1 0h1m8 0h1m15 0h1m14 0h1m7 0h1m38 0h1m7 0h1m1 0h1m21 0h1m4 0h1m9 0h1m8 0h1m1 0h1m2 0h1m4 0h1m4 0h1M0 129.5h52m3 0h1m5 0h1m12 0h1m8 0h1m13 0h1m3 0h1m9 0h1m18 0h1m24 0h2m4 0h1m6 0h1m9 0h2m4 0h1m4 0h1m13 0h1m1 0h1m4 0h1m14 0h1m2 0h1M0 130.5h49m1 0h1m2 0h2m2 0h1m17 0h2m1 0h2m7 0h1m8 0h1m6 0h1m21 0h1m9 0h1m5 0h1m1 0h1m2 0h1m8 0h2m1 0h1m1 0h1m6 0h1m4 0h1m9 0h2m3 0h2m1 0h1m7 0h1M0 131.5h51m1 0h1m1 0h2m2 0h1m21 0h1m17 0h1m23 0h1m5 0h1m20 0h1m18 0h1m12 0h1m21 0h1m11 0h1M0 132.5h50m3 0h3m8 0h1m3 0h1m17 0h1m61 0h1m3 0h1m1 0h1m14 0h1m9 0h1m7 0h1m15 0h1m1 0h1m5 0h1M0 133.5h53m1 0h1m2 0h1m7 0h1m28 0h1m1 0h1m7 0h1m9 0h1m2 0h1m9 0h1m2 0h1m2 0h1m9 0h1m1 0h1m1 0h1m6 0h1m14 0h2m2 0h1m10 0h1m1 0h1m3 0h1m9 0h1m3 0h1m3 0h1M0 134.5h51m2 0h2m48 0h1m1 0h1m24 0h1m30 0h1m3 0h1m15 0h1m4 0h2m1 0h1m1 0h1m2 0h1m2 0h1m5 0h1M0 135.5h51m1 0h2m3 0h1m35 0h1m38 0h1m4 0h1m53 0h1m8 0h1m8 0h1m29 0h1M0 136.5h49m1 0h3m9 0h1m12 0h1m24 0h2m21 0h2m17 0h1m10 0h1m16 0h1m12 0h1m1 0h1m9 0h1m6 0h1M0 137.5h51m1 0h1m1 0h1m4 0h1m3 0h1m19 0h1m7 0h1m4 0h1m17 0h1m9 0h1m21 0h1m14 0h1m22 0h2m15 0h1m13 0h1m2 0h1M0 138.5h50m1 0h1m5 0h1m6 0h1m20 0h1m25 0h1m3 0h1m1 0h1m22 0h1m27 0h1m13 0h1m2 0h1m8 0h1m6 0h1M0 139.5h48m2 0h2m1 0h2m4 0h1m69 0h3m6 0h1m1 0h2m14 0h1m16 0h1m2 0h1m7 0h1M0 140.5h50m2 0h1m1 0h3m19 0h1m16 0h1m13 0h1m30 0h1m9 0h1m8 0h1m9 0h1m5 0h1m8 0h1m5 0h1m3 0h1m18 0h2m10 0h1M0 141.5h53m2 0h1m12 0h1m23 0h1m4 0h1m13 0h1m9 0h2m13 0h1m1 0h1m4 0h1m28 0h1m20 0h1m8 0h1M0 142.5h51m5 0h1m10 0h1m10 0h1m9 0h1m26 0h1m12 0h1m4 0h1m6 0h1m4 0h1m6 0h1m2 0h1m15 0h1m1 0h1m2 0h1m17 0h1m6 0h1m3 0h1m5 0h1M0 143.5h48m1 0h1m1 0h5m42 0h1m10 0h1m7 0h1m10 0h1m40 0h1m2 0h1m2 0h1m27 0h1m3 0h2m3 0h1M0 144.5h48m1 0h2m1 0h2m1 0h1m24 0h1m16 0h1m18 0h1m5 0h1m12 0h1m21 0h1m16 0h1m12 0h1m2 0h1m1 0h1m19 0h1M0 145.5h52m5 0h1m9 0h2m7 0h1m4 0h1m9 0h1m14 0h1m15 0h1m2 0h1m10 0h1m17 0h1m22 0h3m3 0h1m8 0h1m2 0h1m15 0h1M0 146.5h52m5 0h2m24 0h1m10 0h1m67 0h1m3 0h1m1 0h2m8 0h2m11 0h1m3 0h1M0 147.5h51m44 0h1m3 0h1m17 0h1m28 0h1m3 0h1m6 0h1m8 0h1m2 0h1m19 0h1m7 0h1m29 0h1M0 148.5h49m1 0h2m6 0h1m9 0h1m44 0h1m3 0h2m28 0h1m32 0h1m8 0h2m8 0h1m13 0h1M0 149.5h49m1 0h2m2 0h1m5 0h1m23 0h1m9 0h1m11 0h1m14 0h1m27 0h1m5 0h1m4 0h1m3 0h1m15 0h1m2 0h1m5 0h1m16 0h1m9 0h1M0 150.5h51m1 0h1m29 0h1m4 0h1m12 0h1m3 0h1m50 0h2m3 0h2m7 0h1m30 0h1m5 0h2m2 0h1m2 0h1M0 151.5h48m1 0h2m1 0h1m49 0h1m7 0h1m11 0h1m4 0h1m1 0h1m25 0h1m13 0h1m1 0h1m7 0h1m13 0h2m5 0h2m3 0h1M0 152.5h52m2 0h2m5 0h1m5 0h1m26 0h1m5 0h1m40 0h1m11 0h1m4 0h1m1 0h2m10 0h1m7 0h1m2 0h1m33 0h1M0 153.5h44m1 0h5m7 0h1m31 0h1m17 0h1m5 0h1m2 0h1m23 0h1m1 0h1m2 0h1m7 0h1m16 0h1m16 0h1m6 0h1m12 0h1M0 154.5h44m1 0h2m1 0h2m1 0h2m6 0h1m25 0h1m1 0h1m25 0h1m54 0h1m13 0h1m1 0h1m4 0h1m8 0h1M0 155.5h48m1 0h2m1 0h2m3 0h1m2 0h1m44 0h1m37 0h1m11 0h1m25 0h1m15 0h1m10 0h1M0 156.5h48m3 0h1m2 0h1m4 0h1m6 0h1m13 0h1m34 0h1m8 0h1m4 0h1m2 0h1m7 0h1m37 0h1m3 0h1m19 0h1m3 0h1M0 157.5h48m3 0h1m2 0h1m58 0h1m33 0h1m3 0h1m42 0h1m7 0h2M0 158.5h46m1 0h1m2 0h1m28 0h1m30 0h1m48 0h1m5 0h1m14 0h1m3 0h1m5 0h1m2 0h1m8 0h1M0 159.5h48m5 0h1m2 0h1m11 0h1m35 0h1m5 0h1m45 0h1m9 0h1m7 0h1m11 0h1m5 0h1m3 0h1m1 0h1M0 160.5h47m3 0h1m5 0h1m5 0h1m2 0h1m10 0h1m6 0h2m14 0h1m11 0h1m17 0h1m25 0h1m4 0h1m13 0h1m4 0h1M0 161.5h47m9 0h2m7 0h1m54 0h1m16 0h1m35 0h1m14 0h1m7 0h1M0 162.5h45m1 0h1m4 0h1m1 0h1m1 0h1m14 0h2m1 0h1m21 0h1m26 0h1m27 0h1m6 0h1m5 0h1m11 0h1m3 0h2m26 0h1M0 163.5h44m2 0h2m90 0h1m8 0h1m4 0h1m8 0h1m32 0h1m2 0h1m6 0h1M0 164.5h2m1 0h43m4 0h1m12 0h1m20 0h1m1 0h1m45 0h1m23 0h1m11 0h1m12 0h1m30 0h1m8 0h1M0 165.5h1m1 0h46m8 0h1m2 0h2m59 0h1m5 0h1m1 0h1m1 0h1m14 0h2m29 0h1m22 0h1m6 0h1M0 166.5h1m1 0h42m2 0h1m34 0h1m82 0h1m1 0h1m30 0h2M0 167.5h43m1 0h2m6 0h1m1 0h1m9 0h1m16 0h1m29 0h1m35 0h1m25 0h1m17 0h1m6 0h1m10 0h1M0 168.5h1m1 0h42m1 0h1m16 0h1m28 0h2m77 0h1m12 0h1m5 0h1M2 169.5h41m16 0h1m16 0h1m11 0h1m18 0h1m46 0h1m22 0h1m4 0h1m11 0h1m6 0h1M1 170.5h43m4 0h1m1 0h1m7 0h1m7 0h2m1 0h1m17 0h1m76 0h1m3 0h1m3 0h1m4 0h1m8 0h1M0 171.5h1m1 0h40m1 0h1m15 0h1m4 0h1m3 0h1m21 0h1m86 0h1m15 0h1m1 0h1M3 172.5h1m1 0h38m1 0h1m3 0h1m2 0h1m5 0h1m4 0h1m52 0h1m7 0h1M6 173.5h36m141 0h1M1 174.5h1m2 0h38m2 0h1m14 0h1m13 0h1m41 0h1m45 0h1m4 0h1m21 0h1m8 0h1m4 0h1M0 175.5h3m2 0h1m1 0h36m6 0h1m5 0h1m4 0h1m1 0h1m2 0h1m28 0h1m79 0h1m7 0h1m27 0h1M1 176.5h1m2 0h34m1 0h1m1 0h2m9 0h1m3 0h2m3 0h1m137 0h1M0 177.5h2m2 0h4m1 0h33m1 0h1m10 0h1m34 0h1m19 0h1m36 0h1m23 0h1M0 178.5h4m1 0h1m1 0h1m1 0h32m1 0h1m5 0h2m3 0h1m3 0h1m132 0h1m5 0h1m6 0h1M1 179.5h1m3 0h1m2 0h31m1 0h1m12 0h1m5 0h1m7 0h1m1 0h1m20 0h1m3 0h1m28 0h1m41 0h1m23 0h1m4 0h1m11 0h1M1 180.5h1m3 0h1m1 0h29m1 0h5m9 0h1m1 0h1m14 0h1m133 0h1M0 181.5h2m4 0h3m1 0h2m1 0h28m17 0h1m2 0h1m33 0h1M1 182.5h1m2 0h1m1 0h34m4 0h1m9 0h1m12 0h1m81 0h1M4 183.5h1m2 0h33m2 0h1m4 0h1m1 0h2m10 0h2m43 0h1m11 0h1m14 0h2m54 0h1M0 184.5h1m7 0h4m1 0h27m8 0h2m16 0h1m10 0h1m15 0h1m8 0h1m27 0h1m6 0h1m12 0h1m9 0h1m24 0h1M0 185.5h1m2 0h1m1 0h4m1 0h32m6 0h1m2 0h1m17 0h1m32 0h1m2 0h1m9 0h1m3 0h1m59 0h1m42 0h1M0 186.5h1m2 0h1m3 0h1m1 0h30m17 0h2m119 0h1M5 187.5h2m1 0h31m10 0h1m1 0h1m1 0h1m2 0h1m49 0h1m6 0h1m7 0h1m57 0h1m9 0h2M0 188.5h2m3 0h1m2 0h32m1 0h1m4 0h3m12 0h1m6 0h2m11 0h1m54 0h1m31 0h1M1 189.5h1m1 0h2m4 0h13m1 0h12m5 0h2m2 0h1m7 0h1m6 0h1m8 0h1m21 0h1m46 0h1M0 190.5h1m1 0h2m2 0h1m2 0h27m2 0h1m5 0h1m9 0h2m23 0h1m60 0h1M3 191.5h1m1 0h1m4 0h1m2 0h22m2 0h3m2 0h2m95 0h1m15 0h1M0 192.5h1m2 0h2m3 0h1m1 0h28m2 0h1m37 0h1m6 0h1M1 193.5h1m4 0h1m1 0h1m3 0h23m1 0h2m1 0h1m12 0h1m2 0h1m1 0h1m8 0h1m10 0h1m14 0h1m86 0h1m3 0h1m25 0h1M2 194.5h1m2 0h1m2 0h1m2 0h1m1 0h21m2 0h1m1 0h1m13 0h1m130 0h1m10 0h1M3 195.5h1m2 0h1m3 0h5m1 0h19m7 0h1m5 0h1m3 0h1m7 0h1m2 0h1m7 0h1m84 0h1M0 196.5h2m2 0h1m8 0h2m1 0h21m2 0h1m9 0h1m37 0h1M1 197.5h1m2 0h1m2 0h1m1 0h2m3 0h2m1 0h2m1 0h15m2 0h2m12 0h1m1 0h1m9 0h1m11 0h1m61 0h1m4 0h1M2 198.5h1m3 0h1m7 0h1m4 0h6m1 0h9m1 0h2m37 0h1M6 199.5h1m2 0h1m4 0h1m1 0h1m1 0h14m1 0h2m64 0h1m9 0h1m52 0h1M2 200.5h1m2 0h1m7 0h1m1 0h2m2 0h1m1 0h1m2 0h1m1 0h3m1 0h2m6 0h1m17 0h1m7 0h1m102 0h1M4 201.5h1m1 0h1m5 0h1m9 0h2m1 0h1m1 0h4m3 0h1m4 0h1m26 0h1m6 0h1m48 0h1M14 202.5h1m3 0h1m5 0h2m10 0h1m12 0h1m40 0h1M5 203.5h1m4 0h1m3 0h1m5 0h1m2 0h1m1 0h1m5 0h1m179 0h1M15 204.5h1m12 0h1m3 0h1m21 0h1m33 0h1m18 0h1m10 0h1m71 0h1M14 205.5h1m19 0h1m3 0h1M7 206.5h1m17 0h1M9 207.5h1M11 208.5h1M50 209.5h1m44 0h1M182 215.5h1"/>
<path stroke="#3a62b3" d="M10 108.5h1m2 0h5M9 109.5h11M6 110.5h17M3 111.5h22M2 112.5h24M0 113.5h28M0 114.5h28M0 115.5h29M0 116.5h30M0 117.5h31M0 118.5h32M0 119.5h32M0 120.5h33M0 121.5h33M0 122.5h33M0 123.5h33M0 124.5h34M0 125.5h34M0 126.5h34M0 127.5h35M0 128.5h35M0 129.5h35M0 130.5h34M0 131.5h34M0 132.5h34M0 133.5h34M0 134.5h34M0 135.5h34M0 136.5h34M0 137.5h34M0 138.5h33M0 139.5h33M0 140.5h33M0 141.5h33M0 142.5h33M0 143.5h33M0 144.5h33M0 145.5h33M0 146.5h33M1 147.5h32M3 148.5h30M5 149.5h28M7 150.5h26M8 151.5h25M14 152.5h18M17 153.5h15M18 154.5h14M19 155.5h13M21 156.5h11M23 157.5h9M26 158.5h4"/>
<path stroke="#3c70c0" d="M11 109.5h1m1 0h1m2 0h2M10 110.5h11M5 111.5h18M4 112.5h20M3 113.5h23M0 114.5h27M0 115.5h28M0 116.5h29M0 117.5h30M0 118.5h31M0 119.5h31M0 120.5h32M0 121.5h33M0 122.5h33M0 123.5h33M0 124.5h33M0 125.5h33M0 126.5h34M0 127.5h34M0 128.5h34M0 129.5h34M0 130.5h34M0 131.5h34M0 132.5h34M0 133.5h33M0 134.5h33M0 135.5h33M0 136.5h33M0 137.5h32M0 138.5h32M0 139.5h32M0 140.5h32M0 141.5h32M0 142.5h32M0 143.5h32M0 144.5h32M0 145.5h32M1 146.5h31M3 147.5h29M5 148.5h27M7 149.5h25M9 150.5h23M13 151.5h19M17 152.5h15M18 153.5h14M19 154.5h12M21 155.5h10M22 156.5h8M25 157.5h4M28 158.5h1"/>
<path stroke="#3e84cc" d="M11 110.5h2m3 0h4M7 111.5h15M5 112.5h18M4 113.5h21M3 114.5h23M0 115.5h27M0 116.5h28M0 117.5h29M0 118.5h30M0 119.5h31M0 120.5h31M0 121.5h32M0 122.5h32M0 123.5h32M0 124.5h32M0 125.5h33M0 126.5h33M0 127.5h33M0 128.5h33M0 129.5h33M0 130.5h33M0 131.5h33M0 132.5h33M0 133.5h33M0 134.5h32M0 135.5h32M0 136.5h32M0 137.5h32M0 138.5h32M0 139.5h32M0 140.5h31M0 141.5h31M0 142.5h31M0 143.5h32M0 144.5h32M1 145.5h31M2 146.5h30M4 147.5h28M7 148.5h25M9 149.5h23M12 150.5h20M17 151.5h15M18 152.5h13M19 153.5h12M20 154.5h11M22 155.5h8M23 156.5h5"/>
<path stroke="#3f98d7" d="M10 111.5h3m2 0h6M6 112.5h16M5 113.5h19M4 114.5h21M3 115.5h23M0 116.5h28M0 117.5h28M0 118.5h29M0 119.5h30M0 120.5h31M0 121.5h32M0 122.5h32M0 123.5h32M0 124.5h32M0 125.5h32M0 126.5h32M0 127.5h32M0 128.5h33M0 129.5h33M0 130.5h33M0 131.5h32M0 132.5h32M0 133.5h32M0 134.5h32M0 135.5h32M0 136.5h32M0 137.5h31M0 138.5h31M0 139.5h31M0 140.5h31M0 141.5h31M0 142.5h31M0 143.5h31M1 144.5h30M2 145.5h29M4 146.5h27M6 147.5h25M8 148.5h23M12 149.5h19M13 150.5h18M17 151.5h14M18 152.5h13M20 153.5h10M21 154.5h9M23 155.5h5"/>
<path stroke="#41abe1" d="M11 111.5h1m7 0h1M8 112.5h13M5 113.5h18M4 114.5h20M4 115.5h22M2 116.5h25M1 117.5h27M0 118.5h29M0 119.5h30M0 120.5h30M0 121.5h31M0 122.5h31M0 123.5h31M0 124.5h32M0 125.5h32M0 126.5h32M0 127.5h32M0 128.5h32M0 129.5h32M0 130.5h32M0 131.5h32M0 132.5h32M0 133.5h32M0 134.5h31M0 135.5h31M0 136.5h31M0 137.5h31M0 138.5h31M0 139.5h31M0 140.5h31M0 141.5h30M0 142.5h30M1 143.5h30M2 144.5h29M3 145.5h28M5 146.5h26M7 147.5h24M11 148.5h20M13 149.5h18M15 150.5h16M18 151.5h13M19 152.5h11M20 153.5h10M21 154.5h8M24 155.5h3"/>
<path stroke="#42bbea" d="M10 112.5h10M7 113.5h15M5 114.5h19M4 115.5h21M3 116.5h23M2 117.5h25M0 118.5h28M0 119.5h29M0 120.5h30M0 121.5h30M0 122.5h31M0 123.5h31M0 124.5h31M0 125.5h31M0 126.5h31M0 127.5h32M0 128.5h32M0 129.5h32M0 130.5h32M0 131.5h32M0 132.5h32M0 133.5h31M0 134.5h31M0 135.5h31M0 136.5h31M0 137.5h31M0 138.5h30M0 139.5h30M0 140.5h30M0 141.5h30M1 142.5h29M2 143.5h28M3 144.5h27M4 145.5h26M5 146.5h26M8 147.5h23M12 148.5h18M14 149.5h16M17 150.5h14M18 151.5h13M19 152.5h11M21 153.5h8M22 154.5h6"/>
<path stroke="#42c0ec" d="M11 112.5h2m1 0h3M8 113.5h13M5 114.5h18M4 115.5h20M4 116.5h22M2 117.5h25M1 118.5h27M0 119.5h29M0 120.5h29M0 121.5h30M0 122.5h30M0 123.5h31M0 124.5h31M0 125.5h31M0 126.5h31M0 127.5h31M0 128.5h32M0 129.5h32M0 130.5h31M0 131.5h31M0 132.5h31M0 133.5h31M0 134.5h31M0 135.5h31M0 136.5h31M0 137.5h30M0 138.5h30M0 139.5h30M0 140.5h30M0 141.5h30M1 142.5h29M2 143.5h28M3 144.5h27M4 145.5h26M6 146.5h24M11 147.5h19M13 148.5h17M14 149.5h16M17 150.5h13M19 151.5h11M20 152.5h10M21 153.5h7M24 154.5h3"/>
<path stroke="#43c6ee" d="M9 113.5h11M8 114.5h15M5 115.5h19M4 116.5h21M3 117.5h23M2 118.5h25M1 119.5h27M0 120.5h29M0 121.5h29M0 122.5h30M0 123.5h31M0 124.5h31M0 125.5h31M0 126.5h31M0 127.5h31M0 128.5h31M0 129.5h31M0 130.5h31M0 131.5h31M0 132.5h31M0 133.5h31M0 134.5h31M0 135.5h31M0 136.5h30M0 137.5h30M0 138.5h30M0 139.5h30M0 140.5h30M1 141.5h29M2 142.5h28M3 143.5h27M3 144.5h27M5 145.5h25M7 146.5h23M11 147.5h19M14 148.5h16M15 149.5h15M18 150.5h12M19 151.5h11M20 152.5h9M22 153.5h5"/>
<path stroke="#4bc6de" d="M12 113.5h5M9 114.5h12M8 115.5h15M5 116.5h19M4 117.5h22M3 118.5h24M2 119.5h26M1 120.5h28M1 121.5h28M0 122.5h29M0 123.5h30M0 124.5h30M0 125.5h30M0 126.5h30M0 127.5h31M0 128.5h31M0 129.5h31M0 130.5h31M0 131.5h31M0 132.5h31M0 133.5h30M0 134.5h30M0 135.5h30M0 136.5h30M0 137.5h30M0 138.5h29M0 139.5h29M1 140.5h28M2 141.5h27M2 142.5h27M3 143.5h27M4 144.5h26M6 145.5h23M10 146.5h20M13 147.5h17M15 148.5h14M16 149.5h13M19 150.5h10M20 151.5h9M21 152.5h7M24 153.5h2"/>
<path stroke="#53c5ce" d="M14 113.5h2M10 114.5h10M9 115.5h14M6 116.5h18M5 117.5h20M4 118.5h22M3 119.5h24M2 120.5h26M2 121.5h27M0 122.5h29M0 123.5h30M0 124.5h30M0 125.5h30M0 126.5h30M0 127.5h30M0 128.5h31M0 129.5h31M0 130.5h30M0 131.5h30M0 132.5h30M0 133.5h30M0 134.5h30M0 135.5h30M0 136.5h30M0 137.5h29M0 138.5h29M0 139.5h29M2 140.5h27M2 141.5h27M3 142.5h26M4 143.5h25M6 144.5h23M7 145.5h22M11 146.5h18M14 147.5h15M16 148.5h13M18 149.5h11M19 150.5h10M21 151.5h7M23 152.5h4"/>
<path stroke="#5ac4ba" d="M13 114.5h5M9 115.5h13M8 116.5h15M5 117.5h20M4 118.5h22M4 119.5h23M3 120.5h25M2 121.5h26M2 122.5h27M0 123.5h29M0 124.5h30M0 125.5h30M0 126.5h30M0 127.5h30M0 128.5h30M0 129.5h30M0 130.5h30M0 131.5h30M0 132.5h30M0 133.5h30M0 134.5h30M0 135.5h29M0 136.5h29M0 137.5h29M0 138.5h29M2 139.5h27M2 140.5h27M3 141.5h26M4 142.5h25M5 143.5h24M7 144.5h22M9 145.5h20M12 146.5h17M15 147.5h14M16 148.5h12M18 149.5h10M20 150.5h8M23 151.5h4"/>
<path stroke="#61c39e" d="M14 114.5h2M10 115.5h11M9 116.5h14M6 117.5h18M5 118.5h20M5 119.5h21M4 120.5h23M3 121.5h25M2 122.5h26M0 123.5h29M0 124.5h29M0 125.5h29M0 126.5h29M0 127.5h30M0 128.5h30M0 129.5h30M0 130.5h30M0 131.5h30M0 132.5h29M0 133.5h29M0 134.5h29M1 135.5h28M1 136.5h28M0 137.5h28M2 138.5h26M2 139.5h26M3 140.5h25M4 141.5h24M5 142.5h23M6 143.5h22M8 144.5h20M11 145.5h17M13 146.5h15M16 147.5h12M17 148.5h11M19 149.5h9M21 150.5h6M24 151.5h2"/>
<path stroke="#67c181" d="M14 114.5h1M12 115.5h8M9 116.5h14M7 117.5h17M6 118.5h19M5 119.5h21M5 120.5h22M4 121.5h24M3 122.5h25M2 123.5h27M1 124.5h28M0 125.5h29M0 126.5h29M1 127.5h28M1 128.5h29M0 129.5h30M0 130.5h29M0 131.5h29M0 132.5h29M0 133.5h29M2 134.5h27M2 135.5h27M1 136.5h27M1 137.5h27M2 138.5h26M3 139.5h25M3 140.5h25M4 141.5h24M5 142.5h23M7 143.5h21M9 144.5h19M12 145.5h16M15 146.5h13M16 147.5h11M18 148.5h9M20 149.5h7M23 150.5h3"/>
<path stroke="#6cc067" d="M14 115.5h4M10 116.5h12M8 117.5h15M6 118.5h19M6 119.5h20M5 120.5h21M5 121.5h22M4 122.5h24M3 123.5h25M2 124.5h27M1 125.5h28M1 126.5h28M1 127.5h28M1 128.5h29M1 129.5h28M0 130.5h29M0 131.5h29M0 132.5h29M1 133.5h28M2 134.5h27M2 135.5h26M2 136.5h26M2 137.5h26M3 138.5h25M3 139.5h25M4 140.5h24M5 141.5h23M6 142.5h22M8 143.5h20M11 144.5h17M12 145.5h15M16 146.5h11M17 147.5h10M19 148.5h8M21 149.5h5"/>
<path stroke="#6cbf54" d="M15 115.5h1M11 116.5h10M9 117.5h14M7 118.5h17M6 119.5h19M6 120.5h20M5 121.5h22M4 122.5h24M3 123.5h25M3 124.5h25M2 125.5h27M1 126.5h28M2 127.5h27M2 128.5h27M1 129.5h28M0 130.5h29M0 131.5h29M0 132.5h29M2 133.5h26M3 134.5h25M2 135.5h26M2 136.5h26M3 137.5h25M3 138.5h25M4 139.5h24M5 140.5h22M6 141.5h21M7 142.5h20M9 143.5h18M12 144.5h15M13 145.5h14M16 146.5h11M18 147.5h8M20 148.5h6M21 149.5h4"/>
<path stroke="#75c147" d="M13 118.5h7M11 119.5h11M9 120.5h15M9 121.5h16M8 122.5h18M7 123.5h19M7 124.5h20M6 125.5h21M6 126.5h21M5 127.5h22M5 128.5h22M5 129.5h22M5 130.5h22M5 131.5h22M5 132.5h22M6 133.5h21M6 134.5h20M6 135.5h20M6 136.5h20M7 137.5h19M8 138.5h18M9 139.5h17M10 140.5h15M12 141.5h13M14 142.5h10M16 143.5h8M19 144.5h2"/>
<path stroke="#80c442" d="M14 120.5h6M12 121.5h10M11 122.5h12M10 123.5h14M9 124.5h16M9 125.5h16M8 126.5h17M8 127.5h18M8 128.5h18M7 129.5h19M8 130.5h17M8 131.5h17M8 132.5h17M8 133.5h17M8 134.5h17M9 135.5h15M10 136.5h14M11 137.5h13M12 138.5h11M13 139.5h10M15 140.5h7"/>
<path stroke="#a1cf37" d="M15 120.5h3M13 121.5h8M12 122.5h10M11 123.5h12M10 124.5h14M10 125.5h15M9 126.5h16M9 127.5h16M8 128.5h17M8 129.5h17M8 130.5h17M8 131.5h17M8 132.5h17M8 133.5h17M9 134.5h15M10 135.5h14M11 136.5h13M11 137.5h12M13 138.5h10M14 139.5h8M18 140.5h2"/>
<path stroke="#c2da2d" d="M14 121.5h7M12 122.5h10M11 123.5h12M11 124.5h13M10 125.5h14M9 126.5h16M9 127.5h16M9 128.5h16M9 129.5h16M9 130.5h16M9 131.5h16M9 132.5h15M9 133.5h15M10 134.5h14M10 135.5h14M11 136.5h12M12 137.5h11M13 138.5h9M15 139.5h6"/>
<path stroke="#dee422" d="M15 121.5h5M13 122.5h8M12 123.5h10M11 124.5h12M11 125.5h13M10 126.5h14M10 127.5h14M10 128.5h15M10 129.5h15M9 130.5h15M9 131.5h15M9 132.5h15M10 133.5h14M10 134.5h14M11 135.5h12M12 136.5h11M13 137.5h9M14 138.5h7M17 139.5h2"/>
<path stroke="#fbee16" d="M16 121.5h2M14 122.5h7M13 123.5h9M12 124.5h11M11 125.5h13M10 126.5h14M10 127.5h14M10 128.5h14M10 129.5h14M10 130.5h14M10 131.5h14M10 132.5h14M10 133.5h14M11 134.5h12M11 135.5h12M12 136.5h10M14 137.5h7M15 138.5h5"/>
<path stroke="#fad818" d="M15 122.5h5M13 123.5h8M12 124.5h10M12 125.5h11M11 126.5h12M10 127.5h14M10 128.5h14M10 129.5h14M10 130.5h14M10 131.5h14M10 132.5h14M11 133.5h12M11 134.5h12M12 135.5h10M13 136.5h9M14 137.5h6M16 138.5h2"/>
<path stroke="#fac119" d="M15 122.5h4M14 123.5h7M13 124.5h9M12 125.5h11M11 126.5h12M11 127.5h12M11 128.5h13M11 129.5h13M10 130.5h14M11 131.5h12M11 132.5h12M11 133.5h12M12 134.5h10M13 135.5h9M14 136.5h7M15 137.5h4"/>
<path stroke="#f9ab1b" d="M17 122.5h1M15 123.5h5M14 124.5h7M12 125.5h10M12 126.5h11M11 127.5h12M11 128.5h12M11 129.5h12M11 130.5h12M11 131.5h12M11 132.5h12M12 133.5h11M12 134.5h10M13 135.5h8M14 136.5h6M16 137.5h1"/>
<path stroke="#f7951d" d="M15 123.5h5M14 124.5h7M13 125.5h9M12 126.5h10M12 127.5h11M11 128.5h12M11 129.5h12M11 130.5h12M11 131.5h12M12 132.5h11M12 133.5h10M13 134.5h9M14 135.5h7M15 136.5h4"/>
<path stroke="#f48020" d="M16 123.5h2M15 124.5h5M13 125.5h8M12 126.5h10M12 127.5h10M12 128.5h10M12 129.5h11M11 130.5h12M12 131.5h11M12 132.5h10M13 133.5h9M13 134.5h8M14 135.5h6"/>
<path stroke="#f26a22" d="M15 124.5h5M14 125.5h7M13 126.5h9M12 127.5h10M12 128.5h10M12 129.5h10M12 130.5h10M12 131.5h10M13 132.5h9M13 133.5h8M14 134.5h7M15 135.5h4"/>
<path stroke="#f04323" d="M17 124.5h2M15 125.5h5M14 126.5h7M13 127.5h8M13 128.5h9M12 129.5h10M12 130.5h10M12 131.5h10M13 132.5h8M14 133.5h7M14 134.5h6"/>
<path stroke="#ed1c24" d="M16 125.5h4M14 126.5h7M13 127.5h8M13 128.5h8M13 129.5h8M13 130.5h8M13 131.5h8M13 132.5h8M14 133.5h6M15 134.5h4"/>
</g>
<path d="M1220.5 693.1 1313.4 693.1 1313.4 904 1220.5 904Z" fill="none" stroke="#000" stroke-width="2.6" stroke-linejoin="miter"/>
<rect x="1218" y="628.6" width="337.6" height="337.4" fill="none" stroke="#000" stroke-width="2.2"/>
<path d="M1217 925h-9.5M1217 916.71h-4M1217 932.35h-4M1217 911.42h-4M1217 937.04h-4M1217 907.9h-4M1217 940.16h-4M1217 905.3h-4M1217 942.47h-4M1217 903.25h-4M1217 944.28h-4M1217 901.56h-4M1217 945.78h-4M1217 900.13h-4M1217 947.05h-4M1217 898.89h-4M1217 948.15h-4M1217 897.79h-4M1217 949.13h-4M1217 896.8h-9.5M1217 950h-9.5M1217 872.67h-4M1217 955.76h-4M1217 858.52h-4M1217 959.14h-4M1217 848.48h-4M1217 961.54h-4M1217 840.7h-4M1217 963.4h-4M1217 834.33h-4M1217 964.92h-4M1217 828.95h-4M1217 966.21h-4M1217 824.29h-4M1217 820.18h-4M1217 816.5h-9.5M1217 792.54h-4M1217 778.52h-4M1217 768.58h-4M1217 760.86h-4M1217 754.56h-4M1217 749.23h-4M1217 744.61h-4M1217 740.54h-4M1217 736.9h-9.5M1217 713.75h-4M1217 700.21h-4M1217 690.6h-4M1217 683.15h-4M1217 677.06h-4M1217 671.91h-4M1217 667.45h-4M1217 663.52h-4M1217 660h-9.5M1217 636.85h-4M1217 636.85h-4M1259.9 967v9.5M1267.75 967v4M1251.99 967v4M1272.76 967v4M1246.95 967v4M1276.09 967v4M1243.58 967v4M1278.55 967v4M1241.11 967v4M1280.49 967v4M1239.15 967v4M1282.09 967v4M1237.54 967v4M1283.45 967v4M1236.18 967v4M1284.63 967v4M1234.99 967v4M1285.67 967v4M1233.94 967v4M1286.6 967v9.5M1233 967v9.5M1310.07 967v4M1226.8 967v4M1323.83 967v4M1223.16 967v4M1333.59 967v4M1220.58 967v4M1341.17 967v4M1218.58 967v4M1347.36 967v4M1352.59 967v4M1357.12 967v4M1361.12 967v4M1364.7 967v9.5M1389.32 967v4M1403.73 967v4M1413.95 967v4M1421.88 967v4M1428.35 967v4M1433.83 967v4M1438.57 967v4M1442.76 967v4M1446.5 967v9.5M1469.44 967v4M1482.86 967v4M1492.38 967v4M1499.76 967v4M1505.8 967v4M1510.9 967v4M1515.32 967v4M1519.21 967v4M1522.7 967v9.5M1545.64 967v4M1545.64 967v4" stroke="#000" stroke-width="2" fill="none"/>
<text x="1186" y="680.8" text-anchor="end" textLength="32.8" lengthAdjust="spacingAndGlyphs">10</text>
<text x="1187.5" y="660.2">5</text>
<text x="1186" y="757.7" text-anchor="end" textLength="32.8" lengthAdjust="spacingAndGlyphs">10</text>
<text x="1187.5" y="737.1">4</text>
<text x="1186" y="837.3" text-anchor="end" textLength="32.8" lengthAdjust="spacingAndGlyphs">10</text>
<text x="1187.5" y="816.7">3</text>
<text x="1185.8" y="939.5" text-anchor="end">0</text>
<text x="1261.4" y="1016.8" text-anchor="middle">0</text>
<text x="1354.3" y="1016.8" textLength="32.8" lengthAdjust="spacingAndGlyphs">10</text>
<text x="1388.6" y="996">3</text>
<text x="1436.1" y="1016.8" textLength="32.8" lengthAdjust="spacingAndGlyphs">10</text>
<text x="1470.4" y="996">4</text>
<text x="1505" y="1016.8" textLength="32.8" lengthAdjust="spacingAndGlyphs">10</text>
<text x="1539.3" y="996">5</text>
<text x="1401.9" y="604.2" text-anchor="middle" fill="#1e1e1e" style="font-size:33px">IgG+ or IgA+</text>
<text x="1385" y="1071.5" text-anchor="middle">BB70: IgM</text>
<text x="1110.1" y="796.8" text-anchor="middle" transform="rotate(-90 1110.1 796.8)">BV750: CD19</text>
<g transform="translate(1764.7 629.7) scale(1.32)" shape-rendering="crispEdges" fill="none" stroke-width="1">
<path stroke="#3854a6" d="M183 70.5h1M188 71.5h1M187 72.5h1m1 0h1M181 73.5h1m3 0h1M183 74.5h1m3 0h3M186 75.5h2m1 0h2m1 0h1M177 76.5h2m3 0h2m1 0h2m1 0h1m1 0h1M184 77.5h6m1 0h1M175 78.5h1m3 0h1m2 0h2m1 0h1m1 0h1M175 79.5h1m3 0h1m4 0h2m2 0h2M174 80.5h1m2 0h2m2 0h1m1 0h1m3 0h1m2 0h1M173 81.5h1m2 0h1m2 0h4m7 0h1M177 82.5h2m1 0h1m1 0h3m1 0h2m2 0h1M175 83.5h4m2 0h3m2 0h1m4 0h1M171 84.5h1m4 0h2m1 0h2m1 0h3M174 85.5h2m2 0h2m1 0h1m4 0h1M172 86.5h2m2 0h1m1 0h1m1 0h4m1 0h1M172 87.5h2m2 0h8M163 88.5h1m4 0h1m3 0h1m2 0h3m1 0h2m3 0h2M167 89.5h1m1 0h2m1 0h7m1 0h1m1 0h1M161 90.5h1m2 0h1m1 0h1m1 0h7m1 0h1m1 0h1M163 91.5h1m5 0h3m1 0h5m1 0h1M168 92.5h3m1 0h2m1 0h1M167 93.5h1m1 0h1m2 0h1m3 0h1M160 94.5h1m3 0h1m1 0h3m3 0h1m1 0h1M164 95.5h1m2 0h1m1 0h2m2 0h2M160 96.5h1m4 0h1m1 0h1m5 0h1m1 0h1m66 0h1M155 97.5h1m2 0h1m5 0h2m1 0h1m2 0h2M158 98.5h1m4 0h1m1 0h1m1 0h1M158 99.5h8m1 0h1m2 0h1m3 0h1M157 100.5h1m3 0h2m1 0h3M156 101.5h4m1 0h1m1 0h5M152 102.5h1m5 0h1m6 0h1m7 0h1M152 103.5h1m2 0h5m1 0h2m4 0h1M155 104.5h4m6 0h1M151 105.5h3m2 0h2m1 0h3m1 0h2m4 0h1M151 106.5h1m4 0h1m1 0h1m2 0h2m4 0h1m41 0h1M146 107.5h1m4 0h2m3 0h7m73 0h1M147 108.5h2m1 0h2m1 0h9M149 109.5h1m1 0h1m5 0h1M143 110.5h2m1 0h2m1 0h1m2 0h1m1 0h1m6 0h1M147 111.5h3m1 0h2m1 0h5m73 0h1M144 112.5h1m3 0h3m1 0h2m1 0h4m52 0h1M139 113.5h1m4 0h1m2 0h3m11 0h1m68 0h1M127 114.5h1m16 0h1m1 0h1m3 0h1m1 0h1M127 115.5h1m14 0h1m1 0h2m3 0h3m4 0h1M132 116.5h1m6 0h1m2 0h4m1 0h1m3 0h2m71 0h1M123 117.5h1m13 0h1m2 0h1m1 0h1m1 0h2m1 0h3M138 118.5h1m2 0h6m3 0h2m33 0h1M137 119.5h1m2 0h1m1 0h2m1 0h2m1 0h2m1 0h1m40 0h1m17 0h1M123 120.5h1m11 0h1m1 0h2m1 0h2m1 0h1m1 0h2m2 0h1M127 121.5h1m4 0h2m1 0h1m1 0h1m1 0h4m1 0h3m93 0h1M124 122.5h1m10 0h4m1 0h3m66 0h1M127 123.5h4m2 0h1m1 0h6m4 0h2m1 0h1m44 0h1M121 124.5h1m4 0h2m9 0h3m1 0h1m1 0h3M123 125.5h1m2 0h1m1 0h1m1 0h6m2 0h6m82 0h1M117 126.5h1m7 0h7m1 0h2m1 0h3m1 0h1m1 0h1m4 0h1m70 0h1m11 0h2M118 127.5h2m4 0h2m2 0h1m1 0h6m2 0h2m2 0h1m2 0h1m5 0h1m70 0h1m1 0h1M119 128.5h1m7 0h3m1 0h2m1 0h6m6 0h1m61 0h1m3 0h1m7 0h1M111 129.5h1m11 0h1m3 0h8m2 0h1m1 0h1m1 0h1m64 0h1m11 0h1m5 0h1M112 130.5h1m6 0h1m5 0h6m1 0h1m1 0h1m2 0h3m3 0h1M100 131.5h1m12 0h1m2 0h1m1 0h1m1 0h1m3 0h1m4 0h1m1 0h3m1 0h1m1 0h1m1 0h2m2 0h1m51 0h1m23 0h1m6 0h1m3 0h1m1 0h1M102 132.5h1m11 0h1m2 0h2m1 0h2m2 0h1m5 0h4m3 0h1m1 0h1m1 0h2m59 0h1m29 0h1m2 0h1m7 0h1m5 0h1M118 133.5h2m5 0h1m5 0h1m1 0h1m1 0h1m4 0h1m3 0h1m46 0h2m10 0h1M113 134.5h1m4 0h1m1 0h1m5 0h1m2 0h5m8 0h1m40 0h1m1 0h1m19 0h1M104 135.5h1m14 0h1m1 0h1m3 0h1m3 0h1m11 0h1M91 136.5h1m20 0h1m1 0h1m2 0h1m6 0h1m6 0h1m1 0h2m10 0h1m25 0h1m18 0h1m4 0h1m5 0h1m1 0h2m6 0h1M100 137.5h1m1 0h1m3 0h1m2 0h1m1 0h1m7 0h1m1 0h1m4 0h1m1 0h4m1 0h1m77 0h1m21 0h1M96 138.5h1m2 0h1m6 0h1m1 0h2m1 0h1m1 0h1m1 0h1m4 0h2m3 0h1m1 0h1m6 0h2m53 0h1m19 0h2m8 0h1m10 0h1M113 139.5h1m7 0h1m2 0h3m4 0h1m1 0h1m8 0h1m15 0h1m34 0h1m18 0h1M98 140.5h1m6 0h1m2 0h2m3 0h2m3 0h1m3 0h1m1 0h1m1 0h1m11 0h2m30 0h1m52 0h1m13 0h1M100 141.5h1m1 0h2m4 0h2m2 0h4m1 0h7m2 0h1m5 0h1m3 0h2m49 0h1m9 0h1m7 0h1m13 0h1m4 0h1m6 0h1m1 0h1m2 0h1M96 142.5h1m10 0h2m3 0h1m1 0h1m10 0h1m8 0h1m4 0h1m31 0h1m25 0h1m15 0h1m2 0h1m24 0h1M105 143.5h1m2 0h1m8 0h2m5 0h1m44 0h1m22 0h1m4 0h1m4 0h1m3 0h1m3 0h1m9 0h3m4 0h1m18 0h1M95 144.5h1m5 0h2m2 0h1m1 0h2m2 0h1m1 0h2m5 0h1m2 0h6m8 0h1m20 0h1m45 0h1m5 0h1m22 0h1M92 145.5h1m5 0h1m4 0h2m2 0h2m1 0h2m1 0h2m6 0h1m2 0h1m46 0h1m16 0h1m1 0h1m9 0h1m6 0h1m5 0h1m16 0h1M80 146.5h3m7 0h1m4 0h1m3 0h1m1 0h1m2 0h1m2 0h1m2 0h1m6 0h1m7 0h1m3 0h1m62 0h1m11 0h2m1 0h1m6 0h2m17 0h1m2 0h2M92 147.5h2m1 0h1m5 0h1m2 0h1m1 0h1m1 0h1m3 0h1m8 0h1m1 0h1m2 0h1m6 0h1m40 0h1m36 0h1m16 0h1m9 0h1M82 148.5h1m8 0h1m2 0h1m2 0h1m11 0h2m1 0h1m3 0h1m1 0h2m1 0h2m7 0h1m49 0h1m13 0h1m3 0h1m5 0h1m2 0h1m1 0h2m4 0h1m1 0h1m2 0h1m4 0h1m1 0h1M70 149.5h1m24 0h1m3 0h2m2 0h1m9 0h1m1 0h1m10 0h1m2 0h2m27 0h1m16 0h1m17 0h1m4 0h1m1 0h1m6 0h1m7 0h1m1 0h2m2 0h1m1 0h1m4 0h1M29 150.5h1m42 0h1m4 0h1m9 0h2m2 0h1m3 0h1m4 0h3m3 0h1m5 0h1m1 0h3m4 0h1m1 0h1m55 0h1m3 0h1m12 0h1m1 0h1m3 0h1m4 0h1m6 0h1m2 0h1m8 0h1m14 0h1M74 151.5h1m1 0h1m2 0h1m12 0h1m1 0h1m1 0h1m4 0h1m3 0h2m6 0h1m3 0h1m10 0h1m44 0h1m3 0h1m2 0h1m7 0h1m2 0h1m1 0h1m7 0h1m1 0h1m1 0h1m3 0h1m1 0h1m1 0h1m7 0h1m15 0h1M85 152.5h1m1 0h1m8 0h1m1 0h1m3 0h2m1 0h1m2 0h1m6 0h1m73 0h1m10 0h2m15 0h1m7 0h1M68 153.5h1m1 0h1m9 0h2m4 0h1m2 0h1m1 0h1m4 0h1m3 0h1m7 0h1m2 0h2m2 0h1m1 0h1m32 0h1m38 0h2m1 0h1m3 0h1m2 0h2m5 0h1m14 0h1m14 0h1M65 154.5h1m13 0h1m9 0h1m1 0h1m5 0h1m2 0h2m2 0h2m2 0h1m3 0h2m1 0h1m1 0h1m39 0h1m41 0h1m2 0h1m12 0h2m1 0h2m4 0h1m4 0h1M79 155.5h1m1 0h3m4 0h1m3 0h2m6 0h1m2 0h1m3 0h2m8 0h1m3 0h2m6 0h1m28 0h1m13 0h1m1 0h1m9 0h1m2 0h1m3 0h1m1 0h1m1 0h2m3 0h1m7 0h1m3 0h1m1 0h1m2 0h1m1 0h1m9 0h1m5 0h1M45 156.5h1m7 0h1m6 0h1m8 0h1m5 0h1m2 0h1m5 0h1m1 0h3m2 0h2m3 0h1m1 0h2m1 0h1m1 0h1m2 0h1m1 0h1m70 0h1m13 0h1m10 0h2m5 0h1m5 0h1m3 0h1m2 0h1m4 0h2M75 157.5h1m2 0h1m4 0h3m3 0h2m2 0h2m6 0h1m4 0h3m2 0h1m3 0h1m40 0h1m32 0h1m1 0h1m2 0h2m2 0h1m3 0h1m1 0h1m2 0h1m7 0h1m18 0h1m1 0h1M64 158.5h2m5 0h2m1 0h1m11 0h2m6 0h1m8 0h2m6 0h1m58 0h1m3 0h1m4 0h1m3 0h1m2 0h1m2 0h1m4 0h1m1 0h1m6 0h1m8 0h1m1 0h1m13 0h1m4 0h1m6 0h1M79 159.5h2m1 0h1m1 0h1m3 0h2m3 0h2m1 0h2m9 0h2m14 0h1m58 0h1m5 0h1m18 0h3m3 0h1m12 0h1M55 160.5h1m15 0h1m6 0h1m1 0h1m1 0h1m1 0h2m1 0h4m2 0h3m2 0h2m3 0h2m2 0h1m69 0h2m2 0h1m7 0h3m3 0h2m7 0h1m8 0h1m3 0h1m5 0h1m10 0h1M40 161.5h1m13 0h1m10 0h1m3 0h1m10 0h2m3 0h1m1 0h1m4 0h1m2 0h1m2 0h2m2 0h2m2 0h1m6 0h2m40 0h1m21 0h1m22 0h1m7 0h1m7 0h1m2 0h2m4 0h1M73 162.5h1m5 0h1m6 0h1m1 0h2m5 0h1m10 0h1m75 0h1m3 0h1m2 0h1m8 0h1m8 0h2m5 0h2m5 0h1M61 163.5h1m7 0h1m2 0h1m6 0h1m1 0h4m1 0h2m3 0h2m1 0h1m1 0h1m2 0h1m1 0h1m3 0h1m1 0h1m5 0h1m26 0h1m14 0h1m12 0h1m7 0h1m12 0h1m17 0h1M52 164.5h1m10 0h1m5 0h1m3 0h3m1 0h1m4 0h1m7 0h1m3 0h1m2 0h1m3 0h2m9 0h1m15 0h1m27 0h1m19 0h2m1 0h2m36 0h1m20 0h1M38 165.5h1m31 0h1m2 0h1m5 0h1m2 0h2m2 0h1m1 0h1m2 0h2m2 0h2m3 0h1m56 0h1m1 0h1m7 0h1m7 0h1m6 0h1m4 0h2m1 0h1m18 0h1m2 0h1m1 0h1M53 166.5h1m4 0h1m4 0h1m5 0h2m2 0h3m2 0h1m1 0h5m4 0h3m3 0h2m2 0h1m42 0h1m1 0h1m10 0h1m16 0h1m3 0h1m10 0h2m25 0h1m29 0h1M46 167.5h1m12 0h1m15 0h1m5 0h2m1 0h1m1 0h1m6 0h1m1 0h1m7 0h1m5 0h1m13 0h1m18 0h1m17 0h1m37 0h1m1 0h1m3 0h1m1 0h1m12 0h1m10 0h1M50 168.5h1m6 0h2m6 0h1m3 0h1m1 0h1m2 0h1m1 0h2m1 0h2m4 0h2m2 0h1m2 0h1m1 0h2m11 0h1m23 0h1m41 0h1m9 0h1m10 0h1m2 0h1m6 0h1m1 0h1m14 0h1m11 0h1M26 169.5h1m35 0h1m4 0h2m3 0h1m1 0h1m1 0h2m2 0h1m4 0h4m2 0h1m51 0h1m7 0h1m22 0h3m1 0h1m1 0h1m12 0h1m2 0h2m1 0h1m5 0h2m1 0h1m5 0h1m4 0h1m1 0h1M36 170.5h1m18 0h1m5 0h1m5 0h1m3 0h1m1 0h1m1 0h1m1 0h1m2 0h3m2 0h1m2 0h1m1 0h1m3 0h1m1 0h2m5 0h1m3 0h1m30 0h1m19 0h1m12 0h1m1 0h1m10 0h1m12 0h1m2 0h1m8 0h1M64 171.5h1m10 0h2m3 0h1m1 0h2m1 0h1m4 0h2m56 0h1m1 0h1m4 0h1m15 0h1m6 0h1m1 0h1m3 0h2m3 0h1m7 0h1m10 0h2m7 0h1m1 0h1m9 0h1M32 172.5h1m11 0h1m4 0h1m2 0h1m1 0h1m15 0h1m4 0h1m1 0h2m4 0h1m5 0h1m3 0h1m3 0h1m13 0h1m25 0h1m16 0h1m1 0h1m7 0h1m4 0h1m1 0h1m5 0h1m4 0h1m4 0h1m1 0h1m8 0h1m14 0h1m6 0h1m6 0h1m4 0h1M16 173.5h1m18 0h1m14 0h2m6 0h2m9 0h1m2 0h1m2 0h1m1 0h1m1 0h1m1 0h1m9 0h1m6 0h1m4 0h1m33 0h1m5 0h1m11 0h1m5 0h1m5 0h1m14 0h1m1 0h1m7 0h1m3 0h1m20 0h1m23 0h1M35 174.5h1m13 0h1m11 0h1m1 0h1m1 0h5m1 0h1m4 0h1m2 0h1m3 0h1m3 0h2m2 0h1m23 0h1m70 0h1m6 0h1m17 0h1M21 175.5h1m27 0h1m10 0h1m4 0h4m1 0h1m3 0h1m1 0h4m2 0h1m1 0h1m4 0h1m42 0h1m4 0h1m23 0h1m3 0h1m1 0h1m1 0h1m7 0h2m1 0h1m1 0h1m3 0h1m1 0h1m2 0h1m28 0h1M32 176.5h1m2 0h1m3 0h1m11 0h1m8 0h1m6 0h1m2 0h1m1 0h1m4 0h1m3 0h1m2 0h1m15 0h1m2 0h1m1 0h3m24 0h1m15 0h1m9 0h1m9 0h1m7 0h2m4 0h1m1 0h1m20 0h1m6 0h1m7 0h1M36 177.5h1m8 0h1m2 0h1m5 0h1m3 0h1m3 0h2m1 0h1m2 0h2m3 0h4m1 0h1m5 0h1m6 0h1m1 0h2m32 0h1m22 0h1m2 0h1m4 0h1m1 0h1m26 0h1m7 0h1m18 0h1M21 178.5h1m6 0h1m16 0h1m8 0h1m1 0h1m3 0h1m2 0h1m1 0h1m1 0h1m4 0h2m4 0h2m3 0h2m2 0h1m2 0h1m50 0h1m1 0h1m4 0h2m16 0h1m5 0h2m8 0h1m6 0h1m2 0h1m14 0h1m6 0h1M28 179.5h1m13 0h1m6 0h1m16 0h1m9 0h2m2 0h1m2 0h1m8 0h1m57 0h2m9 0h1m2 0h1m4 0h1m5 0h1m14 0h1M56 180.5h1m3 0h1m8 0h1m1 0h1m2 0h3m3 0h1m45 0h1m6 0h1m15 0h1m4 0h1m2 0h1m2 0h1m1 0h1m1 0h1m1 0h2m14 0h1m5 0h1m4 0h1m4 0h1m4 0h1m22 0h1M15 181.5h1m11 0h1m10 0h1m1 0h1m2 0h1m6 0h1m1 0h2m15 0h1m2 0h1m4 0h2m3 0h1m54 0h1m11 0h1m1 0h1m6 0h1m2 0h1m5 0h1m1 0h1m8 0h1m13 0h1m5 0h1m10 0h2M25 182.5h1m7 0h1m5 0h1m1 0h1m1 0h1m2 0h3m1 0h1m3 0h2m1 0h1m7 0h1m14 0h1m10 0h1m47 0h1m2 0h1m16 0h1m7 0h1m2 0h1m3 0h1m2 0h3m19 0h1m1 0h1M26 183.5h1m1 0h2m13 0h1m4 0h3m1 0h1m4 0h1m5 0h1m1 0h1m1 0h1m7 0h1m8 0h1m31 0h1m35 0h1m2 0h1m2 0h1m5 0h1m5 0h1m9 0h1m4 0h1m2 0h1m19 0h1m9 0h1M44 184.5h3m1 0h1m1 0h1m4 0h1m3 0h1m1 0h1m6 0h1m2 0h1m7 0h1m23 0h1m7 0h1m22 0h1m24 0h1m18 0h1m3 0h1m6 0h1m25 0h1m7 0h1M27 185.5h1m5 0h1m7 0h2m5 0h1m2 0h1m5 0h1m1 0h2m1 0h2m1 0h1m10 0h1m7 0h1m20 0h1m18 0h1m17 0h1m4 0h1m3 0h2m3 0h1m5 0h1m3 0h1m5 0h1m32 0h1m5 0h1m1 0h1m14 0h1M21 186.5h1m1 0h1m3 0h2m2 0h1m1 0h1m3 0h1m3 0h1m1 0h1m4 0h1m2 0h1m1 0h2m2 0h2m1 0h1m2 0h1m1 0h1m1 0h2m1 0h1m3 0h1m1 0h1m6 0h1m34 0h1m2 0h1m18 0h1m8 0h1m16 0h2m1 0h1m5 0h1m14 0h1m4 0h1M31 187.5h1m3 0h4m2 0h6m1 0h1m1 0h5m1 0h1m1 0h1m14 0h1m1 0h1m19 0h1m17 0h1m15 0h1m7 0h1m3 0h1m6 0h1m15 0h1m1 0h1m1 0h1m4 0h1m15 0h1M31 188.5h2m1 0h1m1 0h1m7 0h6m1 0h1m1 0h2m1 0h3m2 0h1m1 0h1m4 0h1m12 0h1m1 0h1m25 0h1m16 0h1m5 0h1m14 0h3m2 0h1m15 0h2m8 0h1M36 189.5h1m2 0h1m1 0h1m1 0h1m3 0h1m2 0h2m1 0h1m2 0h1m2 0h1m1 0h2m3 0h1m3 0h1m1 0h1m58 0h1m14 0h2m13 0h1m5 0h1m5 0h1m8 0h1M24 190.5h1m3 0h1m1 0h1m1 0h2m3 0h1m1 0h2m2 0h1m2 0h1m1 0h2m1 0h2m4 0h3m3 0h1m3 0h1m2 0h1m1 0h1m14 0h1m18 0h1m12 0h1m20 0h1m3 0h1m6 0h1m4 0h1m6 0h1m4 0h2m6 0h1m2 0h1m4 0h1m11 0h1m7 0h1m6 0h2m31 0h1M17 191.5h1m5 0h1m4 0h1m1 0h2m5 0h2m2 0h2m3 0h1m2 0h1m1 0h1m4 0h4m4 0h1m50 0h1m11 0h1m6 0h1m7 0h1m9 0h1m3 0h2m7 0h1m11 0h1m7 0h1m48 0h1M22 192.5h1m3 0h1m3 0h1m4 0h1m7 0h3m1 0h1m2 0h1m1 0h1m1 0h2m3 0h1m5 0h1m2 0h1m29 0h1m9 0h2m14 0h2m2 0h2m2 0h2m3 0h1m3 0h1m5 0h1m4 0h1m14 0h2m4 0h1m16 0h1m8 0h1M22 193.5h1m3 0h1m6 0h1m4 0h3m1 0h1m5 0h1m1 0h1m3 0h1m1 0h2m1 0h2m1 0h1m2 0h1m8 0h4m6 0h1m26 0h1m30 0h1m34 0h1m2 0h1m1 0h1M25 194.5h1m8 0h1m2 0h2m1 0h1m4 0h3m1 0h1m1 0h1m1 0h1m3 0h1m4 0h3m9 0h1m42 0h1m37 0h1m2 0h1m1 0h1m7 0h1m63 0h1M8 195.5h1m11 0h1m6 0h1m3 0h1m2 0h1m3 0h3m2 0h1m2 0h1m1 0h4m2 0h1m4 0h1m3 0h1m3 0h1m1 0h1m7 0h2m2 0h2m1 0h1m22 0h1m9 0h2m18 0h1m5 0h1m2 0h1m2 0h1m7 0h1m1 0h1m20 0h1m1 0h1M20 196.5h1m8 0h2m1 0h1m1 0h4m1 0h2m1 0h3m6 0h1m1 0h1m1 0h1m3 0h3m2 0h1m1 0h1m1 0h2m6 0h1m13 0h1m25 0h1m14 0h2m6 0h1m1 0h1m1 0h1m3 0h1m1 0h1m13 0h1m4 0h2m12 0h1m6 0h1M23 197.5h1m1 0h1m2 0h1m1 0h1m1 0h2m2 0h3m2 0h3m1 0h7m3 0h2m3 0h1m1 0h1m5 0h1m44 0h1m6 0h1m54 0h1m3 0h1m30 0h1M10 198.5h1m13 0h3m1 0h1m1 0h9m1 0h5m2 0h5m1 0h3m1 0h2m4 0h1m3 0h1m2 0h1m17 0h1m16 0h1m3 0h1m11 0h1m17 0h1m2 0h1m1 0h1m7 0h1m15 0h1M16 199.5h1m6 0h2m1 0h1m1 0h6m1 0h1m1 0h13m1 0h4m1 0h1m1 0h2m3 0h1m2 0h1m10 0h1m2 0h1m24 0h1m9 0h1m1 0h1m11 0h1m5 0h1m5 0h1m4 0h2m9 0h1m5 0h1m5 0h1m20 0h1M15 200.5h1m3 0h1m2 0h1m2 0h1m1 0h7m1 0h1m1 0h8m2 0h2m1 0h3m2 0h1m1 0h2m6 0h2m1 0h1m47 0h1m5 0h1m4 0h4m6 0h1m10 0h2m9 0h1M12 201.5h1m8 0h1m4 0h6m1 0h15m1 0h4m1 0h2m3 0h2m4 0h2m8 0h1m8 0h1m16 0h2m1 0h3m2 0h1m2 0h1m3 0h1m7 0h1m6 0h1m1 0h2m1 0h1m12 0h2m5 0h1m2 0h1m7 0h1M13 202.5h1m5 0h4m1 0h35m2 0h1m1 0h1m4 0h2m13 0h1m9 0h1m4 0h1m3 0h1m22 0h1m3 0h1m10 0h1m1 0h2m17 0h1m12 0h1m4 0h1m4 0h1m18 0h1M15 203.5h3m2 0h34m1 0h3m4 0h1m1 0h1m2 0h1m3 0h1m24 0h1m5 0h1m9 0h1m2 0h1m8 0h1m2 0h1m10 0h1m15 0h2m7 0h1m27 0h1m8 0h1m8 0h1M2 204.5h1m1 0h1m13 0h41m2 0h2m2 0h1m1 0h1m1 0h1m3 0h1m1 0h1m5 0h1m12 0h1m3 0h1m12 0h3m2 0h1m17 0h1m21 0h2m46 0h1M15 205.5h1m2 0h9m1 0h28m1 0h2m2 0h1m1 0h2m1 0h1m5 0h1m13 0h1m7 0h1m22 0h2m12 0h1m3 0h1m2 0h1m2 0h1m17 0h1m15 0h1m11 0h1m1 0h1m39 0h1M12 206.5h1m2 0h3m1 0h5m1 0h36m2 0h1m3 0h1m2 0h1m6 0h1m12 0h1m11 0h1m11 0h1m1 0h1m4 0h1m1 0h1m24 0h1m3 0h1m5 0h1m25 0h1m64 0h1M0 207.5h1m9 0h2m4 0h1m4 0h3m1 0h40m1 0h1m6 0h1m10 0h1m4 0h1m22 0h2m1 0h1m4 0h1m3 0h1m4 0h1m1 0h2m4 0h1m8 0h1m3 0h1m5 0h2M15 208.5h9m1 0h34m1 0h2m2 0h3m1 0h2m2 0h2m18 0h1m3 0h1m5 0h1m1 0h1m1 0h1m5 0h1m10 0h1m5 0h1m1 0h1m4 0h2m4 0h1m7 0h2m19 0h1m5 0h1M6 209.5h1m2 0h1m1 0h3m5 0h44m2 0h1m3 0h1m8 0h1m16 0h1m12 0h1m5 0h1m1 0h1m8 0h1m11 0h1m2 0h1m1 0h1m6 0h1m2 0h1m7 0h1m63 0h1M9 210.5h1m4 0h1m2 0h2m1 0h37m1 0h2m1 0h1m1 0h2m9 0h1m4 0h1m8 0h1m1 0h1m3 0h1m16 0h3m18 0h1m1 0h1m3 0h1m6 0h1m5 0h1m62 0h1M8 211.5h2m5 0h43m1 0h4m1 0h1m1 0h1m1 0h1m1 0h1m4 0h1m12 0h1m5 0h1m2 0h1m9 0h1m1 0h1m11 0h1m6 0h1m4 0h1m7 0h2m2 0h1m2 0h1m48 0h1M11 212.5h1m3 0h1m1 0h1m1 0h4m1 0h39m3 0h2m2 0h2m3 0h1m14 0h1m7 0h1m6 0h1m3 0h1m4 0h1m11 0h2m5 0h2m5 0h1m10 0h1M4 213.5h2m1 0h1m1 0h1m2 0h2m1 0h3m1 0h46m2 0h1m2 0h1m2 0h1m3 0h1m2 0h2m4 0h1m4 0h1m6 0h1m6 0h1m13 0h1m15 0h1M5 214.5h1m7 0h48m3 0h3m1 0h1m3 0h1m3 0h1m5 0h1m34 0h1m5 0h1m2 0h1m93 0h1M3 215.5h1m3 0h1m3 0h1m2 0h49m2 0h4m5 0h1m6 0h1m1 0h1m19 0h1m3 0h1m2 0h1m1 0h2m8 0h1m12 0h1m4 0h1m1 0h1m3 0h1M8 216.5h2m2 0h1m2 0h51m1 0h2m5 0h1m7 0h3m8 0h1m2 0h1m2 0h2m14 0h1m9 0h1m2 0h2m11 0h1m2 0h1m8 0h1m9 0h1m3 0h1m1 0h1m25 0h1m7 0h1M14 217.5h1m1 0h53m2 0h1m11 0h1m18 0h2m6 0h2m18 0h1m35 0h1m24 0h2m39 0h1M6 218.5h1m6 0h52m1 0h3m2 0h3m26 0h1m3 0h1m30 0h1m3 0h1m3 0h1m18 0h1m14 0h1m31 0h1M6 219.5h1m1 0h1m2 0h8m1 0h44m1 0h1m1 0h2m1 0h2m5 0h1m2 0h1m8 0h1m6 0h1m6 0h1m3 0h1m15 0h2m2 0h1m66 0h1m22 0h1M9 220.5h53m1 0h4m4 0h1m8 0h1m10 0h2m7 0h2m2 0h1m4 0h1m1 0h1m13 0h1m4 0h1m3 0h1m11 0h1m5 0h1M5 221.5h1m1 0h4m1 0h1m1 0h51m2 0h1m6 0h1m8 0h1m8 0h1m15 0h2m3 0h1m3 0h2m29 0h1m37 0h1m44 0h1M1 222.5h1m7 0h2m1 0h1m1 0h2m1 0h48m2 0h1m3 0h1m5 0h2m20 0h1m9 0h1m1 0h1m5 0h1m3 0h1m4 0h1M2 223.5h3m2 0h1m2 0h2m1 0h50m1 0h3m2 0h3m2 0h1m5 0h1m4 0h1m1 0h1m2 0h1m2 0h4m4 0h1m2 0h1m4 0h1m4 0h1m15 0h1m5 0h1m6 0h1m26 0h1M9 224.5h1m1 0h56m1 0h2m5 0h1m1 0h1m2 0h2m13 0h1m7 0h1m7 0h1m8 0h1m1 0h3m2 0h1m6 0h2m3 0h1m2 0h1m2 0h1m14 0h1M3 225.5h1m2 0h1m1 0h4m1 0h1m1 0h51m3 0h1m6 0h1m15 0h2m1 0h1m1 0h2m4 0h2m7 0h2m1 0h1m7 0h1m1 0h1m21 0h1m40 0h1M5 226.5h1m3 0h1m1 0h53m1 0h3m1 0h1m8 0h1m2 0h1m1 0h1m2 0h2m5 0h2m3 0h1m5 0h3m10 0h2m7 0h1m27 0h1m3 0h1M4 227.5h2m1 0h1m2 0h1m2 0h1m1 0h53m1 0h3m2 0h1m4 0h1m2 0h2m1 0h1m1 0h1m4 0h1m11 0h1m5 0h1m7 0h1m40 0h1m68 0h1M4 228.5h1m5 0h1m2 0h2m1 0h51m1 0h3m8 0h1m3 0h2m9 0h1m8 0h2m4 0h1m6 0h1m2 0h1m2 0h1m35 0h1M11 229.5h1m2 0h52m2 0h3m3 0h1m1 0h1m4 0h2m3 0h2m9 0h2m1 0h1m1 0h3m8 0h1m11 0h2m19 0h1M5 230.5h1m2 0h2m2 0h53m1 0h1m2 0h1m5 0h1m1 0h2m4 0h1m6 0h1m2 0h1m4 0h1m1 0h1m8 0h1m3 0h2m32 0h1M5 231.5h1m3 0h1m3 0h51m1 0h8m8 0h1m4 0h1m2 0h2m4 0h1m2 0h1m17 0h2m20 0h1m2 0h1m5 0h1m5 0h1M8 232.5h2m1 0h5m1 0h52m1 0h3m1 0h1m6 0h1m4 0h1m16 0h1m2 0h1m3 0h1m1 0h1m4 0h1m1 0h1m29 0h1m45 0h1M5 233.5h1m1 0h2m2 0h1m2 0h51m1 0h2m1 0h1m2 0h1m12 0h2m2 0h1m3 0h1m1 0h1m7 0h1m9 0h1m9 0h1m47 0h1M8 234.5h1m1 0h1m1 0h54m1 0h1m4 0h1m1 0h1m12 0h1m7 0h1m3 0h1m16 0h2m7 0h1m10 0h1m10 0h1m96 0h1M2 235.5h2m5 0h59m10 0h2m3 0h1m3 0h1m3 0h1m2 0h1m5 0h2m3 0h1m1 0h1m5 0h1m1 0h1M6 236.5h1m3 0h1m1 0h1m1 0h1m1 0h1m1 0h49m3 0h1m1 0h2m1 0h1m2 0h2m1 0h1m6 0h1m3 0h1m5 0h1m3 0h2m24 0h1M4 237.5h1m1 0h1m2 0h3m1 0h1m1 0h54m8 0h2m1 0h1m1 0h1m4 0h1m7 0h1m14 0h1m2 0h1m3 0h1m1 0h1M9 238.5h1m1 0h53m2 0h3m1 0h2m3 0h1m7 0h1m11 0h1m23 0h1M10 239.5h1m2 0h45m2 0h4m1 0h2m4 0h4m2 0h1m4 0h2m3 0h1m2 0h1m4 0h1m4 0h1m11 0h1m13 0h1m68 0h1M10 240.5h2m1 0h54m6 0h1m1 0h2m19 0h1m3 0h2m9 0h1m104 0h1M3 241.5h1m1 0h1m6 0h2m1 0h2m1 0h42m2 0h4m1 0h1m1 0h1m2 0h2m6 0h1m3 0h1m2 0h1m2 0h1m8 0h1m10 0h1m4 0h2m7 0h2m12 0h1m90 0h1M3 242.5h1m3 0h4m3 0h47m1 0h1m1 0h1m3 0h1m8 0h1m3 0h1m3 0h3m2 0h1m1 0h1m2 0h1m2 0h1m5 0h1m4 0h1m15 0h1m57 0h1m11 0h1m2 0h1m5 0h1M5 243.5h2m2 0h3m3 0h47m2 0h1m4 0h2m8 0h1m6 0h1m2 0h1m9 0h1m4 0h1M6 244.5h1m4 0h3m1 0h1m1 0h1m1 0h44m3 0h2m10 0h1m7 0h1m1 0h1m6 0h1m15 0h1m59 0h1m23 0h1M6 245.5h1m2 0h2m6 0h43m1 0h2m1 0h2m1 0h3m17 0h1m7 0h1m3 0h1m18 0h1m34 0h1m66 0h1M10 246.5h2m1 0h1m1 0h3m2 0h1m1 0h43m1 0h5m5 0h1m6 0h1m5 0h1m3 0h1m3 0h1m1 0h1m11 0h1m80 0h1M7 247.5h2m2 0h1m4 0h52m2 0h1m3 0h1m1 0h1m6 0h2m6 0h1m1 0h1m5 0h1m15 0h1m21 0h1M14 248.5h1m1 0h4m1 0h39m1 0h1m1 0h2m6 0h1m1 0h1m2 0h2m3 0h1m7 0h1m24 0h2M11 249.5h2m1 0h1m1 0h2m2 0h3m1 0h35m1 0h2m2 0h1m4 0h2m1 0h1m3 0h1m6 0h1m2 0h1m8 0h2M8 250.5h1m2 0h1m1 0h1m1 0h3m1 0h37m1 0h1m1 0h4m2 0h1m2 0h1m2 0h1m1 0h1m19 0h1M10 251.5h2m2 0h8m1 0h10m1 0h26m2 0h1m4 0h1m4 0h1m11 0h1m8 0h1m14 0h1m10 0h1m43 0h1m51 0h1M10 252.5h1m4 0h1m1 0h1m1 0h2m1 0h31m2 0h5m1 0h2m1 0h1m7 0h2m28 0h1m85 0h1"/>
<path stroke="#3a62b3" d="M37 208.5h6M35 209.5h10M33 210.5h14M31 211.5h17M31 212.5h18M30 213.5h20M29 214.5h22M28 215.5h24M28 216.5h24M27 217.5h25M27 218.5h26M26 219.5h27M26 220.5h28M25 221.5h29M26 222.5h29M26 223.5h29M25 224.5h29M25 225.5h30M25 226.5h30M25 227.5h30M25 228.5h30M25 229.5h30M25 230.5h30M25 231.5h30M25 232.5h30M25 233.5h29M26 234.5h28M26 235.5h28M26 236.5h27M26 237.5h27M27 238.5h26M27 239.5h25M28 240.5h24M29 241.5h22M30 242.5h20M31 243.5h18M32 244.5h16M32 245.5h14M34 246.5h11M36 247.5h3m1 0h2"/>
<path stroke="#3c70c0" d="M36 209.5h7M34 210.5h12M32 211.5h16M31 212.5h17M30 213.5h19M29 214.5h21M29 215.5h22M28 216.5h24M28 217.5h24M27 218.5h25M27 219.5h26M26 220.5h27M26 221.5h27M26 222.5h28M26 223.5h28M26 224.5h28M26 225.5h28M26 226.5h28M25 227.5h29M26 228.5h28M26 229.5h29M26 230.5h28M26 231.5h28M26 232.5h28M26 233.5h28M26 234.5h28M27 235.5h26M27 236.5h25M27 237.5h25M28 238.5h24M28 239.5h24M28 240.5h23M30 241.5h20M31 242.5h18M32 243.5h17M32 244.5h15M34 245.5h11M35 246.5h9"/>
<path stroke="#3e84cc" d="M38 209.5h4M35 210.5h9M33 211.5h13M32 212.5h16M31 213.5h17M30 214.5h19M29 215.5h21M29 216.5h22M28 217.5h24M28 218.5h24M27 219.5h25M27 220.5h26M27 221.5h26M27 222.5h26M27 223.5h26M26 224.5h27M26 225.5h28M26 226.5h28M26 227.5h28M26 228.5h28M26 229.5h28M26 230.5h28M26 231.5h28M26 232.5h27M27 233.5h26M27 234.5h26M27 235.5h25M28 236.5h24M28 237.5h24M28 238.5h23M28 239.5h23M29 240.5h21M30 241.5h19M31 242.5h18M33 243.5h14M33 244.5h13M35 245.5h9"/>
<path stroke="#3f98d7" d="M36 210.5h7M34 211.5h11M33 212.5h14M32 213.5h16M31 214.5h18M30 215.5h19M30 216.5h20M29 217.5h22M28 218.5h24M28 219.5h24M27 220.5h25M27 221.5h25M27 222.5h26M27 223.5h26M27 224.5h26M27 225.5h26M27 226.5h27M27 227.5h27M27 228.5h26M27 229.5h26M27 230.5h26M27 231.5h26M27 232.5h26M27 233.5h26M27 234.5h25M28 235.5h24M28 236.5h23M29 237.5h22M29 238.5h22M29 239.5h21M30 240.5h20M31 241.5h18M32 242.5h16M33 243.5h13M35 244.5h9M37 245.5h1m2 0h3"/>
<path stroke="#41abe1" d="M37 210.5h5M35 211.5h9M33 212.5h13M32 213.5h15M31 214.5h17M30 215.5h19M30 216.5h20M29 217.5h22M28 218.5h23M28 219.5h23M28 220.5h24M28 221.5h24M27 222.5h25M27 223.5h25M27 224.5h26M27 225.5h26M27 226.5h26M27 227.5h26M27 228.5h26M27 229.5h26M27 230.5h26M27 231.5h26M27 232.5h26M27 233.5h25M28 234.5h24M28 235.5h23M29 236.5h22M29 237.5h22M30 238.5h20M29 239.5h21M30 240.5h19M31 241.5h17M33 242.5h14M34 243.5h11M36 244.5h8"/>
<path stroke="#42bbea" d="M39 210.5h2M36 211.5h7M33 212.5h12M33 213.5h14M32 214.5h16M31 215.5h18M30 216.5h19M30 217.5h20M29 218.5h22M29 219.5h22M29 220.5h22M28 221.5h24M28 222.5h24M28 223.5h24M27 224.5h25M27 225.5h26M27 226.5h26M27 227.5h26M27 228.5h26M27 229.5h26M27 230.5h26M27 231.5h26M27 232.5h25M28 233.5h24M28 234.5h23M29 235.5h22M29 236.5h22M30 237.5h20M30 238.5h20M30 239.5h19M31 240.5h18M32 241.5h16M34 242.5h12M35 243.5h9M37 244.5h5"/>
<path stroke="#42c0ec" d="M37 211.5h5M34 212.5h11M33 213.5h13M32 214.5h15M31 215.5h17M31 216.5h18M30 217.5h20M29 218.5h21M29 219.5h22M29 220.5h22M29 221.5h22M28 222.5h23M28 223.5h24M28 224.5h24M28 225.5h24M28 226.5h25M28 227.5h25M27 228.5h25M27 229.5h25M28 230.5h24M28 231.5h24M28 232.5h24M28 233.5h23M28 234.5h23M29 235.5h22M30 236.5h20M30 237.5h20M30 238.5h19M31 239.5h18M31 240.5h17M33 241.5h14M34 242.5h11M36 243.5h7"/>
<path stroke="#43c6ee" d="M38 211.5h3M36 212.5h8M34 213.5h11M33 214.5h14M32 215.5h16M31 216.5h18M31 217.5h18M30 218.5h20M29 219.5h21M29 220.5h22M29 221.5h22M28 222.5h23M28 223.5h23M28 224.5h24M28 225.5h24M28 226.5h24M28 227.5h24M28 228.5h24M28 229.5h24M28 230.5h24M28 231.5h24M28 232.5h24M28 233.5h23M29 234.5h22M29 235.5h21M30 236.5h20M30 237.5h20M31 238.5h18M31 239.5h18M32 240.5h16M34 241.5h12M35 242.5h10M37 243.5h5"/>
<path stroke="#4bc6de" d="M37 212.5h6M35 213.5h9M34 214.5h12M32 215.5h15M31 216.5h17M31 217.5h18M31 218.5h19M30 219.5h20M30 220.5h20M29 221.5h22M29 222.5h22M29 223.5h22M29 224.5h22M29 225.5h22M28 226.5h24M28 227.5h24M28 228.5h24M28 229.5h24M28 230.5h24M29 231.5h23M29 232.5h22M29 233.5h22M29 234.5h21M30 235.5h20M30 236.5h20M31 237.5h18M32 238.5h17M32 239.5h16M33 240.5h14M35 241.5h10M36 242.5h7"/>
<path stroke="#53c5ce" d="M38 212.5h4M36 213.5h8M34 214.5h11M33 215.5h14M32 216.5h16M32 217.5h16M31 218.5h18M31 219.5h19M30 220.5h20M30 221.5h20M29 222.5h21M29 223.5h22M29 224.5h22M29 225.5h22M29 226.5h22M29 227.5h22M28 228.5h23M28 229.5h23M29 230.5h22M29 231.5h22M29 232.5h22M29 233.5h21M30 234.5h20M30 235.5h20M31 236.5h18M32 237.5h17M32 238.5h16M33 239.5h15M34 240.5h11M35 241.5h9M37 242.5h5"/>
<path stroke="#5ac4ba" d="M37 213.5h6M35 214.5h9M33 215.5h13M33 216.5h14M32 217.5h16M32 218.5h17M31 219.5h18M31 220.5h18M30 221.5h20M30 222.5h20M29 223.5h21M30 224.5h21M30 225.5h21M29 226.5h22M29 227.5h22M29 228.5h22M29 229.5h22M29 230.5h22M29 231.5h22M29 232.5h21M30 233.5h20M30 234.5h20M31 235.5h18M31 236.5h18M32 237.5h16M33 238.5h15M34 239.5h13M35 240.5h9M36 241.5h7"/>
<path stroke="#61c39e" d="M38 213.5h4M36 214.5h8M34 215.5h11M33 216.5h14M32 217.5h15M32 218.5h16M32 219.5h17M31 220.5h18M31 221.5h18M30 222.5h20M30 223.5h20M30 224.5h20M30 225.5h20M30 226.5h20M29 227.5h21M29 228.5h22M29 229.5h22M29 230.5h22M30 231.5h20M30 232.5h20M30 233.5h20M31 234.5h18M31 235.5h18M32 236.5h17M32 237.5h16M33 238.5h14M34 239.5h12M36 240.5h8M37 241.5h5"/>
<path stroke="#67c181" d="M36 214.5h8M35 215.5h10M34 216.5h12M33 217.5h14M32 218.5h16M32 219.5h16M31 220.5h18M31 221.5h18M31 222.5h18M30 223.5h20M30 224.5h20M30 225.5h20M30 226.5h20M30 227.5h20M30 228.5h20M30 229.5h20M30 230.5h20M30 231.5h20M30 232.5h20M31 233.5h18M31 234.5h18M32 235.5h17M32 236.5h16M33 237.5h15M34 238.5h13M35 239.5h10M36 240.5h7M38 241.5h2"/>
<path stroke="#6cc067" d="M37 214.5h6M35 215.5h9M34 216.5h11M33 217.5h13M33 218.5h14M32 219.5h16M32 220.5h16M31 221.5h18M31 222.5h18M31 223.5h18M30 224.5h19M30 225.5h20M30 226.5h20M30 227.5h20M30 228.5h20M30 229.5h20M30 230.5h20M30 231.5h20M30 232.5h19M31 233.5h18M32 234.5h17M32 235.5h16M33 236.5h15M33 237.5h14M34 238.5h12M35 239.5h9M37 240.5h5"/>
<path stroke="#6cbf54" d="M38 214.5h3M36 215.5h8M34 216.5h11M34 217.5h12M33 218.5h14M33 219.5h15M32 220.5h16M32 221.5h16M31 222.5h18M31 223.5h18M31 224.5h18M31 225.5h18M31 226.5h18M30 227.5h19M30 228.5h20M30 229.5h20M30 230.5h20M31 231.5h19M31 232.5h18M31 233.5h18M32 234.5h16M33 235.5h15M33 236.5h15M33 237.5h14M35 238.5h10M36 239.5h7M37 240.5h4"/>
<path stroke="#75c147" d="M37 217.5h5M36 218.5h8M35 219.5h10M34 220.5h12M34 221.5h12M33 222.5h14M33 223.5h14M33 224.5h14M33 225.5h14M32 226.5h15M33 227.5h14M33 228.5h14M33 229.5h14M33 230.5h14M33 231.5h14M33 232.5h13M34 233.5h12M34 234.5h12M35 235.5h10M37 236.5h7M38 237.5h4"/>
<path stroke="#80c442" d="M38 219.5h4M36 220.5h8M36 221.5h8M35 222.5h10M35 223.5h10M34 224.5h11M34 225.5h12M34 226.5h12M34 227.5h12M34 228.5h12M35 229.5h10M35 230.5h10M35 231.5h10M36 232.5h8M36 233.5h8M38 234.5h4"/>
<path stroke="#a1cf37" d="M38 219.5h4M37 220.5h6M36 221.5h8M36 222.5h8M35 223.5h10M35 224.5h10M34 225.5h11M34 226.5h12M34 227.5h12M35 228.5h10M35 229.5h10M35 230.5h10M36 231.5h9M36 232.5h8M37 233.5h6M39 234.5h3"/>
<path stroke="#c2da2d" d="M39 219.5h2M37 220.5h5M36 221.5h8M36 222.5h8M35 223.5h9M35 224.5h10M35 225.5h10M35 226.5h10M35 227.5h10M35 228.5h10M35 229.5h10M36 230.5h9M36 231.5h8M37 232.5h7M37 233.5h5"/>
<path stroke="#dee422" d="M38 220.5h4M37 221.5h6M36 222.5h8M36 223.5h8M35 224.5h10M35 225.5h10M35 226.5h10M35 227.5h10M35 228.5h10M36 229.5h9M36 230.5h8M36 231.5h8M37 232.5h6M38 233.5h4"/>
<path stroke="#fbee16" d="M38 220.5h3M37 221.5h6M37 222.5h7M36 223.5h8M36 224.5h8M35 225.5h10M35 226.5h10M35 227.5h10M36 228.5h8M36 229.5h8M36 230.5h8M37 231.5h7M37 232.5h6M39 233.5h2"/>
<path stroke="#fad818" d="M39 220.5h2M38 221.5h4M37 222.5h6M36 223.5h8M36 224.5h8M36 225.5h8M36 226.5h8M36 227.5h8M36 228.5h8M36 229.5h8M37 230.5h7M37 231.5h6M38 232.5h4"/>
<path stroke="#fac119" d="M38 221.5h4M37 222.5h6M37 223.5h6M36 224.5h8M36 225.5h8M36 226.5h8M36 227.5h8M36 228.5h8M36 229.5h8M37 230.5h6M37 231.5h6M38 232.5h4"/>
<path stroke="#f9ab1b" d="M38 221.5h3M37 222.5h5M37 223.5h6M36 224.5h8M36 225.5h8M36 226.5h8M36 227.5h8M36 228.5h8M37 229.5h7M37 230.5h6M38 231.5h5M39 232.5h2"/>
<path stroke="#f7951d" d="M39 221.5h2M38 222.5h4M37 223.5h6M37 224.5h6M36 225.5h8M36 226.5h8M36 227.5h8M37 228.5h6M37 229.5h6M37 230.5h6M38 231.5h4"/>
<path stroke="#f48020" d="M38 222.5h4M37 223.5h5M37 224.5h6M37 225.5h6M37 226.5h6M37 227.5h6M37 228.5h6M37 229.5h6M38 230.5h5M38 231.5h4"/>
<path stroke="#f26a22" d="M39 222.5h2M38 223.5h4M37 224.5h6M37 225.5h6M37 226.5h6M37 227.5h6M37 228.5h6M37 229.5h6M38 230.5h4M39 231.5h2"/>
<path stroke="#f04323" d="M38 223.5h4M38 224.5h4M37 225.5h6M37 226.5h6M37 227.5h6M37 228.5h6M38 229.5h5M38 230.5h4"/>
<path stroke="#ed1c24" d="M39 223.5h2M38 224.5h4M38 225.5h4M38 226.5h5M37 227.5h5M38 228.5h4M38 229.5h4M39 230.5h2"/>
</g>
<path d="M1878.5 882.5 2034.2 784.4 2086.2 772.4 2088.7 962.1 1878.5 963.4Z" fill="none" stroke="#000" stroke-width="2.6" stroke-linejoin="miter"/>
<rect x="1763.6" y="628.6" width="338.1" height="336.2" fill="none" stroke="#000" stroke-width="2.2"/>
<path d="M1762.6 925h-9.5M1762.6 916.71h-4M1762.6 932.35h-4M1762.6 911.42h-4M1762.6 937.04h-4M1762.6 907.9h-4M1762.6 940.16h-4M1762.6 905.3h-4M1762.6 942.47h-4M1762.6 903.25h-4M1762.6 944.28h-4M1762.6 901.56h-4M1762.6 945.78h-4M1762.6 900.13h-4M1762.6 947.05h-4M1762.6 898.89h-4M1762.6 948.15h-4M1762.6 897.79h-4M1762.6 949.13h-4M1762.6 896.8h-9.5M1762.6 950h-9.5M1762.6 872.67h-4M1762.6 955.76h-4M1762.6 858.52h-4M1762.6 959.14h-4M1762.6 848.48h-4M1762.6 961.54h-4M1762.6 840.7h-4M1762.6 963.4h-4M1762.6 834.33h-4M1762.6 964.92h-4M1762.6 828.95h-4M1762.6 824.29h-4M1762.6 820.18h-4M1762.6 816.5h-9.5M1762.6 792.54h-4M1762.6 778.52h-4M1762.6 768.58h-4M1762.6 760.86h-4M1762.6 754.56h-4M1762.6 749.23h-4M1762.6 744.61h-4M1762.6 740.54h-4M1762.6 736.9h-9.5M1762.6 713.75h-4M1762.6 700.21h-4M1762.6 690.6h-4M1762.6 683.15h-4M1762.6 677.06h-4M1762.6 671.91h-4M1762.6 667.45h-4M1762.6 663.52h-4M1762.6 660h-9.5M1762.6 636.85h-4M1762.6 636.85h-4M1820.5 965.8v9.5M1824.85 965.8v4M1816.56 965.8v4M1827.63 965.8v4M1814.05 965.8v4M1829.48 965.8v4M1812.37 965.8v4M1830.84 965.8v4M1811.14 965.8v4M1831.91 965.8v4M1810.16 965.8v4M1832.8 965.8v4M1809.36 965.8v4M1833.55 965.8v4M1808.68 965.8v4M1834.21 965.8v4M1808.09 965.8v4M1834.78 965.8v4M1807.57 965.8v4M1835.3 965.8v9.5M1807.1 965.8v9.5M1856.4 965.8v4M1804.01 965.8v4M1868.76 965.8v4M1802.2 965.8v4M1877.54 965.8v4M1800.91 965.8v4M1884.35 965.8v4M1799.92 965.8v4M1889.91 965.8v4M1799.1 965.8v4M1894.62 965.8v4M1798.41 965.8v4M1898.69 965.8v4M1797.82 965.8v4M1902.28 965.8v4M1797.29 965.8v4M1905.5 965.8v9.5M1796.82 965.8v9.5M1931.15 965.8v4M1793.72 965.8v4M1946.15 965.8v4M1791.91 965.8v4M1956.8 965.8v4M1790.62 965.8v4M1965.05 965.8v4M1789.63 965.8v4M1971.8 965.8v4M1788.81 965.8v4M1977.5 965.8v4M1788.12 965.8v4M1982.44 965.8v4M1787.53 965.8v4M1986.8 965.8v4M1787 965.8v4M1990.7 965.8v9.5M1786.53 965.8v9.5M2014.12 965.8v4M1783.43 965.8v4M2027.82 965.8v4M1781.62 965.8v4M2037.54 965.8v4M1780.33 965.8v4M2045.08 965.8v4M1779.34 965.8v4M2051.24 965.8v4M1778.52 965.8v4M2056.45 965.8v4M1777.83 965.8v4M2060.96 965.8v4M1777.24 965.8v4M2064.94 965.8v4M1776.71 965.8v4M2068.5 965.8v9.5M1776.24 965.8v9.5M2091.92 965.8v4M1773.14 965.8v4M1771.33 965.8v4M1770.04 965.8v4M1769.05 965.8v4M1768.23 965.8v4M1767.54 965.8v4M1766.94 965.8v4M1766.42 965.8v4M2091.92 965.8v4" stroke="#000" stroke-width="2" fill="none"/>
<text x="1731.6" y="680.8" text-anchor="end" textLength="32.8" lengthAdjust="spacingAndGlyphs">10</text>
<text x="1733.1" y="660.2">5</text>
<text x="1731.6" y="757.7" text-anchor="end" textLength="32.8" lengthAdjust="spacingAndGlyphs">10</text>
<text x="1733.1" y="737.1">4</text>
<text x="1731.6" y="837.3" text-anchor="end" textLength="32.8" lengthAdjust="spacingAndGlyphs">10</text>
<text x="1733.1" y="816.7">3</text>
<text x="1731.4" y="939.5" text-anchor="end">0</text>
<text x="1822" y="1015.6" text-anchor="middle">0</text>
<text x="1895.1" y="1015.6" textLength="32.8" lengthAdjust="spacingAndGlyphs">10</text>
<text x="1929.4" y="994.8">3</text>
<text x="1980.3" y="1015.6" textLength="32.8" lengthAdjust="spacingAndGlyphs">10</text>
<text x="2014.6" y="994.8">4</text>
<text x="2051.1" y="1015.6" textLength="32.8" lengthAdjust="spacingAndGlyphs">10</text>
<text x="2085.4" y="994.8">5</text>
<text x="1938.3" y="604.2" text-anchor="middle" fill="#1e1e1e" style="font-size:33px">IgG+ IgA+ IgM-</text>
<text x="1931" y="1071.5" text-anchor="middle">BV421: H5 Indo/05</text>
<text x="1656.5" y="796" text-anchor="middle" transform="rotate(-90 1656.5 796)">BUV737: H5 stem</text>
<g transform="translate(1777.6 1240.7) scale(1.32)" shape-rendering="crispEdges" fill="none" stroke-width="1">
<path stroke="#3854a6" d="M101 78.5h1m75 0h1M48 79.5h1m53 0h1m2 0h1m73 0h1m7 0h1M60 80.5h1m38 0h1m2 0h1m1 0h1m2 0h1M100 81.5h1m3 0h1M63 82.5h1m37 0h2m2 0h1M103 83.5h1m22 0h1M31 84.5h1m35 0h1m29 0h1m3 0h1m3 0h2m66 0h1M99 85.5h1m1 0h2m1 0h1m4 0h1m44 0h1M41 86.5h2m8 0h1m41 0h1m5 0h3m4 0h1m48 0h1M42 87.5h1m3 0h1m16 0h1m31 0h1m10 0h1m74 0h1M31 88.5h1m7 0h1m51 0h1m3 0h1m1 0h1m8 0h1M54 89.5h1m20 0h1m19 0h1m2 0h1m1 0h1M54 90.5h1m4 0h1m11 0h2m14 0h1m4 0h1m6 0h1m90 0h1M52 91.5h1m35 0h1m6 0h1m2 0h1m2 0h1m4 0h1m19 0h1m4 0h1m42 0h1M38 92.5h1m23 0h1m12 0h1m9 0h1m5 0h1m2 0h2m1 0h1m1 0h2m12 0h1m5 0h1M41 93.5h1m33 0h1m11 0h1m2 0h2m3 0h1m10 0h1m39 0h1m13 0h1M39 94.5h1m6 0h1m33 0h1m3 0h1m2 0h1m4 0h1m5 0h1m1 0h1m9 0h1m29 0h1m41 0h1M49 95.5h1m20 0h1m14 0h1m32 0h1m12 0h1m15 0h1m34 0h1M62 96.5h1m7 0h1m12 0h1m7 0h1m4 0h2m2 0h1m85 0h1m12 0h1M34 97.5h1m18 0h1m20 0h1m9 0h1m3 0h1m29 0h1m32 0h1M33 98.5h1m34 0h1m3 0h1m2 0h1m8 0h4m2 0h1m21 0h1m14 0h1m63 0h2M55 99.5h1m30 0h1m1 0h1m6 0h1m18 0h1m38 0h1m15 0h1m7 0h1M40 100.5h1m5 0h1m2 0h1m5 0h1m23 0h1m6 0h1m2 0h1m41 0h1m17 0h1M53 101.5h1m1 0h1m15 0h3m5 0h1m13 0h1m74 0h1m8 0h1m11 0h2M51 102.5h1m11 0h1m18 0h1m7 0h1m31 0h1m2 0h2m1 0h1m19 0h1m25 0h1M41 103.5h1m35 0h1m1 0h3m51 0h1m43 0h1m4 0h1M81 104.5h2m6 0h1m2 0h1m70 0h1m20 0h1M39 105.5h1m7 0h1m17 0h1m8 0h1m3 0h1m50 0h1m37 0h1M50 106.5h1m13 0h1m16 0h1m2 0h1m1 0h1m2 0h1m57 0h1m45 0h1M46 107.5h2m4 0h1m18 0h1m4 0h1m2 0h1m1 0h1m1 0h1m36 0h2M46 108.5h1m7 0h2m4 0h2m13 0h1m3 0h1m2 0h2m2 0h1m2 0h1m69 0h1M39 109.5h2m12 0h1m1 0h1m6 0h1m11 0h1m2 0h1m5 0h1m68 0h1m14 0h1m15 0h1M45 110.5h1m28 0h1m3 0h2m1 0h1m22 0h1m16 0h1M33 111.5h1m8 0h1m2 0h1m11 0h1m9 0h1m5 0h1m1 0h2m1 0h2m1 0h1m47 0h1m18 0h2M43 112.5h1m3 0h1m6 0h1m3 0h1m4 0h1m5 0h1m4 0h3m11 0h1m50 0h1m45 0h1M74 113.5h3m2 0h1m2 0h1M68 114.5h1m2 0h1m4 0h1m4 0h1m3 0h1m37 0h1m14 0h1m6 0h1M41 115.5h1m6 0h1m18 0h2m3 0h1m4 0h1m1 0h1m52 0h1m33 0h1M44 116.5h1m15 0h1m9 0h1m4 0h1m45 0h1M39 117.5h1m27 0h1m1 0h1m2 0h1m3 0h2m56 0h1m17 0h1M35 118.5h1m3 0h1m9 0h2m2 0h2m3 0h1m5 0h1m10 0h1m76 0h1m13 0h1m5 0h1M43 119.5h1m18 0h1m7 0h1m1 0h1m1 0h1m41 0h1m22 0h1m2 0h1M42 120.5h1m10 0h1m9 0h1m5 0h1m3 0h1m1 0h1m2 0h1m91 0h1m16 0h1M45 121.5h1m9 0h1m7 0h1m7 0h2m7 0h1m60 0h1m9 0h1M36 122.5h1m13 0h1m20 0h3m39 0h1m34 0h1M58 123.5h1m6 0h1m3 0h1m2 0h1m1 0h2m96 0h1M73 124.5h1m51 0h1m10 0h1m2 0h1m8 0h1m32 0h1M44 125.5h1m16 0h1m5 0h1m6 0h1m43 0h1m4 0h1m4 0h1m7 0h1m17 0h1m9 0h1m13 0h1M41 126.5h1m6 0h1m11 0h1m1 0h1m97 0h1m35 0h1m7 0h1M41 127.5h1m3 0h1m16 0h1m8 0h1m62 0h1m34 0h1m5 0h1m7 0h1m9 0h1M40 128.5h1m1 0h1m5 0h1m24 0h2m50 0h1m1 0h1m2 0h1m83 0h1M49 129.5h1m72 0h1m26 0h1m3 0h1M38 130.5h1m123 0h1m40 0h1M38 131.5h1m21 0h1m17 0h1m49 0h1m65 0h1m5 0h1M46 132.5h1m16 0h1m15 0h1m35 0h1m3 0h1M45 133.5h2m2 0h1m23 0h1m106 0h1m9 0h1M46 134.5h1m9 0h1m1 0h1m5 0h1m3 0h1m5 0h1M46 135.5h1m1 0h1m3 0h1m55 0h1m79 0h1M47 136.5h1m1 0h1m23 0h1m12 0h1m1 0h1m95 0h1m19 0h1M34 137.5h1m6 0h1m1 0h1m5 0h1m8 0h1m1 0h1m13 0h1m64 0h1m39 0h1M37 138.5h1m28 0h1m112 0h1M44 139.5h1m1 0h1m22 0h1m1 0h1m109 0h3M33 140.5h1m8 0h1m12 0h2m10 0h1m7 0h1m3 0h2m36 0h1M60 141.5h1m7 0h1m113 0h1M37 142.5h1m8 0h2m3 0h1m9 0h1m2 0h1m12 0h1m2 0h1M160 143.5h1m34 0h1M40 144.5h1m16 0h1m11 0h1m9 0h1m1 0h1m2 0h1m42 0h1m24 0h1M40 145.5h1m17 0h2m12 0h1m2 0h1m89 0h1M42 146.5h1m18 0h1m19 0h1m109 0h1M58 147.5h1m4 0h1m25 0h1m89 0h1m2 0h1M49 148.5h1m31 0h1m3 0h1m64 0h1m39 0h1M46 149.5h1m12 0h2m2 0h1m2 0h1M42 150.5h1m14 0h1m10 0h1m2 0h1m1 0h1M37 151.5h1m19 0h1m24 0h1M52 152.5h1m2 0h1m5 0h1m6 0h1m3 0h1m5 0h1m133 0h1M40 153.5h1m14 0h1m5 0h1m1 0h1m2 0h1m5 0h1m133 0h1M53 154.5h2m25 0h1m116 0h1M45 155.5h1m4 0h1m14 0h1m17 0h1m73 0h1M43 156.5h1m1 0h1m5 0h1M38 157.5h1m12 0h1M82 158.5h1m1 0h1M38 159.5h1m5 0h1m1 0h2m8 0h1m10 0h1m11 0h1m4 0h1M52 160.5h1m8 0h1m66 0h1m5 0h1m16 0h1M39 161.5h1m21 0h1m3 0h1M48 162.5h1m21 0h1m1 0h1m16 0h1m57 0h1m5 0h1m45 0h1M44 163.5h1M56 164.5h1m5 0h1m2 0h1m5 0h1M44 165.5h1m5 0h1m5 0h1m2 0h1m4 0h1m3 0h1m1 0h1m7 0h1m120 0h1M38 166.5h1m18 0h1m6 0h1m17 0h1m77 0h1M61 167.5h1m6 0h1m12 0h1m87 0h1m20 0h1M41 168.5h1m3 0h1m4 0h1m5 0h1m9 0h1m9 0h1m107 0h1M158 169.5h1m3 0h1m17 0h1M60 170.5h1m8 0h1m7 0h1m128 0h1M49 171.5h1m35 0h1m108 0h1M43 172.5h1m1 0h1m7 0h1m22 0h1m116 0h1M55 173.5h2m24 0h1M35 174.5h1m19 0h1m12 0h1m1 0h1m125 0h1M50 175.5h1m9 0h1m2 0h1m2 0h2m13 0h1m70 0h1M59 176.5h1m95 0h1M66 177.5h1m75 0h1m4 0h1M41 178.5h1m9 0h1m4 0h1m16 0h1m4 0h1m83 0h1m41 0h1M67 179.5h1m1 0h1m91 0h1M53 180.5h1m15 0h1M39 181.5h1m13 0h1m1 0h1m18 0h1m5 0h1m5 0h1m93 0h1M39 182.5h1m7 0h1m7 0h1m12 0h2m9 0h1m44 0h1m21 0h1m19 0h1M52 183.5h1M127 184.5h1M41 185.5h1m17 0h1m22 0h1m71 0h1m47 0h1M34 186.5h1m34 0h2m1 0h1M50 187.5h1m12 0h1m21 0h1m68 0h1M45 188.5h1m17 0h1m6 0h1m5 0h1M41 189.5h1m15 0h1m2 0h1m1 0h1m1 0h1m4 0h1m4 0h1m1 0h1m2 0h1m82 0h1M37 190.5h1m38 0h1m92 0h1M43 191.5h1m6 0h1m18 0h1m6 0h1m9 0h1M45 192.5h1m6 0h1m25 0h1m94 0h1m16 0h1M49 193.5h1m15 0h1m5 0h1m3 0h1m64 0h1m42 0h1M48 194.5h1m5 0h1m18 0h1m125 0h1M43 195.5h1m8 0h1m1 0h1m4 0h2m6 0h1m11 0h1m59 0h1M36 196.5h1m133 0h1M47 197.5h1m13 0h1m2 0h1M41 198.5h1m3 0h1m9 0h1m1 0h1m79 0h1m48 0h1m14 0h1M48 199.5h1m34 0h1m115 0h1M65 200.5h1m7 0h1M62 201.5h2m4 0h1m1 0h1M41 202.5h1m22 0h1m6 0h1m1 0h1m10 0h1M56 203.5h1m104 0h1M49 204.5h1m91 0h1M35 205.5h1M40 206.5h1m13 0h1m77 0h1m65 0h1M49 207.5h1m5 0h2m52 0h1M41 208.5h1m12 0h1m5 0h1m108 0h1m16 0h1M40 209.5h1m1 0h1m2 0h1m1 0h1m4 0h1m2 0h1m9 0h1m64 0h1m12 0h2M46 210.5h2m2 0h2m4 0h2M32 211.5h1m1 0h1m11 0h1m4 0h1m1 0h1m2 0h3m9 0h1M26 212.5h1m10 0h1m2 0h1m3 0h2m1 0h1m1 0h2m1 0h2m1 0h3m1 0h1m11 0h1m2 0h1M37 213.5h1m1 0h5m5 0h3m3 0h2m1 0h1m3 0h1m2 0h1m2 0h1m6 0h1M30 214.5h1m6 0h2m1 0h19m1 0h2m2 0h2m1 0h2m5 0h1m61 0h1M22 215.5h1m10 0h4m1 0h2m2 0h1m1 0h5m1 0h3m1 0h1m1 0h5m1 0h1m6 0h1m1 0h1m8 0h1m4 0h1m1 0h1m44 0h1M24 216.5h1m7 0h1m4 0h1m1 0h1m1 0h1m4 0h4m1 0h10m1 0h3m3 0h1m5 0h1m2 0h1m50 0h1M31 217.5h2m7 0h2m1 0h1m1 0h2m1 0h1m1 0h6m1 0h1m1 0h4m1 0h4m1 0h1m1 0h1m7 0h1m1 0h1m2 0h1m48 0h1m11 0h1M24 218.5h1m4 0h1m6 0h1m1 0h2m4 0h2m1 0h5m1 0h5m2 0h1m3 0h1m1 0h1m7 0h1m2 0h1m2 0h1m3 0h1m66 0h1M35 219.5h2m1 0h3m2 0h2m2 0h9m2 0h1m1 0h1m1 0h1m2 0h1m1 0h1m1 0h1m1 0h1m16 0h2m36 0h1M31 220.5h1m10 0h3m1 0h9m1 0h2m5 0h1m10 0h1m6 0h1M35 221.5h1m1 0h1m4 0h1m1 0h1m1 0h3m3 0h6m1 0h1m1 0h2m1 0h2m6 0h1m6 0h1M20 222.5h1m13 0h1m6 0h1m1 0h1m3 0h2m1 0h1m1 0h1m1 0h1m1 0h1m1 0h1m1 0h5m3 0h1m2 0h2m5 0h1m30 0h1m38 0h1M44 223.5h1m6 0h1m1 0h2m8 0h1m10 0h1m1 0h1m1 0h1m4 0h1M39 224.5h1m2 0h1m5 0h1m1 0h1m11 0h1m1 0h1m4 0h1m3 0h2m68 0h1M39 225.5h1m6 0h1m3 0h1m1 0h2m3 0h1m6 0h1m1 0h1m1 0h1m1 0h1m110 0h1M44 226.5h1m3 0h1m17 0h1m8 0h1m99 0h1M45 227.5h1m3 0h1m8 0h1m126 0h1M53 228.5h1m4 0h1M63 229.5h1M56 230.5h1M50 232.5h1"/>
<path stroke="#fbee16" d="M102 85.5h1M99 86.5h1M95 91.5h1M94 92.5h1M92 94.5h1M85 98.5h1M89 100.5h1M80 103.5h1M76 107.5h1m2 0h1M79 108.5h1m2 0h1M74 110.5h1M73 111.5h1M72 117.5h1M56 210.5h1M53 211.5h1m2 0h1M44 212.5h1m4 0h1m2 0h1m2 0h1M39 213.5h3m7 0h1m5 0h1m2 0h1M42 214.5h2m1 0h1m1 0h1m3 0h1m2 0h1m5 0h2M35 215.5h1m6 0h1m4 0h1m2 0h3m1 0h1m1 0h2m4 0h1M47 216.5h3m1 0h1m2 0h1m1 0h3M40 217.5h1m4 0h1m11 0h1m1 0h2m1 0h1m2 0h1m1 0h1M38 218.5h2m8 0h1m2 0h1m2 0h1m5 0h1m3 0h1M35 219.5h1m2 0h3m7 0h1m1 0h4m4 0h1m3 0h1m2 0h1M48 220.5h1m5 0h1m1 0h2M46 221.5h3m8 0h1m3 0h1m2 0h2M41 222.5h1m5 0h1m15 0h1M44 223.5h1M48 224.5h1"/>
<path stroke="#f6861f" d="M92 94.5h1M74 110.5h1M49 212.5h1M49 213.5h1m5 0h1M43 214.5h1m7 0h1M47 215.5h1m2 0h1m6 0h1M49 216.5h1m1 0h1m2 0h1m1 0h1M45 217.5h1m11 0h1m2 0h1M51 218.5h1m12 0h1M39 219.5h1m10 0h1M48 220.5h1m5 0h1m2 0h1"/>
<path stroke="#ed1c24" d="M45 217.5h1m11 0h1M54 220.5h1"/>
</g>
<path d="M1925.6 1329.2 2106.6 1329.2 2106.6 1568.4 1925.6 1568.4Z" fill="none" stroke="#000" stroke-width="2.6" stroke-linejoin="miter"/>
<rect x="1776.5" y="1239.6" width="336" height="337.7" fill="none" stroke="#000" stroke-width="2.2"/>
<path d="M1775.5 1526.4h-9.5M1775.5 1521.14h-4M1775.5 1532.16h-4M1775.5 1517.78h-4M1775.5 1535.84h-4M1775.5 1515.54h-4M1775.5 1538.29h-4M1775.5 1513.89h-4M1775.5 1540.09h-4M1775.5 1512.59h-4M1775.5 1541.52h-4M1775.5 1511.52h-4M1775.5 1542.69h-4M1775.5 1510.61h-4M1775.5 1543.69h-4M1775.5 1509.82h-4M1775.5 1544.55h-4M1775.5 1509.13h-4M1775.5 1545.32h-4M1775.5 1508.5h-9.5M1775.5 1546h-9.5M1775.5 1484.79h-4M1775.5 1550.52h-4M1775.5 1470.89h-4M1775.5 1553.17h-4M1775.5 1461.03h-4M1775.5 1555.05h-4M1775.5 1453.37h-4M1775.5 1556.51h-4M1775.5 1447.12h-4M1775.5 1557.7h-4M1775.5 1441.83h-4M1775.5 1558.7h-4M1775.5 1437.25h-4M1775.5 1559.58h-4M1775.5 1433.21h-4M1775.5 1560.35h-4M1775.5 1429.6h-9.5M1775.5 1561.04h-9.5M1775.5 1405.1h-4M1775.5 1565.57h-4M1775.5 1390.76h-4M1775.5 1568.22h-4M1775.5 1380.59h-4M1775.5 1570.1h-4M1775.5 1372.7h-4M1775.5 1571.56h-4M1775.5 1366.26h-4M1775.5 1572.75h-4M1775.5 1360.81h-4M1775.5 1573.76h-4M1775.5 1356.09h-4M1775.5 1574.63h-4M1775.5 1351.92h-4M1775.5 1575.4h-4M1775.5 1348.2h-9.5M1775.5 1576.09h-9.5M1775.5 1325.2h-4M1775.5 1311.75h-4M1775.5 1302.2h-4M1775.5 1294.8h-4M1775.5 1288.75h-4M1775.5 1283.63h-4M1775.5 1279.2h-4M1775.5 1275.3h-4M1775.5 1271.8h-9.5M1775.5 1248.8h-4M1775.5 1248.8h-4M1829 1578.3v9.5M1834 1578.3v4M1824.38 1578.3v4M1837.19 1578.3v4M1821.44 1578.3v4M1839.31 1578.3v4M1819.48 1578.3v4M1840.88 1578.3v4M1818.03 1578.3v4M1842.11 1578.3v4M1816.89 1578.3v4M1843.13 1578.3v4M1815.95 1578.3v4M1843.99 1578.3v4M1815.15 1578.3v4M1844.74 1578.3v4M1814.46 1578.3v4M1845.41 1578.3v4M1813.85 1578.3v4M1846 1578.3v9.5M1813.3 1578.3v9.5M1868.84 1578.3v4M1809.68 1578.3v4M1882.23 1578.3v4M1807.56 1578.3v4M1891.73 1578.3v4M1806.05 1578.3v4M1899.1 1578.3v4M1804.88 1578.3v4M1905.12 1578.3v4M1803.93 1578.3v4M1910.22 1578.3v4M1803.12 1578.3v4M1914.63 1578.3v4M1802.42 1578.3v4M1918.52 1578.3v4M1801.81 1578.3v4M1922 1578.3v9.5M1801.26 1578.3v9.5M1946.38 1578.3v4M1797.63 1578.3v4M1960.65 1578.3v4M1795.5 1578.3v4M1970.77 1578.3v4M1794 1578.3v4M1978.62 1578.3v4M1792.83 1578.3v4M1985.03 1578.3v4M1791.87 1578.3v4M1990.45 1578.3v4M1791.07 1578.3v4M1995.15 1578.3v4M1790.37 1578.3v4M1999.29 1578.3v4M1789.75 1578.3v4M2003 1578.3v9.5M1789.2 1578.3v9.5M2026.39 1578.3v4M1785.57 1578.3v4M2040.07 1578.3v4M1783.45 1578.3v4M2049.78 1578.3v4M1781.94 1578.3v4M2057.31 1578.3v4M1780.77 1578.3v4M2063.46 1578.3v4M1779.82 1578.3v4M2068.66 1578.3v4M1779.01 1578.3v4M2073.17 1578.3v4M1778.31 1578.3v4M2077.14 1578.3v4M1777.69 1578.3v4M2080.7 1578.3v9.5M1777.14 1578.3v9.5M2104.09 1578.3v4M2104.09 1578.3v4" stroke="#000" stroke-width="2" fill="none"/>
<text x="1744.5" y="1292.6" text-anchor="end" textLength="32.8" lengthAdjust="spacingAndGlyphs">10</text>
<text x="1746" y="1272">5</text>
<text x="1744.5" y="1369" text-anchor="end" textLength="32.8" lengthAdjust="spacingAndGlyphs">10</text>
<text x="1746" y="1348.4">4</text>
<text x="1744.5" y="1450.4" text-anchor="end" textLength="32.8" lengthAdjust="spacingAndGlyphs">10</text>
<text x="1746" y="1429.8">3</text>
<text x="1744.3" y="1540.9" text-anchor="end">0</text>
<text x="1830.5" y="1628.1" text-anchor="middle">0</text>
<text x="1911.6" y="1628.1" textLength="32.8" lengthAdjust="spacingAndGlyphs">10</text>
<text x="1945.9" y="1607.3">3</text>
<text x="1992.6" y="1628.1" textLength="32.8" lengthAdjust="spacingAndGlyphs">10</text>
<text x="2026.9" y="1607.3">4</text>
<text x="2061.9" y="1628.1" textLength="32.8" lengthAdjust="spacingAndGlyphs">10</text>
<text x="2096.2" y="1607.3">5</text>
<text x="1937.5" y="1218.9" text-anchor="middle" fill="#1e1e1e" style="font-size:33px">H5 Indo/05+ H5 Stem-</text>
<text x="1944" y="1682.7" text-anchor="middle">AF488: H5 TX/24</text>
<text x="1669.8" y="1409" text-anchor="middle" transform="rotate(-90 1669.8 1409)">BV711: H1 NC99-H1Cal09</text>
<path d="M2025.7 911.6L1955.6 1137" stroke="#1a1a1a" stroke-width="2.3" fill="none"/>
<path d="M1951.4 1155L1946.2 1132.2L1954.9 1138.6L1967.4 1139.4Z" fill="#1a1a1a"/>
<path d="M1879.5 882L2033.5 785" stroke="#000" stroke-width="6" stroke-linecap="round"/>
</svg>
</body></html>
